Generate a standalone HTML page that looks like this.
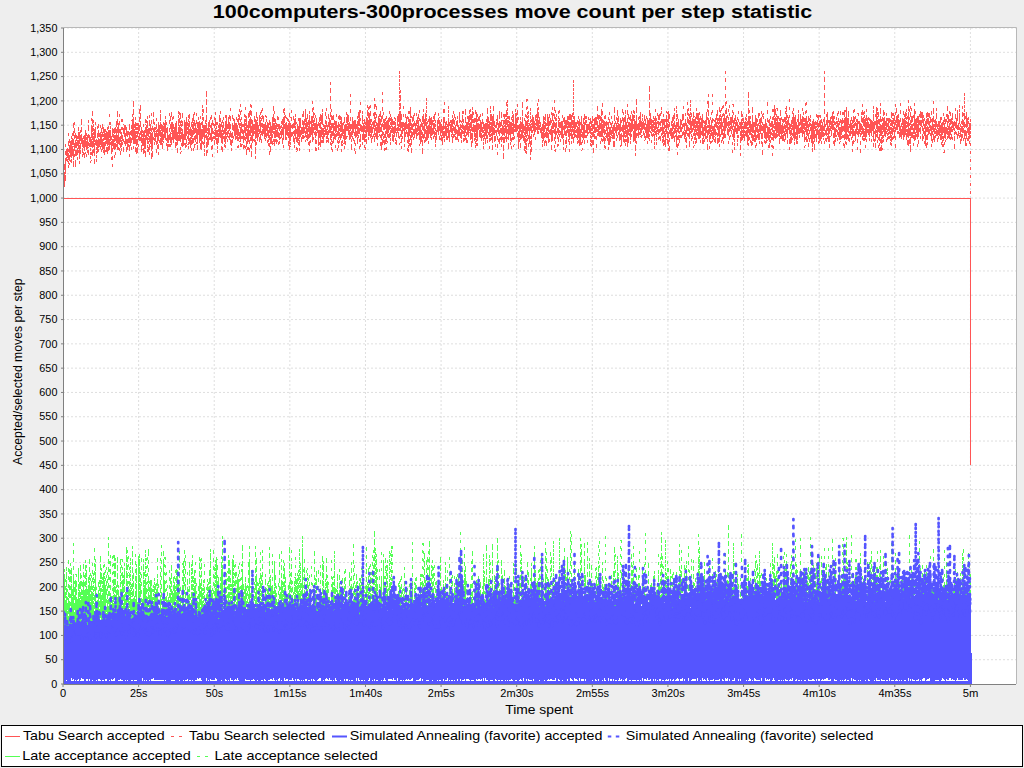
<!DOCTYPE html><html><head><meta charset="utf-8"><style>html,body{margin:0;padding:0;background:#eeeeee;width:1024px;height:768px;overflow:hidden}svg{display:block}text{font-family:"Liberation Sans",sans-serif}</style></head><body>
<svg width="1024" height="768" viewBox="0 0 1024 768">
<rect x="0" y="0" width="1024" height="768" fill="#eeeeee"/>
<text x="212.8" y="18.2" font-size="18.7" font-weight="bold" textLength="599.5" lengthAdjust="spacingAndGlyphs" fill="#000">100computers-300processes move count per step statistic</text>
<rect x="63" y="28" width="953" height="656" fill="#ffffff"/>
<path d="M63 659.70H1016 M63 635.41H1016 M63 611.11H1016 M63 586.81H1016 M63 562.52H1016 M63 538.22H1016 M63 513.93H1016 M63 489.63H1016 M63 465.33H1016 M63 441.04H1016 M63 416.74H1016 M63 392.44H1016 M63 368.15H1016 M63 343.85H1016 M63 319.56H1016 M63 295.26H1016 M63 270.96H1016 M63 246.67H1016 M63 222.37H1016 M63 198.07H1016 M63 173.78H1016 M63 149.48H1016 M63 125.19H1016 M63 100.89H1016 M63 76.59H1016 M63 52.30H1016 M63 28.00H1016 M138.62 28V684 M214.23 28V684 M289.85 28V684 M365.47 28V684 M441.08 28V684 M516.70 28V684 M592.32 28V684 M667.93 28V684 M743.55 28V684 M819.17 28V684 M894.78 28V684 M970.40 28V684" stroke="#c8c8c8" stroke-width="0.6" stroke-dasharray="2,2" fill="none"/>
<g clip-path="url(#clip)">
<path d="M63.0 630L63.0 565m0 0L63.0 646m0 0L63.0 611m0 0L63.0 628m0 0L63.1 645m0 0L63.1 640m0 0L63.1 604m0 0L63.1 627m0 0L63.1 569m0 0L63.1 625m0 0L63.2 614m0 0L63.2 628m0 0L63.2 639m0 0L63.2 614m0 0L63.2 627m0 0L63.3 582m0 0L63.3 622m0 0L63.3 648m0 0L63.3 611m0 0L63.4 592m0 0L63.4 634m0 0L63.4 634m0 0L63.4 587m0 0L63.4 630m0 0L63.5 641m0 0L63.5 584m0 0L63.5 579m0 0L63.5 642m0 0L63.6 643m0 0L63.6 647m0 0L63.6 628m0 0L63.7 628m0 0L63.7 633m0 0L63.7 632m0 0L63.7 627m0 0L63.8 636m0 0L63.8 620m0 0L63.8 599m0 0L63.8 603m0 0L63.9 602m0 0L63.9 603m0 0L63.9 609m0 0L64.0 642m0 0L64.0 604m0 0L64.0 638m0 0L64.0 577m0 0L64.1 583m0 0L64.1 607m0 0L64.1 637m0 0L64.2 643m0 0L64.2 569m0 0L64.2 606m0 0L64.3 649m0 0L64.3 580m0 0L64.3 607m0 0L64.3 588m0 0L64.4 621m0 0L64.4 645m0 0L64.4 637m0 0L64.5 641m0 0L64.5 635m0 0L64.5 597m0 0L64.6 606m0 0L64.6 630m0 0L64.6 609m0 0L64.7 618m0 0L64.7 619m0 0L64.7 574m0 0L64.8 597m0 0L64.8 604m0 0L64.8 598m0 0L64.9 636m0 0L64.9 601m0 0L64.9 616m0 0L65.0 627m0 0L65.0 638m0 0L65.0 634m0 0L65.1 632m0 0L65.1 602m0 0L65.1 643m0 0L65.2 636m0 0L65.2 632m0 0L65.2 632m0 0L65.3 640m0 0L65.3 633m0 0L65.4 646m0 0L65.4 625m0 0L65.4 613m0 0L65.5 592m0 0L65.5 642m0 0L65.5 636m0 0L65.6 624m0 0L65.6 645m0 0L65.6 579m0 0L65.7 630m0 0L65.7 608m0 0L65.7 639m0 0L65.8 634m0 0L65.8 625m0 0L65.9 633m0 0L65.9 634m0 0L65.9 628m0 0L66.0 639m0 0L66.0 638m0 0L66.0 634m0 0L66.1 617m0 0L66.1 567m0 0L66.2 614m0 0L66.2 638m0 0L66.2 629m0 0L66.3 621m0 0L66.3 623m0 0L66.4 625m0 0L66.4 634m0 0L66.4 628m0 0L66.5 618m0 0L66.5 567m0 0L66.5 572m0 0L66.6 644m0 0L66.6 613m0 0L66.7 598m0 0L66.7 628m0 0L66.7 635m0 0L66.8 583m0 0L66.8 614m0 0L66.9 619m0 0L66.9 568m0 0L66.9 635m0 0L67.0 589m0 0L67.0 629m0 0L67.1 626m0 0L67.1 607m0 0L67.1 603m0 0L67.2 604m0 0L67.2 630m0 0L67.3 640m0 0L67.3 632m0 0L67.3 641m0 0L67.4 641m0 0L67.4 634m0 0L67.5 631m0 0L67.5 604m0 0L67.6 622m0 0L67.6 635m0 0L67.6 619m0 0L67.7 638m0 0L67.7 614m0 0L67.8 605m0 0L67.8 616m0 0L67.8 647m0 0L67.9 614m0 0L67.9 641m0 0L68.0 621m0 0L68.0 637m0 0L68.1 616m0 0L68.1 643m0 0L68.1 630m0 0L68.2 612m0 0L68.2 584m0 0L68.3 617m0 0L68.3 624m0 0L68.4 621m0 0L68.4 596m0 0L68.4 560m0 0L68.5 594m0 0L68.5 635m0 0L68.6 609m0 0L68.6 610m0 0L68.7 641m0 0L68.7 622m0 0L68.7 629m0 0L68.8 598m0 0L68.8 608m0 0L68.9 601m0 0L68.9 630m0 0L69.0 637m0 0L69.0 619m0 0L69.1 613m0 0L69.1 640m0 0L69.1 618m0 0L69.2 630m0 0L69.2 569m0 0L69.3 607m0 0L69.3 639m0 0L69.4 633m0 0L69.4 629m0 0L69.5 646m0 0L69.5 641m0 0L69.5 627m0 0L69.6 605m0 0L69.6 616m0 0L69.7 632m0 0L69.7 628m0 0L69.8 607m0 0L69.8 624m0 0L69.9 613m0 0L69.9 632m0 0L69.9 614m0 0L70.0 632m0 0L70.0 630m0 0L70.1 579m0 0L70.1 570m0 0L70.2 649m0 0L70.2 610m0 0L70.3 611m0 0L70.3 613m0 0L70.4 633m0 0L70.4 631m0 0L70.5 643m0 0L70.5 626m0 0L70.5 632m0 0L70.6 621m0 0L70.6 563m0 0L70.7 622m0 0L70.7 609m0 0L70.8 636m0 0L70.8 612m0 0L70.9 647m0 0L70.9 636m0 0L71.0 634m0 0L71.0 639m0 0L71.1 568m0 0L71.1 616m0 0L71.2 600m0 0L71.2 648m0 0L71.3 598m0 0L71.3 634m0 0L71.3 633m0 0L71.4 595m0 0L71.4 589m0 0L71.5 628m0 0L71.5 614m0 0L71.6 619m0 0L71.6 631m0 0L71.7 571m0 0L71.7 617m0 0L71.8 627m0 0L71.8 626m0 0L71.9 614m0 0L71.9 618m0 0L72.0 628m0 0L72.0 640m0 0L72.1 637m0 0L72.1 640m0 0L72.2 634m0 0L72.2 613m0 0L72.3 604m0 0L72.3 619m0 0L72.4 593m0 0L72.4 622m0 0L72.5 618m0 0L72.5 635m0 0L72.6 614m0 0L72.6 621m0 0L72.7 603m0 0L72.7 629m0 0L72.8 641m0 0L72.8 610m0 0L72.9 589m0 0L72.9 604m0 0L73.0 599m0 0L73.0 577m0 0L73.1 627m0 0L73.1 607m0 0L73.2 596m0 0L73.2 616m0 0L73.3 631m0 0L73.3 639m0 0L73.4 622m0 0L73.4 585m0 0L73.5 632m0 0L73.5 586m0 0L73.6 615m0 0L73.6 615m0 0L73.7 634m0 0L73.7 626m0 0L73.8 646m0 0L73.8 638m0 0L73.9 641m0 0L73.9 543m0 0L74.0 606m0 0L74.0 613m0 0L74.1 613m0 0L74.1 623m0 0L74.2 642m0 0L74.2 626m0 0L74.3 617m0 0L74.3 636m0 0L74.4 634m0 0L74.4 632m0 0L74.5 608m0 0L74.5 588m0 0L74.6 625m0 0L74.6 616m0 0L74.7 629m0 0L74.7 625m0 0L74.8 613m0 0L74.8 642m0 0L74.9 606m0 0L74.9 581m0 0L75.0 585m0 0L75.0 582m0 0L75.1 623m0 0L75.1 630m0 0L75.2 585m0 0L75.2 607m0 0L75.3 614m0 0L75.3 628m0 0L75.4 628m0 0L75.4 604m0 0L75.5 617m0 0L75.6 600m0 0L75.6 633m0 0L75.7 637m0 0L75.7 602m0 0L75.8 627m0 0L75.8 629m0 0L75.9 648m0 0L75.9 615m0 0L76.0 574m0 0L76.0 640m0 0L76.1 639m0 0L76.1 646m0 0L76.2 601m0 0L76.2 629m0 0L76.3 611m0 0L76.3 581m0 0L76.4 613m0 0L76.4 612m0 0L76.5 626m0 0L76.6 606m0 0L76.6 628m0 0L76.7 637m0 0L76.7 629m0 0L76.8 626m0 0L76.8 627m0 0L76.9 622m0 0L76.9 627m0 0L77.0 637m0 0L77.0 608m0 0L77.1 620m0 0L77.1 600m0 0L77.2 626m0 0L77.3 637m0 0L77.3 636m0 0L77.4 611m0 0L77.4 599m0 0L77.5 628m0 0L77.5 622m0 0L77.6 608m0 0L77.6 631m0 0L77.7 602m0 0L77.7 608m0 0L77.8 610m0 0L77.8 599m0 0L77.9 633m0 0L78.0 635m0 0L78.0 643m0 0L78.1 629m0 0L78.1 604m0 0L78.2 621m0 0L78.2 607m0 0L78.3 587m0 0L78.3 573m0 0L78.4 579m0 0L78.4 601m0 0L78.5 632m0 0L78.6 594m0 0L78.6 638m0 0L78.7 568m0 0L78.7 626m0 0L78.8 630m0 0L78.8 622m0 0L78.9 631m0 0L78.9 608m0 0L79.0 641m0 0L79.1 582m0 0L79.1 638m0 0L79.2 637m0 0L79.2 585m0 0L79.3 628m0 0L79.3 634m0 0L79.4 612m0 0L79.4 603m0 0L79.5 613m0 0L79.6 633m0 0L79.6 632m0 0L79.7 639m0 0L79.7 624m0 0L79.8 625m0 0L79.8 644m0 0L79.9 633m0 0L79.9 601m0 0L80.0 622m0 0L80.1 618m0 0L80.1 612m0 0L80.2 634m0 0L80.2 622m0 0L80.3 640m0 0L80.3 604m0 0L80.4 609m0 0L80.5 619m0 0L80.5 565m0 0L80.6 586m0 0L80.6 624m0 0L80.7 612m0 0L80.7 635m0 0L80.8 596m0 0L80.8 612m0 0L80.9 626m0 0L81.0 642m0 0L81.0 623m0 0L81.1 640m0 0L81.1 616m0 0L81.2 575m0 0L81.2 632m0 0L81.3 639m0 0L81.4 631m0 0L81.4 591m0 0L81.5 611m0 0L81.5 613m0 0L81.6 599m0 0L81.6 638m0 0L81.7 633m0 0L81.8 592m0 0L81.8 625m0 0L81.9 592m0 0L81.9 632m0 0L82.0 602m0 0L82.0 582m0 0L82.1 613m0 0L82.2 634m0 0L82.2 602m0 0L82.3 625m0 0L82.3 608m0 0L82.4 607m0 0L82.5 617m0 0L82.5 637m0 0L82.6 602m0 0L82.6 617m0 0L82.7 633m0 0L82.7 623m0 0L82.8 590m0 0L82.9 596m0 0L82.9 627m0 0L83.0 585m0 0L83.0 640m0 0L83.1 625m0 0L83.1 617m0 0L83.2 614m0 0L83.3 618m0 0L83.3 620m0 0L83.4 581m0 0L83.4 627m0 0L83.5 618m0 0L83.6 625m0 0L83.6 564m0 0L83.7 639m0 0L83.7 623m0 0L83.8 598m0 0L83.9 615m0 0L83.9 625m0 0L84.0 614m0 0L84.0 607m0 0L84.1 623m0 0L84.1 615m0 0L84.2 601m0 0L84.3 616m0 0L84.3 625m0 0L84.4 575m0 0L84.4 639m0 0L84.5 599m0 0L84.6 593m0 0L84.6 604m0 0L84.7 630m0 0L84.7 642m0 0L84.8 643m0 0L84.9 617m0 0L84.9 639m0 0L85.0 613m0 0L85.0 597m0 0L85.1 619m0 0L85.2 638m0 0L85.2 616m0 0L85.3 560m0 0L85.3 614m0 0L85.4 616m0 0L85.5 615m0 0L85.5 631m0 0L85.6 633m0 0L85.6 617m0 0L85.7 614m0 0L85.8 595m0 0L85.8 605m0 0L85.9 636m0 0L85.9 635m0 0L86.0 584m0 0L86.1 605m0 0L86.1 639m0 0L86.2 582m0 0L86.2 622m0 0L86.3 624m0 0L86.4 570m0 0L86.4 615m0 0L86.5 632m0 0L86.5 620m0 0L86.6 600m0 0L86.7 574m0 0L86.7 629m0 0L86.8 565m0 0L86.8 608m0 0L86.9 626m0 0L87.0 614m0 0L87.0 599m0 0L87.1 625m0 0L87.1 596m0 0L87.2 624m0 0L87.3 628m0 0L87.3 637m0 0L87.4 628m0 0L87.4 599m0 0L87.5 611m0 0L87.6 589m0 0L87.6 630m0 0L87.7 612m0 0L87.8 630m0 0L87.8 613m0 0L87.9 628m0 0L87.9 634m0 0L88.0 632m0 0L88.1 643m0 0L88.1 630m0 0L88.2 606m0 0L88.2 596m0 0L88.3 625m0 0L88.4 608m0 0L88.4 628m0 0L88.5 634m0 0L88.5 631m0 0L88.6 577m0 0L88.7 624m0 0L88.7 644m0 0L88.8 591m0 0L88.9 633m0 0L88.9 628m0 0L89.0 621m0 0L89.0 641m0 0L89.1 626m0 0L89.2 608m0 0L89.2 575m0 0L89.3 633m0 0L89.4 634m0 0L89.4 631m0 0L89.5 619m0 0L89.5 614m0 0L89.6 613m0 0L89.7 590m0 0L89.7 620m0 0L89.8 605m0 0L89.9 588m0 0L89.9 559m0 0L90.0 628m0 0L90.0 615m0 0L90.1 628m0 0L90.2 630m0 0L90.2 619m0 0L90.3 614m0 0L90.3 610m0 0L90.4 637m0 0L90.5 626m0 0L90.5 629m0 0L90.6 625m0 0L90.7 600m0 0L90.7 588m0 0L90.8 617m0 0L90.9 629m0 0L90.9 573m0 0L91.0 576m0 0L91.0 575m0 0L91.1 623m0 0L91.2 614m0 0L91.2 634m0 0L91.3 636m0 0L91.4 635m0 0L91.4 623m0 0L91.5 628m0 0L91.5 596m0 0L91.6 622m0 0L91.7 581m0 0L91.7 586m0 0L91.8 611m0 0L91.9 624m0 0L91.9 594m0 0L92.0 602m0 0L92.1 618m0 0L92.1 633m0 0L92.2 600m0 0L92.2 598m0 0L92.3 604m0 0L92.4 637m0 0L92.4 608m0 0L92.5 621m0 0L92.6 563m0 0L92.6 635m0 0L92.7 612m0 0L92.8 602m0 0L92.8 592m0 0L92.9 626m0 0L92.9 616m0 0L93.0 634m0 0L93.1 616m0 0L93.1 638m0 0L93.2 607m0 0L93.3 608m0 0L93.3 636m0 0L93.4 573m0 0L93.5 628m0 0L93.5 642m0 0L93.6 624m0 0L93.6 626m0 0L93.7 622m0 0L93.8 613m0 0L93.8 625m0 0L93.9 623m0 0L94.0 616m0 0L94.0 642m0 0L94.1 629m0 0L94.2 623m0 0L94.2 605m0 0L94.3 634m0 0L94.4 639m0 0L94.4 560m0 0L94.5 548m0 0L94.6 563m0 0L94.6 620m0 0L94.7 618m0 0L94.7 629m0 0L94.8 640m0 0L94.9 631m0 0L94.9 625m0 0L95.0 594m0 0L95.1 612m0 0L95.1 572m0 0L95.2 626m0 0L95.3 591m0 0L95.3 613m0 0L95.4 630m0 0L95.5 611m0 0L95.5 635m0 0L95.6 565m0 0L95.7 583m0 0L95.7 583m0 0L95.8 559m0 0L95.9 607m0 0L95.9 622m0 0L96.0 612m0 0L96.0 587m0 0L96.1 623m0 0L96.2 619m0 0L96.2 608m0 0L96.3 645m0 0L96.4 607m0 0L96.4 625m0 0L96.5 625m0 0L96.6 636m0 0L96.6 613m0 0L96.7 619m0 0L96.8 636m0 0L96.8 609m0 0L96.9 627m0 0L97.0 628m0 0L97.0 635m0 0L97.1 595m0 0L97.2 624m0 0L97.2 628m0 0L97.3 607m0 0L97.4 637m0 0L97.4 622m0 0L97.5 639m0 0L97.6 639m0 0L97.6 623m0 0L97.7 630m0 0L97.8 634m0 0L97.8 610m0 0L97.9 622m0 0L98.0 630m0 0L98.0 633m0 0L98.1 632m0 0L98.2 601m0 0L98.2 619m0 0L98.3 582m0 0L98.4 618m0 0L98.4 608m0 0L98.5 622m0 0L98.6 616m0 0L98.6 614m0 0L98.7 594m0 0L98.8 601m0 0L98.8 622m0 0L98.9 640m0 0L99.0 617m0 0L99.0 615m0 0L99.1 638m0 0L99.2 619m0 0L99.2 629m0 0L99.3 626m0 0L99.4 620m0 0L99.4 586m0 0L99.5 621m0 0L99.6 584m0 0L99.6 580m0 0L99.7 616m0 0L99.8 619m0 0L99.8 630m0 0L99.9 638m0 0L100.0 595m0 0L100.0 604m0 0L100.1 624m0 0L100.2 622m0 0L100.2 640m0 0L100.3 595m0 0L100.4 613m0 0L100.4 633m0 0L100.5 598m0 0L100.6 626m0 0L100.6 556m0 0L100.7 614m0 0L100.8 641m0 0L100.8 607m0 0L100.9 576m0 0L101.0 618m0 0L101.0 633m0 0L101.1 595m0 0L101.2 632m0 0L101.2 568m0 0L101.3 580m0 0L101.4 599m0 0L101.4 628m0 0L101.5 600m0 0L101.6 639m0 0L101.6 608m0 0L101.7 638m0 0L101.8 612m0 0L101.8 608m0 0L101.9 619m0 0L102.0 620m0 0L102.0 621m0 0L102.1 594m0 0L102.2 610m0 0L102.3 641m0 0L102.3 629m0 0L102.4 623m0 0L102.5 605m0 0L102.5 624m0 0L102.6 577m0 0L102.7 644m0 0L102.7 626m0 0L102.8 646m0 0L102.9 618m0 0L102.9 643m0 0L103.0 606m0 0L103.1 638m0 0L103.1 617m0 0L103.2 645m0 0L103.3 623m0 0L103.3 612m0 0L103.4 615m0 0L103.5 629m0 0L103.6 574m0 0L103.6 595m0 0L103.7 573m0 0L103.8 624m0 0L103.8 592m0 0L103.9 640m0 0L104.0 564m0 0L104.0 576m0 0L104.1 622m0 0L104.2 583m0 0L104.2 615m0 0L104.3 611m0 0L104.4 580m0 0L104.4 605m0 0L104.5 622m0 0L104.6 615m0 0L104.7 631m0 0L104.7 604m0 0L104.8 607m0 0L104.9 639m0 0L104.9 615m0 0L105.0 620m0 0L105.1 605m0 0L105.1 604m0 0L105.2 599m0 0L105.3 637m0 0L105.3 627m0 0L105.4 631m0 0L105.5 585m0 0L105.6 624m0 0L105.6 623m0 0L105.7 610m0 0L105.8 586m0 0L105.8 622m0 0L105.9 621m0 0L106.0 567m0 0L106.0 638m0 0L106.1 635m0 0L106.2 592m0 0L106.2 575m0 0L106.3 628m0 0L106.4 628m0 0L106.5 620m0 0L106.5 609m0 0L106.6 607m0 0L106.7 630m0 0L106.7 613m0 0L106.8 637m0 0L106.9 631m0 0L106.9 627m0 0L107.0 623m0 0L107.1 572m0 0L107.2 579m0 0L107.2 625m0 0L107.3 630m0 0L107.4 615m0 0L107.4 616m0 0L107.5 607m0 0L107.6 619m0 0L107.6 595m0 0L107.7 623m0 0L107.8 586m0 0L107.9 629m0 0L107.9 637m0 0L108.0 625m0 0L108.1 599m0 0L108.1 613m0 0L108.2 642m0 0L108.3 553m0 0L108.3 626m0 0L108.4 624m0 0L108.5 627m0 0L108.6 637m0 0L108.6 607m0 0L108.7 626m0 0L108.8 537m0 0L108.8 610m0 0L108.9 593m0 0L109.0 591m0 0L109.0 626m0 0L109.1 630m0 0L109.2 599m0 0L109.3 624m0 0L109.3 614m0 0L109.4 606m0 0L109.5 632m0 0L109.5 607m0 0L109.6 627m0 0L109.7 596m0 0L109.8 561m0 0L109.8 610m0 0L109.9 598m0 0L110.0 602m0 0L110.0 611m0 0L110.1 618m0 0L110.2 629m0 0L110.3 612m0 0L110.3 555m0 0L110.4 605m0 0L110.5 620m0 0L110.5 619m0 0L110.6 620m0 0L110.7 606m0 0L110.8 593m0 0L110.8 612m0 0L110.9 624m0 0L111.0 624m0 0L111.0 630m0 0L111.1 611m0 0L111.2 620m0 0L111.2 610m0 0L111.3 617m0 0L111.4 607m0 0L111.5 611m0 0L111.5 596m0 0L111.6 632m0 0L111.7 639m0 0L111.7 600m0 0L111.8 615m0 0L111.9 609m0 0L112.0 620m0 0L112.0 622m0 0L112.1 607m0 0L112.2 635m0 0L112.3 596m0 0L112.3 631m0 0L112.4 623m0 0L112.5 621m0 0L112.5 604m0 0L112.6 623m0 0L112.7 596m0 0L112.8 614m0 0L112.8 601m0 0L112.9 623m0 0L113.0 555m0 0L113.0 618m0 0L113.1 611m0 0L113.2 644m0 0L113.3 613m0 0L113.3 613m0 0L113.4 637m0 0L113.5 631m0 0L113.5 607m0 0L113.6 598m0 0L113.7 614m0 0L113.8 625m0 0L113.8 642m0 0L113.9 582m0 0L114.0 614m0 0L114.1 604m0 0L114.1 613m0 0L114.2 585m0 0L114.3 555m0 0L114.3 581m0 0L114.4 624m0 0L114.5 621m0 0L114.6 628m0 0L114.6 624m0 0L114.7 588m0 0L114.8 599m0 0L114.8 595m0 0L114.9 620m0 0L115.0 632m0 0L115.1 622m0 0L115.1 558m0 0L115.2 605m0 0L115.3 599m0 0L115.4 621m0 0L115.4 603m0 0L115.5 629m0 0L115.6 627m0 0L115.6 608m0 0L115.7 609m0 0L115.8 571m0 0L115.9 610m0 0L115.9 620m0 0L116.0 636m0 0L116.1 625m0 0L116.2 595m0 0L116.2 622m0 0L116.3 624m0 0L116.4 609m0 0L116.4 585m0 0L116.5 638m0 0L116.6 621m0 0L116.7 630m0 0L116.7 610m0 0L116.8 634m0 0L116.9 611m0 0L117.0 608m0 0L117.0 611m0 0L117.1 631m0 0L117.2 605m0 0L117.3 616m0 0L117.3 634m0 0L117.4 608m0 0L117.5 620m0 0L117.5 603m0 0L117.6 610m0 0L117.7 632m0 0L117.8 623m0 0L117.8 619m0 0L117.9 557m0 0L118.0 625m0 0L118.1 617m0 0L118.1 585m0 0L118.2 620m0 0L118.3 634m0 0L118.4 630m0 0L118.4 591m0 0L118.5 634m0 0L118.6 595m0 0L118.7 617m0 0L118.7 625m0 0L118.8 612m0 0L118.9 629m0 0L118.9 620m0 0L119.0 615m0 0L119.1 596m0 0L119.2 630m0 0L119.2 633m0 0L119.3 602m0 0L119.4 626m0 0L119.5 631m0 0L119.5 633m0 0L119.6 633m0 0L119.7 609m0 0L119.8 598m0 0L119.8 609m0 0L119.9 622m0 0L120.0 612m0 0L120.1 635m0 0L120.1 626m0 0L120.2 559m0 0L120.3 602m0 0L120.4 562m0 0L120.4 584m0 0L120.5 602m0 0L120.6 611m0 0L120.7 620m0 0L120.7 619m0 0L120.8 624m0 0L120.9 582m0 0L120.9 639m0 0L121.0 598m0 0L121.1 615m0 0L121.2 640m0 0L121.2 628m0 0L121.3 627m0 0L121.4 617m0 0L121.5 608m0 0L121.5 615m0 0L121.6 602m0 0L121.7 633m0 0L121.8 640m0 0L121.8 617m0 0L121.9 624m0 0L122.0 559m0 0L122.1 641m0 0L122.1 609m0 0L122.2 586m0 0L122.3 621m0 0L122.4 613m0 0L122.4 608m0 0L122.5 633m0 0L122.6 572m0 0L122.7 601m0 0L122.7 635m0 0L122.8 594m0 0L122.9 622m0 0L123.0 625m0 0L123.0 579m0 0L123.1 622m0 0L123.2 622m0 0L123.3 627m0 0L123.3 614m0 0L123.4 640m0 0L123.5 617m0 0L123.6 631m0 0L123.6 615m0 0L123.7 575m0 0L123.8 587m0 0L123.9 612m0 0L123.9 623m0 0L124.0 602m0 0L124.1 623m0 0L124.2 630m0 0L124.2 639m0 0L124.3 579m0 0L124.4 563m0 0L124.5 605m0 0L124.5 611m0 0L124.6 598m0 0L124.7 616m0 0L124.8 620m0 0L124.8 637m0 0L124.9 573m0 0L125.0 594m0 0L125.1 617m0 0L125.2 612m0 0L125.2 625m0 0L125.3 600m0 0L125.4 628m0 0L125.5 614m0 0L125.5 613m0 0L125.6 592m0 0L125.7 615m0 0L125.8 609m0 0L125.8 626m0 0L125.9 629m0 0L126.0 600m0 0L126.1 591m0 0L126.1 610m0 0L126.2 593m0 0L126.3 627m0 0L126.4 642m0 0L126.4 547m0 0L126.5 616m0 0L126.6 548m0 0L126.7 619m0 0L126.7 632m0 0L126.8 633m0 0L126.9 603m0 0L127.0 604m0 0L127.0 604m0 0L127.1 628m0 0L127.2 603m0 0L127.3 608m0 0L127.4 550m0 0L127.4 590m0 0L127.5 609m0 0L127.6 623m0 0L127.7 613m0 0L127.7 608m0 0L127.8 606m0 0L127.9 634m0 0L128.0 556m0 0L128.0 573m0 0L128.1 586m0 0L128.2 615m0 0L128.3 621m0 0L128.3 634m0 0L128.4 626m0 0L128.5 618m0 0L128.6 590m0 0L128.7 590m0 0L128.7 635m0 0L128.8 633m0 0L128.9 609m0 0L129.0 623m0 0L129.0 630m0 0L129.1 601m0 0L129.2 612m0 0L129.3 618m0 0L129.3 617m0 0L129.4 610m0 0L129.5 638m0 0L129.6 634m0 0L129.7 618m0 0L129.7 616m0 0L129.8 567m0 0L129.9 593m0 0L130.0 613m0 0L130.0 558m0 0L130.1 620m0 0L130.2 641m0 0L130.3 636m0 0L130.3 609m0 0L130.4 620m0 0L130.5 598m0 0L130.6 592m0 0L130.7 622m0 0L130.7 633m0 0L130.8 605m0 0L130.9 611m0 0L131.0 609m0 0L131.0 599m0 0L131.1 584m0 0L131.2 619m0 0L131.3 609m0 0L131.3 615m0 0L131.4 627m0 0L131.5 599m0 0L131.6 628m0 0L131.7 622m0 0L131.7 604m0 0L131.8 601m0 0L131.9 607m0 0L132.0 599m0 0L132.0 642m0 0L132.1 623m0 0L132.2 603m0 0L132.3 623m0 0L132.4 615m0 0L132.4 603m0 0L132.5 619m0 0L132.6 618m0 0L132.7 630m0 0L132.7 610m0 0L132.8 546m0 0L132.9 612m0 0L133.0 619m0 0L133.1 611m0 0L133.1 628m0 0L133.2 619m0 0L133.3 573m0 0L133.4 593m0 0L133.4 626m0 0L133.5 617m0 0L133.6 593m0 0L133.7 622m0 0L133.8 639m0 0L133.8 629m0 0L133.9 623m0 0L134.0 618m0 0L134.1 606m0 0L134.1 637m0 0L134.2 633m0 0L134.3 633m0 0L134.4 622m0 0L134.5 635m0 0L134.5 642m0 0L134.6 596m0 0L134.7 637m0 0L134.8 597m0 0L134.8 617m0 0L134.9 608m0 0L135.0 629m0 0L135.1 621m0 0L135.2 628m0 0L135.2 554m0 0L135.3 622m0 0L135.4 642m0 0L135.5 604m0 0L135.6 604m0 0L135.6 628m0 0L135.7 610m0 0L135.8 577m0 0L135.9 629m0 0L135.9 635m0 0L136.0 569m0 0L136.1 605m0 0L136.2 589m0 0L136.3 627m0 0L136.3 623m0 0L136.4 618m0 0L136.5 617m0 0L136.6 591m0 0L136.7 622m0 0L136.7 627m0 0L136.8 564m0 0L136.9 636m0 0L137.0 619m0 0L137.0 622m0 0L137.1 617m0 0L137.2 621m0 0L137.3 609m0 0L137.4 617m0 0L137.4 604m0 0L137.5 633m0 0L137.6 617m0 0L137.7 627m0 0L137.8 614m0 0L137.8 602m0 0L137.9 631m0 0L138.0 641m0 0L138.1 558m0 0L138.1 603m0 0L138.2 589m0 0L138.3 627m0 0L138.4 562m0 0L138.5 595m0 0L138.5 619m0 0L138.6 634m0 0L138.7 610m0 0L138.8 558m0 0L138.9 626m0 0L138.9 623m0 0L139.0 554m0 0L139.1 623m0 0L139.2 618m0 0L139.3 621m0 0L139.3 577m0 0L139.4 615m0 0L139.5 632m0 0L139.6 603m0 0L139.7 571m0 0L139.7 634m0 0L139.8 555m0 0L139.9 604m0 0L140.0 584m0 0L140.1 633m0 0L140.1 637m0 0L140.2 625m0 0L140.3 629m0 0L140.4 572m0 0L140.4 591m0 0L140.5 614m0 0L140.6 629m0 0L140.7 627m0 0L140.8 628m0 0L140.8 618m0 0L140.9 594m0 0L141.0 626m0 0L141.1 630m0 0L141.2 603m0 0L141.2 632m0 0L141.3 621m0 0L141.4 612m0 0L141.5 633m0 0L141.6 618m0 0L141.6 558m0 0L141.7 611m0 0L141.8 608m0 0L141.9 607m0 0L142.0 606m0 0L142.0 623m0 0L142.1 610m0 0L142.2 624m0 0L142.3 633m0 0L142.4 627m0 0L142.4 603m0 0L142.5 635m0 0L142.6 599m0 0L142.7 619m0 0L142.8 613m0 0L142.8 608m0 0L142.9 615m0 0L143.0 619m0 0L143.1 610m0 0L143.2 623m0 0L143.2 642m0 0L143.3 568m0 0L143.4 588m0 0L143.5 607m0 0L143.6 639m0 0L143.6 599m0 0L143.7 559m0 0L143.8 604m0 0L143.9 594m0 0L144.0 621m0 0L144.1 614m0 0L144.1 584m0 0L144.2 572m0 0L144.3 611m0 0L144.4 623m0 0L144.5 595m0 0L144.5 587m0 0L144.6 603m0 0L144.7 627m0 0L144.8 597m0 0L144.9 618m0 0L144.9 585m0 0L145.0 610m0 0L145.1 579m0 0L145.2 616m0 0L145.3 629m0 0L145.3 637m0 0L145.4 624m0 0L145.5 603m0 0L145.6 588m0 0L145.7 605m0 0L145.7 550m0 0L145.8 608m0 0L145.9 616m0 0L146.0 630m0 0L146.1 611m0 0L146.1 616m0 0L146.2 588m0 0L146.3 629m0 0L146.4 616m0 0L146.5 622m0 0L146.6 607m0 0L146.6 591m0 0L146.7 599m0 0L146.8 608m0 0L146.9 601m0 0L147.0 557m0 0L147.0 616m0 0L147.1 609m0 0L147.2 608m0 0L147.3 618m0 0L147.4 635m0 0L147.4 623m0 0L147.5 600m0 0L147.6 614m0 0L147.7 603m0 0L147.8 603m0 0L147.9 605m0 0L147.9 616m0 0L148.0 628m0 0L148.1 636m0 0L148.2 549m0 0L148.3 552m0 0L148.3 613m0 0L148.4 625m0 0L148.5 612m0 0L148.6 580m0 0L148.7 632m0 0L148.7 611m0 0L148.8 608m0 0L148.9 609m0 0L149.0 625m0 0L149.1 624m0 0L149.2 642m0 0L149.2 600m0 0L149.3 609m0 0L149.4 601m0 0L149.5 598m0 0L149.6 581m0 0L149.6 622m0 0L149.7 637m0 0L149.8 606m0 0L149.9 628m0 0L150.0 629m0 0L150.1 613m0 0L150.1 617m0 0L150.2 580m0 0L150.3 627m0 0L150.4 626m0 0L150.5 624m0 0L150.5 632m0 0L150.6 594m0 0L150.7 626m0 0L150.8 620m0 0L150.9 580m0 0L151.0 632m0 0L151.0 595m0 0L151.1 596m0 0L151.2 599m0 0L151.3 627m0 0L151.4 610m0 0L151.4 580m0 0L151.5 613m0 0L151.6 617m0 0L151.7 615m0 0L151.8 619m0 0L151.9 624m0 0L151.9 620m0 0L152.0 589m0 0L152.1 612m0 0L152.2 616m0 0L152.3 613m0 0L152.3 625m0 0L152.4 617m0 0L152.5 598m0 0L152.6 601m0 0L152.7 631m0 0L152.8 631m0 0L152.8 611m0 0L152.9 618m0 0L153.0 603m0 0L153.1 624m0 0L153.2 630m0 0L153.3 627m0 0L153.3 620m0 0L153.4 630m0 0L153.5 614m0 0L153.6 603m0 0L153.7 617m0 0L153.7 617m0 0L153.8 616m0 0L153.9 585m0 0L154.0 622m0 0L154.1 610m0 0L154.2 625m0 0L154.2 629m0 0L154.3 628m0 0L154.4 600m0 0L154.5 622m0 0L154.6 587m0 0L154.7 612m0 0L154.7 625m0 0L154.8 578m0 0L154.9 586m0 0L155.0 605m0 0L155.1 629m0 0L155.2 611m0 0L155.2 625m0 0L155.3 614m0 0L155.4 624m0 0L155.5 598m0 0L155.6 584m0 0L155.7 643m0 0L155.7 621m0 0L155.8 626m0 0L155.9 618m0 0L156.0 631m0 0L156.1 627m0 0L156.2 593m0 0L156.2 611m0 0L156.3 613m0 0L156.4 616m0 0L156.5 583m0 0L156.6 619m0 0L156.6 614m0 0L156.7 629m0 0L156.8 637m0 0L156.9 616m0 0L157.0 609m0 0L157.1 626m0 0L157.1 620m0 0L157.2 616m0 0L157.3 574m0 0L157.4 618m0 0L157.5 596m0 0L157.6 611m0 0L157.6 618m0 0L157.7 558m0 0L157.8 579m0 0L157.9 607m0 0L158.0 585m0 0L158.1 618m0 0L158.1 615m0 0L158.2 618m0 0L158.3 606m0 0L158.4 614m0 0L158.5 620m0 0L158.6 584m0 0L158.7 609m0 0L158.7 630m0 0L158.8 610m0 0L158.9 641m0 0L159.0 620m0 0L159.1 636m0 0L159.2 602m0 0L159.2 613m0 0L159.3 611m0 0L159.4 624m0 0L159.5 618m0 0L159.6 630m0 0L159.7 611m0 0L159.7 619m0 0L159.8 613m0 0L159.9 601m0 0L160.0 601m0 0L160.1 625m0 0L160.2 558m0 0L160.2 618m0 0L160.3 601m0 0L160.4 572m0 0L160.5 595m0 0L160.6 606m0 0L160.7 596m0 0L160.7 616m0 0L160.8 630m0 0L160.9 623m0 0L161.0 599m0 0L161.1 602m0 0L161.2 594m0 0L161.2 615m0 0L161.3 630m0 0L161.4 637m0 0L161.5 596m0 0L161.6 586m0 0L161.7 594m0 0L161.8 635m0 0L161.8 545m0 0L161.9 601m0 0L162.0 622m0 0L162.1 612m0 0L162.2 620m0 0L162.3 630m0 0L162.3 607m0 0L162.4 613m0 0L162.5 597m0 0L162.6 608m0 0L162.7 636m0 0L162.8 606m0 0L162.8 630m0 0L162.9 611m0 0L163.0 624m0 0L163.1 596m0 0L163.2 551m0 0L163.3 613m0 0L163.4 564m0 0L163.4 620m0 0L163.5 605m0 0L163.6 596m0 0L163.7 633m0 0L163.8 620m0 0L163.9 612m0 0L163.9 614m0 0L164.0 639m0 0L164.1 624m0 0L164.2 604m0 0L164.3 601m0 0L164.4 613m0 0L164.5 583m0 0L164.5 628m0 0L164.6 621m0 0L164.7 591m0 0L164.8 623m0 0L164.9 607m0 0L165.0 557m0 0L165.0 625m0 0L165.1 614m0 0L165.2 619m0 0L165.3 615m0 0L165.4 625m0 0L165.5 598m0 0L165.6 610m0 0L165.6 616m0 0L165.7 602m0 0L165.8 608m0 0L165.9 617m0 0L166.0 621m0 0L166.1 618m0 0L166.2 623m0 0L166.2 632m0 0L166.3 614m0 0L166.4 599m0 0L166.5 611m0 0L166.6 626m0 0L166.7 599m0 0L166.7 572m0 0L166.8 622m0 0L166.9 614m0 0L167.0 619m0 0L167.1 585m0 0L167.2 624m0 0L167.3 623m0 0L167.3 620m0 0L167.4 642m0 0L167.5 634m0 0L167.6 632m0 0L167.7 616m0 0L167.8 615m0 0L167.9 619m0 0L167.9 612m0 0L168.0 622m0 0L168.1 603m0 0L168.2 632m0 0L168.3 600m0 0L168.4 609m0 0L168.5 644m0 0L168.5 620m0 0L168.6 615m0 0L168.7 597m0 0L168.8 598m0 0L168.9 631m0 0L169.0 629m0 0L169.1 631m0 0L169.1 622m0 0L169.2 631m0 0L169.3 624m0 0L169.4 626m0 0L169.5 629m0 0L169.6 595m0 0L169.7 627m0 0L169.7 596m0 0L169.8 570m0 0L169.9 632m0 0L170.0 622m0 0L170.1 613m0 0L170.2 611m0 0L170.3 632m0 0L170.3 578m0 0L170.4 627m0 0L170.5 599m0 0L170.6 626m0 0L170.7 628m0 0L170.8 621m0 0L170.9 605m0 0L170.9 593m0 0L171.0 626m0 0L171.1 624m0 0L171.2 626m0 0L171.3 609m0 0L171.4 609m0 0L171.5 619m0 0L171.5 635m0 0L171.6 565m0 0L171.7 617m0 0L171.8 610m0 0L171.9 584m0 0L172.0 623m0 0L172.1 592m0 0L172.1 596m0 0L172.2 615m0 0L172.3 599m0 0L172.4 615m0 0L172.5 591m0 0L172.6 613m0 0L172.7 593m0 0L172.7 613m0 0L172.8 616m0 0L172.9 603m0 0L173.0 611m0 0L173.1 618m0 0L173.2 598m0 0L173.3 577m0 0L173.4 617m0 0L173.4 608m0 0L173.5 633m0 0L173.6 602m0 0L173.7 620m0 0L173.8 594m0 0L173.9 599m0 0L174.0 576m0 0L174.0 614m0 0L174.1 582m0 0L174.2 637m0 0L174.3 637m0 0L174.4 624m0 0L174.5 593m0 0L174.6 613m0 0L174.7 629m0 0L174.7 603m0 0L174.8 613m0 0L174.9 621m0 0L175.0 586m0 0L175.1 593m0 0L175.2 597m0 0L175.3 616m0 0L175.3 626m0 0L175.4 615m0 0L175.5 600m0 0L175.6 590m0 0L175.7 632m0 0L175.8 641m0 0L175.9 629m0 0L176.0 569m0 0L176.0 576m0 0L176.1 625m0 0L176.2 640m0 0L176.3 618m0 0L176.4 619m0 0L176.5 621m0 0L176.6 572m0 0L176.6 630m0 0L176.7 628m0 0L176.8 629m0 0L176.9 637m0 0L177.0 570m0 0L177.1 612m0 0L177.2 602m0 0L177.3 572m0 0L177.3 608m0 0L177.4 593m0 0L177.5 585m0 0L177.6 619m0 0L177.7 575m0 0L177.8 611m0 0L177.9 586m0 0L178.0 585m0 0L178.0 622m0 0L178.1 586m0 0L178.2 614m0 0L178.3 621m0 0L178.4 628m0 0L178.5 607m0 0L178.6 612m0 0L178.7 623m0 0L178.7 615m0 0L178.8 624m0 0L178.9 582m0 0L179.0 619m0 0L179.1 615m0 0L179.2 551m0 0L179.3 603m0 0L179.3 604m0 0L179.4 630m0 0L179.5 618m0 0L179.6 597m0 0L179.7 631m0 0L179.8 575m0 0L179.9 622m0 0L180.0 643m0 0L180.0 595m0 0L180.1 599m0 0L180.2 615m0 0L180.3 607m0 0L180.4 587m0 0L180.5 640m0 0L180.6 604m0 0L180.7 617m0 0L180.7 631m0 0L180.8 608m0 0L180.9 635m0 0L181.0 610m0 0L181.1 632m0 0L181.2 616m0 0L181.3 621m0 0L181.4 633m0 0L181.5 611m0 0L181.5 597m0 0L181.6 632m0 0L181.7 599m0 0L181.8 620m0 0L181.9 610m0 0L182.0 612m0 0L182.1 570m0 0L182.2 609m0 0L182.2 624m0 0L182.3 590m0 0L182.4 634m0 0L182.5 592m0 0L182.6 589m0 0L182.7 608m0 0L182.8 613m0 0L182.9 577m0 0L182.9 613m0 0L183.0 563m0 0L183.1 594m0 0L183.2 608m0 0L183.3 561m0 0L183.4 611m0 0L183.5 586m0 0L183.6 597m0 0L183.7 625m0 0L183.7 611m0 0L183.8 623m0 0L183.9 581m0 0L184.0 618m0 0L184.1 623m0 0L184.2 626m0 0L184.3 617m0 0L184.4 599m0 0L184.4 618m0 0L184.5 550m0 0L184.6 631m0 0L184.7 602m0 0L184.8 591m0 0L184.9 631m0 0L185.0 614m0 0L185.1 625m0 0L185.2 610m0 0L185.2 612m0 0L185.3 616m0 0L185.4 634m0 0L185.5 623m0 0L185.6 620m0 0L185.7 555m0 0L185.8 606m0 0L185.9 584m0 0L185.9 605m0 0L186.0 620m0 0L186.1 629m0 0L186.2 633m0 0L186.3 632m0 0L186.4 620m0 0L186.5 614m0 0L186.6 629m0 0L186.7 618m0 0L186.7 635m0 0L186.8 601m0 0L186.9 620m0 0L187.0 641m0 0L187.1 580m0 0L187.2 614m0 0L187.3 572m0 0L187.4 623m0 0L187.5 629m0 0L187.5 620m0 0L187.6 618m0 0L187.7 607m0 0L187.8 624m0 0L187.9 625m0 0L188.0 614m0 0L188.1 628m0 0L188.2 595m0 0L188.3 624m0 0L188.3 589m0 0L188.4 619m0 0L188.5 607m0 0L188.6 620m0 0L188.7 616m0 0L188.8 619m0 0L188.9 620m0 0L189.0 614m0 0L189.1 632m0 0L189.1 562m0 0L189.2 625m0 0L189.3 613m0 0L189.4 601m0 0L189.5 625m0 0L189.6 614m0 0L189.7 619m0 0L189.8 635m0 0L189.9 639m0 0L189.9 609m0 0L190.0 605m0 0L190.1 636m0 0L190.2 629m0 0L190.3 622m0 0L190.4 597m0 0L190.5 629m0 0L190.6 635m0 0L190.7 615m0 0L190.8 623m0 0L190.8 613m0 0L190.9 610m0 0L191.0 627m0 0L191.1 564m0 0L191.2 587m0 0L191.3 631m0 0L191.4 613m0 0L191.5 614m0 0L191.6 595m0 0L191.6 609m0 0L191.7 632m0 0L191.8 625m0 0L191.9 617m0 0L192.0 611m0 0L192.1 555m0 0L192.2 627m0 0L192.3 609m0 0L192.4 615m0 0L192.5 621m0 0L192.5 635m0 0L192.6 624m0 0L192.7 603m0 0L192.8 587m0 0L192.9 584m0 0L193.0 616m0 0L193.1 616m0 0L193.2 623m0 0L193.3 576m0 0L193.3 635m0 0L193.4 608m0 0L193.5 641m0 0L193.6 628m0 0L193.7 614m0 0L193.8 628m0 0L193.9 621m0 0L194.0 606m0 0L194.1 620m0 0L194.2 586m0 0L194.2 623m0 0L194.3 618m0 0L194.4 588m0 0L194.5 616m0 0L194.6 570m0 0L194.7 607m0 0L194.8 596m0 0L194.9 587m0 0L195.0 610m0 0L195.1 589m0 0L195.1 600m0 0L195.2 578m0 0L195.3 617m0 0L195.4 613m0 0L195.5 562m0 0L195.6 622m0 0L195.7 599m0 0L195.8 616m0 0L195.9 604m0 0L196.0 583m0 0L196.0 605m0 0L196.1 622m0 0L196.2 605m0 0L196.3 609m0 0L196.4 607m0 0L196.5 621m0 0L196.6 629m0 0L196.7 616m0 0L196.8 603m0 0L196.9 614m0 0L196.9 602m0 0L197.0 637m0 0L197.1 622m0 0L197.2 628m0 0L197.3 619m0 0L197.4 628m0 0L197.5 632m0 0L197.6 604m0 0L197.7 596m0 0L197.8 614m0 0L197.9 605m0 0L197.9 612m0 0L198.0 607m0 0L198.1 638m0 0L198.2 626m0 0L198.3 608m0 0L198.4 605m0 0L198.5 606m0 0L198.6 612m0 0L198.7 627m0 0L198.8 623m0 0L198.8 631m0 0L198.9 586m0 0L199.0 612m0 0L199.1 582m0 0L199.2 557m0 0L199.3 609m0 0L199.4 581m0 0L199.5 622m0 0L199.6 568m0 0L199.7 566m0 0L199.8 622m0 0L199.8 617m0 0L199.9 558m0 0L200.0 634m0 0L200.1 559m0 0L200.2 624m0 0L200.3 622m0 0L200.4 630m0 0L200.5 610m0 0L200.6 631m0 0L200.7 630m0 0L200.8 621m0 0L200.8 583m0 0L200.9 627m0 0L201.0 624m0 0L201.1 602m0 0L201.2 624m0 0L201.3 628m0 0L201.4 614m0 0L201.5 558m0 0L201.6 619m0 0L201.7 622m0 0L201.8 620m0 0L201.8 594m0 0L201.9 580m0 0L202.0 617m0 0L202.1 613m0 0L202.2 630m0 0L202.3 594m0 0L202.4 627m0 0L202.5 628m0 0L202.6 588m0 0L202.7 608m0 0L202.8 625m0 0L202.8 620m0 0L202.9 636m0 0L203.0 624m0 0L203.1 606m0 0L203.2 636m0 0L203.3 620m0 0L203.4 635m0 0L203.5 580m0 0L203.6 612m0 0L203.7 614m0 0L203.8 604m0 0L203.9 615m0 0L203.9 616m0 0L204.0 618m0 0L204.1 610m0 0L204.2 630m0 0L204.3 564m0 0L204.4 590m0 0L204.5 597m0 0L204.6 623m0 0L204.7 606m0 0L204.8 617m0 0L204.9 614m0 0L205.0 605m0 0L205.0 616m0 0L205.1 614m0 0L205.2 622m0 0L205.3 604m0 0L205.4 630m0 0L205.5 619m0 0L205.6 632m0 0L205.7 612m0 0L205.8 617m0 0L205.9 600m0 0L206.0 619m0 0L206.1 622m0 0L206.1 587m0 0L206.2 625m0 0L206.3 618m0 0L206.4 631m0 0L206.5 594m0 0L206.6 620m0 0L206.7 607m0 0L206.8 604m0 0L206.9 614m0 0L207.0 612m0 0L207.1 579m0 0L207.2 605m0 0L207.2 601m0 0L207.3 602m0 0L207.4 618m0 0L207.5 600m0 0L207.6 610m0 0L207.7 615m0 0L207.8 623m0 0L207.9 584m0 0L208.0 619m0 0L208.1 619m0 0L208.2 632m0 0L208.3 604m0 0L208.3 601m0 0L208.4 622m0 0L208.5 582m0 0L208.6 605m0 0L208.7 621m0 0L208.8 598m0 0L208.9 620m0 0L209.0 611m0 0L209.1 615m0 0L209.2 594m0 0L209.3 606m0 0L209.4 616m0 0L209.5 570m0 0L209.5 610m0 0L209.6 606m0 0L209.7 627m0 0L209.8 616m0 0L209.9 617m0 0L210.0 632m0 0L210.1 608m0 0L210.2 623m0 0L210.3 554m0 0L210.4 612m0 0L210.5 564m0 0L210.6 599m0 0L210.7 612m0 0L210.7 549m0 0L210.8 593m0 0L210.9 619m0 0L211.0 624m0 0L211.1 607m0 0L211.2 623m0 0L211.3 594m0 0L211.4 615m0 0L211.5 604m0 0L211.6 614m0 0L211.7 620m0 0L211.8 612m0 0L211.9 590m0 0L211.9 617m0 0L212.0 616m0 0L212.1 631m0 0L212.2 593m0 0L212.3 602m0 0L212.4 622m0 0L212.5 615m0 0L212.6 588m0 0L212.7 613m0 0L212.8 610m0 0L212.9 609m0 0L213.0 628m0 0L213.1 618m0 0L213.2 550m0 0L213.2 611m0 0L213.3 608m0 0L213.4 609m0 0L213.5 623m0 0L213.6 619m0 0L213.7 612m0 0L213.8 613m0 0L213.9 606m0 0L214.0 598m0 0L214.1 625m0 0L214.2 634m0 0L214.3 629m0 0L214.4 609m0 0L214.5 611m0 0L214.5 567m0 0L214.6 636m0 0L214.7 629m0 0L214.8 620m0 0L214.9 584m0 0L215.0 607m0 0L215.1 560m0 0L215.2 606m0 0L215.3 613m0 0L215.4 589m0 0L215.5 610m0 0L215.6 625m0 0L215.7 635m0 0L215.8 636m0 0L215.8 631m0 0L215.9 598m0 0L216.0 640m0 0L216.1 631m0 0L216.2 620m0 0L216.3 558m0 0L216.4 618m0 0L216.5 590m0 0L216.6 623m0 0L216.7 615m0 0L216.8 635m0 0L216.9 622m0 0L217.0 557m0 0L217.1 567m0 0L217.2 621m0 0L217.2 591m0 0L217.3 607m0 0L217.4 632m0 0L217.5 575m0 0L217.6 609m0 0L217.7 633m0 0L217.8 600m0 0L217.9 621m0 0L218.0 608m0 0L218.1 577m0 0L218.2 641m0 0L218.3 600m0 0L218.4 610m0 0L218.5 602m0 0L218.6 600m0 0L218.6 615m0 0L218.7 626m0 0L218.8 580m0 0L218.9 611m0 0L219.0 618m0 0L219.1 614m0 0L219.2 605m0 0L219.3 609m0 0L219.4 621m0 0L219.5 601m0 0L219.6 633m0 0L219.7 603m0 0L219.8 604m0 0L219.9 613m0 0L220.0 631m0 0L220.0 612m0 0L220.1 622m0 0L220.2 621m0 0L220.3 577m0 0L220.4 583m0 0L220.5 618m0 0L220.6 590m0 0L220.7 628m0 0L220.8 605m0 0L220.9 622m0 0L221.0 591m0 0L221.1 620m0 0L221.2 635m0 0L221.3 569m0 0L221.4 618m0 0L221.5 619m0 0L221.6 591m0 0L221.6 565m0 0L221.7 615m0 0L221.8 605m0 0L221.9 556m0 0L222.0 623m0 0L222.1 609m0 0L222.2 592m0 0L222.3 536m0 0L222.4 633m0 0L222.5 571m0 0L222.6 629m0 0L222.7 601m0 0L222.8 601m0 0L222.9 615m0 0L223.0 617m0 0L223.1 623m0 0L223.1 625m0 0L223.2 615m0 0L223.3 611m0 0L223.4 613m0 0L223.5 606m0 0L223.6 622m0 0L223.7 636m0 0L223.8 638m0 0L223.9 611m0 0L224.0 619m0 0L224.1 637m0 0L224.2 625m0 0L224.3 605m0 0L224.4 629m0 0L224.5 618m0 0L224.6 617m0 0L224.7 630m0 0L224.8 585m0 0L224.8 605m0 0L224.9 604m0 0L225.0 591m0 0L225.1 617m0 0L225.2 608m0 0L225.3 581m0 0L225.4 600m0 0L225.5 610m0 0L225.6 622m0 0L225.7 624m0 0L225.8 614m0 0L225.9 622m0 0L226.0 579m0 0L226.1 609m0 0L226.2 573m0 0L226.3 603m0 0L226.4 623m0 0L226.5 624m0 0L226.5 574m0 0L226.6 628m0 0L226.7 611m0 0L226.8 618m0 0L226.9 608m0 0L227.0 601m0 0L227.1 626m0 0L227.2 611m0 0L227.3 640m0 0L227.4 619m0 0L227.5 619m0 0L227.6 625m0 0L227.7 621m0 0L227.8 630m0 0L227.9 597m0 0L228.0 571m0 0L228.1 599m0 0L228.2 599m0 0L228.2 608m0 0L228.3 608m0 0L228.4 596m0 0L228.5 619m0 0L228.6 635m0 0L228.7 555m0 0L228.8 614m0 0L228.9 633m0 0L229.0 610m0 0L229.1 622m0 0L229.2 614m0 0L229.3 560m0 0L229.4 628m0 0L229.5 595m0 0L229.6 584m0 0L229.7 640m0 0L229.8 629m0 0L229.9 634m0 0L230.0 607m0 0L230.1 570m0 0L230.1 584m0 0L230.2 607m0 0L230.3 599m0 0L230.4 621m0 0L230.5 626m0 0L230.6 607m0 0L230.7 616m0 0L230.8 601m0 0L230.9 615m0 0L231.0 617m0 0L231.1 623m0 0L231.2 584m0 0L231.3 611m0 0L231.4 596m0 0L231.5 596m0 0L231.6 609m0 0L231.7 628m0 0L231.8 616m0 0L231.9 628m0 0L232.0 610m0 0L232.1 585m0 0L232.1 599m0 0L232.2 635m0 0L232.3 562m0 0L232.4 616m0 0L232.5 559m0 0L232.6 614m0 0L232.7 601m0 0L232.8 627m0 0L232.9 566m0 0L233.0 629m0 0L233.1 604m0 0L233.2 625m0 0L233.3 615m0 0L233.4 621m0 0L233.5 613m0 0L233.6 595m0 0L233.7 555m0 0L233.8 564m0 0L233.9 600m0 0L234.0 598m0 0L234.1 632m0 0L234.2 636m0 0L234.2 622m0 0L234.3 618m0 0L234.4 636m0 0L234.5 593m0 0L234.6 595m0 0L234.7 615m0 0L234.8 583m0 0L234.9 608m0 0L235.0 564m0 0L235.1 622m0 0L235.2 607m0 0L235.3 631m0 0L235.4 576m0 0L235.5 575m0 0L235.6 629m0 0L235.7 637m0 0L235.8 617m0 0L235.9 626m0 0L236.0 607m0 0L236.1 615m0 0L236.2 632m0 0L236.3 607m0 0L236.4 635m0 0L236.4 605m0 0L236.5 594m0 0L236.6 605m0 0L236.7 609m0 0L236.8 616m0 0L236.9 572m0 0L237.0 624m0 0L237.1 601m0 0L237.2 594m0 0L237.3 602m0 0L237.4 580m0 0L237.5 615m0 0L237.6 627m0 0L237.7 577m0 0L237.8 619m0 0L237.9 614m0 0L238.0 620m0 0L238.1 584m0 0L238.2 604m0 0L238.3 627m0 0L238.4 610m0 0L238.5 590m0 0L238.6 574m0 0L238.7 617m0 0L238.8 607m0 0L238.8 641m0 0L238.9 585m0 0L239.0 562m0 0L239.1 571m0 0L239.2 591m0 0L239.3 606m0 0L239.4 605m0 0L239.5 599m0 0L239.6 614m0 0L239.7 633m0 0L239.8 624m0 0L239.9 615m0 0L240.0 603m0 0L240.1 629m0 0L240.2 606m0 0L240.3 613m0 0L240.4 622m0 0L240.5 620m0 0L240.6 625m0 0L240.7 605m0 0L240.8 578m0 0L240.9 609m0 0L241.0 608m0 0L241.1 636m0 0L241.2 599m0 0L241.3 606m0 0L241.4 619m0 0L241.5 599m0 0L241.5 588m0 0L241.6 608m0 0L241.7 631m0 0L241.8 633m0 0L241.9 604m0 0L242.0 566m0 0L242.1 553m0 0L242.2 622m0 0L242.3 626m0 0L242.4 619m0 0L242.5 623m0 0L242.6 545m0 0L242.7 572m0 0L242.8 616m0 0L242.9 575m0 0L243.0 628m0 0L243.1 606m0 0L243.2 584m0 0L243.3 626m0 0L243.4 622m0 0L243.5 624m0 0L243.6 633m0 0L243.7 598m0 0L243.8 617m0 0L243.9 616m0 0L244.0 614m0 0L244.1 618m0 0L244.2 612m0 0L244.3 632m0 0L244.4 626m0 0L244.4 589m0 0L244.5 641m0 0L244.6 622m0 0L244.7 613m0 0L244.8 617m0 0L244.9 621m0 0L245.0 596m0 0L245.1 639m0 0L245.2 583m0 0L245.3 633m0 0L245.4 624m0 0L245.5 622m0 0L245.6 577m0 0L245.7 627m0 0L245.8 614m0 0L245.9 605m0 0L246.0 627m0 0L246.1 617m0 0L246.2 615m0 0L246.3 588m0 0L246.4 604m0 0L246.5 628m0 0L246.6 621m0 0L246.7 620m0 0L246.8 620m0 0L246.9 586m0 0L247.0 639m0 0L247.1 624m0 0L247.2 625m0 0L247.3 606m0 0L247.4 627m0 0L247.5 585m0 0L247.6 599m0 0L247.7 610m0 0L247.7 591m0 0L247.8 635m0 0L247.9 607m0 0L248.0 606m0 0L248.1 636m0 0L248.2 614m0 0L248.3 634m0 0L248.4 615m0 0L248.5 627m0 0L248.6 607m0 0L248.7 562m0 0L248.8 613m0 0L248.9 621m0 0L249.0 631m0 0L249.1 616m0 0L249.2 559m0 0L249.3 627m0 0L249.4 619m0 0L249.5 546m0 0L249.6 599m0 0L249.7 632m0 0L249.8 628m0 0L249.9 608m0 0L250.0 638m0 0L250.1 632m0 0L250.2 610m0 0L250.3 633m0 0L250.4 605m0 0L250.5 614m0 0L250.6 593m0 0L250.7 619m0 0L250.8 617m0 0L250.9 604m0 0L251.0 586m0 0L251.1 617m0 0L251.2 619m0 0L251.3 597m0 0L251.4 600m0 0L251.5 601m0 0L251.6 592m0 0L251.6 614m0 0L251.7 570m0 0L251.8 604m0 0L251.9 616m0 0L252.0 620m0 0L252.1 630m0 0L252.2 617m0 0L252.3 613m0 0L252.4 609m0 0L252.5 606m0 0L252.6 623m0 0L252.7 613m0 0L252.8 608m0 0L252.9 627m0 0L253.0 601m0 0L253.1 628m0 0L253.2 622m0 0L253.3 579m0 0L253.4 627m0 0L253.5 624m0 0L253.6 614m0 0L253.7 622m0 0L253.8 601m0 0L253.9 614m0 0L254.0 609m0 0L254.1 610m0 0L254.2 610m0 0L254.3 607m0 0L254.4 618m0 0L254.5 615m0 0L254.6 582m0 0L254.7 617m0 0L254.8 593m0 0L254.9 593m0 0L255.0 579m0 0L255.1 607m0 0L255.2 596m0 0L255.3 620m0 0L255.4 587m0 0L255.5 569m0 0L255.6 612m0 0L255.7 611m0 0L255.8 546m0 0L255.9 609m0 0L256.0 622m0 0L256.1 630m0 0L256.2 604m0 0L256.3 590m0 0L256.4 579m0 0L256.5 631m0 0L256.6 585m0 0L256.6 628m0 0L256.7 591m0 0L256.8 612m0 0L256.9 558m0 0L257.0 592m0 0L257.1 591m0 0L257.2 629m0 0L257.3 603m0 0L257.4 621m0 0L257.5 626m0 0L257.6 599m0 0L257.7 629m0 0L257.8 626m0 0L257.9 582m0 0L258.0 623m0 0L258.1 618m0 0L258.2 602m0 0L258.3 603m0 0L258.4 588m0 0L258.5 618m0 0L258.6 616m0 0L258.7 611m0 0L258.8 618m0 0L258.9 583m0 0L259.0 616m0 0L259.1 631m0 0L259.2 607m0 0L259.3 612m0 0L259.4 624m0 0L259.5 578m0 0L259.6 633m0 0L259.7 631m0 0L259.8 607m0 0L259.9 628m0 0L260.0 619m0 0L260.1 609m0 0L260.2 619m0 0L260.3 624m0 0L260.4 571m0 0L260.5 552m0 0L260.6 585m0 0L260.7 622m0 0L260.8 626m0 0L260.9 617m0 0L261.0 613m0 0L261.1 627m0 0L261.2 593m0 0L261.3 613m0 0L261.4 634m0 0L261.5 609m0 0L261.6 625m0 0L261.7 637m0 0L261.8 589m0 0L261.9 575m0 0L262.0 614m0 0L262.1 617m0 0L262.2 615m0 0L262.3 607m0 0L262.4 550m0 0L262.5 593m0 0L262.6 605m0 0L262.7 604m0 0L262.8 598m0 0L262.9 622m0 0L263.0 623m0 0L263.1 633m0 0L263.2 613m0 0L263.3 589m0 0L263.4 595m0 0L263.5 614m0 0L263.6 622m0 0L263.7 616m0 0L263.8 594m0 0L263.9 634m0 0L264.0 622m0 0L264.1 629m0 0L264.2 633m0 0L264.3 622m0 0L264.4 610m0 0L264.5 608m0 0L264.6 623m0 0L264.7 634m0 0L264.8 628m0 0L264.9 635m0 0L264.9 607m0 0L265.0 622m0 0L265.1 574m0 0L265.2 613m0 0L265.3 619m0 0L265.4 623m0 0L265.5 609m0 0L265.6 592m0 0L265.7 593m0 0L265.8 621m0 0L265.9 617m0 0L266.0 612m0 0L266.1 597m0 0L266.2 610m0 0L266.3 605m0 0L266.4 588m0 0L266.5 616m0 0L266.6 605m0 0L266.7 614m0 0L266.8 607m0 0L266.9 614m0 0L267.0 599m0 0L267.1 623m0 0L267.2 596m0 0L267.3 623m0 0L267.4 616m0 0L267.5 583m0 0L267.6 609m0 0L267.7 610m0 0L267.8 613m0 0L267.9 624m0 0L268.0 620m0 0L268.1 634m0 0L268.2 628m0 0L268.3 581m0 0L268.4 606m0 0L268.5 634m0 0L268.6 588m0 0L268.7 628m0 0L268.8 612m0 0L268.9 606m0 0L269.0 620m0 0L269.1 612m0 0L269.2 638m0 0L269.3 614m0 0L269.4 597m0 0L269.5 632m0 0L269.6 625m0 0L269.7 636m0 0L269.8 547m0 0L269.9 586m0 0L270.0 624m0 0L270.1 581m0 0L270.2 607m0 0L270.3 602m0 0L270.4 614m0 0L270.5 575m0 0L270.6 596m0 0L270.7 602m0 0L270.8 599m0 0L270.9 596m0 0L271.0 586m0 0L271.1 608m0 0L271.2 608m0 0L271.3 619m0 0L271.4 627m0 0L271.5 589m0 0L271.6 615m0 0L271.7 615m0 0L271.8 610m0 0L271.9 609m0 0L272.0 585m0 0L272.1 619m0 0L272.2 623m0 0L272.3 590m0 0L272.4 612m0 0L272.5 612m0 0L272.6 588m0 0L272.7 604m0 0L272.8 554m0 0L272.9 616m0 0L273.0 591m0 0L273.1 619m0 0L273.2 606m0 0L273.3 635m0 0L273.4 625m0 0L273.5 609m0 0L273.6 610m0 0L273.7 605m0 0L273.8 617m0 0L273.9 610m0 0L274.0 618m0 0L274.1 632m0 0L274.2 615m0 0L274.3 561m0 0L274.4 580m0 0L274.5 623m0 0L274.6 621m0 0L274.7 621m0 0L274.8 626m0 0L274.9 563m0 0L275.0 614m0 0L275.1 604m0 0L275.2 621m0 0L275.3 635m0 0L275.4 577m0 0L275.5 618m0 0L275.6 575m0 0L275.7 622m0 0L275.8 590m0 0L275.9 600m0 0L276.0 618m0 0L276.1 606m0 0L276.2 620m0 0L276.3 586m0 0L276.4 617m0 0L276.5 617m0 0L276.6 614m0 0L276.7 620m0 0L276.8 611m0 0L276.9 599m0 0L277.0 620m0 0L277.1 624m0 0L277.2 636m0 0L277.3 619m0 0L277.4 609m0 0L277.5 605m0 0L277.6 625m0 0L277.8 602m0 0L277.9 604m0 0L278.0 608m0 0L278.1 603m0 0L278.2 622m0 0L278.3 635m0 0L278.4 583m0 0L278.5 614m0 0L278.6 614m0 0L278.7 609m0 0L278.8 623m0 0L278.9 607m0 0L279.0 618m0 0L279.1 630m0 0L279.2 610m0 0L279.3 636m0 0L279.4 615m0 0L279.5 624m0 0L279.6 620m0 0L279.7 599m0 0L279.8 554m0 0L279.9 614m0 0L280.0 622m0 0L280.1 626m0 0L280.2 613m0 0L280.3 609m0 0L280.4 619m0 0L280.5 601m0 0L280.6 623m0 0L280.7 592m0 0L280.8 613m0 0L280.9 587m0 0L281.0 616m0 0L281.1 580m0 0L281.2 586m0 0L281.3 633m0 0L281.4 589m0 0L281.5 624m0 0L281.6 617m0 0L281.7 594m0 0L281.8 551m0 0L281.9 565m0 0L282.0 610m0 0L282.1 615m0 0L282.2 609m0 0L282.3 622m0 0L282.4 582m0 0L282.5 629m0 0L282.6 581m0 0L282.7 616m0 0L282.8 604m0 0L282.9 628m0 0L283.0 612m0 0L283.1 619m0 0L283.2 637m0 0L283.3 594m0 0L283.4 637m0 0L283.5 631m0 0L283.6 610m0 0L283.7 633m0 0L283.8 560m0 0L283.9 604m0 0L284.0 627m0 0L284.1 599m0 0L284.2 630m0 0L284.3 588m0 0L284.4 615m0 0L284.5 621m0 0L284.6 627m0 0L284.7 563m0 0L284.8 573m0 0L284.9 613m0 0L285.0 604m0 0L285.1 608m0 0L285.2 619m0 0L285.3 599m0 0L285.4 603m0 0L285.5 615m0 0L285.6 577m0 0L285.7 600m0 0L285.8 625m0 0L285.9 614m0 0L286.0 607m0 0L286.1 601m0 0L286.2 613m0 0L286.4 617m0 0L286.5 625m0 0L286.6 597m0 0L286.7 597m0 0L286.8 633m0 0L286.9 606m0 0L287.0 621m0 0L287.1 603m0 0L287.2 607m0 0L287.3 620m0 0L287.4 604m0 0L287.5 611m0 0L287.6 615m0 0L287.7 617m0 0L287.8 609m0 0L287.9 596m0 0L288.0 615m0 0L288.1 595m0 0L288.2 623m0 0L288.3 622m0 0L288.4 595m0 0L288.5 623m0 0L288.6 598m0 0L288.7 585m0 0L288.8 623m0 0L288.9 603m0 0L289.0 621m0 0L289.1 587m0 0L289.2 585m0 0L289.3 606m0 0L289.4 592m0 0L289.5 608m0 0L289.6 618m0 0L289.7 595m0 0L289.8 617m0 0L289.9 547m0 0L290.0 573m0 0L290.1 610m0 0L290.2 605m0 0L290.3 621m0 0L290.4 606m0 0L290.5 614m0 0L290.6 629m0 0L290.7 578m0 0L290.8 614m0 0L290.9 627m0 0L291.0 640m0 0L291.1 564m0 0L291.2 617m0 0L291.3 550m0 0L291.4 600m0 0L291.5 604m0 0L291.6 622m0 0L291.8 617m0 0L291.9 595m0 0L292.0 617m0 0L292.1 616m0 0L292.2 627m0 0L292.3 608m0 0L292.4 604m0 0L292.5 614m0 0L292.6 581m0 0L292.7 597m0 0L292.8 602m0 0L292.9 600m0 0L293.0 626m0 0L293.1 592m0 0L293.2 627m0 0L293.3 629m0 0L293.4 630m0 0L293.5 601m0 0L293.6 608m0 0L293.7 610m0 0L293.8 609m0 0L293.9 610m0 0L294.0 599m0 0L294.1 628m0 0L294.2 617m0 0L294.3 598m0 0L294.4 616m0 0L294.5 614m0 0L294.6 581m0 0L294.7 614m0 0L294.8 582m0 0L294.9 626m0 0L295.0 577m0 0L295.1 611m0 0L295.2 624m0 0L295.3 557m0 0L295.4 630m0 0L295.5 602m0 0L295.6 621m0 0L295.7 578m0 0L295.8 593m0 0L296.0 623m0 0L296.1 593m0 0L296.2 581m0 0L296.3 586m0 0L296.4 617m0 0L296.5 579m0 0L296.6 625m0 0L296.7 633m0 0L296.8 589m0 0L296.9 606m0 0L297.0 615m0 0L297.1 591m0 0L297.2 608m0 0L297.3 599m0 0L297.4 605m0 0L297.5 585m0 0L297.6 594m0 0L297.7 621m0 0L297.8 573m0 0L297.9 614m0 0L298.0 624m0 0L298.1 618m0 0L298.2 614m0 0L298.3 593m0 0L298.4 623m0 0L298.5 608m0 0L298.6 610m0 0L298.7 570m0 0L298.8 633m0 0L298.9 598m0 0L299.0 597m0 0L299.1 596m0 0L299.2 549m0 0L299.3 629m0 0L299.4 606m0 0L299.5 628m0 0L299.7 614m0 0L299.8 613m0 0L299.9 608m0 0L300.0 634m0 0L300.1 563m0 0L300.2 591m0 0L300.3 625m0 0L300.4 622m0 0L300.5 598m0 0L300.6 602m0 0L300.7 612m0 0L300.8 583m0 0L300.9 622m0 0L301.0 583m0 0L301.1 585m0 0L301.2 630m0 0L301.3 610m0 0L301.4 629m0 0L301.5 609m0 0L301.6 588m0 0L301.7 585m0 0L301.8 613m0 0L301.9 619m0 0L302.0 628m0 0L302.1 581m0 0L302.2 610m0 0L302.3 599m0 0L302.4 615m0 0L302.5 536m0 0L302.6 620m0 0L302.7 613m0 0L302.8 551m0 0L303.0 605m0 0L303.1 615m0 0L303.2 607m0 0L303.3 615m0 0L303.4 633m0 0L303.5 636m0 0L303.6 604m0 0L303.7 569m0 0L303.8 626m0 0L303.9 616m0 0L304.0 596m0 0L304.1 606m0 0L304.2 601m0 0L304.3 570m0 0L304.4 620m0 0L304.5 619m0 0L304.6 619m0 0L304.7 559m0 0L304.8 599m0 0L304.9 620m0 0L305.0 620m0 0L305.1 636m0 0L305.2 635m0 0L305.3 616m0 0L305.4 610m0 0L305.5 636m0 0L305.6 607m0 0L305.7 625m0 0L305.8 592m0 0L306.0 615m0 0L306.1 619m0 0L306.2 620m0 0L306.3 584m0 0L306.4 611m0 0L306.5 598m0 0L306.6 626m0 0L306.7 588m0 0L306.8 609m0 0L306.9 597m0 0L307.0 567m0 0L307.1 573m0 0L307.2 601m0 0L307.3 577m0 0L307.4 585m0 0L307.5 600m0 0L307.6 613m0 0L307.7 627m0 0L307.8 624m0 0L307.9 612m0 0L308.0 624m0 0L308.1 616m0 0L308.2 596m0 0L308.3 578m0 0L308.4 625m0 0L308.5 593m0 0L308.7 611m0 0L308.8 619m0 0L308.9 622m0 0L309.0 632m0 0L309.1 622m0 0L309.2 623m0 0L309.3 620m0 0L309.4 621m0 0L309.5 593m0 0L309.6 575m0 0L309.7 617m0 0L309.8 589m0 0L309.9 596m0 0L310.0 621m0 0L310.1 631m0 0L310.2 629m0 0L310.3 620m0 0L310.4 600m0 0L310.5 595m0 0L310.6 613m0 0L310.7 617m0 0L310.8 638m0 0L310.9 631m0 0L311.0 606m0 0L311.1 608m0 0L311.3 601m0 0L311.4 566m0 0L311.5 631m0 0L311.6 615m0 0L311.7 633m0 0L311.8 608m0 0L311.9 633m0 0L312.0 623m0 0L312.1 607m0 0L312.2 609m0 0L312.3 620m0 0L312.4 605m0 0L312.5 618m0 0L312.6 630m0 0L312.7 632m0 0L312.8 583m0 0L312.9 590m0 0L313.0 628m0 0L313.1 618m0 0L313.2 638m0 0L313.3 616m0 0L313.4 637m0 0L313.5 598m0 0L313.6 618m0 0L313.8 618m0 0L313.9 619m0 0L314.0 632m0 0L314.1 623m0 0L314.2 595m0 0L314.3 618m0 0L314.4 636m0 0L314.5 551m0 0L314.6 617m0 0L314.7 612m0 0L314.8 622m0 0L314.9 629m0 0L315.0 596m0 0L315.1 620m0 0L315.2 625m0 0L315.3 578m0 0L315.4 615m0 0L315.5 628m0 0L315.6 623m0 0L315.7 619m0 0L315.8 617m0 0L315.9 600m0 0L316.1 616m0 0L316.2 634m0 0L316.3 616m0 0L316.4 603m0 0L316.5 595m0 0L316.6 605m0 0L316.7 609m0 0L316.8 609m0 0L316.9 571m0 0L317.0 628m0 0L317.1 631m0 0L317.2 615m0 0L317.3 620m0 0L317.4 608m0 0L317.5 614m0 0L317.6 607m0 0L317.7 622m0 0L317.8 630m0 0L317.9 629m0 0L318.0 634m0 0L318.1 613m0 0L318.3 586m0 0L318.4 631m0 0L318.5 615m0 0L318.6 612m0 0L318.7 624m0 0L318.8 614m0 0L318.9 570m0 0L319.0 609m0 0L319.1 631m0 0L319.2 602m0 0L319.3 630m0 0L319.4 605m0 0L319.5 617m0 0L319.6 625m0 0L319.7 600m0 0L319.8 632m0 0L319.9 615m0 0L320.0 595m0 0L320.1 623m0 0L320.2 565m0 0L320.3 627m0 0L320.5 611m0 0L320.6 601m0 0L320.7 596m0 0L320.8 616m0 0L320.9 627m0 0L321.0 610m0 0L321.1 620m0 0L321.2 615m0 0L321.3 607m0 0L321.4 597m0 0L321.5 609m0 0L321.6 601m0 0L321.7 606m0 0L321.8 621m0 0L321.9 619m0 0L322.0 603m0 0L322.1 605m0 0L322.2 609m0 0L322.3 609m0 0L322.5 609m0 0L322.6 616m0 0L322.7 602m0 0L322.8 556m0 0L322.9 626m0 0L323.0 596m0 0L323.1 636m0 0L323.2 618m0 0L323.3 567m0 0L323.4 611m0 0L323.5 614m0 0L323.6 616m0 0L323.7 561m0 0L323.8 628m0 0L323.9 607m0 0L324.0 618m0 0L324.1 596m0 0L324.2 635m0 0L324.3 612m0 0L324.5 617m0 0L324.6 615m0 0L324.7 595m0 0L324.8 632m0 0L324.9 620m0 0L325.0 618m0 0L325.1 618m0 0L325.2 579m0 0L325.3 609m0 0L325.4 592m0 0L325.5 615m0 0L325.6 626m0 0L325.7 612m0 0L325.8 610m0 0L325.9 601m0 0L326.0 608m0 0L326.1 636m0 0L326.2 571m0 0L326.4 558m0 0L326.5 635m0 0L326.6 608m0 0L326.7 594m0 0L326.8 595m0 0L326.9 601m0 0L327.0 619m0 0L327.1 622m0 0L327.2 616m0 0L327.3 621m0 0L327.4 584m0 0L327.5 622m0 0L327.6 592m0 0L327.7 575m0 0L327.8 604m0 0L327.9 603m0 0L328.0 582m0 0L328.1 602m0 0L328.3 624m0 0L328.4 625m0 0L328.5 589m0 0L328.6 598m0 0L328.7 619m0 0L328.8 624m0 0L328.9 613m0 0L329.0 600m0 0L329.1 610m0 0L329.2 629m0 0L329.3 620m0 0L329.4 627m0 0L329.5 598m0 0L329.6 607m0 0L329.7 597m0 0L329.8 598m0 0L329.9 614m0 0L330.1 623m0 0L330.2 605m0 0L330.3 601m0 0L330.4 612m0 0L330.5 617m0 0L330.6 619m0 0L330.7 609m0 0L330.8 609m0 0L330.9 606m0 0L331.0 613m0 0L331.1 595m0 0L331.2 606m0 0L331.3 603m0 0L331.4 560m0 0L331.5 638m0 0L331.6 590m0 0L331.7 605m0 0L331.9 611m0 0L332.0 615m0 0L332.1 587m0 0L332.2 638m0 0L332.3 604m0 0L332.4 636m0 0L332.5 594m0 0L332.6 628m0 0L332.7 633m0 0L332.8 577m0 0L332.9 618m0 0L333.0 623m0 0L333.1 587m0 0L333.2 603m0 0L333.3 597m0 0L333.4 613m0 0L333.6 607m0 0L333.7 612m0 0L333.8 604m0 0L333.9 609m0 0L334.0 578m0 0L334.1 565m0 0L334.2 616m0 0L334.3 608m0 0L334.4 622m0 0L334.5 611m0 0L334.6 614m0 0L334.7 551m0 0L334.8 613m0 0L334.9 614m0 0L335.0 602m0 0L335.1 588m0 0L335.3 603m0 0L335.4 607m0 0L335.5 596m0 0L335.6 613m0 0L335.7 622m0 0L335.8 615m0 0L335.9 638m0 0L336.0 628m0 0L336.1 623m0 0L336.2 611m0 0L336.3 594m0 0L336.4 618m0 0L336.5 616m0 0L336.6 605m0 0L336.7 589m0 0L336.8 612m0 0L337.0 613m0 0L337.1 574m0 0L337.2 599m0 0L337.3 615m0 0L337.4 627m0 0L337.5 600m0 0L337.6 604m0 0L337.7 587m0 0L337.8 577m0 0L337.9 605m0 0L338.0 623m0 0L338.1 611m0 0L338.2 622m0 0L338.3 620m0 0L338.4 612m0 0L338.6 612m0 0L338.7 604m0 0L338.8 595m0 0L338.9 593m0 0L339.0 631m0 0L339.1 614m0 0L339.2 619m0 0L339.3 600m0 0L339.4 621m0 0L339.5 597m0 0L339.6 610m0 0L339.7 569m0 0L339.8 625m0 0L339.9 585m0 0L340.0 629m0 0L340.2 630m0 0L340.3 609m0 0L340.4 607m0 0L340.5 612m0 0L340.6 614m0 0L340.7 635m0 0L340.8 622m0 0L340.9 627m0 0L341.0 593m0 0L341.1 580m0 0L341.2 634m0 0L341.3 599m0 0L341.4 597m0 0L341.5 606m0 0L341.7 630m0 0L341.8 590m0 0L341.9 591m0 0L342.0 607m0 0L342.1 639m0 0L342.2 634m0 0L342.3 626m0 0L342.4 595m0 0L342.5 607m0 0L342.6 578m0 0L342.7 597m0 0L342.8 623m0 0L342.9 607m0 0L343.0 627m0 0L343.2 610m0 0L343.3 613m0 0L343.4 625m0 0L343.5 626m0 0L343.6 627m0 0L343.7 592m0 0L343.8 611m0 0L343.9 627m0 0L344.0 605m0 0L344.1 571m0 0L344.2 615m0 0L344.3 608m0 0L344.4 578m0 0L344.5 616m0 0L344.7 620m0 0L344.8 628m0 0L344.9 606m0 0L345.0 586m0 0L345.1 607m0 0L345.2 630m0 0L345.3 603m0 0L345.4 612m0 0L345.5 611m0 0L345.6 578m0 0L345.7 621m0 0L345.8 569m0 0L345.9 625m0 0L346.0 625m0 0L346.2 612m0 0L346.3 613m0 0L346.4 593m0 0L346.5 604m0 0L346.6 621m0 0L346.7 623m0 0L346.8 618m0 0L346.9 617m0 0L347.0 629m0 0L347.1 613m0 0L347.2 609m0 0L347.3 612m0 0L347.4 612m0 0L347.5 627m0 0L347.7 633m0 0L347.8 611m0 0L347.9 600m0 0L348.0 611m0 0L348.1 616m0 0L348.2 593m0 0L348.3 610m0 0L348.4 613m0 0L348.5 623m0 0L348.6 607m0 0L348.7 616m0 0L348.8 605m0 0L348.9 604m0 0L349.1 621m0 0L349.2 618m0 0L349.3 572m0 0L349.4 612m0 0L349.5 632m0 0L349.6 633m0 0L349.7 581m0 0L349.8 634m0 0L349.9 623m0 0L350.0 578m0 0L350.1 603m0 0L350.2 599m0 0L350.3 620m0 0L350.5 592m0 0L350.6 618m0 0L350.7 595m0 0L350.8 627m0 0L350.9 607m0 0L351.0 595m0 0L351.1 562m0 0L351.2 637m0 0L351.3 607m0 0L351.4 625m0 0L351.5 599m0 0L351.6 616m0 0L351.7 602m0 0L351.9 615m0 0L352.0 625m0 0L352.1 619m0 0L352.2 620m0 0L352.3 587m0 0L352.4 618m0 0L352.5 618m0 0L352.6 604m0 0L352.7 611m0 0L352.8 609m0 0L352.9 616m0 0L353.0 620m0 0L353.2 544m0 0L353.3 623m0 0L353.4 599m0 0L353.5 618m0 0L353.6 575m0 0L353.7 609m0 0L353.8 614m0 0L353.9 612m0 0L354.0 565m0 0L354.1 592m0 0L354.2 606m0 0L354.3 618m0 0L354.4 620m0 0L354.6 615m0 0L354.7 606m0 0L354.8 612m0 0L354.9 607m0 0L355.0 585m0 0L355.1 603m0 0L355.2 604m0 0L355.3 595m0 0L355.4 629m0 0L355.5 600m0 0L355.6 618m0 0L355.7 619m0 0L355.9 613m0 0L356.0 607m0 0L356.1 604m0 0L356.2 574m0 0L356.3 628m0 0L356.4 618m0 0L356.5 598m0 0L356.6 594m0 0L356.7 616m0 0L356.8 584m0 0L356.9 624m0 0L357.0 593m0 0L357.2 620m0 0L357.3 581m0 0L357.4 614m0 0L357.5 610m0 0L357.6 590m0 0L357.7 619m0 0L357.8 605m0 0L357.9 629m0 0L358.0 617m0 0L358.1 604m0 0L358.2 610m0 0L358.3 625m0 0L358.5 598m0 0L358.6 606m0 0L358.7 610m0 0L358.8 614m0 0L358.9 615m0 0L359.0 625m0 0L359.1 603m0 0L359.2 618m0 0L359.3 595m0 0L359.4 632m0 0L359.5 618m0 0L359.6 593m0 0L359.8 626m0 0L359.9 578m0 0L360.0 603m0 0L360.1 604m0 0L360.2 629m0 0L360.3 580m0 0L360.4 592m0 0L360.5 601m0 0L360.6 594m0 0L360.7 600m0 0L360.8 612m0 0L360.9 578m0 0L361.1 615m0 0L361.2 582m0 0L361.3 594m0 0L361.4 612m0 0L361.5 594m0 0L361.6 609m0 0L361.7 624m0 0L361.8 620m0 0L361.9 618m0 0L362.0 568m0 0L362.1 612m0 0L362.3 616m0 0L362.4 603m0 0L362.5 566m0 0L362.6 570m0 0L362.7 595m0 0L362.8 612m0 0L362.9 602m0 0L363.0 615m0 0L363.1 607m0 0L363.2 580m0 0L363.3 602m0 0L363.4 619m0 0L363.6 580m0 0L363.7 597m0 0L363.8 615m0 0L363.9 626m0 0L364.0 632m0 0L364.1 633m0 0L364.2 627m0 0L364.3 619m0 0L364.4 608m0 0L364.5 616m0 0L364.6 590m0 0L364.8 609m0 0L364.9 617m0 0L365.0 590m0 0L365.1 586m0 0L365.2 603m0 0L365.3 614m0 0L365.4 629m0 0L365.5 592m0 0L365.6 627m0 0L365.7 595m0 0L365.8 608m0 0L366.0 614m0 0L366.1 612m0 0L366.2 613m0 0L366.3 636m0 0L366.4 567m0 0L366.5 547m0 0L366.6 599m0 0L366.7 590m0 0L366.8 607m0 0L366.9 624m0 0L367.0 608m0 0L367.2 615m0 0L367.3 593m0 0L367.4 586m0 0L367.5 607m0 0L367.6 616m0 0L367.7 614m0 0L367.8 582m0 0L367.9 623m0 0L368.0 626m0 0L368.1 626m0 0L368.2 637m0 0L368.4 568m0 0L368.5 613m0 0L368.6 624m0 0L368.7 610m0 0L368.8 626m0 0L368.9 611m0 0L369.0 634m0 0L369.1 587m0 0L369.2 606m0 0L369.3 613m0 0L369.4 607m0 0L369.6 627m0 0L369.7 625m0 0L369.8 624m0 0L369.9 633m0 0L370.0 564m0 0L370.1 630m0 0L370.2 605m0 0L370.3 610m0 0L370.4 616m0 0L370.5 577m0 0L370.6 604m0 0L370.8 625m0 0L370.9 598m0 0L371.0 605m0 0L371.1 572m0 0L371.2 596m0 0L371.3 604m0 0L371.4 625m0 0L371.5 607m0 0L371.6 609m0 0L371.7 621m0 0L371.9 606m0 0L372.0 629m0 0L372.1 555m0 0L372.2 625m0 0L372.3 620m0 0L372.4 609m0 0L372.5 594m0 0L372.6 609m0 0L372.7 609m0 0L372.8 590m0 0L372.9 608m0 0L373.1 550m0 0L373.2 617m0 0L373.3 602m0 0L373.4 622m0 0L373.5 639m0 0L373.6 632m0 0L373.7 624m0 0L373.8 613m0 0L373.9 607m0 0L374.0 624m0 0L374.2 614m0 0L374.3 619m0 0L374.4 601m0 0L374.5 531m0 0L374.6 608m0 0L374.7 630m0 0L374.8 624m0 0L374.9 633m0 0L375.0 614m0 0L375.1 619m0 0L375.3 548m0 0L375.4 606m0 0L375.5 606m0 0L375.6 607m0 0L375.7 612m0 0L375.8 637m0 0L375.9 602m0 0L376.0 625m0 0L376.1 632m0 0L376.2 610m0 0L376.4 554m0 0L376.5 600m0 0L376.6 619m0 0L376.7 622m0 0L376.8 580m0 0L376.9 622m0 0L377.0 569m0 0L377.1 600m0 0L377.2 602m0 0L377.3 606m0 0L377.5 616m0 0L377.6 615m0 0L377.7 584m0 0L377.8 609m0 0L377.9 613m0 0L378.0 624m0 0L378.1 605m0 0L378.2 600m0 0L378.3 618m0 0L378.4 621m0 0L378.6 610m0 0L378.7 609m0 0L378.8 602m0 0L378.9 621m0 0L379.0 635m0 0L379.1 569m0 0L379.2 591m0 0L379.3 623m0 0L379.4 601m0 0L379.5 609m0 0L379.7 612m0 0L379.8 620m0 0L379.9 608m0 0L380.0 589m0 0L380.1 595m0 0L380.2 601m0 0L380.3 597m0 0L380.4 623m0 0L380.5 602m0 0L380.6 604m0 0L380.8 599m0 0L380.9 587m0 0L381.0 605m0 0L381.1 616m0 0L381.2 578m0 0L381.3 612m0 0L381.4 611m0 0L381.5 552m0 0L381.6 608m0 0L381.7 620m0 0L381.9 576m0 0L382.0 604m0 0L382.1 610m0 0L382.2 630m0 0L382.3 632m0 0L382.4 618m0 0L382.5 628m0 0L382.6 623m0 0L382.7 605m0 0L382.9 619m0 0L383.0 606m0 0L383.1 628m0 0L383.2 611m0 0L383.3 603m0 0L383.4 563m0 0L383.5 554m0 0L383.6 618m0 0L383.7 613m0 0L383.8 565m0 0L384.0 599m0 0L384.1 614m0 0L384.2 595m0 0L384.3 576m0 0L384.4 584m0 0L384.5 595m0 0L384.6 605m0 0L384.7 598m0 0L384.8 600m0 0L385.0 600m0 0L385.1 608m0 0L385.2 595m0 0L385.3 613m0 0L385.4 602m0 0L385.5 610m0 0L385.6 620m0 0L385.7 627m0 0L385.8 558m0 0L385.9 573m0 0L386.1 571m0 0L386.2 609m0 0L386.3 588m0 0L386.4 587m0 0L386.5 597m0 0L386.6 565m0 0L386.7 586m0 0L386.8 628m0 0L386.9 610m0 0L387.1 606m0 0L387.2 628m0 0L387.3 632m0 0L387.4 560m0 0L387.5 598m0 0L387.6 591m0 0L387.7 614m0 0L387.8 614m0 0L387.9 628m0 0L388.0 628m0 0L388.2 617m0 0L388.3 603m0 0L388.4 609m0 0L388.5 603m0 0L388.6 614m0 0L388.7 609m0 0L388.8 608m0 0L388.9 615m0 0L389.0 584m0 0L389.2 602m0 0L389.3 615m0 0L389.4 599m0 0L389.5 611m0 0L389.6 632m0 0L389.7 618m0 0L389.8 606m0 0L389.9 551m0 0L390.0 617m0 0L390.2 614m0 0L390.3 629m0 0L390.4 625m0 0L390.5 600m0 0L390.6 634m0 0L390.7 582m0 0L390.8 589m0 0L390.9 620m0 0L391.0 550m0 0L391.2 630m0 0L391.3 594m0 0L391.4 634m0 0L391.5 621m0 0L391.6 629m0 0L391.7 595m0 0L391.8 625m0 0L391.9 597m0 0L392.0 546m0 0L392.2 616m0 0L392.3 623m0 0L392.4 608m0 0L392.5 607m0 0L392.6 601m0 0L392.7 598m0 0L392.8 621m0 0L392.9 594m0 0L393.0 613m0 0L393.2 607m0 0L393.3 593m0 0L393.4 617m0 0L393.5 585m0 0L393.6 612m0 0L393.7 612m0 0L393.8 622m0 0L393.9 603m0 0L394.0 596m0 0L394.2 609m0 0L394.3 600m0 0L394.4 608m0 0L394.5 630m0 0L394.6 589m0 0L394.7 615m0 0L394.8 619m0 0L394.9 624m0 0L395.0 630m0 0L395.2 631m0 0L395.3 628m0 0L395.4 632m0 0L395.5 613m0 0L395.6 605m0 0L395.7 610m0 0L395.8 612m0 0L395.9 605m0 0L396.1 603m0 0L396.2 613m0 0L396.3 595m0 0L396.4 618m0 0L396.5 628m0 0L396.6 608m0 0L396.7 595m0 0L396.8 604m0 0L396.9 614m0 0L397.1 619m0 0L397.2 634m0 0L397.3 605m0 0L397.4 613m0 0L397.5 608m0 0L397.6 595m0 0L397.7 624m0 0L397.8 611m0 0L397.9 608m0 0L398.1 632m0 0L398.2 615m0 0L398.3 608m0 0L398.4 595m0 0L398.5 583m0 0L398.6 608m0 0L398.7 622m0 0L398.8 616m0 0L399.0 604m0 0L399.1 621m0 0L399.2 614m0 0L399.3 588m0 0L399.4 614m0 0L399.5 620m0 0L399.6 623m0 0L399.7 620m0 0L399.8 581m0 0L400.0 598m0 0L400.1 608m0 0L400.2 596m0 0L400.3 602m0 0L400.4 613m0 0L400.5 612m0 0L400.6 613m0 0L400.7 598m0 0L400.9 598m0 0L401.0 576m0 0L401.1 632m0 0L401.2 603m0 0L401.3 586m0 0L401.4 602m0 0L401.5 600m0 0L401.6 619m0 0L401.7 577m0 0L401.9 634m0 0L402.0 602m0 0L402.1 589m0 0L402.2 600m0 0L402.3 628m0 0L402.4 600m0 0L402.5 624m0 0L402.6 620m0 0L402.8 622m0 0L402.9 618m0 0L403.0 614m0 0L403.1 615m0 0L403.2 588m0 0L403.3 628m0 0L403.4 614m0 0L403.5 597m0 0L403.6 588m0 0L403.8 617m0 0L403.9 599m0 0L404.0 595m0 0L404.1 599m0 0L404.2 630m0 0L404.3 620m0 0L404.4 621m0 0L404.5 620m0 0L404.7 613m0 0L404.8 608m0 0L404.9 567m0 0L405.0 626m0 0L405.1 611m0 0L405.2 606m0 0L405.3 605m0 0L405.4 603m0 0L405.6 598m0 0L405.7 624m0 0L405.8 603m0 0L405.9 608m0 0L406.0 603m0 0L406.1 594m0 0L406.2 628m0 0L406.3 597m0 0L406.5 634m0 0L406.6 610m0 0L406.7 617m0 0L406.8 621m0 0L406.9 594m0 0L407.0 588m0 0L407.1 607m0 0L407.2 605m0 0L407.4 620m0 0L407.5 608m0 0L407.6 610m0 0L407.7 611m0 0L407.8 637m0 0L407.9 633m0 0L408.0 624m0 0L408.1 619m0 0L408.2 610m0 0L408.4 601m0 0L408.5 624m0 0L408.6 598m0 0L408.7 603m0 0L408.8 623m0 0L408.9 615m0 0L409.0 604m0 0L409.1 598m0 0L409.3 612m0 0L409.4 625m0 0L409.5 617m0 0L409.6 584m0 0L409.7 614m0 0L409.8 614m0 0L409.9 622m0 0L410.0 624m0 0L410.2 585m0 0L410.3 621m0 0L410.4 618m0 0L410.5 634m0 0L410.6 584m0 0L410.7 614m0 0L410.8 604m0 0L410.9 583m0 0L411.1 595m0 0L411.2 595m0 0L411.3 612m0 0L411.4 608m0 0L411.5 615m0 0L411.6 595m0 0L411.7 637m0 0L411.9 612m0 0L412.0 598m0 0L412.1 599m0 0L412.2 637m0 0L412.3 632m0 0L412.4 542m0 0L412.5 612m0 0L412.6 593m0 0L412.8 598m0 0L412.9 583m0 0L413.0 611m0 0L413.1 600m0 0L413.2 618m0 0L413.3 619m0 0L413.4 614m0 0L413.5 615m0 0L413.7 605m0 0L413.8 630m0 0L413.9 619m0 0L414.0 622m0 0L414.1 606m0 0L414.2 588m0 0L414.3 615m0 0L414.4 609m0 0L414.6 612m0 0L414.7 624m0 0L414.8 614m0 0L414.9 593m0 0L415.0 578m0 0L415.1 616m0 0L415.2 600m0 0L415.3 606m0 0L415.5 583m0 0L415.6 605m0 0L415.7 614m0 0L415.8 623m0 0L415.9 614m0 0L416.0 612m0 0L416.1 629m0 0L416.2 577m0 0L416.4 601m0 0L416.5 611m0 0L416.6 607m0 0L416.7 629m0 0L416.8 608m0 0L416.9 630m0 0L417.0 605m0 0L417.2 616m0 0L417.3 635m0 0L417.4 633m0 0L417.5 634m0 0L417.6 608m0 0L417.7 607m0 0L417.8 631m0 0L417.9 617m0 0L418.1 616m0 0L418.2 613m0 0L418.3 631m0 0L418.4 609m0 0L418.5 622m0 0L418.6 612m0 0L418.7 598m0 0L418.9 606m0 0L419.0 601m0 0L419.1 611m0 0L419.2 628m0 0L419.3 616m0 0L419.4 587m0 0L419.5 616m0 0L419.6 600m0 0L419.8 604m0 0L419.9 602m0 0L420.0 610m0 0L420.1 578m0 0L420.2 603m0 0L420.3 582m0 0L420.4 605m0 0L420.5 609m0 0L420.7 607m0 0L420.8 606m0 0L420.9 609m0 0L421.0 574m0 0L421.1 600m0 0L421.2 603m0 0L421.3 623m0 0L421.5 608m0 0L421.6 617m0 0L421.7 631m0 0L421.8 629m0 0L421.9 607m0 0L422.0 615m0 0L422.1 615m0 0L422.2 599m0 0L422.4 612m0 0L422.5 581m0 0L422.6 598m0 0L422.7 630m0 0L422.8 611m0 0L422.9 609m0 0L423.0 543m0 0L423.2 591m0 0L423.3 619m0 0L423.4 611m0 0L423.5 599m0 0L423.6 612m0 0L423.7 605m0 0L423.8 620m0 0L424.0 623m0 0L424.1 577m0 0L424.2 618m0 0L424.3 611m0 0L424.4 617m0 0L424.5 610m0 0L424.6 591m0 0L424.7 553m0 0L424.9 625m0 0L425.0 610m0 0L425.1 604m0 0L425.2 594m0 0L425.3 580m0 0L425.4 624m0 0L425.5 587m0 0L425.7 599m0 0L425.8 620m0 0L425.9 617m0 0L426.0 607m0 0L426.1 599m0 0L426.2 621m0 0L426.3 599m0 0L426.5 615m0 0L426.6 613m0 0L426.7 560m0 0L426.8 598m0 0L426.9 602m0 0L427.0 610m0 0L427.1 601m0 0L427.2 601m0 0L427.4 601m0 0L427.5 608m0 0L427.6 613m0 0L427.7 622m0 0L427.8 610m0 0L427.9 557m0 0L428.0 629m0 0L428.2 602m0 0L428.3 551m0 0L428.4 597m0 0L428.5 592m0 0L428.6 617m0 0L428.7 633m0 0L428.8 581m0 0L429.0 615m0 0L429.1 595m0 0L429.2 610m0 0L429.3 571m0 0L429.4 619m0 0L429.5 607m0 0L429.6 619m0 0L429.8 541m0 0L429.9 621m0 0L430.0 613m0 0L430.1 578m0 0L430.2 608m0 0L430.3 615m0 0L430.4 607m0 0L430.5 606m0 0L430.7 609m0 0L430.8 620m0 0L430.9 605m0 0L431.0 607m0 0L431.1 630m0 0L431.2 602m0 0L431.3 621m0 0L431.5 565m0 0L431.6 624m0 0L431.7 604m0 0L431.8 627m0 0L431.9 614m0 0L432.0 609m0 0L432.1 560m0 0L432.3 601m0 0L432.4 592m0 0L432.5 599m0 0L432.6 605m0 0L432.7 626m0 0L432.8 566m0 0L432.9 589m0 0L433.1 602m0 0L433.2 573m0 0L433.3 616m0 0L433.4 603m0 0L433.5 588m0 0L433.6 607m0 0L433.7 588m0 0L433.9 602m0 0L434.0 565m0 0L434.1 578m0 0L434.2 605m0 0L434.3 607m0 0L434.4 604m0 0L434.5 626m0 0L434.7 600m0 0L434.8 614m0 0L434.9 595m0 0L435.0 623m0 0L435.1 582m0 0L435.2 614m0 0L435.3 602m0 0L435.5 596m0 0L435.6 634m0 0L435.7 620m0 0L435.8 611m0 0L435.9 607m0 0L436.0 610m0 0L436.1 595m0 0L436.3 625m0 0L436.4 618m0 0L436.5 624m0 0L436.6 596m0 0L436.7 609m0 0L436.8 581m0 0L436.9 619m0 0L437.1 631m0 0L437.2 608m0 0L437.3 613m0 0L437.4 607m0 0L437.5 614m0 0L437.6 624m0 0L437.7 605m0 0L437.9 625m0 0L438.0 606m0 0L438.1 626m0 0L438.2 605m0 0L438.3 615m0 0L438.4 615m0 0L438.6 618m0 0L438.7 609m0 0L438.8 602m0 0L438.9 614m0 0L439.0 611m0 0L439.1 632m0 0L439.2 623m0 0L439.4 594m0 0L439.5 625m0 0L439.6 602m0 0L439.7 614m0 0L439.8 602m0 0L439.9 606m0 0L440.0 602m0 0L440.2 579m0 0L440.3 557m0 0L440.4 609m0 0L440.5 620m0 0L440.6 614m0 0L440.7 622m0 0L440.8 613m0 0L441.0 606m0 0L441.1 609m0 0L441.2 609m0 0L441.3 607m0 0L441.4 630m0 0L441.5 623m0 0L441.6 625m0 0L441.8 615m0 0L441.9 587m0 0L442.0 619m0 0L442.1 619m0 0L442.2 605m0 0L442.3 622m0 0L442.5 622m0 0L442.6 614m0 0L442.7 624m0 0L442.8 617m0 0L442.9 623m0 0L443.0 595m0 0L443.1 580m0 0L443.3 583m0 0L443.4 580m0 0L443.5 610m0 0L443.6 618m0 0L443.7 630m0 0L443.8 603m0 0L443.9 607m0 0L444.1 614m0 0L444.2 603m0 0L444.3 589m0 0L444.4 617m0 0L444.5 601m0 0L444.6 610m0 0L444.7 608m0 0L444.9 602m0 0L445.0 623m0 0L445.1 614m0 0L445.2 586m0 0L445.3 617m0 0L445.4 611m0 0L445.6 616m0 0L445.7 618m0 0L445.8 562m0 0L445.9 628m0 0L446.0 599m0 0L446.1 629m0 0L446.2 596m0 0L446.4 621m0 0L446.5 585m0 0L446.6 586m0 0L446.7 616m0 0L446.8 619m0 0L446.9 623m0 0L447.1 636m0 0L447.2 570m0 0L447.3 604m0 0L447.4 595m0 0L447.5 613m0 0L447.6 615m0 0L447.7 630m0 0L447.9 631m0 0L448.0 608m0 0L448.1 596m0 0L448.2 599m0 0L448.3 612m0 0L448.4 609m0 0L448.5 597m0 0L448.7 606m0 0L448.8 610m0 0L448.9 616m0 0L449.0 615m0 0L449.1 630m0 0L449.2 573m0 0L449.4 607m0 0L449.5 557m0 0L449.6 612m0 0L449.7 586m0 0L449.8 592m0 0L449.9 615m0 0L450.0 603m0 0L450.2 603m0 0L450.3 613m0 0L450.4 617m0 0L450.5 610m0 0L450.6 608m0 0L450.7 617m0 0L450.9 600m0 0L451.0 592m0 0L451.1 577m0 0L451.2 626m0 0L451.3 622m0 0L451.4 611m0 0L451.5 620m0 0L451.7 608m0 0L451.8 609m0 0L451.9 624m0 0L452.0 613m0 0L452.1 630m0 0L452.2 604m0 0L452.4 608m0 0L452.5 575m0 0L452.6 621m0 0L452.7 625m0 0L452.8 612m0 0L452.9 632m0 0L453.1 609m0 0L453.2 608m0 0L453.3 616m0 0L453.4 599m0 0L453.5 616m0 0L453.6 614m0 0L453.7 615m0 0L453.9 624m0 0L454.0 610m0 0L454.1 576m0 0L454.2 617m0 0L454.3 588m0 0L454.4 616m0 0L454.6 612m0 0L454.7 610m0 0L454.8 589m0 0L454.9 601m0 0L455.0 627m0 0L455.1 596m0 0L455.2 627m0 0L455.4 625m0 0L455.5 619m0 0L455.6 611m0 0L455.7 603m0 0L455.8 617m0 0L455.9 593m0 0L456.1 598m0 0L456.2 611m0 0L456.3 603m0 0L456.4 605m0 0L456.5 584m0 0L456.6 613m0 0L456.8 577m0 0L456.9 618m0 0L457.0 606m0 0L457.1 626m0 0L457.2 585m0 0L457.3 608m0 0L457.4 574m0 0L457.6 628m0 0L457.7 604m0 0L457.8 614m0 0L457.9 603m0 0L458.0 596m0 0L458.1 611m0 0L458.3 586m0 0L458.4 636m0 0L458.5 606m0 0L458.6 577m0 0L458.7 620m0 0L458.8 590m0 0L459.0 613m0 0L459.1 631m0 0L459.2 611m0 0L459.3 609m0 0L459.4 601m0 0L459.5 597m0 0L459.7 629m0 0L459.8 631m0 0L459.9 603m0 0L460.0 609m0 0L460.1 596m0 0L460.2 591m0 0L460.3 532m0 0L460.5 624m0 0L460.6 629m0 0L460.7 617m0 0L460.8 621m0 0L460.9 606m0 0L461.0 611m0 0L461.2 601m0 0L461.3 622m0 0L461.4 599m0 0L461.5 613m0 0L461.6 622m0 0L461.7 623m0 0L461.9 606m0 0L462.0 605m0 0L462.1 613m0 0L462.2 596m0 0L462.3 560m0 0L462.4 613m0 0L462.6 605m0 0L462.7 610m0 0L462.8 604m0 0L462.9 595m0 0L463.0 598m0 0L463.1 606m0 0L463.3 613m0 0L463.4 627m0 0L463.5 595m0 0L463.6 609m0 0L463.7 605m0 0L463.8 584m0 0L464.0 594m0 0L464.1 595m0 0L464.2 626m0 0L464.3 613m0 0L464.4 547m0 0L464.5 621m0 0L464.6 574m0 0L464.8 624m0 0L464.9 613m0 0L465.0 604m0 0L465.1 622m0 0L465.2 577m0 0L465.3 580m0 0L465.5 607m0 0L465.6 596m0 0L465.7 608m0 0L465.8 596m0 0L465.9 566m0 0L466.0 610m0 0L466.2 623m0 0L466.3 612m0 0L466.4 635m0 0L466.5 625m0 0L466.6 581m0 0L466.7 591m0 0L466.9 600m0 0L467.0 622m0 0L467.1 611m0 0L467.2 624m0 0L467.3 608m0 0L467.4 597m0 0L467.6 619m0 0L467.7 617m0 0L467.8 616m0 0L467.9 600m0 0L468.0 599m0 0L468.1 602m0 0L468.3 617m0 0L468.4 609m0 0L468.5 606m0 0L468.6 626m0 0L468.7 632m0 0L468.8 623m0 0L469.0 620m0 0L469.1 625m0 0L469.2 608m0 0L469.3 611m0 0L469.4 615m0 0L469.5 630m0 0L469.7 619m0 0L469.8 637m0 0L469.9 608m0 0L470.0 593m0 0L470.1 612m0 0L470.2 604m0 0L470.4 602m0 0L470.5 635m0 0L470.6 623m0 0L470.7 614m0 0L470.8 584m0 0L470.9 622m0 0L471.1 611m0 0L471.2 561m0 0L471.3 630m0 0L471.4 621m0 0L471.5 597m0 0L471.6 613m0 0L471.8 628m0 0L471.9 585m0 0L472.0 610m0 0L472.1 561m0 0L472.2 629m0 0L472.3 625m0 0L472.5 628m0 0L472.6 551m0 0L472.7 606m0 0L472.8 592m0 0L472.9 628m0 0L473.0 621m0 0L473.2 626m0 0L473.3 628m0 0L473.4 630m0 0L473.5 632m0 0L473.6 607m0 0L473.7 607m0 0L473.9 630m0 0L474.0 610m0 0L474.1 617m0 0L474.2 581m0 0L474.3 596m0 0L474.5 629m0 0L474.6 597m0 0L474.7 616m0 0L474.8 613m0 0L474.9 600m0 0L475.0 611m0 0L475.2 615m0 0L475.3 592m0 0L475.4 597m0 0L475.5 625m0 0L475.6 593m0 0L475.7 622m0 0L475.9 591m0 0L476.0 612m0 0L476.1 628m0 0L476.2 617m0 0L476.3 580m0 0L476.4 632m0 0L476.6 627m0 0L476.7 612m0 0L476.8 634m0 0L476.9 615m0 0L477.0 617m0 0L477.1 630m0 0L477.3 582m0 0L477.4 608m0 0L477.5 624m0 0L477.6 624m0 0L477.7 618m0 0L477.8 620m0 0L478.0 625m0 0L478.1 589m0 0L478.2 608m0 0L478.3 608m0 0L478.4 633m0 0L478.6 576m0 0L478.7 618m0 0L478.8 627m0 0L478.9 606m0 0L479.0 600m0 0L479.1 618m0 0L479.3 622m0 0L479.4 579m0 0L479.5 615m0 0L479.6 600m0 0L479.7 629m0 0L479.8 624m0 0L480.0 626m0 0L480.1 582m0 0L480.2 634m0 0L480.3 585m0 0L480.4 609m0 0L480.5 608m0 0L480.7 629m0 0L480.8 631m0 0L480.9 605m0 0L481.0 617m0 0L481.1 605m0 0L481.3 630m0 0L481.4 611m0 0L481.5 608m0 0L481.6 607m0 0L481.7 631m0 0L481.8 613m0 0L482.0 609m0 0L482.1 610m0 0L482.2 603m0 0L482.3 586m0 0L482.4 621m0 0L482.5 593m0 0L482.7 605m0 0L482.8 606m0 0L482.9 606m0 0L483.0 627m0 0L483.1 581m0 0L483.2 594m0 0L483.4 610m0 0L483.5 617m0 0L483.6 554m0 0L483.7 610m0 0L483.8 588m0 0L484.0 603m0 0L484.1 609m0 0L484.2 610m0 0L484.3 633m0 0L484.4 600m0 0L484.5 618m0 0L484.7 579m0 0L484.8 571m0 0L484.9 583m0 0L485.0 586m0 0L485.1 603m0 0L485.2 626m0 0L485.4 603m0 0L485.5 622m0 0L485.6 598m0 0L485.7 592m0 0L485.8 620m0 0L486.0 596m0 0L486.1 607m0 0L486.2 584m0 0L486.3 612m0 0L486.4 628m0 0L486.5 616m0 0L486.7 584m0 0L486.8 631m0 0L486.9 545m0 0L487.0 606m0 0L487.1 606m0 0L487.3 607m0 0L487.4 606m0 0L487.5 609m0 0L487.6 626m0 0L487.7 626m0 0L487.8 611m0 0L488.0 598m0 0L488.1 635m0 0L488.2 582m0 0L488.3 582m0 0L488.4 614m0 0L488.5 593m0 0L488.7 616m0 0L488.8 579m0 0L488.9 616m0 0L489.0 609m0 0L489.1 628m0 0L489.3 604m0 0L489.4 607m0 0L489.5 613m0 0L489.6 599m0 0L489.7 602m0 0L489.8 555m0 0L490.0 594m0 0L490.1 614m0 0L490.2 606m0 0L490.3 604m0 0L490.4 607m0 0L490.6 613m0 0L490.7 562m0 0L490.8 614m0 0L490.9 608m0 0L491.0 605m0 0L491.1 615m0 0L491.3 629m0 0L491.4 622m0 0L491.5 600m0 0L491.6 605m0 0L491.7 614m0 0L491.9 624m0 0L492.0 606m0 0L492.1 544m0 0L492.2 615m0 0L492.3 606m0 0L492.4 633m0 0L492.6 596m0 0L492.7 609m0 0L492.8 596m0 0L492.9 606m0 0L493.0 607m0 0L493.2 598m0 0L493.3 601m0 0L493.4 605m0 0L493.5 616m0 0L493.6 590m0 0L493.7 628m0 0L493.9 616m0 0L494.0 594m0 0L494.1 616m0 0L494.2 589m0 0L494.3 588m0 0L494.5 575m0 0L494.6 581m0 0L494.7 600m0 0L494.8 606m0 0L494.9 623m0 0L495.0 600m0 0L495.2 633m0 0L495.3 628m0 0L495.4 620m0 0L495.5 624m0 0L495.6 620m0 0L495.8 583m0 0L495.9 615m0 0L496.0 596m0 0L496.1 600m0 0L496.2 616m0 0L496.3 604m0 0L496.5 569m0 0L496.6 606m0 0L496.7 608m0 0L496.8 590m0 0L496.9 614m0 0L497.1 564m0 0L497.2 538m0 0L497.3 540m0 0L497.4 617m0 0L497.5 609m0 0L497.7 618m0 0L497.8 562m0 0L497.9 619m0 0L498.0 608m0 0L498.1 593m0 0L498.2 605m0 0L498.4 628m0 0L498.5 585m0 0L498.6 560m0 0L498.7 624m0 0L498.8 607m0 0L499.0 608m0 0L499.1 614m0 0L499.2 611m0 0L499.3 602m0 0L499.4 575m0 0L499.5 589m0 0L499.7 603m0 0L499.8 607m0 0L499.9 620m0 0L500.0 594m0 0L500.1 593m0 0L500.3 634m0 0L500.4 590m0 0L500.5 617m0 0L500.6 603m0 0L500.7 603m0 0L500.9 595m0 0L501.0 595m0 0L501.1 608m0 0L501.2 614m0 0L501.3 628m0 0L501.4 632m0 0L501.6 591m0 0L501.7 614m0 0L501.8 560m0 0L501.9 607m0 0L502.0 605m0 0L502.2 619m0 0L502.3 575m0 0L502.4 596m0 0L502.5 621m0 0L502.6 597m0 0L502.8 602m0 0L502.9 610m0 0L503.0 618m0 0L503.1 629m0 0L503.2 608m0 0L503.3 604m0 0L503.5 616m0 0L503.6 618m0 0L503.7 608m0 0L503.8 618m0 0L503.9 628m0 0L504.1 628m0 0L504.2 611m0 0L504.3 594m0 0L504.4 624m0 0L504.5 570m0 0L504.7 624m0 0L504.8 620m0 0L504.9 580m0 0L505.0 617m0 0L505.1 609m0 0L505.3 586m0 0L505.4 630m0 0L505.5 586m0 0L505.6 617m0 0L505.7 593m0 0L505.8 599m0 0L506.0 600m0 0L506.1 617m0 0L506.2 598m0 0L506.3 614m0 0L506.4 621m0 0L506.6 601m0 0L506.7 599m0 0L506.8 614m0 0L506.9 591m0 0L507.0 615m0 0L507.2 605m0 0L507.3 599m0 0L507.4 583m0 0L507.5 618m0 0L507.6 612m0 0L507.8 603m0 0L507.9 605m0 0L508.0 627m0 0L508.1 631m0 0L508.2 610m0 0L508.3 592m0 0L508.5 592m0 0L508.6 597m0 0L508.7 601m0 0L508.8 629m0 0L508.9 603m0 0L509.1 576m0 0L509.2 619m0 0L509.3 612m0 0L509.4 599m0 0L509.5 609m0 0L509.7 617m0 0L509.8 610m0 0L509.9 585m0 0L510.0 606m0 0L510.1 606m0 0L510.3 607m0 0L510.4 604m0 0L510.5 607m0 0L510.6 616m0 0L510.7 607m0 0L510.9 607m0 0L511.0 622m0 0L511.1 611m0 0L511.2 597m0 0L511.3 592m0 0L511.4 615m0 0L511.6 602m0 0L511.7 613m0 0L511.8 627m0 0L511.9 617m0 0L512.0 609m0 0L512.2 628m0 0L512.3 605m0 0L512.4 624m0 0L512.5 610m0 0L512.6 607m0 0L512.8 610m0 0L512.9 632m0 0L513.0 619m0 0L513.1 607m0 0L513.2 603m0 0L513.4 563m0 0L513.5 598m0 0L513.6 579m0 0L513.7 607m0 0L513.8 588m0 0L514.0 587m0 0L514.1 617m0 0L514.2 615m0 0L514.3 618m0 0L514.4 600m0 0L514.6 604m0 0L514.7 601m0 0L514.8 618m0 0L514.9 601m0 0L515.0 616m0 0L515.2 615m0 0L515.3 624m0 0L515.4 604m0 0L515.5 599m0 0L515.6 605m0 0L515.7 598m0 0L515.9 630m0 0L516.0 622m0 0L516.1 603m0 0L516.2 603m0 0L516.3 604m0 0L516.5 564m0 0L516.6 627m0 0L516.7 611m0 0L516.8 583m0 0L516.9 621m0 0L517.1 614m0 0L517.2 626m0 0L517.3 631m0 0L517.4 600m0 0L517.5 585m0 0L517.7 593m0 0L517.8 629m0 0L517.9 614m0 0L518.0 634m0 0L518.1 604m0 0L518.3 594m0 0L518.4 606m0 0L518.5 607m0 0L518.6 595m0 0L518.7 615m0 0L518.9 591m0 0L519.0 610m0 0L519.1 620m0 0L519.2 607m0 0L519.3 584m0 0L519.5 636m0 0L519.6 606m0 0L519.7 594m0 0L519.8 577m0 0L519.9 612m0 0L520.1 604m0 0L520.2 567m0 0L520.3 622m0 0L520.4 614m0 0L520.5 604m0 0L520.7 603m0 0L520.8 545m0 0L520.9 604m0 0L521.0 607m0 0L521.1 616m0 0L521.3 633m0 0L521.4 594m0 0L521.5 625m0 0L521.6 609m0 0L521.7 554m0 0L521.9 616m0 0L522.0 609m0 0L522.1 633m0 0L522.2 621m0 0L522.3 626m0 0L522.5 602m0 0L522.6 628m0 0L522.7 594m0 0L522.8 629m0 0L522.9 613m0 0L523.1 611m0 0L523.2 626m0 0L523.3 601m0 0L523.4 599m0 0L523.5 597m0 0L523.7 609m0 0L523.8 616m0 0L523.9 627m0 0L524.0 577m0 0L524.1 627m0 0L524.3 609m0 0L524.4 630m0 0L524.5 606m0 0L524.6 579m0 0L524.7 606m0 0L524.9 593m0 0L525.0 597m0 0L525.1 604m0 0L525.2 595m0 0L525.3 617m0 0L525.5 611m0 0L525.6 619m0 0L525.7 604m0 0L525.8 608m0 0L525.9 585m0 0L526.1 619m0 0L526.2 597m0 0L526.3 594m0 0L526.4 591m0 0L526.5 597m0 0L526.7 614m0 0L526.8 622m0 0L526.9 617m0 0L527.0 607m0 0L527.1 562m0 0L527.3 612m0 0L527.4 599m0 0L527.5 627m0 0L527.6 601m0 0L527.7 618m0 0L527.9 598m0 0L528.0 604m0 0L528.1 601m0 0L528.2 572m0 0L528.4 604m0 0L528.5 612m0 0L528.6 607m0 0L528.7 607m0 0L528.8 617m0 0L529.0 622m0 0L529.1 606m0 0L529.2 610m0 0L529.3 613m0 0L529.4 617m0 0L529.6 607m0 0L529.7 631m0 0L529.8 597m0 0L529.9 606m0 0L530.0 627m0 0L530.2 578m0 0L530.3 629m0 0L530.4 629m0 0L530.5 586m0 0L530.6 629m0 0L530.8 626m0 0L530.9 623m0 0L531.0 618m0 0L531.1 574m0 0L531.2 625m0 0L531.4 612m0 0L531.5 595m0 0L531.6 612m0 0L531.7 603m0 0L531.8 563m0 0L532.0 621m0 0L532.1 624m0 0L532.2 611m0 0L532.3 611m0 0L532.4 618m0 0L532.6 608m0 0L532.7 606m0 0L532.8 614m0 0L532.9 594m0 0L533.1 613m0 0L533.2 604m0 0L533.3 602m0 0L533.4 611m0 0L533.5 632m0 0L533.7 617m0 0L533.8 623m0 0L533.9 625m0 0L534.0 589m0 0L534.1 612m0 0L534.3 607m0 0L534.4 590m0 0L534.5 627m0 0L534.6 627m0 0L534.7 546m0 0L534.9 596m0 0L535.0 584m0 0L535.1 601m0 0L535.2 602m0 0L535.3 624m0 0L535.5 609m0 0L535.6 609m0 0L535.7 570m0 0L535.8 620m0 0L535.9 587m0 0L536.1 583m0 0L536.2 584m0 0L536.3 609m0 0L536.4 618m0 0L536.6 603m0 0L536.7 604m0 0L536.8 618m0 0L536.9 624m0 0L537.0 629m0 0L537.2 581m0 0L537.3 613m0 0L537.4 613m0 0L537.5 613m0 0L537.6 583m0 0L537.8 610m0 0L537.9 603m0 0L538.0 616m0 0L538.1 619m0 0L538.2 623m0 0L538.4 601m0 0L538.5 613m0 0L538.6 570m0 0L538.7 633m0 0L538.9 588m0 0L539.0 609m0 0L539.1 569m0 0L539.2 611m0 0L539.3 607m0 0L539.5 618m0 0L539.6 623m0 0L539.7 603m0 0L539.8 606m0 0L539.9 586m0 0L540.1 560m0 0L540.2 594m0 0L540.3 602m0 0L540.4 583m0 0L540.5 611m0 0L540.7 600m0 0L540.8 607m0 0L540.9 609m0 0L541.0 576m0 0L541.2 608m0 0L541.3 618m0 0L541.4 626m0 0L541.5 566m0 0L541.6 624m0 0L541.8 556m0 0L541.9 599m0 0L542.0 611m0 0L542.1 597m0 0L542.2 581m0 0L542.4 614m0 0L542.5 624m0 0L542.6 607m0 0L542.7 622m0 0L542.8 601m0 0L543.0 618m0 0L543.1 612m0 0L543.2 579m0 0L543.3 623m0 0L543.5 596m0 0L543.6 619m0 0L543.7 602m0 0L543.8 614m0 0L543.9 598m0 0L544.1 632m0 0L544.2 617m0 0L544.3 625m0 0L544.4 611m0 0L544.5 613m0 0L544.7 624m0 0L544.8 596m0 0L544.9 602m0 0L545.0 612m0 0L545.2 573m0 0L545.3 630m0 0L545.4 575m0 0L545.5 616m0 0L545.6 607m0 0L545.8 542m0 0L545.9 628m0 0L546.0 627m0 0L546.1 620m0 0L546.2 617m0 0L546.4 552m0 0L546.5 633m0 0L546.6 622m0 0L546.7 609m0 0L546.9 626m0 0L547.0 621m0 0L547.1 583m0 0L547.2 635m0 0L547.3 584m0 0L547.5 619m0 0L547.6 621m0 0L547.7 569m0 0L547.8 608m0 0L547.9 606m0 0L548.1 623m0 0L548.2 623m0 0L548.3 617m0 0L548.4 579m0 0L548.6 608m0 0L548.7 599m0 0L548.8 610m0 0L548.9 602m0 0L549.0 603m0 0L549.2 603m0 0L549.3 597m0 0L549.4 602m0 0L549.5 583m0 0L549.6 591m0 0L549.8 601m0 0L549.9 586m0 0L550.0 624m0 0L550.1 613m0 0L550.3 603m0 0L550.4 627m0 0L550.5 580m0 0L550.6 552m0 0L550.7 588m0 0L550.9 616m0 0L551.0 626m0 0L551.1 619m0 0L551.2 600m0 0L551.4 619m0 0L551.5 593m0 0L551.6 571m0 0L551.7 557m0 0L551.8 634m0 0L552.0 595m0 0L552.1 617m0 0L552.2 634m0 0L552.3 583m0 0L552.4 622m0 0L552.6 591m0 0L552.7 617m0 0L552.8 598m0 0L552.9 608m0 0L553.1 617m0 0L553.2 611m0 0L553.3 609m0 0L553.4 607m0 0L553.5 580m0 0L553.7 541m0 0L553.8 612m0 0L553.9 557m0 0L554.0 604m0 0L554.2 590m0 0L554.3 632m0 0L554.4 622m0 0L554.5 611m0 0L554.6 624m0 0L554.8 618m0 0L554.9 584m0 0L555.0 603m0 0L555.1 608m0 0L555.3 627m0 0L555.4 591m0 0L555.5 580m0 0L555.6 582m0 0L555.7 604m0 0L555.9 601m0 0L556.0 591m0 0L556.1 606m0 0L556.2 598m0 0L556.3 595m0 0L556.5 602m0 0L556.6 598m0 0L556.7 612m0 0L556.8 586m0 0L557.0 611m0 0L557.1 609m0 0L557.2 600m0 0L557.3 623m0 0L557.4 626m0 0L557.6 590m0 0L557.7 605m0 0L557.8 630m0 0L557.9 593m0 0L558.1 579m0 0L558.2 610m0 0L558.3 613m0 0L558.4 579m0 0L558.5 594m0 0L558.7 599m0 0L558.8 599m0 0L558.9 590m0 0L559.0 619m0 0L559.2 605m0 0L559.3 604m0 0L559.4 585m0 0L559.5 538m0 0L559.6 596m0 0L559.8 631m0 0L559.9 609m0 0L560.0 604m0 0L560.1 624m0 0L560.3 629m0 0L560.4 601m0 0L560.5 601m0 0L560.6 615m0 0L560.7 622m0 0L560.9 618m0 0L561.0 597m0 0L561.1 590m0 0L561.2 602m0 0L561.4 632m0 0L561.5 595m0 0L561.6 601m0 0L561.7 617m0 0L561.8 601m0 0L562.0 612m0 0L562.1 621m0 0L562.2 603m0 0L562.3 596m0 0L562.5 599m0 0L562.6 619m0 0L562.7 599m0 0L562.8 619m0 0L562.9 610m0 0L563.1 598m0 0L563.2 602m0 0L563.3 597m0 0L563.4 625m0 0L563.6 617m0 0L563.7 618m0 0L563.8 562m0 0L563.9 586m0 0L564.1 614m0 0L564.2 608m0 0L564.3 548m0 0L564.4 582m0 0L564.5 602m0 0L564.7 616m0 0L564.8 600m0 0L564.9 609m0 0L565.0 570m0 0L565.2 633m0 0L565.3 579m0 0L565.4 579m0 0L565.5 574m0 0L565.6 586m0 0L565.8 604m0 0L565.9 598m0 0L566.0 616m0 0L566.1 613m0 0L566.3 621m0 0L566.4 577m0 0L566.5 586m0 0L566.6 624m0 0L566.7 603m0 0L566.9 596m0 0L567.0 601m0 0L567.1 563m0 0L567.2 595m0 0L567.4 557m0 0L567.5 629m0 0L567.6 607m0 0L567.7 579m0 0L567.9 620m0 0L568.0 584m0 0L568.1 630m0 0L568.2 621m0 0L568.3 609m0 0L568.5 609m0 0L568.6 625m0 0L568.7 590m0 0L568.8 604m0 0L569.0 589m0 0L569.1 612m0 0L569.2 627m0 0L569.3 608m0 0L569.4 611m0 0L569.6 624m0 0L569.7 620m0 0L569.8 612m0 0L569.9 612m0 0L570.1 531m0 0L570.2 613m0 0L570.3 612m0 0L570.4 613m0 0L570.6 607m0 0L570.7 618m0 0L570.8 597m0 0L570.9 614m0 0L571.0 603m0 0L571.2 597m0 0L571.3 590m0 0L571.4 600m0 0L571.5 534m0 0L571.7 609m0 0L571.8 610m0 0L571.9 606m0 0L572.0 632m0 0L572.1 626m0 0L572.3 616m0 0L572.4 621m0 0L572.5 598m0 0L572.6 610m0 0L572.8 613m0 0L572.9 599m0 0L573.0 595m0 0L573.1 613m0 0L573.3 610m0 0L573.4 577m0 0L573.5 603m0 0L573.6 617m0 0L573.7 590m0 0L573.9 622m0 0L574.0 583m0 0L574.1 605m0 0L574.2 610m0 0L574.4 599m0 0L574.5 595m0 0L574.6 564m0 0L574.7 603m0 0L574.9 619m0 0L575.0 615m0 0L575.1 619m0 0L575.2 590m0 0L575.3 602m0 0L575.5 610m0 0L575.6 585m0 0L575.7 602m0 0L575.8 607m0 0L576.0 625m0 0L576.1 627m0 0L576.2 613m0 0L576.3 623m0 0L576.5 632m0 0L576.6 599m0 0L576.7 603m0 0L576.8 593m0 0L576.9 601m0 0L577.1 602m0 0L577.2 592m0 0L577.3 614m0 0L577.4 630m0 0L577.6 616m0 0L577.7 619m0 0L577.8 611m0 0L577.9 623m0 0L578.1 608m0 0L578.2 605m0 0L578.3 587m0 0L578.4 609m0 0L578.5 603m0 0L578.7 619m0 0L578.8 621m0 0L578.9 569m0 0L579.0 618m0 0L579.2 617m0 0L579.3 602m0 0L579.4 625m0 0L579.5 606m0 0L579.7 627m0 0L579.8 602m0 0L579.9 573m0 0L580.0 603m0 0L580.2 538m0 0L580.3 628m0 0L580.4 609m0 0L580.5 610m0 0L580.6 583m0 0L580.8 612m0 0L580.9 584m0 0L581.0 623m0 0L581.1 624m0 0L581.3 544m0 0L581.4 621m0 0L581.5 602m0 0L581.6 607m0 0L581.8 606m0 0L581.9 628m0 0L582.0 616m0 0L582.1 590m0 0L582.3 617m0 0L582.4 600m0 0L582.5 612m0 0L582.6 615m0 0L582.7 621m0 0L582.9 632m0 0L583.0 619m0 0L583.1 625m0 0L583.2 617m0 0L583.4 602m0 0L583.5 602m0 0L583.6 618m0 0L583.7 598m0 0L583.9 617m0 0L584.0 625m0 0L584.1 611m0 0L584.2 563m0 0L584.4 610m0 0L584.5 621m0 0L584.6 620m0 0L584.7 543m0 0L584.8 615m0 0L585.0 626m0 0L585.1 575m0 0L585.2 618m0 0L585.3 590m0 0L585.5 578m0 0L585.6 626m0 0L585.7 606m0 0L585.8 580m0 0L586.0 626m0 0L586.1 598m0 0L586.2 619m0 0L586.3 596m0 0L586.5 605m0 0L586.6 599m0 0L586.7 598m0 0L586.8 622m0 0L586.9 606m0 0L587.1 605m0 0L587.2 599m0 0L587.3 542m0 0L587.4 599m0 0L587.6 625m0 0L587.7 605m0 0L587.8 623m0 0L587.9 606m0 0L588.1 612m0 0L588.2 608m0 0L588.3 614m0 0L588.4 616m0 0L588.6 582m0 0L588.7 627m0 0L588.8 583m0 0L588.9 599m0 0L589.1 596m0 0L589.2 609m0 0L589.3 597m0 0L589.4 622m0 0L589.5 558m0 0L589.7 591m0 0L589.8 608m0 0L589.9 615m0 0L590.0 600m0 0L590.2 584m0 0L590.3 627m0 0L590.4 597m0 0L590.5 623m0 0L590.7 620m0 0L590.8 624m0 0L590.9 615m0 0L591.0 620m0 0L591.2 609m0 0L591.3 626m0 0L591.4 565m0 0L591.5 586m0 0L591.7 600m0 0L591.8 595m0 0L591.9 586m0 0L592.0 592m0 0L592.1 610m0 0L592.3 608m0 0L592.4 597m0 0L592.5 619m0 0L592.6 628m0 0L592.8 584m0 0L592.9 618m0 0L593.0 613m0 0L593.1 619m0 0L593.3 594m0 0L593.4 589m0 0L593.5 608m0 0L593.6 619m0 0L593.8 604m0 0L593.9 611m0 0L594.0 616m0 0L594.1 624m0 0L594.3 625m0 0L594.4 624m0 0L594.5 606m0 0L594.6 584m0 0L594.8 584m0 0L594.9 625m0 0L595.0 623m0 0L595.1 622m0 0L595.3 598m0 0L595.4 619m0 0L595.5 568m0 0L595.6 605m0 0L595.7 620m0 0L595.9 591m0 0L596.0 623m0 0L596.1 567m0 0L596.2 593m0 0L596.4 583m0 0L596.5 610m0 0L596.6 612m0 0L596.7 597m0 0L596.9 601m0 0L597.0 613m0 0L597.1 632m0 0L597.2 611m0 0L597.4 577m0 0L597.5 606m0 0L597.6 595m0 0L597.7 603m0 0L597.9 600m0 0L598.0 618m0 0L598.1 598m0 0L598.2 592m0 0L598.4 608m0 0L598.5 608m0 0L598.6 566m0 0L598.7 608m0 0L598.9 580m0 0L599.0 541m0 0L599.1 607m0 0L599.2 624m0 0L599.4 580m0 0L599.5 610m0 0L599.6 615m0 0L599.7 632m0 0L599.9 593m0 0L600.0 581m0 0L600.1 607m0 0L600.2 618m0 0L600.3 605m0 0L600.5 605m0 0L600.6 615m0 0L600.7 611m0 0L600.8 597m0 0L601.0 623m0 0L601.1 624m0 0L601.2 610m0 0L601.3 600m0 0L601.5 621m0 0L601.6 617m0 0L601.7 609m0 0L601.8 627m0 0L602.0 598m0 0L602.1 602m0 0L602.2 626m0 0L602.3 594m0 0L602.5 604m0 0L602.6 627m0 0L602.7 562m0 0L602.8 617m0 0L603.0 587m0 0L603.1 618m0 0L603.2 600m0 0L603.3 614m0 0L603.5 587m0 0L603.6 618m0 0L603.7 598m0 0L603.8 580m0 0L604.0 612m0 0L604.1 594m0 0L604.2 594m0 0L604.3 609m0 0L604.5 584m0 0L604.6 622m0 0L604.7 625m0 0L604.8 626m0 0L605.0 603m0 0L605.1 536m0 0L605.2 584m0 0L605.3 604m0 0L605.5 624m0 0L605.6 615m0 0L605.7 613m0 0L605.8 599m0 0L606.0 604m0 0L606.1 609m0 0L606.2 620m0 0L606.3 601m0 0L606.5 608m0 0L606.6 611m0 0L606.7 578m0 0L606.8 609m0 0L607.0 596m0 0L607.1 611m0 0L607.2 629m0 0L607.3 605m0 0L607.5 604m0 0L607.6 625m0 0L607.7 604m0 0L607.8 615m0 0L608.0 598m0 0L608.1 619m0 0L608.2 627m0 0L608.3 613m0 0L608.5 611m0 0L608.6 606m0 0L608.7 586m0 0L608.8 629m0 0L609.0 627m0 0L609.1 605m0 0L609.2 634m0 0L609.3 607m0 0L609.5 613m0 0L609.6 594m0 0L609.7 602m0 0L609.8 617m0 0L610.0 592m0 0L610.1 608m0 0L610.2 625m0 0L610.3 605m0 0L610.5 614m0 0L610.6 606m0 0L610.7 619m0 0L610.8 611m0 0L611.0 603m0 0L611.1 604m0 0L611.2 603m0 0L611.3 611m0 0L611.5 575m0 0L611.6 581m0 0L611.7 627m0 0L611.8 608m0 0L612.0 622m0 0L612.1 604m0 0L612.2 602m0 0L612.3 616m0 0L612.5 619m0 0L612.6 621m0 0L612.7 593m0 0L612.8 605m0 0L613.0 602m0 0L613.1 613m0 0L613.2 571m0 0L613.3 625m0 0L613.5 617m0 0L613.6 573m0 0L613.7 619m0 0L613.8 618m0 0L614.0 608m0 0L614.1 601m0 0L614.2 547m0 0L614.3 601m0 0L614.5 608m0 0L614.6 630m0 0L614.7 599m0 0L614.8 611m0 0L615.0 596m0 0L615.1 617m0 0L615.2 618m0 0L615.3 625m0 0L615.5 621m0 0L615.6 554m0 0L615.7 613m0 0L615.8 610m0 0L616.0 587m0 0L616.1 612m0 0L616.2 604m0 0L616.3 619m0 0L616.5 605m0 0L616.6 606m0 0L616.7 610m0 0L616.8 593m0 0L617.0 619m0 0L617.1 556m0 0L617.2 601m0 0L617.3 598m0 0L617.5 583m0 0L617.6 565m0 0L617.7 612m0 0L617.8 622m0 0L618.0 609m0 0L618.1 599m0 0L618.2 619m0 0L618.3 591m0 0L618.5 612m0 0L618.6 573m0 0L618.7 613m0 0L618.8 601m0 0L619.0 594m0 0L619.1 598m0 0L619.2 599m0 0L619.3 589m0 0L619.5 587m0 0L619.6 606m0 0L619.7 625m0 0L619.8 597m0 0L620.0 617m0 0L620.1 618m0 0L620.2 580m0 0L620.3 617m0 0L620.5 612m0 0L620.6 615m0 0L620.7 634m0 0L620.8 613m0 0L621.0 540m0 0L621.1 575m0 0L621.2 624m0 0L621.4 610m0 0L621.5 610m0 0L621.6 606m0 0L621.7 608m0 0L621.9 602m0 0L622.0 621m0 0L622.1 608m0 0L622.2 609m0 0L622.4 630m0 0L622.5 607m0 0L622.6 612m0 0L622.7 613m0 0L622.9 586m0 0L623.0 626m0 0L623.1 593m0 0L623.2 579m0 0L623.4 570m0 0L623.5 590m0 0L623.6 597m0 0L623.7 607m0 0L623.9 615m0 0L624.0 595m0 0L624.1 619m0 0L624.2 612m0 0L624.4 593m0 0L624.5 620m0 0L624.6 578m0 0L624.7 592m0 0L624.9 593m0 0L625.0 623m0 0L625.1 602m0 0L625.2 627m0 0L625.4 622m0 0L625.5 620m0 0L625.6 632m0 0L625.7 622m0 0L625.9 611m0 0L626.0 583m0 0L626.1 621m0 0L626.3 624m0 0L626.4 613m0 0L626.5 598m0 0L626.6 612m0 0L626.8 612m0 0L626.9 626m0 0L627.0 583m0 0L627.1 596m0 0L627.3 607m0 0L627.4 610m0 0L627.5 614m0 0L627.6 590m0 0L627.8 620m0 0L627.9 593m0 0L628.0 603m0 0L628.1 607m0 0L628.3 570m0 0L628.4 614m0 0L628.5 612m0 0L628.6 611m0 0L628.8 616m0 0L628.9 629m0 0L629.0 598m0 0L629.1 593m0 0L629.3 618m0 0L629.4 603m0 0L629.5 625m0 0L629.7 595m0 0L629.8 593m0 0L629.9 617m0 0L630.0 600m0 0L630.2 585m0 0L630.3 616m0 0L630.4 584m0 0L630.5 602m0 0L630.7 600m0 0L630.8 613m0 0L630.9 610m0 0L631.0 616m0 0L631.2 609m0 0L631.3 605m0 0L631.4 573m0 0L631.5 588m0 0L631.7 615m0 0L631.8 554m0 0L631.9 612m0 0L632.0 579m0 0L632.2 621m0 0L632.3 610m0 0L632.4 587m0 0L632.6 621m0 0L632.7 565m0 0L632.8 600m0 0L632.9 623m0 0L633.1 596m0 0L633.2 628m0 0L633.3 604m0 0L633.4 546m0 0L633.6 612m0 0L633.7 618m0 0L633.8 601m0 0L633.9 594m0 0L634.1 600m0 0L634.2 597m0 0L634.3 606m0 0L634.4 631m0 0L634.6 624m0 0L634.7 574m0 0L634.8 609m0 0L634.9 583m0 0L635.1 625m0 0L635.2 567m0 0L635.3 618m0 0L635.5 628m0 0L635.6 607m0 0L635.7 597m0 0L635.8 596m0 0L636.0 590m0 0L636.1 596m0 0L636.2 568m0 0L636.3 610m0 0L636.5 630m0 0L636.6 594m0 0L636.7 612m0 0L636.8 585m0 0L637.0 599m0 0L637.1 606m0 0L637.2 633m0 0L637.3 608m0 0L637.5 601m0 0L637.6 623m0 0L637.7 603m0 0L637.9 602m0 0L638.0 598m0 0L638.1 616m0 0L638.2 600m0 0L638.4 596m0 0L638.5 575m0 0L638.6 596m0 0L638.7 617m0 0L638.9 603m0 0L639.0 607m0 0L639.1 605m0 0L639.2 616m0 0L639.4 604m0 0L639.5 610m0 0L639.6 551m0 0L639.8 612m0 0L639.9 610m0 0L640.0 604m0 0L640.1 605m0 0L640.3 594m0 0L640.4 600m0 0L640.5 586m0 0L640.6 606m0 0L640.8 628m0 0L640.9 612m0 0L641.0 609m0 0L641.1 612m0 0L641.3 599m0 0L641.4 633m0 0L641.5 613m0 0L641.6 628m0 0L641.8 619m0 0L641.9 614m0 0L642.0 631m0 0L642.2 617m0 0L642.3 589m0 0L642.4 606m0 0L642.5 568m0 0L642.7 614m0 0L642.8 625m0 0L642.9 605m0 0L643.0 614m0 0L643.2 602m0 0L643.3 631m0 0L643.4 627m0 0L643.5 619m0 0L643.7 608m0 0L643.8 607m0 0L643.9 615m0 0L644.1 598m0 0L644.2 592m0 0L644.3 615m0 0L644.4 605m0 0L644.6 629m0 0L644.7 622m0 0L644.8 624m0 0L644.9 599m0 0L645.1 533m0 0L645.2 562m0 0L645.3 608m0 0L645.5 581m0 0L645.6 602m0 0L645.7 628m0 0L645.8 619m0 0L646.0 594m0 0L646.1 622m0 0L646.2 602m0 0L646.3 600m0 0L646.5 613m0 0L646.6 603m0 0L646.7 616m0 0L646.8 600m0 0L647.0 625m0 0L647.1 618m0 0L647.2 608m0 0L647.4 612m0 0L647.5 602m0 0L647.6 608m0 0L647.7 607m0 0L647.9 612m0 0L648.0 630m0 0L648.1 589m0 0L648.2 596m0 0L648.4 602m0 0L648.5 616m0 0L648.6 563m0 0L648.7 621m0 0L648.9 631m0 0L649.0 631m0 0L649.1 617m0 0L649.3 622m0 0L649.4 616m0 0L649.5 600m0 0L649.6 624m0 0L649.8 592m0 0L649.9 623m0 0L650.0 603m0 0L650.1 624m0 0L650.3 585m0 0L650.4 599m0 0L650.5 627m0 0L650.7 612m0 0L650.8 604m0 0L650.9 606m0 0L651.0 607m0 0L651.2 601m0 0L651.3 588m0 0L651.4 605m0 0L651.5 593m0 0L651.7 597m0 0L651.8 583m0 0L651.9 591m0 0L652.1 616m0 0L652.2 607m0 0L652.3 610m0 0L652.4 609m0 0L652.6 601m0 0L652.7 616m0 0L652.8 596m0 0L652.9 608m0 0L653.1 583m0 0L653.2 577m0 0L653.3 608m0 0L653.5 599m0 0L653.6 576m0 0L653.7 597m0 0L653.8 581m0 0L654.0 631m0 0L654.1 621m0 0L654.2 623m0 0L654.3 612m0 0L654.5 626m0 0L654.6 571m0 0L654.7 597m0 0L654.8 578m0 0L655.0 601m0 0L655.1 614m0 0L655.2 614m0 0L655.4 623m0 0L655.5 624m0 0L655.6 617m0 0L655.7 610m0 0L655.9 609m0 0L656.0 593m0 0L656.1 624m0 0L656.3 624m0 0L656.4 623m0 0L656.5 602m0 0L656.6 590m0 0L656.8 590m0 0L656.9 616m0 0L657.0 630m0 0L657.1 605m0 0L657.3 613m0 0L657.4 628m0 0L657.5 634m0 0L657.7 584m0 0L657.8 618m0 0L657.9 617m0 0L658.0 610m0 0L658.2 617m0 0L658.3 608m0 0L658.4 595m0 0L658.5 586m0 0L658.7 571m0 0L658.8 621m0 0L658.9 554m0 0L659.1 613m0 0L659.2 623m0 0L659.3 609m0 0L659.4 615m0 0L659.6 601m0 0L659.7 610m0 0L659.8 583m0 0L659.9 623m0 0L660.1 557m0 0L660.2 619m0 0L660.3 634m0 0L660.5 597m0 0L660.6 603m0 0L660.7 608m0 0L660.8 579m0 0L661.0 614m0 0L661.1 605m0 0L661.2 594m0 0L661.3 624m0 0L661.5 588m0 0L661.6 532m0 0L661.7 605m0 0L661.9 601m0 0L662.0 603m0 0L662.1 587m0 0L662.2 627m0 0L662.4 629m0 0L662.5 600m0 0L662.6 556m0 0L662.8 631m0 0L662.9 615m0 0L663.0 566m0 0L663.1 600m0 0L663.3 635m0 0L663.4 607m0 0L663.5 611m0 0L663.6 589m0 0L663.8 598m0 0L663.9 597m0 0L664.0 580m0 0L664.2 612m0 0L664.3 627m0 0L664.4 604m0 0L664.5 603m0 0L664.7 631m0 0L664.8 624m0 0L664.9 602m0 0L665.1 598m0 0L665.2 627m0 0L665.3 540m0 0L665.4 596m0 0L665.6 611m0 0L665.7 605m0 0L665.8 607m0 0L665.9 605m0 0L666.1 623m0 0L666.2 620m0 0L666.3 601m0 0L666.5 597m0 0L666.6 604m0 0L666.7 573m0 0L666.8 598m0 0L667.0 603m0 0L667.1 561m0 0L667.2 606m0 0L667.4 592m0 0L667.5 604m0 0L667.6 608m0 0L667.7 599m0 0L667.9 607m0 0L668.0 602m0 0L668.1 602m0 0L668.2 579m0 0L668.4 578m0 0L668.5 603m0 0L668.6 612m0 0L668.8 568m0 0L668.9 610m0 0L669.0 619m0 0L669.1 609m0 0L669.3 596m0 0L669.4 592m0 0L669.5 609m0 0L669.7 609m0 0L669.8 593m0 0L669.9 606m0 0L670.0 611m0 0L670.2 571m0 0L670.3 629m0 0L670.4 569m0 0L670.6 591m0 0L670.7 606m0 0L670.8 617m0 0L670.9 624m0 0L671.1 624m0 0L671.2 608m0 0L671.3 605m0 0L671.4 602m0 0L671.6 621m0 0L671.7 614m0 0L671.8 602m0 0L672.0 576m0 0L672.1 603m0 0L672.2 600m0 0L672.3 612m0 0L672.5 601m0 0L672.6 607m0 0L672.7 605m0 0L672.9 609m0 0L673.0 572m0 0L673.1 609m0 0L673.2 611m0 0L673.4 631m0 0L673.5 602m0 0L673.6 591m0 0L673.8 606m0 0L673.9 612m0 0L674.0 592m0 0L674.1 590m0 0L674.3 614m0 0L674.4 604m0 0L674.5 585m0 0L674.7 589m0 0L674.8 627m0 0L674.9 613m0 0L675.0 608m0 0L675.2 632m0 0L675.3 590m0 0L675.4 597m0 0L675.5 598m0 0L675.7 628m0 0L675.8 595m0 0L675.9 610m0 0L676.1 607m0 0L676.2 626m0 0L676.3 592m0 0L676.4 593m0 0L676.6 612m0 0L676.7 572m0 0L676.8 592m0 0L677.0 618m0 0L677.1 607m0 0L677.2 625m0 0L677.3 621m0 0L677.5 616m0 0L677.6 618m0 0L677.7 595m0 0L677.9 618m0 0L678.0 594m0 0L678.1 600m0 0L678.2 609m0 0L678.4 603m0 0L678.5 594m0 0L678.6 605m0 0L678.8 583m0 0L678.9 626m0 0L679.0 595m0 0L679.1 593m0 0L679.3 544m0 0L679.4 593m0 0L679.5 606m0 0L679.7 586m0 0L679.8 601m0 0L679.9 602m0 0L680.0 628m0 0L680.2 570m0 0L680.3 617m0 0L680.4 602m0 0L680.6 609m0 0L680.7 604m0 0L680.8 616m0 0L680.9 574m0 0L681.1 624m0 0L681.2 550m0 0L681.3 594m0 0L681.5 630m0 0L681.6 622m0 0L681.7 565m0 0L681.8 629m0 0L682.0 590m0 0L682.1 614m0 0L682.2 621m0 0L682.4 597m0 0L682.5 589m0 0L682.6 606m0 0L682.7 622m0 0L682.9 615m0 0L683.0 603m0 0L683.1 616m0 0L683.3 601m0 0L683.4 604m0 0L683.5 611m0 0L683.6 594m0 0L683.8 613m0 0L683.9 578m0 0L684.0 591m0 0L684.2 618m0 0L684.3 565m0 0L684.4 585m0 0L684.5 591m0 0L684.7 625m0 0L684.8 605m0 0L684.9 611m0 0L685.1 610m0 0L685.2 599m0 0L685.3 621m0 0L685.4 568m0 0L685.6 603m0 0L685.7 613m0 0L685.8 605m0 0L686.0 615m0 0L686.1 621m0 0L686.2 604m0 0L686.3 607m0 0L686.5 600m0 0L686.6 561m0 0L686.7 599m0 0L686.9 625m0 0L687.0 621m0 0L687.1 585m0 0L687.2 621m0 0L687.4 620m0 0L687.5 599m0 0L687.6 632m0 0L687.8 605m0 0L687.9 596m0 0L688.0 625m0 0L688.1 623m0 0L688.3 585m0 0L688.4 597m0 0L688.5 604m0 0L688.7 603m0 0L688.8 596m0 0L688.9 546m0 0L689.1 588m0 0L689.2 611m0 0L689.3 619m0 0L689.4 619m0 0L689.6 608m0 0L689.7 623m0 0L689.8 607m0 0L690.0 623m0 0L690.1 603m0 0L690.2 594m0 0L690.3 614m0 0L690.5 594m0 0L690.6 622m0 0L690.7 602m0 0L690.9 615m0 0L691.0 593m0 0L691.1 608m0 0L691.2 615m0 0L691.4 593m0 0L691.5 559m0 0L691.6 595m0 0L691.8 594m0 0L691.9 604m0 0L692.0 612m0 0L692.1 595m0 0L692.3 599m0 0L692.4 622m0 0L692.5 602m0 0L692.7 604m0 0L692.8 604m0 0L692.9 591m0 0L693.1 609m0 0L693.2 560m0 0L693.3 615m0 0L693.4 608m0 0L693.6 612m0 0L693.7 582m0 0L693.8 623m0 0L694.0 604m0 0L694.1 602m0 0L694.2 602m0 0L694.3 593m0 0L694.5 601m0 0L694.6 620m0 0L694.7 618m0 0L694.9 586m0 0L695.0 578m0 0L695.1 615m0 0L695.2 613m0 0L695.4 599m0 0L695.5 626m0 0L695.6 602m0 0L695.8 622m0 0L695.9 579m0 0L696.0 597m0 0L696.2 608m0 0L696.3 604m0 0L696.4 589m0 0L696.5 611m0 0L696.7 620m0 0L696.8 613m0 0L696.9 621m0 0L697.1 572m0 0L697.2 573m0 0L697.3 614m0 0L697.4 620m0 0L697.6 624m0 0L697.7 615m0 0L697.8 591m0 0L698.0 619m0 0L698.1 583m0 0L698.2 592m0 0L698.3 534m0 0L698.5 561m0 0L698.6 624m0 0L698.7 605m0 0L698.9 570m0 0L699.0 601m0 0L699.1 566m0 0L699.3 610m0 0L699.4 594m0 0L699.5 547m0 0L699.6 618m0 0L699.8 610m0 0L699.9 611m0 0L700.0 601m0 0L700.2 620m0 0L700.3 600m0 0L700.4 595m0 0L700.5 605m0 0L700.7 597m0 0L700.8 620m0 0L700.9 596m0 0L701.1 603m0 0L701.2 604m0 0L701.3 614m0 0L701.5 600m0 0L701.6 616m0 0L701.7 574m0 0L701.8 624m0 0L702.0 623m0 0L702.1 604m0 0L702.2 612m0 0L702.4 615m0 0L702.5 603m0 0L702.6 619m0 0L702.8 615m0 0L702.9 582m0 0L703.0 590m0 0L703.1 592m0 0L703.3 627m0 0L703.4 613m0 0L703.5 576m0 0L703.7 620m0 0L703.8 625m0 0L703.9 625m0 0L704.0 626m0 0L704.2 569m0 0L704.3 582m0 0L704.4 622m0 0L704.6 562m0 0L704.7 619m0 0L704.8 615m0 0L705.0 630m0 0L705.1 601m0 0L705.2 592m0 0L705.3 616m0 0L705.5 587m0 0L705.6 593m0 0L705.7 629m0 0L705.9 586m0 0L706.0 608m0 0L706.1 594m0 0L706.3 628m0 0L706.4 624m0 0L706.5 618m0 0L706.6 609m0 0L706.8 594m0 0L706.9 593m0 0L707.0 602m0 0L707.2 629m0 0L707.3 601m0 0L707.4 610m0 0L707.5 581m0 0L707.7 611m0 0L707.8 626m0 0L707.9 591m0 0L708.1 602m0 0L708.2 621m0 0L708.3 582m0 0L708.5 609m0 0L708.6 633m0 0L708.7 602m0 0L708.8 606m0 0L709.0 566m0 0L709.1 602m0 0L709.2 599m0 0L709.4 619m0 0L709.5 610m0 0L709.6 586m0 0L709.8 594m0 0L709.9 602m0 0L710.0 602m0 0L710.1 587m0 0L710.3 625m0 0L710.4 603m0 0L710.5 587m0 0L710.7 594m0 0L710.8 594m0 0L710.9 601m0 0L711.1 606m0 0L711.2 600m0 0L711.3 627m0 0L711.4 609m0 0L711.6 588m0 0L711.7 607m0 0L711.8 616m0 0L712.0 619m0 0L712.1 601m0 0L712.2 609m0 0L712.4 558m0 0L712.5 612m0 0L712.6 596m0 0L712.7 615m0 0L712.9 603m0 0L713.0 605m0 0L713.1 584m0 0L713.3 597m0 0L713.4 620m0 0L713.5 597m0 0L713.7 603m0 0L713.8 594m0 0L713.9 598m0 0L714.0 609m0 0L714.2 625m0 0L714.3 602m0 0L714.4 615m0 0L714.6 606m0 0L714.7 588m0 0L714.8 614m0 0L715.0 601m0 0L715.1 577m0 0L715.2 576m0 0L715.3 621m0 0L715.5 620m0 0L715.6 571m0 0L715.7 621m0 0L715.9 607m0 0L716.0 574m0 0L716.1 598m0 0L716.3 588m0 0L716.4 617m0 0L716.5 610m0 0L716.6 624m0 0L716.8 621m0 0L716.9 595m0 0L717.0 596m0 0L717.2 612m0 0L717.3 617m0 0L717.4 585m0 0L717.6 599m0 0L717.7 610m0 0L717.8 582m0 0L718.0 621m0 0L718.1 627m0 0L718.2 603m0 0L718.3 562m0 0L718.5 623m0 0L718.6 614m0 0L718.7 586m0 0L718.9 622m0 0L719.0 593m0 0L719.1 608m0 0L719.3 582m0 0L719.4 600m0 0L719.5 627m0 0L719.6 595m0 0L719.8 624m0 0L719.9 595m0 0L720.0 605m0 0L720.2 624m0 0L720.3 602m0 0L720.4 605m0 0L720.6 604m0 0L720.7 599m0 0L720.8 616m0 0L720.9 585m0 0L721.1 585m0 0L721.2 619m0 0L721.3 606m0 0L721.5 615m0 0L721.6 628m0 0L721.7 591m0 0L721.9 601m0 0L722.0 610m0 0L722.1 613m0 0L722.3 589m0 0L722.4 608m0 0L722.5 608m0 0L722.6 613m0 0L722.8 614m0 0L722.9 614m0 0L723.0 612m0 0L723.2 625m0 0L723.3 583m0 0L723.4 604m0 0L723.6 600m0 0L723.7 589m0 0L723.8 604m0 0L723.9 592m0 0L724.1 597m0 0L724.2 579m0 0L724.3 605m0 0L724.5 609m0 0L724.6 630m0 0L724.7 593m0 0L724.9 599m0 0L725.0 625m0 0L725.1 571m0 0L725.3 589m0 0L725.4 553m0 0L725.5 620m0 0L725.6 621m0 0L725.8 606m0 0L725.9 614m0 0L726.0 603m0 0L726.2 587m0 0L726.3 625m0 0L726.4 612m0 0L726.6 596m0 0L726.7 609m0 0L726.8 581m0 0L727.0 610m0 0L727.1 625m0 0L727.2 572m0 0L727.3 629m0 0L727.5 602m0 0L727.6 617m0 0L727.7 603m0 0L727.9 604m0 0L728.0 607m0 0L728.1 627m0 0L728.3 586m0 0L728.4 600m0 0L728.5 592m0 0L728.7 604m0 0L728.8 602m0 0L728.9 525m0 0L729.0 608m0 0L729.2 587m0 0L729.3 618m0 0L729.4 598m0 0L729.6 619m0 0L729.7 604m0 0L729.8 598m0 0L730.0 602m0 0L730.1 584m0 0L730.2 616m0 0L730.4 572m0 0L730.5 602m0 0L730.6 625m0 0L730.7 584m0 0L730.9 579m0 0L731.0 599m0 0L731.1 598m0 0L731.3 585m0 0L731.4 612m0 0L731.5 627m0 0L731.7 598m0 0L731.8 604m0 0L731.9 618m0 0L732.1 588m0 0L732.2 598m0 0L732.3 593m0 0L732.4 606m0 0L732.6 600m0 0L732.7 594m0 0L732.8 609m0 0L733.0 588m0 0L733.1 616m0 0L733.2 614m0 0L733.4 543m0 0L733.5 579m0 0L733.6 590m0 0L733.8 602m0 0L733.9 615m0 0L734.0 563m0 0L734.1 602m0 0L734.3 584m0 0L734.4 596m0 0L734.5 612m0 0L734.7 599m0 0L734.8 630m0 0L734.9 599m0 0L735.1 623m0 0L735.2 622m0 0L735.3 593m0 0L735.5 590m0 0L735.6 591m0 0L735.7 595m0 0L735.9 599m0 0L736.0 587m0 0L736.1 623m0 0L736.2 629m0 0L736.4 617m0 0L736.5 627m0 0L736.6 607m0 0L736.8 587m0 0L736.9 622m0 0L737.0 599m0 0L737.2 589m0 0L737.3 626m0 0L737.4 609m0 0L737.6 598m0 0L737.7 574m0 0L737.8 621m0 0L738.0 597m0 0L738.1 615m0 0L738.2 600m0 0L738.3 605m0 0L738.5 584m0 0L738.6 603m0 0L738.7 599m0 0L738.9 596m0 0L739.0 620m0 0L739.1 621m0 0L739.3 605m0 0L739.4 602m0 0L739.5 613m0 0L739.7 605m0 0L739.8 617m0 0L739.9 604m0 0L740.1 615m0 0L740.2 605m0 0L740.3 603m0 0L740.4 606m0 0L740.6 628m0 0L740.7 578m0 0L740.8 614m0 0L741.0 602m0 0L741.1 534m0 0L741.2 608m0 0L741.4 604m0 0L741.5 622m0 0L741.6 614m0 0L741.8 601m0 0L741.9 617m0 0L742.0 609m0 0L742.2 613m0 0L742.3 618m0 0L742.4 597m0 0L742.5 593m0 0L742.7 591m0 0L742.8 612m0 0L742.9 598m0 0L743.1 589m0 0L743.2 616m0 0L743.3 597m0 0L743.5 612m0 0L743.6 611m0 0L743.7 623m0 0L743.9 595m0 0L744.0 579m0 0L744.1 603m0 0L744.3 585m0 0L744.4 595m0 0L744.5 600m0 0L744.6 593m0 0L744.8 593m0 0L744.9 613m0 0L745.0 622m0 0L745.2 599m0 0L745.3 609m0 0L745.4 614m0 0L745.6 612m0 0L745.7 631m0 0L745.8 608m0 0L746.0 594m0 0L746.1 601m0 0L746.2 582m0 0L746.4 626m0 0L746.5 578m0 0L746.6 631m0 0L746.8 594m0 0L746.9 607m0 0L747.0 610m0 0L747.1 615m0 0L747.3 606m0 0L747.4 596m0 0L747.5 612m0 0L747.7 606m0 0L747.8 589m0 0L747.9 567m0 0L748.1 564m0 0L748.2 620m0 0L748.3 623m0 0L748.5 568m0 0L748.6 613m0 0L748.7 569m0 0L748.9 623m0 0L749.0 611m0 0L749.1 628m0 0L749.3 619m0 0L749.4 584m0 0L749.5 630m0 0L749.6 619m0 0L749.8 591m0 0L749.9 601m0 0L750.0 602m0 0L750.2 595m0 0L750.3 596m0 0L750.4 629m0 0L750.6 607m0 0L750.7 586m0 0L750.8 578m0 0L751.0 619m0 0L751.1 605m0 0L751.2 599m0 0L751.4 616m0 0L751.5 610m0 0L751.6 607m0 0L751.8 611m0 0L751.9 587m0 0L752.0 630m0 0L752.2 614m0 0L752.3 623m0 0L752.4 599m0 0L752.5 604m0 0L752.7 619m0 0L752.8 589m0 0L752.9 593m0 0L753.1 602m0 0L753.2 621m0 0L753.3 592m0 0L753.5 629m0 0L753.6 600m0 0L753.7 608m0 0L753.9 599m0 0L754.0 611m0 0L754.1 623m0 0L754.3 598m0 0L754.4 577m0 0L754.5 598m0 0L754.7 605m0 0L754.8 622m0 0L754.9 588m0 0L755.1 555m0 0L755.2 607m0 0L755.3 598m0 0L755.4 565m0 0L755.6 600m0 0L755.7 565m0 0L755.8 622m0 0L756.0 589m0 0L756.1 616m0 0L756.2 612m0 0L756.4 617m0 0L756.5 626m0 0L756.6 599m0 0L756.8 603m0 0L756.9 560m0 0L757.0 594m0 0L757.2 602m0 0L757.3 564m0 0L757.4 611m0 0L757.6 604m0 0L757.7 601m0 0L757.8 592m0 0L758.0 629m0 0L758.1 596m0 0L758.2 613m0 0L758.4 591m0 0L758.5 608m0 0L758.6 603m0 0L758.8 622m0 0L758.9 624m0 0L759.0 570m0 0L759.1 604m0 0L759.3 607m0 0L759.4 582m0 0L759.5 594m0 0L759.7 598m0 0L759.8 551m0 0L759.9 628m0 0L760.1 599m0 0L760.2 600m0 0L760.3 581m0 0L760.5 600m0 0L760.6 630m0 0L760.7 591m0 0L760.9 602m0 0L761.0 573m0 0L761.1 610m0 0L761.3 603m0 0L761.4 618m0 0L761.5 626m0 0L761.7 604m0 0L761.8 606m0 0L761.9 619m0 0L762.1 614m0 0L762.2 590m0 0L762.3 599m0 0L762.5 611m0 0L762.6 584m0 0L762.7 615m0 0L762.8 595m0 0L763.0 604m0 0L763.1 596m0 0L763.2 608m0 0L763.4 621m0 0L763.5 611m0 0L763.6 603m0 0L763.8 602m0 0L763.9 598m0 0L764.0 611m0 0L764.2 602m0 0L764.3 600m0 0L764.4 612m0 0L764.6 605m0 0L764.7 611m0 0L764.8 630m0 0L765.0 581m0 0L765.1 615m0 0L765.2 595m0 0L765.4 610m0 0L765.5 621m0 0L765.6 598m0 0L765.8 610m0 0L765.9 588m0 0L766.0 586m0 0L766.2 621m0 0L766.3 578m0 0L766.4 598m0 0L766.6 587m0 0L766.7 600m0 0L766.8 613m0 0L767.0 615m0 0L767.1 603m0 0L767.2 591m0 0L767.3 603m0 0L767.5 614m0 0L767.6 601m0 0L767.7 614m0 0L767.9 623m0 0L768.0 605m0 0L768.1 628m0 0L768.3 590m0 0L768.4 596m0 0L768.5 625m0 0L768.7 599m0 0L768.8 629m0 0L768.9 606m0 0L769.1 592m0 0L769.2 600m0 0L769.3 626m0 0L769.5 578m0 0L769.6 599m0 0L769.7 613m0 0L769.9 606m0 0L770.0 625m0 0L770.1 581m0 0L770.3 607m0 0L770.4 607m0 0L770.5 623m0 0L770.7 563m0 0L770.8 610m0 0L770.9 626m0 0L771.1 589m0 0L771.2 591m0 0L771.3 589m0 0L771.5 597m0 0L771.6 586m0 0L771.7 607m0 0L771.9 578m0 0L772.0 604m0 0L772.1 619m0 0L772.3 579m0 0L772.4 613m0 0L772.5 582m0 0L772.7 594m0 0L772.8 614m0 0L772.9 543m0 0L773.1 601m0 0L773.2 564m0 0L773.3 615m0 0L773.4 603m0 0L773.6 623m0 0L773.7 612m0 0L773.8 620m0 0L774.0 587m0 0L774.1 559m0 0L774.2 557m0 0L774.4 618m0 0L774.5 616m0 0L774.6 610m0 0L774.8 615m0 0L774.9 603m0 0L775.0 576m0 0L775.2 603m0 0L775.3 591m0 0L775.4 593m0 0L775.6 584m0 0L775.7 618m0 0L775.8 602m0 0L776.0 612m0 0L776.1 607m0 0L776.2 578m0 0L776.4 604m0 0L776.5 609m0 0L776.6 571m0 0L776.8 585m0 0L776.9 596m0 0L777.0 622m0 0L777.2 554m0 0L777.3 584m0 0L777.4 599m0 0L777.6 608m0 0L777.7 591m0 0L777.8 611m0 0L778.0 608m0 0L778.1 597m0 0L778.2 588m0 0L778.4 612m0 0L778.5 604m0 0L778.6 570m0 0L778.8 607m0 0L778.9 593m0 0L779.0 603m0 0L779.2 585m0 0L779.3 621m0 0L779.4 621m0 0L779.6 622m0 0L779.7 600m0 0L779.8 583m0 0L780.0 603m0 0L780.1 587m0 0L780.2 607m0 0L780.4 616m0 0L780.5 594m0 0L780.6 593m0 0L780.8 582m0 0L780.9 602m0 0L781.0 601m0 0L781.2 604m0 0L781.3 581m0 0L781.4 600m0 0L781.6 603m0 0L781.7 617m0 0L781.8 584m0 0L782.0 597m0 0L782.1 617m0 0L782.2 627m0 0L782.4 600m0 0L782.5 630m0 0L782.6 628m0 0L782.8 631m0 0L782.9 619m0 0L783.0 600m0 0L783.2 586m0 0L783.3 587m0 0L783.4 606m0 0L783.6 613m0 0L783.7 603m0 0L783.8 583m0 0L784.0 552m0 0L784.1 594m0 0L784.2 605m0 0L784.4 609m0 0L784.5 620m0 0L784.6 598m0 0L784.8 601m0 0L784.9 603m0 0L785.0 608m0 0L785.2 608m0 0L785.3 612m0 0L785.4 601m0 0L785.6 587m0 0L785.7 564m0 0L785.8 597m0 0L786.0 604m0 0L786.1 607m0 0L786.2 604m0 0L786.4 605m0 0L786.5 607m0 0L786.6 612m0 0L786.8 554m0 0L786.9 625m0 0L787.0 613m0 0L787.2 609m0 0L787.3 596m0 0L787.4 630m0 0L787.6 604m0 0L787.7 598m0 0L787.8 593m0 0L788.0 631m0 0L788.1 602m0 0L788.2 587m0 0L788.4 603m0 0L788.5 625m0 0L788.6 581m0 0L788.8 591m0 0L788.9 611m0 0L789.0 612m0 0L789.2 625m0 0L789.3 623m0 0L789.4 599m0 0L789.6 613m0 0L789.7 598m0 0L789.8 593m0 0L790.0 598m0 0L790.1 630m0 0L790.2 609m0 0L790.4 613m0 0L790.5 606m0 0L790.6 598m0 0L790.8 593m0 0L790.9 564m0 0L791.0 588m0 0L791.2 558m0 0L791.3 555m0 0L791.4 611m0 0L791.6 601m0 0L791.7 605m0 0L791.8 619m0 0L792.0 609m0 0L792.1 586m0 0L792.2 603m0 0L792.4 589m0 0L792.5 594m0 0L792.6 558m0 0L792.8 621m0 0L792.9 597m0 0L793.0 630m0 0L793.2 622m0 0L793.3 621m0 0L793.4 623m0 0L793.6 542m0 0L793.7 593m0 0L793.8 588m0 0L794.0 603m0 0L794.1 626m0 0L794.2 589m0 0L794.4 627m0 0L794.5 622m0 0L794.6 609m0 0L794.8 606m0 0L794.9 601m0 0L795.0 602m0 0L795.2 596m0 0L795.3 581m0 0L795.4 539m0 0L795.6 581m0 0L795.7 601m0 0L795.8 612m0 0L796.0 581m0 0L796.1 577m0 0L796.2 592m0 0L796.4 620m0 0L796.5 564m0 0L796.6 630m0 0L796.8 617m0 0L796.9 602m0 0L797.0 570m0 0L797.2 614m0 0L797.3 596m0 0L797.4 612m0 0L797.6 612m0 0L797.7 575m0 0L797.8 622m0 0L798.0 602m0 0L798.1 604m0 0L798.2 591m0 0L798.4 628m0 0L798.5 629m0 0L798.6 608m0 0L798.8 613m0 0L798.9 612m0 0L799.0 599m0 0L799.2 592m0 0L799.3 613m0 0L799.4 616m0 0L799.6 590m0 0L799.7 602m0 0L799.8 582m0 0L800.0 598m0 0L800.1 599m0 0L800.2 612m0 0L800.4 538m0 0L800.5 611m0 0L800.6 621m0 0L800.8 600m0 0L800.9 621m0 0L801.0 605m0 0L801.2 622m0 0L801.3 612m0 0L801.4 573m0 0L801.6 629m0 0L801.7 603m0 0L801.9 598m0 0L802.0 612m0 0L802.1 599m0 0L802.3 610m0 0L802.4 611m0 0L802.5 587m0 0L802.7 579m0 0L802.8 589m0 0L802.9 589m0 0L803.1 599m0 0L803.2 607m0 0L803.3 625m0 0L803.5 613m0 0L803.6 599m0 0L803.7 600m0 0L803.9 618m0 0L804.0 571m0 0L804.1 612m0 0L804.3 603m0 0L804.4 606m0 0L804.5 633m0 0L804.7 602m0 0L804.8 616m0 0L804.9 605m0 0L805.1 622m0 0L805.2 626m0 0L805.3 593m0 0L805.5 602m0 0L805.6 596m0 0L805.7 593m0 0L805.9 629m0 0L806.0 618m0 0L806.1 600m0 0L806.3 593m0 0L806.4 604m0 0L806.5 614m0 0L806.7 614m0 0L806.8 581m0 0L806.9 599m0 0L807.1 611m0 0L807.2 573m0 0L807.3 588m0 0L807.5 629m0 0L807.6 627m0 0L807.7 595m0 0L807.9 613m0 0L808.0 605m0 0L808.2 602m0 0L808.3 606m0 0L808.4 610m0 0L808.6 620m0 0L808.7 567m0 0L808.8 630m0 0L809.0 600m0 0L809.1 605m0 0L809.2 608m0 0L809.4 627m0 0L809.5 604m0 0L809.6 572m0 0L809.8 611m0 0L809.9 586m0 0L810.0 606m0 0L810.2 613m0 0L810.3 573m0 0L810.4 603m0 0L810.6 537m0 0L810.7 622m0 0L810.8 596m0 0L811.0 623m0 0L811.1 584m0 0L811.2 615m0 0L811.4 625m0 0L811.5 594m0 0L811.6 571m0 0L811.8 622m0 0L811.9 580m0 0L812.0 563m0 0L812.2 606m0 0L812.3 597m0 0L812.4 592m0 0L812.6 630m0 0L812.7 622m0 0L812.9 620m0 0L813.0 576m0 0L813.1 594m0 0L813.3 594m0 0L813.4 621m0 0L813.5 614m0 0L813.7 618m0 0L813.8 606m0 0L813.9 565m0 0L814.1 590m0 0L814.2 627m0 0L814.3 612m0 0L814.5 619m0 0L814.6 625m0 0L814.7 610m0 0L814.9 607m0 0L815.0 603m0 0L815.1 576m0 0L815.3 600m0 0L815.4 596m0 0L815.5 615m0 0L815.7 600m0 0L815.8 573m0 0L815.9 603m0 0L816.1 563m0 0L816.2 576m0 0L816.3 587m0 0L816.5 594m0 0L816.6 624m0 0L816.8 615m0 0L816.9 593m0 0L817.0 602m0 0L817.2 599m0 0L817.3 567m0 0L817.4 626m0 0L817.6 602m0 0L817.7 622m0 0L817.8 612m0 0L818.0 618m0 0L818.1 593m0 0L818.2 589m0 0L818.4 607m0 0L818.5 598m0 0L818.6 600m0 0L818.8 603m0 0L818.9 629m0 0L819.0 601m0 0L819.2 604m0 0L819.3 576m0 0L819.4 611m0 0L819.6 557m0 0L819.7 610m0 0L819.8 620m0 0L820.0 582m0 0L820.1 581m0 0L820.3 588m0 0L820.4 586m0 0L820.5 596m0 0L820.7 604m0 0L820.8 625m0 0L820.9 611m0 0L821.1 609m0 0L821.2 621m0 0L821.3 618m0 0L821.5 593m0 0L821.6 616m0 0L821.7 605m0 0L821.9 556m0 0L822.0 603m0 0L822.1 621m0 0L822.3 612m0 0L822.4 616m0 0L822.5 618m0 0L822.7 576m0 0L822.8 596m0 0L822.9 621m0 0L823.1 609m0 0L823.2 593m0 0L823.4 612m0 0L823.5 615m0 0L823.6 613m0 0L823.8 623m0 0L823.9 599m0 0L824.0 586m0 0L824.2 605m0 0L824.3 580m0 0L824.4 598m0 0L824.6 591m0 0L824.7 548m0 0L824.8 605m0 0L825.0 567m0 0L825.1 615m0 0L825.2 600m0 0L825.4 578m0 0L825.5 602m0 0L825.6 606m0 0L825.8 622m0 0L825.9 607m0 0L826.1 606m0 0L826.2 609m0 0L826.3 618m0 0L826.5 599m0 0L826.6 616m0 0L826.7 626m0 0L826.9 564m0 0L827.0 598m0 0L827.1 629m0 0L827.3 581m0 0L827.4 626m0 0L827.5 597m0 0L827.7 591m0 0L827.8 625m0 0L827.9 623m0 0L828.1 595m0 0L828.2 629m0 0L828.3 631m0 0L828.5 548m0 0L828.6 574m0 0L828.8 602m0 0L828.9 622m0 0L829.0 604m0 0L829.2 627m0 0L829.3 598m0 0L829.4 589m0 0L829.6 582m0 0L829.7 604m0 0L829.8 620m0 0L830.0 625m0 0L830.1 631m0 0L830.2 598m0 0L830.4 622m0 0L830.5 591m0 0L830.6 627m0 0L830.8 573m0 0L830.9 615m0 0L831.0 596m0 0L831.2 588m0 0L831.3 605m0 0L831.5 610m0 0L831.6 608m0 0L831.7 592m0 0L831.9 629m0 0L832.0 621m0 0L832.1 607m0 0L832.3 539m0 0L832.4 604m0 0L832.5 608m0 0L832.7 600m0 0L832.8 611m0 0L832.9 590m0 0L833.1 627m0 0L833.2 591m0 0L833.3 602m0 0L833.5 617m0 0L833.6 618m0 0L833.8 606m0 0L833.9 605m0 0L834.0 598m0 0L834.2 604m0 0L834.3 603m0 0L834.4 613m0 0L834.6 577m0 0L834.7 571m0 0L834.8 606m0 0L835.0 558m0 0L835.1 614m0 0L835.2 585m0 0L835.4 602m0 0L835.5 574m0 0L835.6 614m0 0L835.8 610m0 0L835.9 587m0 0L836.1 586m0 0L836.2 608m0 0L836.3 614m0 0L836.5 594m0 0L836.6 597m0 0L836.7 616m0 0L836.9 605m0 0L837.0 597m0 0L837.1 600m0 0L837.3 602m0 0L837.4 604m0 0L837.5 614m0 0L837.7 601m0 0L837.8 610m0 0L837.9 628m0 0L838.1 609m0 0L838.2 608m0 0L838.4 594m0 0L838.5 587m0 0L838.6 603m0 0L838.8 602m0 0L838.9 614m0 0L839.0 596m0 0L839.2 608m0 0L839.3 600m0 0L839.4 620m0 0L839.6 602m0 0L839.7 591m0 0L839.8 569m0 0L840.0 607m0 0L840.1 620m0 0L840.2 614m0 0L840.4 618m0 0L840.5 602m0 0L840.7 627m0 0L840.8 598m0 0L840.9 623m0 0L841.1 575m0 0L841.2 594m0 0L841.3 574m0 0L841.5 602m0 0L841.6 590m0 0L841.7 617m0 0L841.9 607m0 0L842.0 586m0 0L842.1 614m0 0L842.3 618m0 0L842.4 603m0 0L842.6 623m0 0L842.7 608m0 0L842.8 587m0 0L843.0 538m0 0L843.1 586m0 0L843.2 601m0 0L843.4 599m0 0L843.5 620m0 0L843.6 608m0 0L843.8 617m0 0L843.9 572m0 0L844.0 612m0 0L844.2 576m0 0L844.3 591m0 0L844.5 581m0 0L844.6 617m0 0L844.7 584m0 0L844.9 598m0 0L845.0 579m0 0L845.1 581m0 0L845.3 589m0 0L845.4 621m0 0L845.5 616m0 0L845.7 606m0 0L845.8 596m0 0L845.9 606m0 0L846.1 612m0 0L846.2 593m0 0L846.4 537m0 0L846.5 599m0 0L846.6 619m0 0L846.8 616m0 0L846.9 601m0 0L847.0 607m0 0L847.2 602m0 0L847.3 610m0 0L847.4 562m0 0L847.6 621m0 0L847.7 594m0 0L847.8 602m0 0L848.0 611m0 0L848.1 603m0 0L848.3 606m0 0L848.4 597m0 0L848.5 616m0 0L848.7 583m0 0L848.8 616m0 0L848.9 631m0 0L849.1 617m0 0L849.2 607m0 0L849.3 586m0 0L849.5 613m0 0L849.6 596m0 0L849.7 618m0 0L849.9 613m0 0L850.0 594m0 0L850.2 602m0 0L850.3 599m0 0L850.4 614m0 0L850.6 602m0 0L850.7 600m0 0L850.8 600m0 0L851.0 593m0 0L851.1 535m0 0L851.2 603m0 0L851.4 591m0 0L851.5 614m0 0L851.7 600m0 0L851.8 606m0 0L851.9 605m0 0L852.1 612m0 0L852.2 600m0 0L852.3 599m0 0L852.5 582m0 0L852.6 603m0 0L852.7 625m0 0L852.9 621m0 0L853.0 601m0 0L853.1 602m0 0L853.3 598m0 0L853.4 599m0 0L853.6 617m0 0L853.7 611m0 0L853.8 597m0 0L854.0 586m0 0L854.1 619m0 0L854.2 582m0 0L854.4 614m0 0L854.5 579m0 0L854.6 603m0 0L854.8 587m0 0L854.9 608m0 0L855.1 618m0 0L855.2 584m0 0L855.3 606m0 0L855.5 594m0 0L855.6 612m0 0L855.7 613m0 0L855.9 602m0 0L856.0 559m0 0L856.1 589m0 0L856.3 608m0 0L856.4 619m0 0L856.6 603m0 0L856.7 605m0 0L856.8 585m0 0L857.0 604m0 0L857.1 612m0 0L857.2 595m0 0L857.4 612m0 0L857.5 603m0 0L857.6 601m0 0L857.8 593m0 0L857.9 608m0 0L858.0 577m0 0L858.2 593m0 0L858.3 590m0 0L858.5 624m0 0L858.6 610m0 0L858.7 595m0 0L858.9 595m0 0L859.0 613m0 0L859.1 581m0 0L859.3 600m0 0L859.4 593m0 0L859.5 592m0 0L859.7 582m0 0L859.8 622m0 0L860.0 585m0 0L860.1 553m0 0L860.2 624m0 0L860.4 591m0 0L860.5 605m0 0L860.6 608m0 0L860.8 599m0 0L860.9 601m0 0L861.0 611m0 0L861.2 599m0 0L861.3 599m0 0L861.5 601m0 0L861.6 615m0 0L861.7 594m0 0L861.9 606m0 0L862.0 594m0 0L862.1 576m0 0L862.3 594m0 0L862.4 609m0 0L862.5 609m0 0L862.7 611m0 0L862.8 585m0 0L863.0 579m0 0L863.1 614m0 0L863.2 606m0 0L863.4 608m0 0L863.5 596m0 0L863.6 586m0 0L863.8 595m0 0L863.9 622m0 0L864.0 615m0 0L864.2 612m0 0L864.3 614m0 0L864.5 603m0 0L864.6 594m0 0L864.7 583m0 0L864.9 605m0 0L865.0 582m0 0L865.1 618m0 0L865.3 578m0 0L865.4 607m0 0L865.5 614m0 0L865.7 607m0 0L865.8 615m0 0L866.0 630m0 0L866.1 611m0 0L866.2 621m0 0L866.4 586m0 0L866.5 588m0 0L866.6 609m0 0L866.8 616m0 0L866.9 598m0 0L867.1 609m0 0L867.2 610m0 0L867.3 629m0 0L867.5 598m0 0L867.6 599m0 0L867.7 601m0 0L867.9 562m0 0L868.0 611m0 0L868.1 598m0 0L868.3 612m0 0L868.4 589m0 0L868.6 629m0 0L868.7 621m0 0L868.8 612m0 0L869.0 621m0 0L869.1 604m0 0L869.2 595m0 0L869.4 592m0 0L869.5 593m0 0L869.6 585m0 0L869.8 562m0 0L869.9 608m0 0L870.1 620m0 0L870.2 560m0 0L870.3 588m0 0L870.5 613m0 0L870.6 608m0 0L870.7 594m0 0L870.9 610m0 0L871.0 608m0 0L871.2 598m0 0L871.3 592m0 0L871.4 597m0 0L871.6 620m0 0L871.7 607m0 0L871.8 551m0 0L872.0 569m0 0L872.1 601m0 0L872.2 599m0 0L872.4 623m0 0L872.5 612m0 0L872.7 609m0 0L872.8 598m0 0L872.9 615m0 0L873.1 629m0 0L873.2 612m0 0L873.3 595m0 0L873.5 584m0 0L873.6 572m0 0L873.8 626m0 0L873.9 612m0 0L874.0 608m0 0L874.2 596m0 0L874.3 579m0 0L874.4 610m0 0L874.6 625m0 0L874.7 603m0 0L874.8 588m0 0L875.0 582m0 0L875.1 614m0 0L875.3 572m0 0L875.4 592m0 0L875.5 605m0 0L875.7 611m0 0L875.8 576m0 0L875.9 624m0 0L876.1 606m0 0L876.2 616m0 0L876.4 613m0 0L876.5 615m0 0L876.6 587m0 0L876.8 613m0 0L876.9 567m0 0L877.0 592m0 0L877.2 618m0 0L877.3 551m0 0L877.4 568m0 0L877.6 598m0 0L877.7 616m0 0L877.9 610m0 0L878.0 596m0 0L878.1 586m0 0L878.3 609m0 0L878.4 622m0 0L878.5 592m0 0L878.7 606m0 0L878.8 613m0 0L879.0 605m0 0L879.1 621m0 0L879.2 596m0 0L879.4 618m0 0L879.5 584m0 0L879.6 566m0 0L879.8 602m0 0L879.9 590m0 0L880.1 606m0 0L880.2 600m0 0L880.3 621m0 0L880.5 582m0 0L880.6 623m0 0L880.7 550m0 0L880.9 559m0 0L881.0 596m0 0L881.1 602m0 0L881.3 601m0 0L881.4 609m0 0L881.6 622m0 0L881.7 616m0 0L881.8 599m0 0L882.0 596m0 0L882.1 591m0 0L882.2 577m0 0L882.4 599m0 0L882.5 609m0 0L882.7 603m0 0L882.8 576m0 0L882.9 606m0 0L883.1 584m0 0L883.2 610m0 0L883.3 600m0 0L883.5 602m0 0L883.6 608m0 0L883.8 581m0 0L883.9 556m0 0L884.0 612m0 0L884.2 596m0 0L884.3 595m0 0L884.4 605m0 0L884.6 591m0 0L884.7 616m0 0L884.9 602m0 0L885.0 623m0 0L885.1 605m0 0L885.3 608m0 0L885.4 621m0 0L885.5 595m0 0L885.7 623m0 0L885.8 590m0 0L886.0 610m0 0L886.1 607m0 0L886.2 625m0 0L886.4 597m0 0L886.5 602m0 0L886.6 587m0 0L886.8 628m0 0L886.9 563m0 0L887.0 624m0 0L887.2 600m0 0L887.3 591m0 0L887.5 568m0 0L887.6 620m0 0L887.7 611m0 0L887.9 605m0 0L888.0 619m0 0L888.1 604m0 0L888.3 590m0 0L888.4 595m0 0L888.6 585m0 0L888.7 614m0 0L888.8 611m0 0L889.0 582m0 0L889.1 603m0 0L889.2 615m0 0L889.4 581m0 0L889.5 625m0 0L889.7 608m0 0L889.8 615m0 0L889.9 589m0 0L890.1 589m0 0L890.2 580m0 0L890.3 608m0 0L890.5 611m0 0L890.6 591m0 0L890.8 597m0 0L890.9 586m0 0L891.0 608m0 0L891.2 543m0 0L891.3 567m0 0L891.4 609m0 0L891.6 604m0 0L891.7 592m0 0L891.9 588m0 0L892.0 618m0 0L892.1 592m0 0L892.3 605m0 0L892.4 608m0 0L892.5 593m0 0L892.7 581m0 0L892.8 612m0 0L893.0 607m0 0L893.1 614m0 0L893.2 596m0 0L893.4 594m0 0L893.5 603m0 0L893.6 608m0 0L893.8 600m0 0L893.9 614m0 0L894.1 618m0 0L894.2 596m0 0L894.3 581m0 0L894.5 597m0 0L894.6 597m0 0L894.8 602m0 0L894.9 622m0 0L895.0 627m0 0L895.2 553m0 0L895.3 629m0 0L895.4 594m0 0L895.6 617m0 0L895.7 580m0 0L895.9 575m0 0L896.0 577m0 0L896.1 585m0 0L896.3 601m0 0L896.4 603m0 0L896.5 623m0 0L896.7 588m0 0L896.8 623m0 0L897.0 619m0 0L897.1 625m0 0L897.2 616m0 0L897.4 611m0 0L897.5 584m0 0L897.6 614m0 0L897.8 604m0 0L897.9 617m0 0L898.1 607m0 0L898.2 611m0 0L898.3 622m0 0L898.5 596m0 0L898.6 611m0 0L898.7 609m0 0L898.9 608m0 0L899.0 574m0 0L899.2 599m0 0L899.3 586m0 0L899.4 612m0 0L899.6 597m0 0L899.7 608m0 0L899.8 598m0 0L900.0 610m0 0L900.1 600m0 0L900.3 600m0 0L900.4 618m0 0L900.5 601m0 0L900.7 614m0 0L900.8 589m0 0L901.0 595m0 0L901.1 587m0 0L901.2 624m0 0L901.4 613m0 0L901.5 600m0 0L901.6 597m0 0L901.8 614m0 0L901.9 580m0 0L902.1 586m0 0L902.2 594m0 0L902.3 598m0 0L902.5 608m0 0L902.6 600m0 0L902.7 578m0 0L902.9 592m0 0L903.0 607m0 0L903.2 585m0 0L903.3 602m0 0L903.4 612m0 0L903.6 619m0 0L903.7 606m0 0L903.8 593m0 0L904.0 588m0 0L904.1 611m0 0L904.3 600m0 0L904.4 583m0 0L904.5 620m0 0L904.7 613m0 0L904.8 614m0 0L905.0 579m0 0L905.1 583m0 0L905.2 580m0 0L905.4 584m0 0L905.5 622m0 0L905.6 608m0 0L905.8 589m0 0L905.9 602m0 0L906.1 604m0 0L906.2 580m0 0L906.3 585m0 0L906.5 607m0 0L906.6 596m0 0L906.7 619m0 0L906.9 610m0 0L907.0 618m0 0L907.2 629m0 0L907.3 595m0 0L907.4 586m0 0L907.6 601m0 0L907.7 610m0 0L907.9 622m0 0L908.0 593m0 0L908.1 594m0 0L908.3 609m0 0L908.4 590m0 0L908.5 572m0 0L908.7 592m0 0L908.8 591m0 0L909.0 612m0 0L909.1 598m0 0L909.2 623m0 0L909.4 591m0 0L909.5 611m0 0L909.6 535m0 0L909.8 612m0 0L909.9 618m0 0L910.1 610m0 0L910.2 605m0 0L910.3 615m0 0L910.5 587m0 0L910.6 608m0 0L910.8 609m0 0L910.9 614m0 0L911.0 601m0 0L911.2 619m0 0L911.3 610m0 0L911.4 609m0 0L911.6 570m0 0L911.7 592m0 0L911.9 603m0 0L912.0 625m0 0L912.1 607m0 0L912.3 627m0 0L912.4 617m0 0L912.6 588m0 0L912.7 583m0 0L912.8 601m0 0L913.0 599m0 0L913.1 620m0 0L913.2 585m0 0L913.4 594m0 0L913.5 612m0 0L913.7 590m0 0L913.8 601m0 0L913.9 617m0 0L914.1 605m0 0L914.2 600m0 0L914.4 600m0 0L914.5 615m0 0L914.6 622m0 0L914.8 596m0 0L914.9 619m0 0L915.0 584m0 0L915.2 594m0 0L915.3 580m0 0L915.5 602m0 0L915.6 563m0 0L915.7 599m0 0L915.9 602m0 0L916.0 597m0 0L916.1 601m0 0L916.3 605m0 0L916.4 601m0 0L916.6 591m0 0L916.7 615m0 0L916.8 623m0 0L917.0 584m0 0L917.1 599m0 0L917.3 597m0 0L917.4 606m0 0L917.5 595m0 0L917.7 625m0 0L917.8 610m0 0L918.0 610m0 0L918.1 587m0 0L918.2 600m0 0L918.4 572m0 0L918.5 589m0 0L918.6 585m0 0L918.8 584m0 0L918.9 600m0 0L919.1 615m0 0L919.2 598m0 0L919.3 591m0 0L919.5 541m0 0L919.6 583m0 0L919.8 611m0 0L919.9 596m0 0L920.0 572m0 0L920.2 601m0 0L920.3 593m0 0L920.4 611m0 0L920.6 574m0 0L920.7 568m0 0L920.9 608m0 0L921.0 587m0 0L921.1 600m0 0L921.3 618m0 0L921.4 623m0 0L921.6 600m0 0L921.7 614m0 0L921.8 614m0 0L922.0 617m0 0L922.1 593m0 0L922.2 565m0 0L922.4 621m0 0L922.5 620m0 0L922.7 590m0 0L922.8 598m0 0L922.9 615m0 0L923.1 617m0 0L923.2 585m0 0L923.4 588m0 0L923.5 603m0 0L923.6 584m0 0L923.8 599m0 0L923.9 593m0 0L924.1 594m0 0L924.2 606m0 0L924.3 599m0 0L924.5 572m0 0L924.6 616m0 0L924.7 624m0 0L924.9 603m0 0L925.0 590m0 0L925.2 596m0 0L925.3 625m0 0L925.4 575m0 0L925.6 606m0 0L925.7 577m0 0L925.9 575m0 0L926.0 595m0 0L926.1 588m0 0L926.3 615m0 0L926.4 596m0 0L926.5 591m0 0L926.7 565m0 0L926.8 598m0 0L927.0 619m0 0L927.1 615m0 0L927.2 608m0 0L927.4 608m0 0L927.5 615m0 0L927.7 586m0 0L927.8 616m0 0L927.9 594m0 0L928.1 607m0 0L928.2 625m0 0L928.4 590m0 0L928.5 617m0 0L928.6 597m0 0L928.8 607m0 0L928.9 604m0 0L929.0 608m0 0L929.2 593m0 0L929.3 603m0 0L929.5 620m0 0L929.6 625m0 0L929.7 599m0 0L929.9 615m0 0L930.0 584m0 0L930.2 617m0 0L930.3 598m0 0L930.4 556m0 0L930.6 592m0 0L930.7 579m0 0L930.9 626m0 0L931.0 624m0 0L931.1 583m0 0L931.3 595m0 0L931.4 610m0 0L931.6 610m0 0L931.7 613m0 0L931.8 620m0 0L932.0 612m0 0L932.1 595m0 0L932.2 601m0 0L932.4 592m0 0L932.5 624m0 0L932.7 609m0 0L932.8 589m0 0L932.9 587m0 0L933.1 601m0 0L933.2 549m0 0L933.4 595m0 0L933.5 616m0 0L933.6 579m0 0L933.8 595m0 0L933.9 593m0 0L934.1 580m0 0L934.2 615m0 0L934.3 602m0 0L934.5 587m0 0L934.6 608m0 0L934.8 602m0 0L934.9 605m0 0L935.0 622m0 0L935.2 600m0 0L935.3 587m0 0L935.4 610m0 0L935.6 602m0 0L935.7 612m0 0L935.9 629m0 0L936.0 594m0 0L936.1 615m0 0L936.3 597m0 0L936.4 598m0 0L936.6 595m0 0L936.7 604m0 0L936.8 610m0 0L937.0 598m0 0L937.1 619m0 0L937.3 611m0 0L937.4 577m0 0L937.5 605m0 0L937.7 590m0 0L937.8 608m0 0L938.0 624m0 0L938.1 558m0 0L938.2 625m0 0L938.4 588m0 0L938.5 629m0 0L938.6 611m0 0L938.8 613m0 0L938.9 583m0 0L939.1 608m0 0L939.2 580m0 0L939.3 588m0 0L939.5 595m0 0L939.6 620m0 0L939.8 606m0 0L939.9 595m0 0L940.0 625m0 0L940.2 594m0 0L940.3 620m0 0L940.5 591m0 0L940.6 588m0 0L940.7 572m0 0L940.9 598m0 0L941.0 596m0 0L941.2 602m0 0L941.3 609m0 0L941.4 610m0 0L941.6 614m0 0L941.7 614m0 0L941.9 616m0 0L942.0 600m0 0L942.1 614m0 0L942.3 609m0 0L942.4 590m0 0L942.6 610m0 0L942.7 615m0 0L942.8 611m0 0L943.0 605m0 0L943.1 601m0 0L943.2 605m0 0L943.4 577m0 0L943.5 618m0 0L943.7 604m0 0L943.8 615m0 0L943.9 616m0 0L944.1 588m0 0L944.2 585m0 0L944.4 586m0 0L944.5 593m0 0L944.6 550m0 0L944.8 592m0 0L944.9 615m0 0L945.1 608m0 0L945.2 601m0 0L945.3 586m0 0L945.5 619m0 0L945.6 589m0 0L945.8 599m0 0L945.9 620m0 0L946.0 582m0 0L946.2 609m0 0L946.3 593m0 0L946.5 606m0 0L946.6 599m0 0L946.7 562m0 0L946.9 575m0 0L947.0 610m0 0L947.2 603m0 0L947.3 584m0 0L947.4 594m0 0L947.6 601m0 0L947.7 599m0 0L947.9 604m0 0L948.0 614m0 0L948.1 575m0 0L948.3 598m0 0L948.4 599m0 0L948.6 614m0 0L948.7 601m0 0L948.8 576m0 0L949.0 594m0 0L949.1 617m0 0L949.2 627m0 0L949.4 624m0 0L949.5 611m0 0L949.7 617m0 0L949.8 619m0 0L949.9 570m0 0L950.1 581m0 0L950.2 607m0 0L950.4 605m0 0L950.5 607m0 0L950.6 603m0 0L950.8 624m0 0L950.9 602m0 0L951.1 616m0 0L951.2 610m0 0L951.3 597m0 0L951.5 619m0 0L951.6 583m0 0L951.8 605m0 0L951.9 617m0 0L952.0 625m0 0L952.2 604m0 0L952.3 604m0 0L952.5 585m0 0L952.6 587m0 0L952.7 619m0 0L952.9 613m0 0L953.0 606m0 0L953.2 620m0 0L953.3 613m0 0L953.4 600m0 0L953.6 609m0 0L953.7 601m0 0L953.9 592m0 0L954.0 584m0 0L954.1 628m0 0L954.3 621m0 0L954.4 630m0 0L954.6 601m0 0L954.7 579m0 0L954.8 591m0 0L955.0 569m0 0L955.1 609m0 0L955.3 598m0 0L955.4 614m0 0L955.5 608m0 0L955.7 617m0 0L955.8 606m0 0L956.0 592m0 0L956.1 608m0 0L956.2 588m0 0L956.4 597m0 0L956.5 579m0 0L956.7 616m0 0L956.8 574m0 0L956.9 614m0 0L957.1 614m0 0L957.2 572m0 0L957.4 595m0 0L957.5 626m0 0L957.6 616m0 0L957.8 595m0 0L957.9 590m0 0L958.1 594m0 0L958.2 620m0 0L958.3 588m0 0L958.5 593m0 0L958.6 618m0 0L958.8 613m0 0L958.9 617m0 0L959.0 611m0 0L959.2 616m0 0L959.3 603m0 0L959.5 616m0 0L959.6 603m0 0L959.7 589m0 0L959.9 610m0 0L960.0 605m0 0L960.2 573m0 0L960.3 617m0 0L960.4 622m0 0L960.6 603m0 0L960.7 583m0 0L960.9 620m0 0L961.0 597m0 0L961.1 612m0 0L961.3 605m0 0L961.4 599m0 0L961.6 630m0 0L961.7 602m0 0L961.8 593m0 0L962.0 594m0 0L962.1 605m0 0L962.3 616m0 0L962.4 553m0 0L962.5 594m0 0L962.7 619m0 0L962.8 597m0 0L963.0 567m0 0L963.1 595m0 0L963.2 585m0 0L963.4 549m0 0L963.5 598m0 0L963.7 599m0 0L963.8 590m0 0L963.9 625m0 0L964.1 612m0 0L964.2 610m0 0L964.4 592m0 0L964.5 584m0 0L964.6 580m0 0L964.8 629m0 0L964.9 587m0 0L965.1 616m0 0L965.2 606m0 0L965.3 607m0 0L965.5 595m0 0L965.6 596m0 0L965.8 594m0 0L965.9 599m0 0L966.0 592m0 0L966.2 594m0 0L966.3 613m0 0L966.5 611m0 0L966.6 576m0 0L966.8 623m0 0L966.9 600m0 0L967.0 602m0 0L967.2 612m0 0L967.3 587m0 0L967.5 590m0 0L967.6 601m0 0L967.7 575m0 0L967.9 624m0 0L968.0 615m0 0L968.2 580m0 0L968.3 613m0 0L968.4 607m0 0L968.6 553m0 0L968.7 618m0 0L968.9 608m0 0L969.0 603m0 0L969.1 621m0 0L969.3 590m0 0L969.4 608m0 0L969.6 563m0 0L969.7 603m0 0L969.8 603m0 0L970.0 610m0 0L970.1 574m0 0L970.3 616m0 0L970.4 621m0 0" fill="none" stroke="#55ff55" stroke-width="1" stroke-dasharray="3,5" shape-rendering="crispEdges"/>
<polygon points="63.0,684 63.0,636 63.5,635 64.0,636 64.4,631 64.9,634 65.4,634 65.9,637 66.3,634 66.8,635 67.3,634 67.8,631 68.3,636 68.7,636 69.2,635 69.7,636 70.2,635 70.6,629 71.1,634 71.6,630 72.1,636 72.6,634 73.0,630 73.5,632 74.0,628 74.5,632 74.9,630 75.4,630 75.9,630 76.4,630 76.9,631 77.3,634 77.8,635 78.3,633 78.8,634 79.2,634 79.7,632 80.2,629 80.7,631 81.2,627 81.6,625 82.1,631 82.6,632 83.1,627 83.5,628 84.0,626 84.5,628 85.0,631 85.5,625 85.9,628 86.4,627 86.9,627 87.4,626 87.8,626 88.3,630 88.8,633 89.3,629 89.8,625 90.2,632 90.7,626 91.2,627 91.7,626 92.1,630 92.6,631 93.1,629 93.6,626 94.1,628 94.5,629 95.0,627 95.5,624 96.0,629 96.4,626 96.9,627 97.4,622 97.9,623 98.4,625 98.8,627 99.3,629 99.8,626 100.3,625 100.7,632 101.2,633 101.7,629 102.2,631 102.7,624 103.1,630 103.6,624 104.1,628 104.6,624 105.0,628 105.5,625 106.0,622 106.5,630 107.0,629 107.4,626 107.9,627 108.4,622 108.9,621 109.3,625 109.8,629 110.3,626 110.8,627 111.3,623 111.7,627 112.2,629 112.7,624 113.2,627 113.7,624 114.1,626 114.6,621 115.1,626 115.6,621 116.0,628 116.5,620 117.0,618 117.5,626 118.0,618 118.4,622 118.9,623 119.4,626 119.9,622 120.3,624 120.8,623 121.3,624 121.8,621 122.3,624 122.7,626 123.2,626 123.7,624 124.2,619 124.6,628 125.1,629 125.6,624 126.1,627 126.6,619 127.0,623 127.5,620 128.0,620 128.5,628 128.9,619 129.4,624 129.9,626 130.4,620 130.9,620 131.3,620 131.8,620 132.3,620 132.8,627 133.2,627 133.7,629 134.2,622 134.7,626 135.2,623 135.6,622 136.1,627 136.6,619 137.1,623 137.5,620 138.0,623 138.5,619 139.0,623 139.5,620 139.9,624 140.4,628 140.9,620 141.4,626 141.8,618 142.3,622 142.8,624 143.3,620 143.8,618 144.2,624 144.7,621 145.2,624 145.7,627 146.1,627 146.6,620 147.1,624 147.6,625 148.1,625 148.5,625 149.0,626 149.5,620 150.0,621 150.4,622 150.9,620 151.4,627 151.9,619 152.4,626 152.8,627 153.3,623 153.8,624 154.3,621 154.7,620 155.2,619 155.7,626 156.2,621 156.7,624 157.1,621 157.6,620 158.1,619 158.6,623 159.0,622 159.5,621 160.0,621 160.5,618 161.0,623 161.4,617 161.9,625 162.4,618 162.9,618 163.3,620 163.8,624 164.3,620 164.8,625 165.3,627 165.7,619 166.2,623 166.7,626 167.2,621 167.6,624 168.1,622 168.6,625 169.1,627 169.6,626 170.0,625 170.5,623 171.0,621 171.5,617 171.9,621 172.4,617 172.9,625 173.4,626 173.9,625 174.3,622 174.8,622 175.3,618 175.8,626 176.2,620 176.7,616 177.2,623 177.7,621 178.2,620 178.6,620 179.1,621 179.6,622 180.1,623 180.5,625 181.0,618 181.5,616 182.0,624 182.5,624 182.9,615 183.4,626 183.9,616 184.4,615 184.8,617 185.3,622 185.8,616 186.3,618 186.8,617 187.2,619 187.7,622 188.2,615 188.7,619 189.1,621 189.6,623 190.1,618 190.6,624 191.1,619 191.5,620 192.0,615 192.5,617 193.0,622 193.4,621 193.9,615 194.4,617 194.9,625 195.4,618 195.8,618 196.3,616 196.8,618 197.3,617 197.7,617 198.2,626 198.7,618 199.2,627 199.7,621 200.1,619 200.6,624 201.1,619 201.6,621 202.0,621 202.5,621 203.0,626 203.5,617 204.0,620 204.4,617 204.9,623 205.4,625 205.9,618 206.3,623 206.8,617 207.3,619 207.8,615 208.3,616 208.7,622 209.2,623 209.7,626 210.2,620 210.6,626 211.1,621 211.6,623 212.1,623 212.6,618 213.0,619 213.5,620 214.0,623 214.5,621 215.0,621 215.4,624 215.9,618 216.4,626 216.9,626 217.3,626 217.8,616 218.3,623 218.8,625 219.3,619 219.7,619 220.2,623 220.7,615 221.2,623 221.6,621 222.1,620 222.6,619 223.1,622 223.6,624 224.0,621 224.5,621 225.0,618 225.5,616 225.9,615 226.4,615 226.9,621 227.4,623 227.9,620 228.3,622 228.8,620 229.3,619 229.8,617 230.2,619 230.7,622 231.2,614 231.7,621 232.2,614 232.6,623 233.1,623 233.6,617 234.1,622 234.5,626 235.0,621 235.5,615 236.0,625 236.5,621 236.9,620 237.4,618 237.9,622 238.4,616 238.8,617 239.3,615 239.8,614 240.3,620 240.8,623 241.2,623 241.7,617 242.2,620 242.7,619 243.1,614 243.6,617 244.1,622 244.6,615 245.1,622 245.5,617 246.0,622 246.5,618 247.0,620 247.4,620 247.9,621 248.4,619 248.9,614 249.4,622 249.8,614 250.3,624 250.8,621 251.3,613 251.7,612 252.2,619 252.7,620 253.2,614 253.7,613 254.1,621 254.6,616 255.1,620 255.6,616 256.0,614 256.5,619 257.0,613 257.5,622 258.0,621 258.4,623 258.9,613 259.4,618 259.9,615 260.3,615 260.8,616 261.3,615 261.8,620 262.3,620 262.7,615 263.2,620 263.7,621 264.2,616 264.6,621 265.1,615 265.6,614 266.1,622 266.6,622 267.0,621 267.5,625 268.0,624 268.5,621 268.9,618 269.4,616 269.9,618 270.4,617 270.9,616 271.3,621 271.8,617 272.3,614 272.8,623 273.2,616 273.7,618 274.2,618 274.7,618 275.2,619 275.6,615 276.1,620 276.6,621 277.1,618 277.5,615 278.0,615 278.5,622 279.0,620 279.5,621 279.9,624 280.4,621 280.9,621 281.4,614 281.8,621 282.3,612 282.8,622 283.3,623 283.8,613 284.2,620 284.7,620 285.2,611 285.7,611 286.1,618 286.6,617 287.1,620 287.6,614 288.1,611 288.5,622 289.0,623 289.5,623 290.0,615 290.4,619 290.9,612 291.4,613 291.9,622 292.4,612 292.8,613 293.3,619 293.8,616 294.3,617 294.7,616 295.2,621 295.7,612 296.2,621 296.7,612 297.1,622 297.6,613 298.1,611 298.6,611 299.0,614 299.5,620 300.0,616 300.5,618 301.0,610 301.4,621 301.9,615 302.4,618 302.9,619 303.3,621 303.8,620 304.3,613 304.8,615 305.3,617 305.7,613 306.2,619 306.7,615 307.2,615 307.6,620 308.1,611 308.6,618 309.1,621 309.6,620 310.0,615 310.5,614 311.0,618 311.5,621 311.9,615 312.4,614 312.9,617 313.4,619 313.9,615 314.3,620 314.8,621 315.3,617 315.8,611 316.3,619 316.7,619 317.2,619 317.7,611 318.2,614 318.6,610 319.1,611 319.6,615 320.1,611 320.6,611 321.0,610 321.5,614 322.0,611 322.5,614 322.9,617 323.4,611 323.9,618 324.4,621 324.9,616 325.3,615 325.8,620 326.3,612 326.8,618 327.2,618 327.7,611 328.2,619 328.7,619 329.2,618 329.6,611 330.1,613 330.6,611 331.1,616 331.5,613 332.0,616 332.5,619 333.0,620 333.5,611 333.9,615 334.4,618 334.9,622 335.4,614 335.8,621 336.3,616 336.8,617 337.3,613 337.8,614 338.2,613 338.7,617 339.2,616 339.7,622 340.1,616 340.6,613 341.1,623 341.6,615 342.1,616 342.5,613 343.0,613 343.5,617 344.0,619 344.4,616 344.9,614 345.4,617 345.9,613 346.4,618 346.8,613 347.3,617 347.8,618 348.3,616 348.7,612 349.2,613 349.7,615 350.2,614 350.7,620 351.1,611 351.6,609 352.1,610 352.6,610 353.0,618 353.5,615 354.0,614 354.5,612 355.0,610 355.4,615 355.9,619 356.4,611 356.9,619 357.3,615 357.8,615 358.3,622 358.8,612 359.3,618 359.7,618 360.2,622 360.7,622 361.2,618 361.6,611 362.1,610 362.6,616 363.1,610 363.6,614 364.0,613 364.5,616 365.0,609 365.5,618 365.9,618 366.4,615 366.9,618 367.4,616 367.9,619 368.3,619 368.8,616 369.3,616 369.8,615 370.2,612 370.7,617 371.2,611 371.7,618 372.2,613 372.6,618 373.1,614 373.6,617 374.1,609 374.5,621 375.0,617 375.5,616 376.0,613 376.5,611 376.9,609 377.4,614 377.9,615 378.4,610 378.8,613 379.3,618 379.8,610 380.3,617 380.8,616 381.2,612 381.7,620 382.2,609 382.7,614 383.1,612 383.6,612 384.1,614 384.6,611 385.1,610 385.5,610 386.0,612 386.5,619 387.0,615 387.4,615 387.9,616 388.4,612 388.9,617 389.4,614 389.8,610 390.3,614 390.8,612 391.3,616 391.7,619 392.2,612 392.7,611 393.2,610 393.7,613 394.1,615 394.6,609 395.1,609 395.6,616 396.0,609 396.5,617 397.0,612 397.5,617 398.0,616 398.4,617 398.9,613 399.4,612 399.9,608 400.3,618 400.8,612 401.3,611 401.8,611 402.3,621 402.7,620 403.2,618 403.7,616 404.2,618 404.6,612 405.1,615 405.6,620 406.1,611 406.6,613 407.0,613 407.5,618 408.0,611 408.5,613 408.9,621 409.4,612 409.9,610 410.4,612 410.9,614 411.3,609 411.8,615 412.3,612 412.8,609 413.2,617 413.7,609 414.2,616 414.7,612 415.2,611 415.6,612 416.1,611 416.6,615 417.1,613 417.6,609 418.0,608 418.5,619 419.0,612 419.5,615 419.9,611 420.4,616 420.9,618 421.4,617 421.9,608 422.3,615 422.8,614 423.3,619 423.8,610 424.2,614 424.7,608 425.2,616 425.7,618 426.2,611 426.6,613 427.1,617 427.6,618 428.1,608 428.5,613 429.0,618 429.5,618 430.0,606 430.5,610 430.9,615 431.4,608 431.9,606 432.4,610 432.8,617 433.3,608 433.8,606 434.3,614 434.8,610 435.2,612 435.7,611 436.2,611 436.7,610 437.1,617 437.6,612 438.1,615 438.6,617 439.1,608 439.5,607 440.0,616 440.5,618 441.0,606 441.4,615 441.9,608 442.4,614 442.9,610 443.4,609 443.8,610 444.3,606 444.8,616 445.3,614 445.7,614 446.2,617 446.7,610 447.2,617 447.7,609 448.1,618 448.6,615 449.1,618 449.6,618 450.0,613 450.5,611 451.0,608 451.5,617 452.0,608 452.4,612 452.9,617 453.4,611 453.9,611 454.3,611 454.8,618 455.3,615 455.8,612 456.3,608 456.7,609 457.2,614 457.7,606 458.2,618 458.6,613 459.1,613 459.6,615 460.1,611 460.6,607 461.0,614 461.5,608 462.0,610 462.5,616 462.9,616 463.4,610 463.9,607 464.4,606 464.9,611 465.3,606 465.8,615 466.3,613 466.8,614 467.2,609 467.7,615 468.2,609 468.7,618 469.2,616 469.6,610 470.1,619 470.6,612 471.1,616 471.5,620 472.0,611 472.5,611 473.0,617 473.5,618 473.9,620 474.4,609 474.9,617 475.4,612 475.8,618 476.3,608 476.8,612 477.3,608 477.8,613 478.2,610 478.7,610 479.2,614 479.7,608 480.1,615 480.6,615 481.1,611 481.6,617 482.1,611 482.5,619 483.0,619 483.5,612 484.0,617 484.4,618 484.9,615 485.4,611 485.9,615 486.4,611 486.8,617 487.3,609 487.8,615 488.3,616 488.7,609 489.2,611 489.7,612 490.2,610 490.7,609 491.1,615 491.6,611 492.1,616 492.6,615 493.0,608 493.5,617 494.0,611 494.5,607 495.0,611 495.4,616 495.9,613 496.4,613 496.9,613 497.3,615 497.8,609 498.3,607 498.8,610 499.3,607 499.7,611 500.2,617 500.7,607 501.2,617 501.6,614 502.1,614 502.6,615 503.1,613 503.6,617 504.0,618 504.5,611 505.0,617 505.5,610 505.9,617 506.4,610 506.9,615 507.4,611 507.9,606 508.3,605 508.8,611 509.3,607 509.8,611 510.2,609 510.7,615 511.2,615 511.7,614 512.2,608 512.6,612 513.1,616 513.6,607 514.1,615 514.5,613 515.0,616 515.5,615 516.0,616 516.5,611 516.9,615 517.4,613 517.9,614 518.4,614 518.9,611 519.3,607 519.8,613 520.3,615 520.8,616 521.2,612 521.7,608 522.2,607 522.7,612 523.2,616 523.6,609 524.1,615 524.6,617 525.1,615 525.5,611 526.0,613 526.5,609 527.0,611 527.5,614 527.9,616 528.4,608 528.9,616 529.4,606 529.8,612 530.3,610 530.8,606 531.3,606 531.8,613 532.2,606 532.7,612 533.2,616 533.7,617 534.1,609 534.6,612 535.1,607 535.6,612 536.1,609 536.5,607 537.0,606 537.5,618 538.0,607 538.4,612 538.9,613 539.4,608 539.9,609 540.4,608 540.8,610 541.3,610 541.8,610 542.3,607 542.7,611 543.2,618 543.7,618 544.2,614 544.7,618 545.1,618 545.6,616 546.1,619 546.6,613 547.0,609 547.5,607 548.0,611 548.5,613 549.0,612 549.4,613 549.9,612 550.4,614 550.9,618 551.3,615 551.8,616 552.3,614 552.8,609 553.3,611 553.7,606 554.2,603 554.7,612 555.2,605 555.6,606 556.1,604 556.6,603 557.1,605 557.6,605 558.0,613 558.5,608 559.0,609 559.5,615 559.9,609 560.4,604 560.9,607 561.4,614 561.9,607 562.3,609 562.8,615 563.3,616 563.8,610 564.2,608 564.7,605 565.2,614 565.7,605 566.2,613 566.6,612 567.1,615 567.6,611 568.1,614 568.5,607 569.0,606 569.5,609 570.0,609 570.5,615 570.9,605 571.4,604 571.9,610 572.4,604 572.8,613 573.3,616 573.8,604 574.3,615 574.8,614 575.2,615 575.7,606 576.2,612 576.7,612 577.1,613 577.6,615 578.1,604 578.6,608 579.1,609 579.5,610 580.0,604 580.5,614 581.0,615 581.4,608 581.9,615 582.4,614 582.9,610 583.4,612 583.8,609 584.3,612 584.8,610 585.3,609 585.7,610 586.2,609 586.7,611 587.2,612 587.7,608 588.1,615 588.6,613 589.1,606 589.6,614 590.0,606 590.5,603 591.0,613 591.5,611 592.0,608 592.4,609 592.9,614 593.4,610 593.9,613 594.3,612 594.8,609 595.3,617 595.8,609 596.3,605 596.7,617 597.2,614 597.7,607 598.2,615 598.6,609 599.1,609 599.6,609 600.1,603 600.6,608 601.0,612 601.5,615 602.0,613 602.5,607 602.9,610 603.4,607 603.9,606 604.4,604 604.9,607 605.3,611 605.8,610 606.3,607 606.8,615 607.2,605 607.7,611 608.2,608 608.7,610 609.2,608 609.6,616 610.1,610 610.6,604 611.1,615 611.5,605 612.0,607 612.5,617 613.0,609 613.5,610 613.9,608 614.4,612 614.9,617 615.4,616 615.8,612 616.3,613 616.8,607 617.3,610 617.8,608 618.2,615 618.7,610 619.2,608 619.7,607 620.2,615 620.6,614 621.1,604 621.6,613 622.1,606 622.5,603 623.0,601 623.5,604 624.0,608 624.5,610 624.9,608 625.4,613 625.9,604 626.4,603 626.8,609 627.3,607 627.8,610 628.3,614 628.8,606 629.2,602 629.7,613 630.2,605 630.7,610 631.1,611 631.6,611 632.1,608 632.6,606 633.1,602 633.5,602 634.0,605 634.5,610 635.0,613 635.4,603 635.9,614 636.4,612 636.9,607 637.4,613 637.8,604 638.3,611 638.8,609 639.3,614 639.7,606 640.2,606 640.7,608 641.2,609 641.7,615 642.1,607 642.6,606 643.1,613 643.6,608 644.0,614 644.5,616 645.0,610 645.5,605 646.0,616 646.4,605 646.9,614 647.4,604 647.9,614 648.3,612 648.8,613 649.3,607 649.8,614 650.3,604 650.7,614 651.2,616 651.7,603 652.2,606 652.6,611 653.1,609 653.6,609 654.1,603 654.6,607 655.0,613 655.5,606 656.0,611 656.5,606 656.9,611 657.4,610 657.9,614 658.4,615 658.9,612 659.3,609 659.8,613 660.3,614 660.8,607 661.2,614 661.7,605 662.2,610 662.7,608 663.2,606 663.6,611 664.1,607 664.6,611 665.1,604 665.5,603 666.0,608 666.5,614 667.0,605 667.5,605 667.9,611 668.4,611 668.9,603 669.4,613 669.8,603 670.3,603 670.8,608 671.3,615 671.8,615 672.2,613 672.7,612 673.2,606 673.7,604 674.1,608 674.6,607 675.1,604 675.6,610 676.1,606 676.5,613 677.0,613 677.5,609 678.0,606 678.4,604 678.9,606 679.4,607 679.9,614 680.4,614 680.8,615 681.3,606 681.8,609 682.3,609 682.7,604 683.2,614 683.7,615 684.2,607 684.7,603 685.1,611 685.6,605 686.1,603 686.6,610 687.0,615 687.5,609 688.0,612 688.5,610 689.0,603 689.4,605 689.9,613 690.4,610 690.9,612 691.3,605 691.8,608 692.3,607 692.8,611 693.3,610 693.7,613 694.2,611 694.7,609 695.2,613 695.6,603 696.1,603 696.6,607 697.1,601 697.6,600 698.0,605 698.5,612 699.0,600 699.5,604 699.9,606 700.4,610 700.9,601 701.4,604 701.9,599 702.3,608 702.8,608 703.3,605 703.8,610 704.2,612 704.7,604 705.2,606 705.7,608 706.2,614 706.6,610 707.1,603 707.6,603 708.1,613 708.5,614 709.0,605 709.5,604 710.0,609 710.5,611 710.9,609 711.4,613 711.9,605 712.4,614 712.8,604 713.3,601 713.8,614 714.3,611 714.8,613 715.2,610 715.7,603 716.2,612 716.7,606 717.1,603 717.6,610 718.1,613 718.6,603 719.1,605 719.5,612 720.0,609 720.5,603 721.0,605 721.5,601 721.9,611 722.4,610 722.9,612 723.4,604 723.8,604 724.3,608 724.8,602 725.3,604 725.8,607 726.2,605 726.7,610 727.2,604 727.7,613 728.1,611 728.6,603 729.1,603 729.6,613 730.1,607 730.5,605 731.0,609 731.5,605 732.0,602 732.4,602 732.9,603 733.4,600 733.9,611 734.4,604 734.8,611 735.3,611 735.8,609 736.3,610 736.7,606 737.2,607 737.7,607 738.2,604 738.7,611 739.1,610 739.6,606 740.1,608 740.6,614 741.0,606 741.5,603 742.0,602 742.5,601 743.0,608 743.4,600 743.9,607 744.4,611 744.9,602 745.3,600 745.8,604 746.3,612 746.8,612 747.3,608 747.7,606 748.2,605 748.7,601 749.2,612 749.6,603 750.1,607 750.6,606 751.1,611 751.6,611 752.0,608 752.5,601 753.0,605 753.5,605 753.9,606 754.4,612 754.9,607 755.4,608 755.9,602 756.3,604 756.8,605 757.3,604 757.8,611 758.2,607 758.7,612 759.2,601 759.7,610 760.2,604 760.6,604 761.1,610 761.6,605 762.1,601 762.5,600 763.0,601 763.5,600 764.0,599 764.5,604 764.9,606 765.4,600 765.9,602 766.4,600 766.8,601 767.3,600 767.8,601 768.3,605 768.8,600 769.2,607 769.7,599 770.2,602 770.7,611 771.1,606 771.6,612 772.1,604 772.6,609 773.1,602 773.5,612 774.0,614 774.5,609 775.0,611 775.4,605 775.9,601 776.4,604 776.9,606 777.4,612 777.8,600 778.3,608 778.8,603 779.3,611 779.7,604 780.2,600 780.7,605 781.2,604 781.7,611 782.1,612 782.6,605 783.1,602 783.6,606 784.0,612 784.5,612 785.0,610 785.5,607 786.0,615 786.4,607 786.9,609 787.4,613 787.9,602 788.3,610 788.8,604 789.3,607 789.8,606 790.3,600 790.7,609 791.2,602 791.7,612 792.2,607 792.6,607 793.1,612 793.6,604 794.1,606 794.6,607 795.0,607 795.5,605 796.0,602 796.5,610 796.9,611 797.4,604 797.9,604 798.4,611 798.9,606 799.3,600 799.8,600 800.3,604 800.8,602 801.2,607 801.7,608 802.2,607 802.7,613 803.2,605 803.6,604 804.1,610 804.6,608 805.1,611 805.5,612 806.0,604 806.5,613 807.0,602 807.5,606 807.9,611 808.4,600 808.9,603 809.4,611 809.8,608 810.3,604 810.8,604 811.3,607 811.8,601 812.2,611 812.7,602 813.2,611 813.7,602 814.1,599 814.6,605 815.1,609 815.6,610 816.1,608 816.5,610 817.0,602 817.5,613 818.0,611 818.4,603 818.9,601 819.4,608 819.9,611 820.4,608 820.8,603 821.3,602 821.8,606 822.3,603 822.8,602 823.2,599 823.7,610 824.2,602 824.7,604 825.1,607 825.6,600 826.1,610 826.6,603 827.1,609 827.5,611 828.0,610 828.5,604 829.0,609 829.4,600 829.9,605 830.4,602 830.9,599 831.4,598 831.8,599 832.3,607 832.8,597 833.3,611 833.7,600 834.2,606 834.7,606 835.2,608 835.7,604 836.1,599 836.6,601 837.1,599 837.6,598 838.0,598 838.5,604 839.0,607 839.5,605 840.0,608 840.4,604 840.9,610 841.4,606 841.9,603 842.3,607 842.8,600 843.3,598 843.8,605 844.3,603 844.7,601 845.2,601 845.7,607 846.2,606 846.6,601 847.1,609 847.6,611 848.1,600 848.6,603 849.0,605 849.5,601 850.0,613 850.5,604 850.9,614 851.4,604 851.9,613 852.4,610 852.9,610 853.3,613 853.8,601 854.3,602 854.8,599 855.2,605 855.7,602 856.2,606 856.7,606 857.2,599 857.6,610 858.1,603 858.6,604 859.1,608 859.5,609 860.0,604 860.5,597 861.0,606 861.5,606 861.9,600 862.4,609 862.9,599 863.4,605 863.8,599 864.3,606 864.8,602 865.3,611 865.8,599 866.2,609 866.7,608 867.2,605 867.7,601 868.1,601 868.6,606 869.1,599 869.6,611 870.1,600 870.5,603 871.0,598 871.5,610 872.0,599 872.4,601 872.9,601 873.4,610 873.9,605 874.4,606 874.8,606 875.3,606 875.8,601 876.3,600 876.7,598 877.2,606 877.7,610 878.2,601 878.7,601 879.1,596 879.6,598 880.1,608 880.6,604 881.0,607 881.5,599 882.0,602 882.5,606 883.0,605 883.4,598 883.9,599 884.4,605 884.9,601 885.3,606 885.8,608 886.3,599 886.8,604 887.3,603 887.7,601 888.2,605 888.7,598 889.2,597 889.6,601 890.1,598 890.6,599 891.1,598 891.6,596 892.0,601 892.5,608 893.0,599 893.5,603 893.9,605 894.4,600 894.9,600 895.4,605 895.9,610 896.3,607 896.8,602 897.3,598 897.8,607 898.2,610 898.7,599 899.2,609 899.7,604 900.2,601 900.6,603 901.1,603 901.6,596 902.1,607 902.5,602 903.0,602 903.5,606 904.0,606 904.5,602 904.9,595 905.4,598 905.9,606 906.4,607 906.8,596 907.3,603 907.8,605 908.3,608 908.8,608 909.2,599 909.7,606 910.2,606 910.7,607 911.1,605 911.6,609 912.1,607 912.6,597 913.1,610 913.5,598 914.0,602 914.5,604 915.0,605 915.4,611 915.9,600 916.4,613 916.9,613 917.4,610 917.8,607 918.3,611 918.8,607 919.3,600 919.7,604 920.2,602 920.7,609 921.2,607 921.7,600 922.1,610 922.6,600 923.1,603 923.6,609 924.1,599 924.5,607 925.0,600 925.5,599 926.0,606 926.4,598 926.9,598 927.4,606 927.9,606 928.4,603 928.8,600 929.3,608 929.8,607 930.3,610 930.7,610 931.2,610 931.7,610 932.2,597 932.7,599 933.1,597 933.6,600 934.1,603 934.6,599 935.0,606 935.5,608 936.0,599 936.5,598 937.0,605 937.4,601 937.9,608 938.4,600 938.9,602 939.3,598 939.8,608 940.3,598 940.8,604 941.3,599 941.7,605 942.2,604 942.7,599 943.2,611 943.6,598 944.1,600 944.6,598 945.1,608 945.6,609 946.0,605 946.5,603 947.0,604 947.5,602 947.9,607 948.4,602 948.9,607 949.4,606 949.9,600 950.3,609 950.8,610 951.3,601 951.8,610 952.2,610 952.7,598 953.2,597 953.7,604 954.2,607 954.6,609 955.1,597 955.6,603 956.1,598 956.5,596 957.0,597 957.5,601 958.0,607 958.5,600 958.9,596 959.4,596 959.9,605 960.4,609 960.8,597 961.3,602 961.8,605 962.3,599 962.8,603 963.2,608 963.7,599 964.2,607 964.7,599 965.1,609 965.6,597 966.1,597 966.6,602 967.1,599 967.5,595 968.0,608 968.5,609 969.0,604 969.4,608 969.9,595 970.4,604 971.4,684" fill="#5555ff" stroke="#5555ff" stroke-width="1" shape-rendering="crispEdges"/><path d="M66 680h1v1h-1zM71 678h1v3h-1zM72 680h1v1h-1zM73 679h1v2h-1zM75 680h1v1h-1zM77 680h1v1h-1zM78 679h1v2h-1zM80 680h1v1h-1zM81 678h1v3h-1zM82 679h2v2h-2zM86 679h2v2h-2zM89 679h1v2h-1zM92 680h1v1h-1zM96 680h1v1h-1zM98 679h2v2h-2zM100 680h1v1h-1zM102 680h2v1h-2zM105 679h2v2h-2zM109 680h1v1h-1zM111 679h1v2h-1zM112 680h1v1h-1zM113 679h1v2h-1zM114 678h1v3h-1zM118 680h2v1h-2zM120 679h1v2h-1zM121 680h2v1h-2zM125 680h1v1h-1zM127 680h1v1h-1zM131 680h2v1h-2zM134 680h3v1h-3zM142 678h1v3h-1zM144 680h1v1h-1zM146 680h1v1h-1zM149 680h1v1h-1zM151 679h2v2h-2zM153 678h1v3h-1zM154 680h10v1h-10zM165 680h1v1h-1zM171 680h4v1h-4zM179 680h1v1h-1zM183 680h1v1h-1zM185 680h2v1h-2zM187 679h1v2h-1zM189 680h2v1h-2zM192 680h1v1h-1zM195 680h2v1h-2zM197 678h1v3h-1zM198 679h1v2h-1zM199 678h2v3h-2zM201 680h1v1h-1zM206 678h1v3h-1zM208 680h1v1h-1zM210 679h1v2h-1zM211 680h4v1h-4zM215 678h1v3h-1zM216 679h1v2h-1zM221 680h1v1h-1zM225 679h1v2h-1zM226 680h1v1h-1zM228 680h1v1h-1zM230 678h1v3h-1zM231 680h2v1h-2zM234 680h1v1h-1zM235 679h1v2h-1zM236 680h1v1h-1zM237 678h1v3h-1zM238 680h1v1h-1zM245 679h1v2h-1zM246 680h4v1h-4zM251 680h2v1h-2zM253 679h1v2h-1zM254 680h1v1h-1zM257 680h1v1h-1zM261 680h2v1h-2zM264 679h1v2h-1zM265 680h1v1h-1zM268 680h2v1h-2zM270 679h2v2h-2zM272 680h1v1h-1zM273 678h1v3h-1zM274 680h1v1h-1zM276 680h1v1h-1zM278 679h1v2h-1zM279 678h1v3h-1zM281 680h1v1h-1zM284 678h1v3h-1zM285 680h1v1h-1zM286 679h2v2h-2zM289 680h3v1h-3zM292 678h1v3h-1zM293 680h1v1h-1zM295 679h1v2h-1zM297 679h2v2h-2zM299 680h1v1h-1zM301 680h1v1h-1zM303 680h1v1h-1zM305 679h2v2h-2zM308 680h2v1h-2zM311 679h1v2h-1zM313 679h1v2h-1zM314 680h1v1h-1zM317 680h1v1h-1zM318 679h1v2h-1zM319 678h2v3h-2zM323 680h1v1h-1zM325 679h1v2h-1zM326 678h1v3h-1zM327 679h1v2h-1zM328 680h1v1h-1zM329 678h1v3h-1zM330 680h2v1h-2zM333 680h1v1h-1zM335 678h1v3h-1zM336 680h1v1h-1zM340 680h1v1h-1zM344 679h1v2h-1zM346 679h2v2h-2zM349 680h1v1h-1zM351 680h2v1h-2zM356 678h1v3h-1zM358 678h1v3h-1zM359 680h1v1h-1zM361 680h2v1h-2zM364 680h1v1h-1zM368 680h1v1h-1zM369 678h1v3h-1zM372 680h1v1h-1zM374 679h1v2h-1zM376 680h2v1h-2zM381 680h1v1h-1zM383 680h1v1h-1zM384 678h1v3h-1zM385 680h1v1h-1zM388 679h4v2h-4zM392 680h1v1h-1zM393 678h1v3h-1zM394 680h2v1h-2zM397 678h1v3h-1zM400 680h2v1h-2zM403 680h1v1h-1zM405 680h1v1h-1zM406 679h1v2h-1zM407 680h1v1h-1zM408 679h1v2h-1zM409 680h2v1h-2zM411 679h1v2h-1zM412 678h1v3h-1zM416 680h3v1h-3zM419 679h1v2h-1zM420 678h1v3h-1zM422 679h1v2h-1zM426 680h3v1h-3zM432 680h1v1h-1zM437 680h1v1h-1zM439 680h2v1h-2zM443 679h1v2h-1zM445 680h2v1h-2zM447 678h1v3h-1zM449 680h1v1h-1zM451 680h2v1h-2zM454 680h1v1h-1zM457 679h1v2h-1zM460 679h1v2h-1zM462 680h2v1h-2zM464 679h1v2h-1zM466 679h3v2h-3zM469 680h1v1h-1zM471 680h3v1h-3zM476 679h1v2h-1zM477 680h1v1h-1zM478 679h2v2h-2zM480 680h1v1h-1zM481 679h1v2h-1zM483 678h1v3h-1zM485 678h1v3h-1zM486 680h2v1h-2zM490 680h3v1h-3zM495 679h1v2h-1zM496 680h1v1h-1zM498 680h2v1h-2zM501 680h2v1h-2zM505 680h1v1h-1zM507 680h1v1h-1zM509 680h2v1h-2zM511 679h1v2h-1zM512 680h1v1h-1zM515 680h2v1h-2zM519 680h1v1h-1zM520 679h1v2h-1zM521 680h1v1h-1zM523 678h1v3h-1zM526 679h1v2h-1zM528 679h1v2h-1zM529 680h3v1h-3zM533 679h1v2h-1zM539 680h1v1h-1zM544 680h1v1h-1zM547 680h1v1h-1zM548 679h1v2h-1zM549 680h1v1h-1zM550 679h2v2h-2zM552 680h3v1h-3zM555 678h1v3h-1zM558 679h1v2h-1zM559 680h1v1h-1zM562 680h1v1h-1zM567 679h1v2h-1zM570 678h1v3h-1zM571 679h1v2h-1zM572 680h1v1h-1zM574 678h1v3h-1zM575 679h2v2h-2zM577 680h1v1h-1zM579 678h1v3h-1zM581 679h3v2h-3zM585 679h1v2h-1zM592 680h1v1h-1zM595 679h1v2h-1zM596 680h1v1h-1zM598 679h1v2h-1zM602 680h1v1h-1zM604 678h1v3h-1zM605 680h1v1h-1zM608 678h1v3h-1zM610 679h2v2h-2zM613 679h1v2h-1zM615 680h2v1h-2zM618 680h1v1h-1zM619 678h1v3h-1zM620 680h1v1h-1zM621 679h1v2h-1zM623 680h1v1h-1zM625 679h1v2h-1zM626 678h1v3h-1zM629 680h2v1h-2zM632 680h4v1h-4zM637 680h2v1h-2zM640 680h1v1h-1zM642 678h1v3h-1zM644 679h2v2h-2zM646 680h1v1h-1zM647 678h1v3h-1zM648 680h2v1h-2zM650 679h1v2h-1zM653 679h1v2h-1zM655 679h1v2h-1zM657 680h1v1h-1zM659 679h2v2h-2zM662 680h2v1h-2zM665 680h1v1h-1zM666 679h1v2h-1zM667 680h1v1h-1zM668 679h1v2h-1zM670 679h1v2h-1zM672 680h1v1h-1zM673 679h1v2h-1zM675 680h1v1h-1zM676 679h1v2h-1zM677 678h1v3h-1zM678 679h1v2h-1zM680 679h2v2h-2zM682 678h1v3h-1zM684 679h1v2h-1zM688 678h1v3h-1zM691 680h1v1h-1zM692 679h4v2h-4zM697 678h1v3h-1zM700 680h1v1h-1zM702 678h1v3h-1zM703 680h1v1h-1zM704 679h1v2h-1zM705 680h1v1h-1zM707 678h1v3h-1zM708 680h1v1h-1zM710 680h3v1h-3zM713 679h1v2h-1zM715 680h4v1h-4zM719 679h1v2h-1zM722 679h1v2h-1zM723 680h1v1h-1zM725 678h1v3h-1zM726 679h1v2h-1zM727 678h1v3h-1zM729 679h1v2h-1zM732 680h2v1h-2zM734 678h1v3h-1zM738 679h1v2h-1zM740 679h1v2h-1zM746 680h1v1h-1zM748 680h1v1h-1zM749 678h1v3h-1zM750 679h1v2h-1zM752 680h1v1h-1zM754 678h1v3h-1zM755 679h1v2h-1zM756 680h4v1h-4zM761 678h1v3h-1zM765 678h1v3h-1zM766 680h1v1h-1zM767 679h1v2h-1zM768 680h1v1h-1zM769 679h1v2h-1zM772 680h1v1h-1zM773 678h1v3h-1zM774 680h1v1h-1zM778 680h2v1h-2zM781 680h1v1h-1zM783 680h1v1h-1zM785 679h1v2h-1zM786 680h2v1h-2zM789 680h1v1h-1zM790 679h1v2h-1zM791 680h1v1h-1zM792 678h1v3h-1zM795 680h1v1h-1zM796 679h1v2h-1zM798 680h2v1h-2zM801 680h1v1h-1zM804 680h2v1h-2zM808 679h1v2h-1zM809 680h3v1h-3zM812 679h2v2h-2zM814 680h1v1h-1zM816 679h1v2h-1zM818 679h2v2h-2zM821 680h1v1h-1zM822 679h1v2h-1zM823 680h1v1h-1zM824 679h2v2h-2zM826 678h2v3h-2zM828 680h2v1h-2zM830 679h1v2h-1zM834 679h1v2h-1zM835 680h2v1h-2zM840 680h1v1h-1zM842 680h1v1h-1zM844 680h1v1h-1zM845 679h1v2h-1zM847 680h2v1h-2zM851 678h1v3h-1zM853 679h1v2h-1zM854 680h2v1h-2zM858 680h1v1h-1zM860 680h1v1h-1zM865 680h1v1h-1zM868 679h1v2h-1zM869 680h1v1h-1zM874 680h1v1h-1zM876 678h1v3h-1zM877 680h3v1h-3zM881 679h1v2h-1zM882 680h3v1h-3zM886 680h2v1h-2zM889 678h1v3h-1zM891 680h3v1h-3zM895 680h1v1h-1zM896 679h1v2h-1zM897 680h1v1h-1zM899 680h1v1h-1zM901 680h1v1h-1zM904 680h2v1h-2zM908 678h1v3h-1zM910 679h1v2h-1zM912 679h1v2h-1zM913 680h2v1h-2zM916 680h2v1h-2zM918 679h1v2h-1zM920 680h1v1h-1zM922 679h1v2h-1zM923 678h2v3h-2zM926 680h1v1h-1zM927 679h2v2h-2zM929 678h1v3h-1zM935 680h4v1h-4zM941 680h1v1h-1zM942 678h1v3h-1zM943 679h1v2h-1zM944 680h1v1h-1zM946 679h1v2h-1zM947 680h2v1h-2zM949 678h2v3h-2zM951 680h1v1h-1zM952 679h1v2h-1zM953 680h2v1h-2zM956 680h1v1h-1zM957 678h1v3h-1zM958 680h5v1h-5zM963 678h1v3h-1zM964 680h2v1h-2zM966 679h1v2h-1zM967 680h1v1h-1z" fill="#ffffff" shape-rendering="crispEdges"/><polyline points="63.0,643.2 63.4,631.9 63.8,644.9 64.1,633.8 64.5,645.2 64.9,629.5 65.3,646.5 65.6,631.4 66.0,645.0 66.4,632.8 66.8,645.9 67.2,628.2 67.5,638.3 67.9,633.1 68.3,639.7 68.7,632.8 69.1,645.7 69.4,632.9 69.8,639.9 70.2,633.0 70.6,645.1 70.9,632.8 71.3,643.3 71.7,627.9 72.1,639.8 72.5,633.0 72.8,638.9 73.2,626.1 73.6,640.0 74.0,629.4 74.3,642.9 74.7,630.8 75.1,639.2 75.5,631.9 75.9,635.7 76.2,625.7 76.6,640.8 77.0,632.0 77.4,639.2 77.8,623.6 78.1,640.8 78.5,627.4 78.9,641.2 79.3,631.4 79.6,636.7 80.0,623.0 80.4,641.7 80.8,626.3 81.2,641.6 81.5,628.6 81.9,636.5 82.3,629.8 82.7,641.8 83.0,629.3 83.4,636.0 83.8,624.5 84.2,635.2 84.6,622.0 84.9,641.9 85.3,622.4 85.7,635.4 86.1,627.3 86.5,638.4 86.8,626.3 87.2,640.3 87.6,628.5 88.0,636.8 88.3,626.6 88.7,636.8 89.1,625.2 89.5,633.7 89.9,622.6 90.2,640.4 90.6,628.7 91.0,637.9 91.4,621.5 91.7,636.5 92.1,620.9 92.5,640.8 92.9,622.2 93.3,632.0 93.6,624.7 94.0,636.8 94.4,620.7 94.8,639.5 95.2,627.4 95.5,633.7 95.9,626.6 96.3,640.0 96.7,624.0 97.0,634.0 97.4,623.8 97.8,636.8 98.2,624.8 98.6,637.9 98.9,627.6 99.3,633.1 99.7,623.9 100.1,636.7 100.4,623.1 100.8,632.8 101.2,621.5 101.6,639.4 102.0,621.8 102.3,637.0 102.7,625.1 103.1,635.0 103.5,625.3 103.9,636.1 104.2,624.6 104.6,639.8 105.0,623.2 105.4,631.5 105.7,621.7 106.1,632.9 106.5,623.6 106.9,638.2 107.3,623.4 107.6,635.9 108.0,620.1 108.4,634.0 108.8,618.2 109.1,636.8 109.5,620.9 109.9,638.7 110.3,623.7 110.7,629.6 111.0,619.8 111.4,635.6 111.8,619.8 112.2,638.0 112.5,618.4 112.9,638.1 113.3,617.6 113.7,638.0 114.1,620.5 114.4,636.7 114.8,621.0 115.2,631.8 115.6,617.5 116.0,631.7 116.3,619.8 116.7,629.7 117.1,623.5 117.5,634.5 117.8,617.0 118.2,635.7 118.6,614.9 119.0,634.7 119.4,622.1 119.7,632.4 120.1,615.4 120.5,637.6 120.9,623.7 121.2,634.3 121.6,624.7 122.0,633.8 122.4,619.0 122.8,637.7 123.1,617.7 123.5,629.2 123.9,624.3 124.3,633.8 124.7,624.0 125.0,632.2 125.4,617.7 125.8,636.3 126.2,622.7 126.5,635.0 126.9,624.8 127.3,630.9 127.7,616.1 128.1,637.3 128.4,620.0 128.8,636.6 129.2,615.1 129.6,630.7 129.9,619.0 130.3,634.5 130.7,623.5 131.1,631.4 131.5,622.7 131.8,637.4 132.2,618.7 132.6,636.3 133.0,620.3 133.4,629.9 133.7,620.5 134.1,634.8 134.5,620.0 134.9,630.3 135.2,621.5 135.6,634.0 136.0,623.2 136.4,632.6 136.8,619.4 137.1,634.6 137.5,618.6 137.9,628.3 138.3,623.6 138.6,628.8 139.0,616.4 139.4,636.4 139.8,622.5 140.2,635.0 140.5,614.4 140.9,628.0 141.3,620.8 141.7,635.8 142.1,623.2 142.4,634.7 142.8,616.5 143.2,636.8 143.6,618.9 143.9,631.3 144.3,621.8 144.7,632.0 145.1,619.5 145.5,637.5 145.8,623.2 146.2,633.2 146.6,620.5 147.0,629.5 147.3,621.1 147.7,629.0 148.1,616.3 148.5,630.9 148.9,621.3 149.2,632.8 149.6,619.8 150.0,635.2 150.4,617.6 150.8,627.8 151.1,616.6 151.5,630.8 151.9,614.7 152.3,632.2 152.6,616.8 153.0,631.5 153.4,621.1 153.8,628.9 154.2,617.6 154.5,635.2 154.9,624.0 155.3,628.1 155.7,615.4 156.0,634.3 156.4,617.4 156.8,635.3 157.2,618.2 157.6,631.1 157.9,620.7 158.3,627.6 158.7,615.4 159.1,630.3 159.5,619.7 159.8,635.1 160.2,613.8 160.6,633.0 161.0,616.1 161.3,634.7 161.7,612.0 162.1,627.0 162.5,622.0 162.9,627.8 163.2,612.9 163.6,634.5 164.0,617.7 164.4,635.0 164.7,616.6 165.1,630.9 165.5,619.5 165.9,634.8 166.3,617.2 166.6,629.4 167.0,616.6 167.4,634.3 167.8,616.7 168.2,632.3 168.5,616.6 168.9,633.0 169.3,621.6 169.7,632.9 170.0,621.9 170.4,631.0 170.8,613.9 171.2,629.1 171.6,613.8 171.9,632.6 172.3,617.8 172.7,628.3 173.1,614.7 173.4,630.6 173.8,618.9 174.2,627.0 174.6,620.6 175.0,632.2 175.3,613.8 175.7,634.5 176.1,614.0 176.5,627.7 176.9,616.8 177.2,629.8 177.6,615.7 178.0,634.8 178.4,622.7 178.7,636.1 179.1,617.3 179.5,626.2 179.9,620.4 180.3,628.8 180.6,615.9 181.0,632.6 181.4,616.9 181.8,628.9 182.1,618.3 182.5,629.6 182.9,616.0 183.3,626.0 183.7,616.8 184.0,625.1 184.4,619.7 184.8,626.1 185.2,611.3 185.6,629.7 185.9,613.0 186.3,629.5 186.7,614.2 187.1,633.7 187.4,620.6 187.8,631.6 188.2,610.5 188.6,630.9 189.0,615.5 189.3,633.3 189.7,610.8 190.1,633.7 190.5,612.9 190.8,630.4 191.2,612.8 191.6,635.1 192.0,614.3 192.4,633.2 192.7,612.5 193.1,625.4 193.5,621.7 193.9,634.8 194.2,618.9 194.6,629.4 195.0,618.8 195.4,635.1 195.8,615.7 196.1,633.1 196.5,613.5 196.9,627.1 197.3,622.3 197.7,630.1 198.0,617.5 198.4,626.8 198.8,620.6 199.2,629.9 199.5,616.2 199.9,633.9 200.3,614.6 200.7,632.2 201.1,615.1 201.4,631.6 201.8,619.4 202.2,636.7 202.6,621.1 202.9,630.3 203.3,618.8 203.7,628.5 204.1,620.8 204.5,634.7 204.8,620.8 205.2,626.9 205.6,615.7 206.0,634.2 206.4,612.5 206.7,627.9 207.1,618.1 207.5,628.1 207.9,611.6 208.2,632.2 208.6,614.0 209.0,629.9 209.4,616.9 209.8,633.1 210.1,614.0 210.5,635.6 210.9,616.9 211.3,629.4 211.6,615.9 212.0,629.6 212.4,622.2 212.8,627.2 213.2,616.9 213.5,634.2 213.9,621.1 214.3,628.6 214.7,616.6 215.1,626.6 215.4,622.0 215.8,634.9 216.2,613.1 216.6,626.4 216.9,620.4 217.3,635.3 217.7,620.6 218.1,632.7 218.5,619.9 218.8,632.9 219.2,619.6 219.6,634.7 220.0,619.0 220.3,629.6 220.7,619.8 221.1,634.3 221.5,621.2 221.9,625.8 222.2,615.8 222.6,627.3 223.0,611.9 223.4,631.1 223.8,613.1 224.1,629.1 224.5,614.2 224.9,633.3 225.3,619.2 225.6,635.5 226.0,618.7 226.4,633.3 226.8,611.7 227.2,626.8 227.5,617.7 227.9,627.5 228.3,617.9 228.7,632.9 229.0,620.0 229.4,628.0 229.8,613.3 230.2,628.4 230.6,612.5 230.9,631.6 231.3,620.2 231.7,633.8 232.1,614.6 232.5,630.0 232.8,619.6 233.2,626.5 233.6,616.1 234.0,634.1 234.3,619.1 234.7,631.5 235.1,617.7 235.5,627.0 235.9,615.9 236.2,632.8 236.6,617.7 237.0,632.8 237.4,619.0 237.7,629.8 238.1,613.0 238.5,628.2 238.9,611.0 239.3,627.3 239.6,613.5 240.0,631.6 240.4,610.0 240.8,626.2 241.2,610.7 241.5,625.7 241.9,617.6 242.3,634.7 242.7,619.6 243.0,633.0 243.4,611.9 243.8,630.3 244.2,616.7 244.6,632.3 244.9,615.3 245.3,626.0 245.7,617.2 246.1,629.6 246.4,614.5 246.8,632.7 247.2,611.1 247.6,630.7 248.0,611.6 248.3,631.2 248.7,616.4 249.1,628.5 249.5,611.4 249.9,627.2 250.2,613.0 250.6,631.0 251.0,610.1 251.4,623.1 251.7,617.9 252.1,632.7 252.5,611.3 252.9,628.9 253.3,607.1 253.6,632.3 254.0,610.0 254.4,630.1 254.8,610.5 255.1,624.6 255.5,612.1 255.9,627.0 256.3,607.7 256.7,623.2 257.0,614.5 257.4,632.0 257.8,608.3 258.2,622.9 258.6,614.1 258.9,633.6 259.3,617.2 259.7,629.2 260.1,618.6 260.4,631.3 260.8,615.5 261.2,627.3 261.6,613.3 262.0,630.2 262.3,613.1 262.7,627.6 263.1,613.4 263.5,624.8 263.8,613.2 264.2,630.3 264.6,614.9 265.0,624.2 265.4,617.6 265.7,624.8 266.1,611.8 266.5,633.8 266.9,612.6 267.3,634.0 267.6,617.0 268.0,631.4 268.4,615.7 268.8,633.4 269.1,619.5 269.5,630.8 269.9,613.5 270.3,630.4 270.7,615.2 271.0,630.1 271.4,609.8 271.8,633.9 272.2,615.7 272.5,629.6 272.9,611.4 273.3,627.2 273.7,609.8 274.1,632.0 274.4,612.5 274.8,628.8 275.2,612.3 275.6,626.4 275.9,617.8 276.3,628.4 276.7,609.3 277.1,630.1 277.5,619.6 277.8,629.9 278.2,617.1 278.6,625.8 279.0,616.5 279.4,626.9 279.7,615.6 280.1,627.5 280.5,617.1 280.9,632.0 281.2,609.9 281.6,626.8 282.0,617.2 282.4,626.0 282.8,611.9 283.1,626.5 283.5,612.6 283.9,625.1 284.3,614.9 284.6,622.8 285.0,607.8 285.4,629.1 285.8,608.1 286.2,630.8 286.5,614.8 286.9,625.7 287.3,612.1 287.7,624.3 288.1,611.0 288.4,626.9 288.8,607.9 289.2,631.1 289.6,613.6 289.9,625.5 290.3,610.4 290.7,624.9 291.1,610.0 291.5,623.7 291.8,616.6 292.2,628.8 292.6,614.9 293.0,629.2 293.3,611.6 293.7,626.8 294.1,611.9 294.5,626.4 294.9,613.8 295.2,623.6 295.6,612.6 296.0,631.6 296.4,615.2 296.8,627.1 297.1,617.3 297.5,624.5 297.9,610.4 298.3,632.0 298.6,615.8 299.0,631.4 299.4,616.5 299.8,622.9 300.2,614.7 300.5,628.6 300.9,610.8 301.3,621.3 301.7,612.0 302.0,627.3 302.4,610.5 302.8,632.1 303.2,614.3 303.6,627.9 303.9,608.2 304.3,624.4 304.7,612.4 305.1,624.8 305.5,615.5 305.8,626.0 306.2,610.7 306.6,626.9 307.0,608.6 307.3,625.8 307.7,616.0 308.1,629.5 308.5,613.4 308.9,627.6 309.2,616.3 309.6,622.3 310.0,609.7 310.4,622.6 310.7,612.7 311.1,622.7 311.5,618.0 311.9,631.5 312.3,608.8 312.6,632.3 313.0,612.5 313.4,625.5 313.8,610.5 314.2,627.5 314.5,613.1 314.9,622.3 315.3,609.6 315.7,630.2 316.0,612.3 316.4,629.6 316.8,610.8 317.2,631.0 317.6,611.2 317.9,625.1 318.3,610.1 318.7,622.0 319.1,608.7 319.4,627.4 319.8,615.1 320.2,627.6 320.6,611.9 321.0,630.3 321.3,607.2 321.7,629.6 322.1,614.7 322.5,626.5 322.9,607.4 323.2,627.4 323.6,613.1 324.0,626.3 324.4,610.4 324.7,629.7 325.1,614.5 325.5,627.4 325.9,612.9 326.3,631.6 326.6,606.5 327.0,623.4 327.4,616.1 327.8,622.3 328.1,609.3 328.5,629.7 328.9,610.9 329.3,628.8 329.7,612.7 330.0,623.0 330.4,616.5 330.8,624.6 331.2,613.6 331.6,621.1 331.9,610.0 332.3,627.1 332.7,614.3 333.1,631.8 333.4,612.4 333.8,631.6 334.2,617.5 334.6,622.1 335.0,610.1 335.3,625.7 335.7,611.2 336.1,626.8 336.5,619.0 336.8,623.9 337.2,613.5 337.6,629.2 338.0,613.4 338.4,630.9 338.7,611.2 339.1,628.7 339.5,614.1 339.9,630.7 340.3,611.9 340.6,631.5 341.0,612.2 341.4,628.0 341.8,616.5 342.1,626.4 342.5,615.6 342.9,630.9 343.3,614.2 343.7,630.9 344.0,608.4 344.4,622.9 344.8,614.9 345.2,625.3 345.5,617.5 345.9,629.7 346.3,616.0 346.7,624.5 347.1,615.8 347.4,630.3 347.8,606.9 348.2,625.2 348.6,607.2 349.0,626.8 349.3,607.5 349.7,622.1 350.1,609.4 350.5,626.3 350.8,609.0 351.2,622.8 351.6,610.3 352.0,622.0 352.4,607.5 352.7,628.1 353.1,613.8 353.5,629.1 353.9,616.4 354.2,622.0 354.6,610.3 355.0,621.8 355.4,615.7 355.8,631.1 356.1,617.5 356.5,627.4 356.9,612.3 357.3,631.7 357.6,618.1 358.0,626.6 358.4,611.3 358.8,632.9 359.2,614.6 359.5,628.2 359.9,615.5 360.3,630.1 360.7,610.0 361.1,627.4 361.4,607.7 361.8,627.3 362.2,614.0 362.6,625.8 362.9,616.4 363.3,624.8 363.7,611.8 364.1,624.7 364.5,611.5 364.8,622.8 365.2,614.2 365.6,629.7 366.0,612.4 366.3,620.8 366.7,608.1 367.1,625.8 367.5,611.5 367.9,628.2 368.2,612.3 368.6,630.9 369.0,609.9 369.4,630.5 369.8,607.9 370.1,631.2 370.5,611.0 370.9,629.3 371.3,611.6 371.6,631.0 372.0,616.7 372.4,621.5 372.8,607.9 373.2,624.4 373.5,609.5 373.9,621.3 374.3,612.4 374.7,622.2 375.0,615.4 375.4,620.6 375.8,606.1 376.2,630.1 376.6,606.2 376.9,623.5 377.3,615.3 377.7,625.0 378.1,611.7 378.5,630.0 378.8,612.6 379.2,627.3 379.6,615.9 380.0,627.6 380.3,606.2 380.7,625.1 381.1,616.5 381.5,628.0 381.9,607.9 382.2,627.9 382.6,606.7 383.0,621.1 383.4,610.2 383.7,625.6 384.1,615.6 384.5,621.3 384.9,612.1 385.3,627.0 385.6,606.9 386.0,619.8 386.4,612.8 386.8,620.8 387.2,615.5 387.5,622.9 387.9,613.5 388.3,630.8 388.7,612.7 389.0,626.7 389.4,605.8 389.8,630.4 390.2,609.0 390.6,627.4 390.9,616.0 391.3,623.4 391.7,607.1 392.1,625.8 392.4,614.1 392.8,630.0 393.2,611.8 393.6,621.8 394.0,609.7 394.3,622.9 394.7,614.2 395.1,630.1 395.5,613.6 395.9,625.0 396.2,613.1 396.6,621.1 397.0,610.7 397.4,625.4 397.7,605.1 398.1,627.9 398.5,610.1 398.9,621.4 399.3,610.8 399.6,619.1 400.0,612.1 400.4,628.0 400.8,614.9 401.1,622.0 401.5,615.4 401.9,624.3 402.3,614.3 402.7,621.3 403.0,612.3 403.4,623.5 403.8,613.7 404.2,631.9 404.6,616.6 404.9,623.1 405.3,615.3 405.7,632.5 406.1,612.5 406.4,628.4 406.8,617.1 407.2,621.7 407.6,617.2 408.0,626.4 408.3,611.4 408.7,631.8 409.1,615.1 409.5,628.2 409.8,615.7 410.2,630.9 410.6,614.3 411.0,621.8 411.4,614.4 411.7,629.7 412.1,611.3 412.5,627.3 412.9,606.9 413.3,626.3 413.6,615.2 414.0,629.4 414.4,607.2 414.8,623.1 415.1,613.4 415.5,626.6 415.9,614.3 416.3,621.8 416.7,615.0 417.0,629.8 417.4,605.1 417.8,626.9 418.2,612.4 418.5,623.0 418.9,608.7 419.3,627.5 419.7,607.4 420.1,627.4 420.4,604.0 420.8,619.7 421.2,612.8 421.6,623.3 422.0,611.7 422.3,628.1 422.7,604.2 423.1,624.4 423.5,604.2 423.8,618.7 424.2,610.5 424.6,622.1 425.0,609.8 425.4,623.1 425.7,613.0 426.1,618.8 426.5,609.9 426.9,625.1 427.2,610.4 427.6,619.3 428.0,605.8 428.4,625.0 428.8,607.7 429.1,624.3 429.5,604.1 429.9,622.6 430.3,603.8 430.7,627.3 431.0,608.2 431.4,618.1 431.8,602.3 432.2,622.3 432.5,602.5 432.9,622.2 433.3,602.3 433.7,627.2 434.1,602.8 434.4,618.3 434.8,608.8 435.2,626.3 435.6,611.6 435.9,627.1 436.3,606.9 436.7,619.9 437.1,612.6 437.5,626.8 437.8,607.0 438.2,620.5 438.6,612.4 439.0,619.8 439.3,607.0 439.7,628.7 440.1,603.7 440.5,620.1 440.9,609.9 441.2,618.2 441.6,603.1 442.0,618.5 442.4,607.5 442.8,626.6 443.1,605.7 443.5,627.0 443.9,610.0 444.3,617.9 444.6,605.7 445.0,626.2 445.4,609.9 445.8,619.6 446.2,603.5 446.5,627.6 446.9,613.5 447.3,622.8 447.7,613.5 448.0,627.4 448.4,603.3 448.8,626.8 449.2,614.0 449.6,626.3 449.9,613.3 450.3,621.9 450.7,608.4 451.1,625.4 451.5,605.5 451.8,623.0 452.2,613.9 452.6,622.4 453.0,611.9 453.3,625.2 453.7,607.1 454.1,626.5 454.5,603.5 454.9,622.1 455.2,608.3 455.6,628.8 456.0,602.8 456.4,627.8 456.7,610.6 457.1,623.6 457.5,607.8 457.9,618.5 458.3,606.1 458.6,628.2 459.0,604.2 459.4,624.1 459.8,607.2 460.2,628.8 460.5,611.8 460.9,628.0 461.3,602.6 461.7,626.5 462.0,609.9 462.4,622.0 462.8,605.8 463.2,617.4 463.6,611.4 463.9,621.1 464.3,610.2 464.7,619.2 465.1,608.2 465.4,620.9 465.8,612.2 466.2,627.0 466.6,603.4 467.0,623.7 467.3,611.9 467.7,623.9 468.1,604.3 468.5,624.6 468.9,613.4 469.2,626.9 469.6,612.9 470.0,621.5 470.4,606.7 470.7,624.3 471.1,610.5 471.5,620.9 471.9,609.2 472.3,629.6 472.6,608.9 473.0,627.4 473.4,606.4 473.8,620.8 474.1,609.8 474.5,627.8 474.9,613.0 475.3,618.8 475.7,607.8 476.0,620.1 476.4,610.7 476.8,621.2 477.2,608.9 477.6,620.4 477.9,604.0 478.3,624.1 478.7,605.1 479.1,629.6 479.4,606.1 479.8,624.3 480.2,608.9 480.6,623.5 481.0,606.4 481.3,621.0 481.7,610.0 482.1,624.5 482.5,609.2 482.8,626.8 483.2,611.7 483.6,625.5 484.0,605.1 484.4,624.1 484.7,610.5 485.1,618.8 485.5,603.8 485.9,627.9 486.3,606.5 486.6,626.2 487.0,601.6 487.4,626.2 487.8,608.9 488.1,628.4 488.5,607.7 488.9,625.7 489.3,608.0 489.7,625.7 490.0,607.3 490.4,618.3 490.8,606.8 491.2,626.0 491.5,609.8 491.9,624.0 492.3,604.6 492.7,619.4 493.1,612.0 493.4,621.0 493.8,608.9 494.2,620.0 494.6,604.2 495.0,623.6 495.3,603.7 495.7,622.7 496.1,603.9 496.5,622.6 496.8,601.9 497.2,621.9 497.6,606.3 498.0,618.0 498.4,606.5 498.7,622.7 499.1,606.8 499.5,627.9 499.9,609.3 500.2,619.1 500.6,610.7 501.0,625.6 501.4,606.4 501.8,621.2 502.1,604.3 502.5,626.8 502.9,607.1 503.3,622.0 503.7,605.0 504.0,620.2 504.4,603.4 504.8,628.4 505.2,611.1 505.5,618.9 505.9,604.5 506.3,628.8 506.7,604.6 507.1,624.7 507.4,606.1 507.8,627.4 508.2,610.8 508.6,628.0 508.9,611.3 509.3,622.1 509.7,609.0 510.1,627.6 510.5,606.1 510.8,618.8 511.2,602.8 511.6,620.7 512.0,601.2 512.4,622.0 512.7,611.3 513.1,617.4 513.5,603.0 513.9,622.0 514.2,613.4 514.6,620.1 515.0,609.3 515.4,625.2 515.8,608.5 516.1,624.9 516.5,613.8 516.9,622.0 517.3,613.2 517.6,621.5 518.0,603.8 518.4,626.3 518.8,613.9 519.2,626.1 519.5,608.6 519.9,629.2 520.3,612.0 520.7,621.3 521.0,605.3 521.4,621.2 521.8,606.4 522.2,622.0 522.6,608.4 522.9,617.6 523.3,609.7 523.7,622.9 524.1,610.2 524.5,628.9 524.8,613.2 525.2,624.5 525.6,611.8 526.0,623.2 526.3,605.3 526.7,620.8 527.1,605.0 527.5,628.1 527.9,604.8 528.2,624.0 528.6,603.3 529.0,624.6 529.4,606.9 529.7,620.1 530.1,608.5 530.5,626.3 530.9,609.5 531.3,620.0 531.6,610.6 532.0,624.5 532.4,609.5 532.8,626.9 533.2,604.7 533.5,618.9 533.9,605.1 534.3,621.1 534.7,612.2 535.0,627.6 535.4,612.2 535.8,622.8 536.2,608.3 536.6,621.3 536.9,609.3 537.3,629.4 537.7,604.0 538.1,621.2 538.4,603.5 538.8,621.7 539.2,613.2 539.6,620.6 540.0,612.6 540.3,619.5 540.7,602.4 541.1,623.9 541.5,601.9 541.9,625.8 542.2,607.6 542.6,625.9 543.0,610.1 543.4,621.6 543.7,602.5 544.1,618.6 544.5,603.6 544.9,627.2 545.3,613.2 545.6,619.7 546.0,612.9 546.4,623.3 546.8,605.6 547.1,619.1 547.5,614.3 547.9,623.6 548.3,603.7 548.7,621.4 549.0,614.6 549.4,624.0 549.8,614.6 550.2,622.2 550.6,612.3 550.9,623.7 551.3,608.5 551.7,619.0 552.1,608.0 552.4,622.2 552.8,602.4 553.2,621.4 553.6,602.4 554.0,621.7 554.3,602.3 554.7,624.5 555.1,605.9 555.5,618.2 555.8,606.6 556.2,623.4 556.6,598.2 557.0,621.7 557.4,597.8 557.7,623.9 558.1,601.5 558.5,619.5 558.9,601.4 559.3,615.0 559.6,606.6 560.0,620.2 560.4,603.1 560.8,617.9 561.1,603.1 561.5,616.9 561.9,600.9 562.3,622.5 562.7,601.4 563.0,617.2 563.4,600.1 563.8,620.9 564.2,604.6 564.5,620.0 564.9,601.6 565.3,624.0 565.7,608.8 566.1,616.8 566.4,606.4 566.8,620.3 567.2,600.5 567.6,623.9 568.0,605.3 568.3,621.2 568.7,602.6 569.1,617.8 569.5,607.7 569.8,618.2 570.2,601.0 570.6,626.6 571.0,604.5 571.4,621.7 571.7,602.2 572.1,616.2 572.5,605.7 572.9,617.0 573.2,610.1 573.6,622.0 574.0,603.9 574.4,621.9 574.8,609.3 575.1,622.1 575.5,606.0 575.9,620.9 576.3,602.5 576.7,622.3 577.0,603.9 577.4,614.8 577.8,599.9 578.2,626.4 578.5,608.4 578.9,627.1 579.3,604.4 579.7,624.6 580.1,610.7 580.4,624.0 580.8,609.8 581.2,621.5 581.6,607.1 581.9,626.8 582.3,602.5 582.7,623.7 583.1,604.9 583.5,624.1 583.8,609.2 584.2,621.3 584.6,599.5 585.0,620.7 585.4,604.6 585.7,616.4 586.1,610.5 586.5,617.8 586.9,602.6 587.2,618.7 587.6,606.3 588.0,624.6 588.4,607.6 588.8,614.9 589.1,607.5 589.5,615.1 589.9,598.1 590.3,624.8 590.6,610.2 591.0,623.5 591.4,603.9 591.8,625.9 592.2,609.9 592.5,625.9 592.9,600.9 593.3,622.7 593.7,600.2 594.1,618.7 594.4,609.3 594.8,623.2 595.2,604.2 595.6,628.1 595.9,611.5 596.3,627.5 596.7,607.2 597.1,624.4 597.5,600.3 597.8,619.4 598.2,602.6 598.6,625.0 599.0,606.3 599.3,619.9 599.7,605.7 600.1,615.9 600.5,601.8 600.9,623.9 601.2,598.2 601.6,617.3 602.0,609.7 602.4,619.7 602.7,609.6 603.1,626.5 603.5,600.5 603.9,620.1 604.3,603.0 604.6,625.6 605.0,609.7 605.4,616.4 605.8,606.9 606.2,625.4 606.5,599.8 606.9,620.7 607.3,601.3 607.7,623.5 608.0,602.6 608.4,627.4 608.8,606.4 609.2,626.2 609.6,601.8 609.9,619.2 610.3,604.5 610.7,623.0 611.1,601.1 611.4,616.1 611.8,601.6 612.2,624.0 612.6,601.0 613.0,626.8 613.3,612.5 613.7,622.8 614.1,609.2 614.5,625.4 614.9,612.2 615.2,622.4 615.6,607.1 616.0,622.7 616.4,601.2 616.7,620.8 617.1,601.7 617.5,624.5 617.9,607.9 618.3,621.0 618.6,606.6 619.0,625.1 619.4,605.0 619.8,626.1 620.1,599.1 620.5,616.5 620.9,602.0 621.3,623.3 621.7,597.7 622.0,619.8 622.4,597.5 622.8,616.5 623.2,608.2 623.6,617.4 623.9,603.0 624.3,617.7 624.7,601.7 625.1,615.3 625.4,608.8 625.8,618.6 626.2,602.7 626.6,617.4 627.0,604.3 627.3,619.7 627.7,600.2 628.1,620.7 628.5,606.1 628.8,618.1 629.2,606.6 629.6,616.3 630.0,599.2 630.4,624.9 630.7,608.1 631.1,622.8 631.5,598.0 631.9,614.9 632.3,598.0 632.6,622.2 633.0,608.3 633.4,622.7 633.8,605.6 634.1,620.7 634.5,607.8 634.9,615.5 635.3,604.1 635.7,613.9 636.0,602.7 636.4,621.0 636.8,599.2 637.2,624.0 637.5,602.5 637.9,615.8 638.3,603.9 638.7,619.5 639.1,600.3 639.4,623.6 639.8,600.9 640.2,627.3 640.6,606.7 641.0,616.3 641.3,610.0 641.7,619.7 642.1,605.9 642.5,617.9 642.8,607.9 643.2,617.0 643.6,602.1 644.0,618.1 644.4,602.4 644.7,616.5 645.1,607.8 645.5,624.2 645.9,602.3 646.2,626.2 646.6,602.1 647.0,619.7 647.4,606.3 647.8,616.8 648.1,607.9 648.5,625.6 648.9,603.4 649.3,616.9 649.7,611.1 650.0,619.9 650.4,602.6 650.8,621.2 651.2,601.6 651.5,622.9 651.9,602.0 652.3,615.3 652.7,599.7 653.1,625.4 653.4,606.4 653.8,615.9 654.2,607.3 654.6,616.2 654.9,599.1 655.3,617.8 655.7,604.8 656.1,620.5 656.5,599.4 656.8,624.4 657.2,606.7 657.6,622.0 658.0,603.8 658.4,621.4 658.7,605.6 659.1,624.1 659.5,604.9 659.9,624.5 660.2,601.4 660.6,622.5 661.0,609.2 661.4,627.3 661.8,606.5 662.1,617.2 662.5,603.4 662.9,623.2 663.3,611.9 663.6,624.9 664.0,607.6 664.4,625.1 664.8,609.9 665.2,621.1 665.5,609.3 665.9,624.7 666.3,598.1 666.7,624.3 667.1,602.7 667.4,616.2 667.8,606.0 668.2,625.1 668.6,605.3 668.9,622.9 669.3,598.6 669.7,621.0 670.1,602.7 670.5,623.3 670.8,606.8 671.2,624.5 671.6,602.1 672.0,615.2 672.3,608.3 672.7,615.7 673.1,608.0 673.5,622.1 673.9,608.2 674.2,619.3 674.6,609.6 675.0,619.2 675.4,609.7 675.8,618.7 676.1,599.8 676.5,622.8 676.9,607.9 677.3,618.7 677.6,601.8 678.0,616.6 678.4,602.3 678.8,618.0 679.2,606.7 679.5,616.6 679.9,604.3 680.3,621.1 680.7,601.2 681.0,624.7 681.4,599.4 681.8,620.7 682.2,599.2 682.6,622.6 682.9,602.8 683.3,621.2 683.7,606.9 684.1,623.4 684.4,609.9 684.8,621.3 685.2,600.2 685.6,618.2 686.0,603.0 686.3,619.1 686.7,601.3 687.1,614.3 687.5,602.0 687.9,615.8 688.2,597.6 688.6,623.5 689.0,597.1 689.4,617.2 689.7,608.8 690.1,620.3 690.5,607.8 690.9,616.4 691.3,607.2 691.6,623.1 692.0,599.0 692.4,617.9 692.8,606.1 693.1,617.9 693.5,602.3 693.9,619.6 694.3,599.4 694.7,623.0 695.0,602.4 695.4,617.9 695.8,596.9 696.2,616.4 696.6,604.7 696.9,616.5 697.3,595.0 697.7,622.1 698.1,595.2 698.4,615.9 698.8,601.0 699.2,614.6 699.6,603.4 700.0,619.5 700.3,605.4 700.7,611.1 701.1,601.1 701.5,612.9 701.8,595.5 702.2,616.5 702.6,595.3 703.0,615.0 703.4,597.5 703.7,620.8 704.1,606.9 704.5,623.9 704.9,603.0 705.3,620.9 705.6,606.6 706.0,617.9 706.4,608.7 706.8,624.7 707.1,608.7 707.5,619.9 707.9,600.9 708.3,615.0 708.7,598.3 709.0,621.0 709.4,599.9 709.8,621.3 710.2,609.3 710.5,616.0 710.9,597.8 711.3,616.6 711.7,601.0 712.1,621.3 712.4,598.3 712.8,617.2 713.2,609.0 713.6,622.1 714.0,604.1 714.3,616.8 714.7,599.9 715.1,617.9 715.5,598.7 715.8,621.9 716.2,602.9 716.6,620.2 717.0,606.3 717.4,619.5 717.7,601.7 718.1,614.8 718.5,600.7 718.9,617.9 719.2,602.9 719.6,621.6 720.0,602.6 720.4,618.3 720.8,606.2 721.1,617.5 721.5,605.6 721.9,623.4 722.3,605.3 722.7,621.9 723.0,599.6 723.4,615.5 723.8,601.8 724.2,621.8 724.5,603.7 724.9,618.5 725.3,602.5 725.7,620.7 726.1,605.2 726.4,624.7 726.8,598.3 727.2,623.4 727.6,604.8 727.9,615.8 728.3,602.2 728.7,616.2 729.1,601.7 729.5,613.5 729.8,603.0 730.2,624.4 730.6,602.7 731.0,621.5 731.4,600.7 731.7,621.1 732.1,600.9 732.5,619.0 732.9,597.8 733.2,613.0 733.6,599.2 734.0,612.8 734.4,601.4 734.8,612.5 735.1,605.2 735.5,619.7 735.9,596.5 736.3,623.0 736.6,606.1 737.0,619.3 737.4,608.3 737.8,624.1 738.2,608.6 738.5,623.9 738.9,601.8 739.3,614.5 739.7,600.2 740.1,621.8 740.4,607.1 740.8,620.6 741.2,601.2 741.6,618.0 741.9,603.7 742.3,616.9 742.7,603.1 743.1,622.2 743.5,603.8 743.8,612.1 744.2,600.4 744.6,622.6 745.0,600.0 745.3,621.3 745.7,596.6 746.1,613.3 746.5,595.8 746.9,622.8 747.2,604.5 747.6,613.8 748.0,607.1 748.4,615.0 748.8,607.6 749.1,619.2 749.5,601.0 749.9,621.9 750.3,598.7 750.6,622.7 751.0,607.0 751.4,620.8 751.8,605.4 752.2,621.5 752.5,598.6 752.9,616.4 753.3,601.2 753.7,623.4 754.0,600.0 754.4,614.5 754.8,606.8 755.2,617.9 755.6,597.0 755.9,619.4 756.3,600.6 756.7,621.7 757.1,597.0 757.5,617.3 757.8,597.5 758.2,621.9 758.6,606.0 759.0,616.0 759.3,603.4 759.7,618.4 760.1,599.0 760.5,618.0 760.9,601.9 761.2,613.1 761.6,595.0 762.0,611.8 762.4,598.0 762.7,613.5 763.1,602.2 763.5,611.2 763.9,601.4 764.3,619.1 764.6,593.9 765.0,615.3 765.4,592.9 765.8,621.8 766.1,594.6 766.5,616.3 766.9,599.6 767.3,612.5 767.7,599.6 768.0,620.3 768.4,605.4 768.8,616.1 769.2,603.9 769.6,621.8 769.9,594.4 770.3,622.6 770.7,605.6 771.1,623.0 771.4,606.9 771.8,617.7 772.2,601.5 772.6,615.3 773.0,597.0 773.3,621.0 773.7,602.5 774.1,622.0 774.5,608.3 774.8,624.0 775.2,606.3 775.6,615.3 776.0,606.2 776.4,624.7 776.7,606.4 777.1,621.5 777.5,603.8 777.9,622.0 778.3,605.6 778.6,616.3 779.0,600.9 779.4,621.8 779.8,596.4 780.1,615.1 780.5,603.4 780.9,615.8 781.3,602.1 781.7,619.9 782.0,601.6 782.4,625.6 782.8,601.7 783.2,622.5 783.5,606.0 783.9,620.1 784.3,602.8 784.7,626.5 785.1,609.5 785.4,620.5 785.8,602.8 786.2,616.3 786.6,608.7 787.0,623.2 787.3,600.7 787.7,620.9 788.1,600.9 788.5,618.6 788.8,606.6 789.2,616.9 789.6,606.8 790.0,620.0 790.4,604.5 790.7,618.1 791.1,602.9 791.5,621.3 791.9,597.4 792.2,619.2 792.6,600.4 793.0,613.0 793.4,599.4 793.8,620.5 794.1,605.3 794.5,616.6 794.9,596.2 795.3,624.4 795.7,597.6 796.0,614.7 796.4,605.1 796.8,612.5 797.2,605.6 797.5,616.0 797.9,600.9 798.3,622.3 798.7,598.6 799.1,619.2 799.4,598.5 799.8,625.0 800.2,601.6 800.6,624.4 800.9,608.3 801.3,625.2 801.7,608.1 802.1,622.0 802.5,607.8 802.8,622.6 803.2,602.0 803.6,623.3 804.0,605.8 804.4,616.3 804.7,607.8 805.1,620.5 805.5,607.0 805.9,623.9 806.2,603.4 806.6,615.1 807.0,604.8 807.4,623.5 807.8,602.2 808.1,623.4 808.5,605.8 808.9,619.1 809.3,597.6 809.6,624.1 810.0,604.4 810.4,621.2 810.8,605.0 811.2,612.4 811.5,599.6 811.9,612.7 812.3,596.3 812.7,613.0 813.1,603.0 813.4,622.0 813.8,604.5 814.2,621.2 814.6,601.5 814.9,617.6 815.3,600.4 815.7,620.7 816.1,603.1 816.5,621.7 816.8,606.7 817.2,623.5 817.6,600.7 818.0,615.3 818.3,599.6 818.7,616.2 819.1,604.4 819.5,613.1 819.9,605.8 820.2,615.2 820.6,600.0 821.0,612.9 821.4,603.7 821.8,620.6 822.1,605.1 822.5,624.1 822.9,607.0 823.3,619.4 823.6,600.0 824.0,618.0 824.4,602.1 824.8,620.1 825.2,606.1 825.5,616.4 825.9,595.9 826.3,620.9 826.7,593.9 827.0,621.1 827.4,600.7 827.8,622.5 828.2,599.5 828.6,617.8 828.9,598.7 829.3,616.0 829.7,601.9 830.1,611.2 830.5,606.4 830.8,615.8 831.2,599.4 831.6,615.7 832.0,603.3 832.3,615.8 832.7,601.9 833.1,620.2 833.5,599.1 833.9,621.4 834.2,604.4 834.6,610.4 835.0,593.9 835.4,615.5 835.7,601.8 836.1,614.4 836.5,601.1 836.9,612.4 837.3,605.6 837.6,622.5 838.0,595.0 838.4,622.1 838.8,595.0 839.2,617.7 839.5,602.3 839.9,614.5 840.3,594.1 840.7,617.2 841.0,594.4 841.4,611.3 841.8,595.0 842.2,614.4 842.6,594.8 842.9,616.8 843.3,600.7 843.7,620.5 844.1,602.4 844.4,620.9 844.8,595.3 845.2,620.2 845.6,604.8 846.0,612.6 846.3,602.2 846.7,613.6 847.1,606.7 847.5,616.8 847.8,595.2 848.2,619.7 848.6,600.7 849.0,618.9 849.4,599.6 849.7,625.1 850.1,607.3 850.5,615.7 850.9,604.6 851.3,617.6 851.6,599.9 852.0,620.7 852.4,605.4 852.8,619.7 853.1,596.5 853.5,614.8 853.9,603.5 854.3,620.1 854.7,594.8 855.0,619.9 855.4,600.8 855.8,620.5 856.2,604.1 856.5,618.5 856.9,605.4 857.3,621.8 857.7,600.0 858.1,620.8 858.4,601.4 858.8,617.3 859.2,601.1 859.6,612.8 860.0,599.5 860.3,613.9 860.7,601.6 861.1,619.3 861.5,598.3 861.8,620.8 862.2,594.4 862.6,620.1 863.0,602.9 863.4,621.3 863.7,600.5 864.1,610.4 864.5,602.6 864.9,613.8 865.2,601.7 865.6,611.8 866.0,601.6 866.4,618.1 866.8,602.9 867.1,613.0 867.5,603.9 867.9,612.2 868.3,599.8 868.7,613.9 869.0,603.0 869.4,616.2 869.8,595.2 870.2,615.5 870.5,593.9 870.9,620.3 871.3,597.8 871.7,612.6 872.1,605.3 872.4,614.0 872.8,599.5 873.2,611.3 873.6,603.0 873.9,612.5 874.3,602.7 874.7,619.2 875.1,603.6 875.5,611.1 875.8,601.5 876.2,613.9 876.6,597.1 877.0,614.0 877.4,591.9 877.7,609.4 878.1,600.1 878.5,621.8 878.9,601.6 879.2,613.3 879.6,592.0 880.0,616.7 880.4,595.2 880.8,610.1 881.1,595.8 881.5,622.0 881.9,603.3 882.3,619.2 882.6,597.1 883.0,617.6 883.4,601.6 883.8,612.9 884.2,601.8 884.5,618.0 884.9,603.9 885.3,621.8 885.7,604.9 886.1,611.7 886.4,600.5 886.8,611.2 887.2,594.0 887.6,617.0 887.9,595.5 888.3,619.1 888.7,602.4 889.1,611.7 889.5,601.0 889.8,618.0 890.2,600.2 890.6,614.1 891.0,602.3 891.3,617.1 891.7,597.8 892.1,613.8 892.5,595.3 892.9,616.3 893.2,592.6 893.6,618.2 894.0,599.7 894.4,616.3 894.8,593.4 895.1,622.3 895.5,602.7 895.9,616.3 896.3,603.1 896.6,616.0 897.0,597.6 897.4,613.8 897.8,603.9 898.2,614.0 898.5,598.2 898.9,615.1 899.3,605.0 899.7,618.7 900.0,593.1 900.4,620.3 900.8,593.7 901.2,618.4 901.6,599.9 901.9,619.7 902.3,602.3 902.7,612.5 903.1,599.0 903.5,610.1 903.8,599.9 904.2,619.0 904.6,593.6 905.0,608.7 905.3,593.1 905.7,618.3 906.1,601.0 906.5,612.7 906.9,593.9 907.2,619.5 907.6,598.6 908.0,611.3 908.4,599.8 908.7,620.0 909.1,596.5 909.5,618.0 909.9,602.2 910.3,613.1 910.6,597.9 911.0,621.2 911.4,594.3 911.8,621.1 912.2,605.3 912.5,621.8 912.9,599.9 913.3,612.5 913.7,604.5 914.0,621.2 914.4,606.8 914.8,620.5 915.2,606.7 915.6,624.0 915.9,606.5 916.3,624.4 916.7,595.9 917.1,620.1 917.4,596.6 917.8,622.6 918.2,604.3 918.6,623.2 919.0,600.3 919.3,622.6 919.7,603.7 920.1,620.1 920.5,595.5 920.9,613.6 921.2,604.2 921.6,612.7 922.0,601.8 922.4,620.5 922.7,598.3 923.1,611.7 923.5,601.1 923.9,621.1 924.3,599.3 924.6,615.9 925.0,600.9 925.4,612.4 925.8,594.2 926.1,614.5 926.5,599.4 926.9,617.2 927.3,605.6 927.7,616.5 928.0,595.2 928.4,610.8 928.8,602.9 929.2,620.1 929.5,594.0 929.9,615.4 930.3,604.5 930.7,616.6 931.1,597.4 931.4,622.0 931.8,604.9 932.2,620.7 932.6,593.8 933.0,617.0 933.3,600.3 933.7,609.5 934.1,598.6 934.5,620.8 934.8,601.1 935.2,610.2 935.6,597.9 936.0,621.8 936.4,591.4 936.7,619.0 937.1,594.6 937.5,614.7 937.9,603.3 938.2,614.5 938.6,601.1 939.0,613.5 939.4,596.8 939.8,612.4 940.1,592.9 940.5,613.3 940.9,600.8 941.3,621.7 941.7,599.7 942.0,613.0 942.4,598.7 942.8,611.7 943.2,602.4 943.5,620.7 943.9,606.2 944.3,613.5 944.7,595.2 945.1,620.1 945.4,601.5 945.8,613.5 946.2,601.5 946.6,623.0 946.9,602.8 947.3,622.5 947.7,599.7 948.1,616.0 948.5,593.6 948.8,616.4 949.2,592.9 949.6,612.0 950.0,594.8 950.4,610.9 950.7,596.4 951.1,612.2 951.5,596.0 951.9,613.2 952.2,592.6 952.6,620.5 953.0,599.3 953.4,617.0 953.8,597.4 954.1,614.8 954.5,600.3 954.9,611.3 955.3,603.1 955.6,618.2 956.0,590.3 956.4,610.1 956.8,597.5 957.2,618.0 957.5,597.4 957.9,612.3 958.3,590.7 958.7,617.4 959.1,595.0 959.4,613.5 959.8,599.1 960.2,616.9 960.6,604.7 960.9,621.2 961.3,601.5 961.7,616.2 962.1,598.4 962.5,622.6 962.8,602.0 963.2,618.1 963.6,602.7 964.0,610.9 964.3,598.1 964.7,617.0 965.1,597.7 965.5,619.1 965.9,594.7 966.2,613.9 966.6,601.3 967.0,618.8 967.4,593.9 967.8,618.9 968.1,598.5 968.5,614.1 968.9,593.6 969.3,620.2 969.6,602.1 970.0,617.8 970.4,593.5" fill="none" stroke="#5555ff" stroke-width="1.5" shape-rendering="crispEdges"/>
<path d="M63.0 630L63.2 629m0 0L63.4 646m0 0L63.6 612m0 0L63.9 626m0 0L64.1 639m0 0L64.3 635m0 0L64.5 629m0 0L64.7 621m0 0L64.9 643m0 0L65.2 614m0 0L65.4 635m0 0L65.6 642m0 0L65.8 627m0 0L66.0 642m0 0L66.2 629m0 0L66.5 636m0 0L66.7 635m0 0L66.9 628m0 0L67.1 621m0 0L67.3 623m0 0L67.5 640m0 0L67.8 635m0 0L68.0 631m0 0L68.2 640m0 0L68.4 643m0 0L68.6 634m0 0L68.8 627m0 0L69.1 631m0 0L69.3 628m0 0L69.5 633m0 0L69.7 642m0 0L69.9 625m0 0L70.1 634m0 0L70.3 619m0 0L70.6 635m0 0L70.8 609m0 0L71.0 630m0 0L71.2 620m0 0L71.4 632m0 0L71.6 640m0 0L71.9 634m0 0L72.1 632m0 0L72.3 633m0 0L72.5 630m0 0L72.7 629m0 0L72.9 634m0 0L73.2 617m0 0L73.4 623m0 0L73.6 621m0 0L73.8 627m0 0L74.0 626m0 0L74.2 627m0 0L74.5 623m0 0L74.7 626m0 0L74.9 627m0 0L75.1 628m0 0L75.3 629m0 0L75.5 631m0 0L75.7 627m0 0L76.0 629m0 0L76.2 624m0 0L76.4 635m0 0L76.6 629m0 0L76.8 627m0 0L77.0 632m0 0L77.3 626m0 0L77.5 622m0 0L77.7 611m0 0L77.9 623m0 0L78.1 632m0 0L78.3 634m0 0L78.6 622m0 0L78.8 631m0 0L79.0 616m0 0L79.2 630m0 0L79.4 623m0 0L79.6 634m0 0L79.9 634m0 0L80.1 609m0 0L80.3 615m0 0L80.5 625m0 0L80.7 628m0 0L80.9 630m0 0L81.2 626m0 0L81.4 633m0 0L81.6 610m0 0L81.8 612m0 0L82.0 614m0 0L82.2 639m0 0L82.4 627m0 0L82.7 619m0 0L82.9 635m0 0L83.1 607m0 0L83.3 633m0 0L83.5 624m0 0L83.7 636m0 0L84.0 631m0 0L84.2 629m0 0L84.4 625m0 0L84.6 614m0 0L84.8 623m0 0L85.0 631m0 0L85.3 618m0 0L85.5 620m0 0L85.7 633m0 0L85.9 602m0 0L86.1 629m0 0L86.3 636m0 0L86.6 629m0 0L86.8 631m0 0L87.0 626m0 0L87.2 629m0 0L87.4 629m0 0L87.6 619m0 0L87.9 631m0 0L88.1 629m0 0L88.3 603m0 0L88.5 621m0 0L88.7 618m0 0L88.9 636m0 0L89.1 623m0 0L89.4 636m0 0L89.6 631m0 0L89.8 639m0 0L90.0 606m0 0L90.2 608m0 0L90.4 624m0 0L90.7 638m0 0L90.9 632m0 0L91.1 624m0 0L91.3 626m0 0L91.5 627m0 0L91.7 628m0 0L92.0 637m0 0L92.2 634m0 0L92.4 623m0 0L92.6 625m0 0L92.8 623m0 0L93.0 633m0 0L93.3 635m0 0L93.5 616m0 0L93.7 620m0 0L93.9 617m0 0L94.1 630m0 0L94.3 620m0 0L94.6 626m0 0L94.8 621m0 0L95.0 617m0 0L95.2 630m0 0L95.4 612m0 0L95.6 628m0 0L95.8 637m0 0L96.1 622m0 0L96.3 631m0 0L96.5 604m0 0L96.7 595m0 0L96.9 603m0 0L97.1 624m0 0L97.4 617m0 0L97.6 615m0 0L97.8 622m0 0L98.0 627m0 0L98.2 631m0 0L98.4 618m0 0L98.7 612m0 0L98.9 624m0 0L99.1 631m0 0L99.3 628m0 0L99.5 622m0 0L99.7 630m0 0L100.0 613m0 0L100.2 624m0 0L100.4 630m0 0L100.6 625m0 0L100.8 637m0 0L101.0 626m0 0L101.2 627m0 0L101.5 622m0 0L101.7 631m0 0L101.9 626m0 0L102.1 621m0 0L102.3 623m0 0L102.5 631m0 0L102.8 631m0 0L103.0 625m0 0L103.2 615m0 0L103.4 612m0 0L103.6 631m0 0L103.8 617m0 0L104.1 628m0 0L104.3 619m0 0L104.5 626m0 0L104.7 620m0 0L104.9 625m0 0L105.1 607m0 0L105.4 625m0 0L105.6 621m0 0L105.8 635m0 0L106.0 632m0 0L106.2 621m0 0L106.4 637m0 0L106.7 623m0 0L106.9 624m0 0L107.1 616m0 0L107.3 620m0 0L107.5 618m0 0L107.7 627m0 0L107.9 620m0 0L108.2 623m0 0L108.4 629m0 0L108.6 615m0 0L108.8 631m0 0L109.0 619m0 0L109.2 621m0 0L109.5 613m0 0L109.7 618m0 0L109.9 631m0 0L110.1 623m0 0L110.3 632m0 0L110.5 625m0 0L110.8 598m0 0L111.0 615m0 0L111.2 617m0 0L111.4 621m0 0L111.6 623m0 0L111.8 630m0 0L112.1 631m0 0L112.3 622m0 0L112.5 622m0 0L112.7 623m0 0L112.9 623m0 0L113.1 630m0 0L113.4 609m0 0L113.6 615m0 0L113.8 626m0 0L114.0 614m0 0L114.2 629m0 0L114.4 623m0 0L114.6 618m0 0L114.9 623m0 0L115.1 619m0 0L115.3 619m0 0L115.5 598m0 0L115.7 619m0 0L115.9 635m0 0L116.2 615m0 0L116.4 617m0 0L116.6 634m0 0L116.8 615m0 0L117.0 622m0 0L117.2 627m0 0L117.5 615m0 0L117.7 615m0 0L117.9 633m0 0L118.1 613m0 0L118.3 610m0 0L118.5 627m0 0L118.8 619m0 0L119.0 619m0 0L119.2 628m0 0L119.4 614m0 0L119.6 625m0 0L119.8 598m0 0L120.1 627m0 0L120.3 626m0 0L120.5 602m0 0L120.7 612m0 0L120.9 630m0 0L121.1 619m0 0L121.3 620m0 0L121.6 593m0 0L121.8 634m0 0L122.0 611m0 0L122.2 622m0 0L122.4 610m0 0L122.6 615m0 0L122.9 617m0 0L123.1 621m0 0L123.3 630m0 0L123.5 611m0 0L123.7 626m0 0L123.9 615m0 0L124.2 627m0 0L124.4 617m0 0L124.6 629m0 0L124.8 622m0 0L125.0 628m0 0L125.2 611m0 0L125.5 613m0 0L125.7 609m0 0L125.9 637m0 0L126.1 625m0 0L126.3 618m0 0L126.5 620m0 0L126.7 634m0 0L127.0 615m0 0L127.2 588m0 0L127.4 622m0 0L127.6 618m0 0L127.8 620m0 0L128.0 623m0 0L128.3 621m0 0L128.5 610m0 0L128.7 629m0 0L128.9 622m0 0L129.1 619m0 0L129.3 619m0 0L129.6 613m0 0L129.8 623m0 0L130.0 623m0 0L130.2 615m0 0L130.4 624m0 0L130.6 621m0 0L130.9 624m0 0L131.1 621m0 0L131.3 612m0 0L131.5 631m0 0L131.7 630m0 0L131.9 629m0 0L132.2 633m0 0L132.4 625m0 0L132.6 631m0 0L132.8 626m0 0L133.0 619m0 0L133.2 620m0 0L133.4 614m0 0L133.7 603m0 0L133.9 625m0 0L134.1 635m0 0L134.3 623m0 0L134.5 627m0 0L134.7 615m0 0L135.0 626m0 0L135.2 621m0 0L135.4 618m0 0L135.6 622m0 0L135.8 628m0 0L136.0 628m0 0L136.3 624m0 0L136.5 623m0 0L136.7 617m0 0L136.9 616m0 0L137.1 630m0 0L137.3 625m0 0L137.6 619m0 0L137.8 636m0 0L138.0 612m0 0L138.2 635m0 0L138.4 617m0 0L138.6 605m0 0L138.9 621m0 0L139.1 619m0 0L139.3 626m0 0L139.5 599m0 0L139.7 614m0 0L139.9 619m0 0L140.1 624m0 0L140.4 620m0 0L140.6 622m0 0L140.8 609m0 0L141.0 618m0 0L141.2 617m0 0L141.4 621m0 0L141.7 628m0 0L141.9 624m0 0L142.1 616m0 0L142.3 604m0 0L142.5 618m0 0L142.7 616m0 0L143.0 604m0 0L143.2 617m0 0L143.4 623m0 0L143.6 626m0 0L143.8 616m0 0L144.0 608m0 0L144.3 621m0 0L144.5 616m0 0L144.7 619m0 0L144.9 618m0 0L145.1 632m0 0L145.3 624m0 0L145.5 626m0 0L145.8 600m0 0L146.0 619m0 0L146.2 608m0 0L146.4 621m0 0L146.6 616m0 0L146.8 617m0 0L147.1 634m0 0L147.3 610m0 0L147.5 617m0 0L147.7 627m0 0L147.9 603m0 0L148.1 611m0 0L148.4 611m0 0L148.6 610m0 0L148.8 623m0 0L149.0 635m0 0L149.2 622m0 0L149.4 627m0 0L149.7 601m0 0L149.9 621m0 0L150.1 634m0 0L150.3 631m0 0L150.5 621m0 0L150.7 616m0 0L151.0 615m0 0L151.2 624m0 0L151.4 624m0 0L151.6 631m0 0L151.8 602m0 0L152.0 607m0 0L152.2 616m0 0L152.5 608m0 0L152.7 617m0 0L152.9 619m0 0L153.1 616m0 0L153.3 632m0 0L153.5 607m0 0L153.8 623m0 0L154.0 610m0 0L154.2 618m0 0L154.4 626m0 0L154.6 628m0 0L154.8 613m0 0L155.1 607m0 0L155.3 622m0 0L155.5 630m0 0L155.7 614m0 0L155.9 612m0 0L156.1 595m0 0L156.4 626m0 0L156.6 606m0 0L156.8 616m0 0L157.0 604m0 0L157.2 616m0 0L157.4 619m0 0L157.7 610m0 0L157.9 621m0 0L158.1 609m0 0L158.3 621m0 0L158.5 626m0 0L158.7 594m0 0L158.9 618m0 0L159.2 611m0 0L159.4 624m0 0L159.6 626m0 0L159.8 633m0 0L160.0 619m0 0L160.2 635m0 0L160.5 622m0 0L160.7 622m0 0L160.9 626m0 0L161.1 626m0 0L161.3 617m0 0L161.5 619m0 0L161.8 617m0 0L162.0 610m0 0L162.2 627m0 0L162.4 602m0 0L162.6 614m0 0L162.8 620m0 0L163.1 612m0 0L163.3 620m0 0L163.5 614m0 0L163.7 594m0 0L163.9 618m0 0L164.1 617m0 0L164.4 622m0 0L164.6 631m0 0L164.8 617m0 0L165.0 630m0 0L165.2 622m0 0L165.4 606m0 0L165.6 603m0 0L165.9 621m0 0L166.1 615m0 0L166.3 614m0 0L166.5 610m0 0L166.7 612m0 0L166.9 621m0 0L167.2 620m0 0L167.4 605m0 0L167.6 610m0 0L167.8 636m0 0L168.0 614m0 0L168.2 604m0 0L168.5 618m0 0L168.7 617m0 0L168.9 603m0 0L169.1 634m0 0L169.3 622m0 0L169.5 613m0 0L169.8 626m0 0L170.0 604m0 0L170.2 627m0 0L170.4 613m0 0L170.6 616m0 0L170.8 612m0 0L171.0 617m0 0L171.3 631m0 0L171.5 617m0 0L171.7 607m0 0L171.9 627m0 0L172.1 622m0 0L172.3 623m0 0L172.6 618m0 0L172.8 611m0 0L173.0 620m0 0L173.2 618m0 0L173.4 612m0 0L173.6 615m0 0L173.9 611m0 0L174.1 617m0 0L174.3 630m0 0L174.5 632m0 0L174.7 618m0 0L174.9 603m0 0L175.2 613m0 0L175.4 620m0 0L175.6 631m0 0L175.8 615m0 0L176.0 609m0 0L176.2 621m0 0L176.5 622m0 0L176.7 614m0 0L176.9 614m0 0L177.1 614m0 0L177.3 619m0 0L177.5 619m0 0L177.7 620m0 0L178.0 622m0 0L178.2 542m0 0L178.4 612m0 0L178.6 615m0 0L178.8 622m0 0L179.0 629m0 0L179.3 617m0 0L179.5 627m0 0L179.7 621m0 0L179.9 623m0 0L180.1 599m0 0L180.3 610m0 0L180.6 630m0 0L180.8 616m0 0L181.0 620m0 0L181.2 620m0 0L181.4 623m0 0L181.6 630m0 0L181.9 616m0 0L182.1 624m0 0L182.3 608m0 0L182.5 626m0 0L182.7 591m0 0L182.9 624m0 0L183.2 614m0 0L183.4 620m0 0L183.6 616m0 0L183.8 621m0 0L184.0 627m0 0L184.2 605m0 0L184.4 622m0 0L184.7 627m0 0L184.9 617m0 0L185.1 600m0 0L185.3 618m0 0L185.5 612m0 0L185.7 621m0 0L186.0 619m0 0L186.2 615m0 0L186.4 624m0 0L186.6 609m0 0L186.8 617m0 0L187.0 593m0 0L187.3 627m0 0L187.5 625m0 0L187.7 613m0 0L187.9 616m0 0L188.1 601m0 0L188.3 615m0 0L188.6 613m0 0L188.8 624m0 0L189.0 622m0 0L189.2 605m0 0L189.4 619m0 0L189.6 631m0 0L189.9 626m0 0L190.1 612m0 0L190.3 623m0 0L190.5 607m0 0L190.7 611m0 0L190.9 616m0 0L191.1 617m0 0L191.4 606m0 0L191.6 625m0 0L191.8 610m0 0L192.0 629m0 0L192.2 608m0 0L192.4 618m0 0L192.7 609m0 0L192.9 612m0 0L193.1 617m0 0L193.3 628m0 0L193.5 600m0 0L193.7 594m0 0L194.0 633m0 0L194.2 620m0 0L194.4 621m0 0L194.6 618m0 0L194.8 622m0 0L195.0 623m0 0L195.3 625m0 0L195.5 611m0 0L195.7 621m0 0L195.9 599m0 0L196.1 627m0 0L196.3 616m0 0L196.5 617m0 0L196.8 617m0 0L197.0 618m0 0L197.2 625m0 0L197.4 627m0 0L197.6 621m0 0L197.8 634m0 0L198.1 633m0 0L198.3 622m0 0L198.5 632m0 0L198.7 629m0 0L198.9 615m0 0L199.1 612m0 0L199.4 615m0 0L199.6 632m0 0L199.8 617m0 0L200.0 613m0 0L200.2 621m0 0L200.4 628m0 0L200.7 617m0 0L200.9 621m0 0L201.1 628m0 0L201.3 626m0 0L201.5 629m0 0L201.7 618m0 0L202.0 618m0 0L202.2 610m0 0L202.4 630m0 0L202.6 620m0 0L202.8 615m0 0L203.0 617m0 0L203.2 619m0 0L203.5 608m0 0L203.7 621m0 0L203.9 627m0 0L204.1 627m0 0L204.3 621m0 0L204.5 621m0 0L204.8 606m0 0L205.0 633m0 0L205.2 620m0 0L205.4 616m0 0L205.6 599m0 0L205.8 620m0 0L206.1 609m0 0L206.3 622m0 0L206.5 621m0 0L206.7 620m0 0L206.9 603m0 0L207.1 611m0 0L207.4 620m0 0L207.6 617m0 0L207.8 607m0 0L208.0 609m0 0L208.2 604m0 0L208.4 613m0 0L208.7 602m0 0L208.9 615m0 0L209.1 627m0 0L209.3 618m0 0L209.5 628m0 0L209.7 591m0 0L209.9 621m0 0L210.2 626m0 0L210.4 611m0 0L210.6 620m0 0L210.8 617m0 0L211.0 599m0 0L211.2 614m0 0L211.5 635m0 0L211.7 621m0 0L211.9 620m0 0L212.1 618m0 0L212.3 615m0 0L212.5 622m0 0L212.8 622m0 0L213.0 600m0 0L213.2 617m0 0L213.4 603m0 0L213.6 616m0 0L213.8 625m0 0L214.1 605m0 0L214.3 633m0 0L214.5 628m0 0L214.7 602m0 0L214.9 604m0 0L215.1 627m0 0L215.3 606m0 0L215.6 602m0 0L215.8 612m0 0L216.0 619m0 0L216.2 599m0 0L216.4 614m0 0L216.6 605m0 0L216.9 615m0 0L217.1 622m0 0L217.3 614m0 0L217.5 613m0 0L217.7 617m0 0L217.9 609m0 0L218.2 586m0 0L218.4 605m0 0L218.6 626m0 0L218.8 631m0 0L219.0 606m0 0L219.2 601m0 0L219.5 617m0 0L219.7 614m0 0L219.9 592m0 0L220.1 615m0 0L220.3 600m0 0L220.5 619m0 0L220.8 623m0 0L221.0 626m0 0L221.2 621m0 0L221.4 626m0 0L221.6 597m0 0L221.8 617m0 0L222.0 611m0 0L222.3 616m0 0L222.5 618m0 0L222.7 619m0 0L222.9 613m0 0L223.1 618m0 0L223.3 616m0 0L223.6 624m0 0L223.8 616m0 0L224.0 612m0 0L224.2 595m0 0L224.4 624m0 0L224.6 541m0 0L224.9 609m0 0L225.1 624m0 0L225.3 610m0 0L225.5 611m0 0L225.7 613m0 0L225.9 627m0 0L226.2 601m0 0L226.4 626m0 0L226.6 625m0 0L226.8 627m0 0L227.0 629m0 0L227.2 613m0 0L227.5 621m0 0L227.7 607m0 0L227.9 620m0 0L228.1 629m0 0L228.3 617m0 0L228.5 612m0 0L228.7 611m0 0L229.0 603m0 0L229.2 613m0 0L229.4 626m0 0L229.6 619m0 0L229.8 607m0 0L230.0 622m0 0L230.3 614m0 0L230.5 631m0 0L230.7 629m0 0L230.9 627m0 0L231.1 608m0 0L231.3 621m0 0L231.6 624m0 0L231.8 602m0 0L232.0 611m0 0L232.2 619m0 0L232.4 615m0 0L232.6 616m0 0L232.9 627m0 0L233.1 615m0 0L233.3 606m0 0L233.5 616m0 0L233.7 608m0 0L233.9 613m0 0L234.2 608m0 0L234.4 589m0 0L234.6 628m0 0L234.8 617m0 0L235.0 623m0 0L235.2 619m0 0L235.4 619m0 0L235.7 625m0 0L235.9 621m0 0L236.1 606m0 0L236.3 622m0 0L236.5 613m0 0L236.7 619m0 0L237.0 609m0 0L237.2 623m0 0L237.4 626m0 0L237.6 616m0 0L237.8 622m0 0L238.0 614m0 0L238.3 623m0 0L238.5 619m0 0L238.7 608m0 0L238.9 630m0 0L239.1 594m0 0L239.3 628m0 0L239.6 628m0 0L239.8 608m0 0L240.0 626m0 0L240.2 613m0 0L240.4 616m0 0L240.6 613m0 0L240.8 620m0 0L241.1 605m0 0L241.3 625m0 0L241.5 591m0 0L241.7 599m0 0L241.9 612m0 0L242.1 593m0 0L242.4 623m0 0L242.6 619m0 0L242.8 625m0 0L243.0 628m0 0L243.2 602m0 0L243.4 610m0 0L243.7 621m0 0L243.9 612m0 0L244.1 614m0 0L244.3 619m0 0L244.5 608m0 0L244.7 626m0 0L245.0 617m0 0L245.2 628m0 0L245.4 614m0 0L245.6 614m0 0L245.8 616m0 0L246.0 610m0 0L246.3 630m0 0L246.5 619m0 0L246.7 633m0 0L246.9 619m0 0L247.1 621m0 0L247.3 605m0 0L247.5 625m0 0L247.8 622m0 0L248.0 614m0 0L248.2 629m0 0L248.4 619m0 0L248.6 605m0 0L248.8 617m0 0L249.1 618m0 0L249.3 615m0 0L249.5 606m0 0L249.7 617m0 0L249.9 612m0 0L250.1 621m0 0L250.4 615m0 0L250.6 602m0 0L250.8 613m0 0L251.0 608m0 0L251.2 610m0 0L251.4 613m0 0L251.7 600m0 0L251.9 629m0 0L252.1 619m0 0L252.3 624m0 0L252.5 571m0 0L252.7 623m0 0L253.0 620m0 0L253.2 615m0 0L253.4 605m0 0L253.6 614m0 0L253.8 624m0 0L254.0 614m0 0L254.2 616m0 0L254.5 609m0 0L254.7 614m0 0L254.9 611m0 0L255.1 605m0 0L255.3 618m0 0L255.5 611m0 0L255.8 621m0 0L256.0 610m0 0L256.2 627m0 0L256.4 615m0 0L256.6 622m0 0L256.8 614m0 0L257.1 622m0 0L257.3 627m0 0L257.5 618m0 0L257.7 605m0 0L257.9 615m0 0L258.1 623m0 0L258.4 599m0 0L258.6 592m0 0L258.8 615m0 0L259.0 613m0 0L259.2 615m0 0L259.4 605m0 0L259.7 612m0 0L259.9 628m0 0L260.1 610m0 0L260.3 612m0 0L260.5 620m0 0L260.7 616m0 0L260.9 603m0 0L261.2 611m0 0L261.4 620m0 0L261.6 620m0 0L261.8 609m0 0L262.0 615m0 0L262.2 611m0 0L262.5 620m0 0L262.7 627m0 0L262.9 616m0 0L263.1 587m0 0L263.3 621m0 0L263.5 619m0 0L263.8 607m0 0L264.0 613m0 0L264.2 605m0 0L264.4 607m0 0L264.6 623m0 0L264.8 590m0 0L265.1 613m0 0L265.3 631m0 0L265.5 599m0 0L265.7 613m0 0L265.9 626m0 0L266.1 623m0 0L266.3 618m0 0L266.6 609m0 0L266.8 614m0 0L267.0 614m0 0L267.2 596m0 0L267.4 622m0 0L267.6 603m0 0L267.9 614m0 0L268.1 603m0 0L268.3 631m0 0L268.5 624m0 0L268.7 609m0 0L268.9 621m0 0L269.2 611m0 0L269.4 605m0 0L269.6 589m0 0L269.8 623m0 0L270.0 624m0 0L270.2 616m0 0L270.5 613m0 0L270.7 624m0 0L270.9 621m0 0L271.1 604m0 0L271.3 620m0 0L271.5 624m0 0L271.8 619m0 0L272.0 604m0 0L272.2 606m0 0L272.4 603m0 0L272.6 596m0 0L272.8 611m0 0L273.0 605m0 0L273.3 613m0 0L273.5 630m0 0L273.7 618m0 0L273.9 619m0 0L274.1 598m0 0L274.3 617m0 0L274.6 625m0 0L274.8 607m0 0L275.0 625m0 0L275.2 609m0 0L275.4 610m0 0L275.6 626m0 0L275.9 611m0 0L276.1 625m0 0L276.3 627m0 0L276.5 610m0 0L276.7 617m0 0L276.9 618m0 0L277.2 608m0 0L277.4 611m0 0L277.6 607m0 0L277.8 611m0 0L278.0 628m0 0L278.2 612m0 0L278.5 607m0 0L278.7 628m0 0L278.9 612m0 0L279.1 603m0 0L279.3 632m0 0L279.5 607m0 0L279.7 616m0 0L280.0 605m0 0L280.2 626m0 0L280.4 601m0 0L280.6 601m0 0L280.8 628m0 0L281.0 628m0 0L281.3 615m0 0L281.5 620m0 0L281.7 606m0 0L281.9 617m0 0L282.1 626m0 0L282.3 619m0 0L282.6 604m0 0L282.8 610m0 0L283.0 604m0 0L283.2 607m0 0L283.4 629m0 0L283.6 615m0 0L283.9 622m0 0L284.1 617m0 0L284.3 613m0 0L284.5 612m0 0L284.7 618m0 0L284.9 618m0 0L285.1 592m0 0L285.4 616m0 0L285.6 623m0 0L285.8 618m0 0L286.0 615m0 0L286.2 618m0 0L286.4 617m0 0L286.7 595m0 0L286.9 628m0 0L287.1 616m0 0L287.3 607m0 0L287.5 614m0 0L287.7 605m0 0L288.0 613m0 0L288.2 611m0 0L288.4 608m0 0L288.6 627m0 0L288.8 605m0 0L289.0 615m0 0L289.3 620m0 0L289.5 624m0 0L289.7 620m0 0L289.9 596m0 0L290.1 624m0 0L290.3 611m0 0L290.6 627m0 0L290.8 606m0 0L291.0 611m0 0L291.2 608m0 0L291.4 608m0 0L291.6 610m0 0L291.8 599m0 0L292.1 614m0 0L292.3 609m0 0L292.5 607m0 0L292.7 605m0 0L292.9 627m0 0L293.1 622m0 0L293.4 608m0 0L293.6 620m0 0L293.8 607m0 0L294.0 612m0 0L294.2 625m0 0L294.4 627m0 0L294.7 620m0 0L294.9 613m0 0L295.1 600m0 0L295.3 616m0 0L295.5 615m0 0L295.7 626m0 0L296.0 611m0 0L296.2 620m0 0L296.4 614m0 0L296.6 619m0 0L296.8 613m0 0L297.0 596m0 0L297.3 605m0 0L297.5 614m0 0L297.7 609m0 0L297.9 600m0 0L298.1 610m0 0L298.3 609m0 0L298.5 609m0 0L298.8 618m0 0L299.0 613m0 0L299.2 622m0 0L299.4 626m0 0L299.6 621m0 0L299.8 624m0 0L300.1 607m0 0L300.3 611m0 0L300.5 604m0 0L300.7 614m0 0L300.9 611m0 0L301.1 600m0 0L301.4 611m0 0L301.6 601m0 0L301.8 607m0 0L302.0 606m0 0L302.2 624m0 0L302.4 626m0 0L302.7 616m0 0L302.9 620m0 0L303.1 623m0 0L303.3 609m0 0L303.5 595m0 0L303.7 610m0 0L304.0 612m0 0L304.2 604m0 0L304.4 598m0 0L304.6 612m0 0L304.8 606m0 0L305.0 618m0 0L305.2 610m0 0L305.5 619m0 0L305.7 579m0 0L305.9 606m0 0L306.1 615m0 0L306.3 624m0 0L306.5 611m0 0L306.8 592m0 0L307.0 619m0 0L307.2 616m0 0L307.4 627m0 0L307.6 604m0 0L307.8 610m0 0L308.1 612m0 0L308.3 608m0 0L308.5 611m0 0L308.7 621m0 0L308.9 599m0 0L309.1 600m0 0L309.4 609m0 0L309.6 616m0 0L309.8 619m0 0L310.0 612m0 0L310.2 590m0 0L310.4 624m0 0L310.6 617m0 0L310.9 601m0 0L311.1 591m0 0L311.3 631m0 0L311.5 611m0 0L311.7 619m0 0L311.9 610m0 0L312.2 614m0 0L312.4 607m0 0L312.6 621m0 0L312.8 630m0 0L313.0 614m0 0L313.2 597m0 0L313.5 598m0 0L313.7 590m0 0L313.9 614m0 0L314.1 611m0 0L314.3 586m0 0L314.5 591m0 0L314.8 629m0 0L315.0 610m0 0L315.2 621m0 0L315.4 617m0 0L315.6 621m0 0L315.8 612m0 0L316.1 620m0 0L316.3 613m0 0L316.5 612m0 0L316.7 618m0 0L316.9 622m0 0L317.1 597m0 0L317.3 587m0 0L317.6 607m0 0L317.8 619m0 0L318.0 623m0 0L318.2 605m0 0L318.4 598m0 0L318.6 619m0 0L318.9 615m0 0L319.1 628m0 0L319.3 620m0 0L319.5 612m0 0L319.7 590m0 0L319.9 623m0 0L320.2 618m0 0L320.4 619m0 0L320.6 614m0 0L320.8 593m0 0L321.0 600m0 0L321.2 622m0 0L321.5 629m0 0L321.7 617m0 0L321.9 625m0 0L322.1 620m0 0L322.3 614m0 0L322.5 609m0 0L322.8 610m0 0L323.0 607m0 0L323.2 603m0 0L323.4 599m0 0L323.6 613m0 0L323.8 609m0 0L324.0 617m0 0L324.3 610m0 0L324.5 591m0 0L324.7 608m0 0L324.9 625m0 0L325.1 618m0 0L325.3 609m0 0L325.6 603m0 0L325.8 603m0 0L326.0 594m0 0L326.2 621m0 0L326.4 597m0 0L326.6 598m0 0L326.9 607m0 0L327.1 606m0 0L327.3 617m0 0L327.5 613m0 0L327.7 610m0 0L327.9 619m0 0L328.2 623m0 0L328.4 601m0 0L328.6 607m0 0L328.8 618m0 0L329.0 605m0 0L329.2 623m0 0L329.5 621m0 0L329.7 628m0 0L329.9 620m0 0L330.1 607m0 0L330.3 627m0 0L330.5 610m0 0L330.7 623m0 0L331.0 620m0 0L331.2 602m0 0L331.4 613m0 0L331.6 625m0 0L331.8 612m0 0L332.0 593m0 0L332.3 626m0 0L332.5 606m0 0L332.7 618m0 0L332.9 615m0 0L333.1 629m0 0L333.3 621m0 0L333.6 607m0 0L333.8 615m0 0L334.0 607m0 0L334.2 604m0 0L334.4 617m0 0L334.6 621m0 0L334.9 616m0 0L335.1 620m0 0L335.3 614m0 0L335.5 597m0 0L335.7 625m0 0L335.9 608m0 0L336.1 601m0 0L336.4 611m0 0L336.6 603m0 0L336.8 615m0 0L337.0 625m0 0L337.2 627m0 0L337.4 614m0 0L337.7 595m0 0L337.9 598m0 0L338.1 630m0 0L338.3 608m0 0L338.5 623m0 0L338.7 618m0 0L339.0 597m0 0L339.2 620m0 0L339.4 602m0 0L339.6 614m0 0L339.8 616m0 0L340.0 620m0 0L340.3 621m0 0L340.5 605m0 0L340.7 606m0 0L340.9 613m0 0L341.1 582m0 0L341.3 604m0 0L341.6 595m0 0L341.8 611m0 0L342.0 605m0 0L342.2 614m0 0L342.4 617m0 0L342.6 589m0 0L342.8 616m0 0L343.1 621m0 0L343.3 617m0 0L343.5 621m0 0L343.7 608m0 0L343.9 605m0 0L344.1 612m0 0L344.4 618m0 0L344.6 614m0 0L344.8 628m0 0L345.0 598m0 0L345.2 606m0 0L345.4 622m0 0L345.7 603m0 0L345.9 615m0 0L346.1 612m0 0L346.3 592m0 0L346.5 620m0 0L346.7 613m0 0L347.0 607m0 0L347.2 623m0 0L347.4 612m0 0L347.6 609m0 0L347.8 608m0 0L348.0 615m0 0L348.3 603m0 0L348.5 603m0 0L348.7 610m0 0L348.9 607m0 0L349.1 628m0 0L349.3 618m0 0L349.5 591m0 0L349.8 592m0 0L350.0 616m0 0L350.2 620m0 0L350.4 617m0 0L350.6 598m0 0L350.8 590m0 0L351.1 615m0 0L351.3 614m0 0L351.5 598m0 0L351.7 594m0 0L351.9 619m0 0L352.1 595m0 0L352.4 605m0 0L352.6 612m0 0L352.8 604m0 0L353.0 617m0 0L353.2 622m0 0L353.4 613m0 0L353.7 614m0 0L353.9 619m0 0L354.1 609m0 0L354.3 603m0 0L354.5 609m0 0L354.7 606m0 0L354.9 623m0 0L355.2 590m0 0L355.4 604m0 0L355.6 612m0 0L355.8 607m0 0L356.0 621m0 0L356.2 612m0 0L356.5 614m0 0L356.7 604m0 0L356.9 608m0 0L357.1 624m0 0L357.3 616m0 0L357.5 594m0 0L357.8 606m0 0L358.0 587m0 0L358.2 619m0 0L358.4 594m0 0L358.6 618m0 0L358.8 608m0 0L359.1 621m0 0L359.3 618m0 0L359.5 610m0 0L359.7 619m0 0L359.9 619m0 0L360.1 621m0 0L360.4 618m0 0L360.6 616m0 0L360.8 607m0 0L361.0 609m0 0L361.2 592m0 0L361.4 621m0 0L361.6 617m0 0L361.9 621m0 0L362.1 605m0 0L362.3 613m0 0L362.5 614m0 0L362.7 608m0 0L362.9 547m0 0L363.2 606m0 0L363.4 610m0 0L363.6 606m0 0L363.8 601m0 0L364.0 625m0 0L364.2 623m0 0L364.5 615m0 0L364.7 609m0 0L364.9 605m0 0L365.1 613m0 0L365.3 611m0 0L365.5 601m0 0L365.8 612m0 0L366.0 595m0 0L366.2 611m0 0L366.4 601m0 0L366.6 624m0 0L366.8 610m0 0L367.1 607m0 0L367.3 609m0 0L367.5 611m0 0L367.7 622m0 0L367.9 615m0 0L368.1 618m0 0L368.3 612m0 0L368.6 612m0 0L368.8 611m0 0L369.0 625m0 0L369.2 606m0 0L369.4 573m0 0L369.6 627m0 0L369.9 617m0 0L370.1 607m0 0L370.3 620m0 0L370.5 612m0 0L370.7 612m0 0L370.9 609m0 0L371.2 613m0 0L371.4 603m0 0L371.6 619m0 0L371.8 625m0 0L372.0 612m0 0L372.2 616m0 0L372.5 602m0 0L372.7 608m0 0L372.9 614m0 0L373.1 572m0 0L373.3 617m0 0L373.5 614m0 0L373.8 600m0 0L374.0 620m0 0L374.2 615m0 0L374.4 621m0 0L374.6 625m0 0L374.8 592m0 0L375.0 621m0 0L375.3 615m0 0L375.5 602m0 0L375.7 602m0 0L375.9 609m0 0L376.1 595m0 0L376.3 609m0 0L376.6 620m0 0L376.8 604m0 0L377.0 624m0 0L377.2 618m0 0L377.4 597m0 0L377.6 609m0 0L377.9 623m0 0L378.1 609m0 0L378.3 606m0 0L378.5 606m0 0L378.7 616m0 0L378.9 607m0 0L379.2 603m0 0L379.4 606m0 0L379.6 621m0 0L379.8 591m0 0L380.0 594m0 0L380.2 596m0 0L380.4 616m0 0L380.7 611m0 0L380.9 617m0 0L381.1 617m0 0L381.3 614m0 0L381.5 613m0 0L381.7 613m0 0L382.0 610m0 0L382.2 614m0 0L382.4 598m0 0L382.6 599m0 0L382.8 628m0 0L383.0 619m0 0L383.3 623m0 0L383.5 622m0 0L383.7 593m0 0L383.9 621m0 0L384.1 610m0 0L384.3 616m0 0L384.6 608m0 0L384.8 598m0 0L385.0 583m0 0L385.2 620m0 0L385.4 602m0 0L385.6 603m0 0L385.9 617m0 0L386.1 615m0 0L386.3 613m0 0L386.5 608m0 0L386.7 617m0 0L386.9 603m0 0L387.1 605m0 0L387.4 604m0 0L387.6 615m0 0L387.8 597m0 0L388.0 604m0 0L388.2 622m0 0L388.4 599m0 0L388.7 612m0 0L388.9 624m0 0L389.1 611m0 0L389.3 601m0 0L389.5 624m0 0L389.7 617m0 0L390.0 624m0 0L390.2 597m0 0L390.4 605m0 0L390.6 619m0 0L390.8 591m0 0L391.0 612m0 0L391.3 616m0 0L391.5 608m0 0L391.7 607m0 0L391.9 596m0 0L392.1 607m0 0L392.3 587m0 0L392.6 616m0 0L392.8 602m0 0L393.0 606m0 0L393.2 600m0 0L393.4 621m0 0L393.6 591m0 0L393.8 577m0 0L394.1 605m0 0L394.3 590m0 0L394.5 587m0 0L394.7 608m0 0L394.9 620m0 0L395.1 614m0 0L395.4 587m0 0L395.6 616m0 0L395.8 601m0 0L396.0 609m0 0L396.2 622m0 0L396.4 598m0 0L396.7 611m0 0L396.9 610m0 0L397.1 605m0 0L397.3 605m0 0L397.5 596m0 0L397.7 618m0 0L398.0 595m0 0L398.2 604m0 0L398.4 612m0 0L398.6 614m0 0L398.8 611m0 0L399.0 598m0 0L399.3 625m0 0L399.5 600m0 0L399.7 613m0 0L399.9 612m0 0L400.1 608m0 0L400.3 591m0 0L400.5 607m0 0L400.8 616m0 0L401.0 609m0 0L401.2 609m0 0L401.4 610m0 0L401.6 610m0 0L401.8 602m0 0L402.1 602m0 0L402.3 615m0 0L402.5 598m0 0L402.7 625m0 0L402.9 615m0 0L403.1 629m0 0L403.4 621m0 0L403.6 599m0 0L403.8 605m0 0L404.0 610m0 0L404.2 620m0 0L404.4 615m0 0L404.7 608m0 0L404.9 606m0 0L405.1 610m0 0L405.3 617m0 0L405.5 623m0 0L405.7 621m0 0L405.9 582m0 0L406.2 605m0 0L406.4 603m0 0L406.6 609m0 0L406.8 614m0 0L407.0 611m0 0L407.2 611m0 0L407.5 623m0 0L407.7 624m0 0L407.9 616m0 0L408.1 596m0 0L408.3 627m0 0L408.5 617m0 0L408.8 616m0 0L409.0 622m0 0L409.2 613m0 0L409.4 614m0 0L409.6 610m0 0L409.8 628m0 0L410.1 606m0 0L410.3 605m0 0L410.5 615m0 0L410.7 618m0 0L410.9 609m0 0L411.1 579m0 0L411.4 618m0 0L411.6 610m0 0L411.8 610m0 0L412.0 615m0 0L412.2 605m0 0L412.4 604m0 0L412.6 604m0 0L412.9 617m0 0L413.1 611m0 0L413.3 610m0 0L413.5 607m0 0L413.7 616m0 0L413.9 608m0 0L414.2 610m0 0L414.4 601m0 0L414.6 624m0 0L414.8 605m0 0L415.0 610m0 0L415.2 603m0 0L415.5 596m0 0L415.7 594m0 0L415.9 614m0 0L416.1 618m0 0L416.3 609m0 0L416.5 598m0 0L416.8 624m0 0L417.0 601m0 0L417.2 612m0 0L417.4 605m0 0L417.6 617m0 0L417.8 599m0 0L418.1 607m0 0L418.3 612m0 0L418.5 588m0 0L418.7 612m0 0L418.9 607m0 0L419.1 596m0 0L419.3 611m0 0L419.6 627m0 0L419.8 597m0 0L420.0 616m0 0L420.2 588m0 0L420.4 599m0 0L420.6 588m0 0L420.9 612m0 0L421.1 605m0 0L421.3 595m0 0L421.5 604m0 0L421.7 608m0 0L421.9 621m0 0L422.2 613m0 0L422.4 611m0 0L422.6 604m0 0L422.8 595m0 0L423.0 605m0 0L423.2 601m0 0L423.5 589m0 0L423.7 611m0 0L423.9 603m0 0L424.1 609m0 0L424.3 598m0 0L424.5 610m0 0L424.7 588m0 0L425.0 611m0 0L425.2 621m0 0L425.4 611m0 0L425.6 610m0 0L425.8 601m0 0L426.0 606m0 0L426.3 619m0 0L426.5 610m0 0L426.7 597m0 0L426.9 587m0 0L427.1 576m0 0L427.3 621m0 0L427.6 618m0 0L427.8 616m0 0L428.0 600m0 0L428.2 620m0 0L428.4 615m0 0L428.6 624m0 0L428.9 578m0 0L429.1 619m0 0L429.3 621m0 0L429.5 601m0 0L429.7 584m0 0L429.9 592m0 0L430.2 621m0 0L430.4 617m0 0L430.6 610m0 0L430.8 620m0 0L431.0 605m0 0L431.2 588m0 0L431.4 611m0 0L431.7 614m0 0L431.9 611m0 0L432.1 610m0 0L432.3 616m0 0L432.5 600m0 0L432.7 609m0 0L433.0 594m0 0L433.2 597m0 0L433.4 618m0 0L433.6 612m0 0L433.8 601m0 0L434.0 623m0 0L434.3 619m0 0L434.5 604m0 0L434.7 621m0 0L434.9 626m0 0L435.1 609m0 0L435.3 627m0 0L435.6 605m0 0L435.8 599m0 0L436.0 626m0 0L436.2 620m0 0L436.4 623m0 0L436.6 600m0 0L436.9 604m0 0L437.1 612m0 0L437.3 627m0 0L437.5 590m0 0L437.7 605m0 0L437.9 616m0 0L438.1 586m0 0L438.4 622m0 0L438.6 567m0 0L438.8 593m0 0L439.0 627m0 0L439.2 615m0 0L439.4 603m0 0L439.7 601m0 0L439.9 607m0 0L440.1 605m0 0L440.3 595m0 0L440.5 611m0 0L440.7 619m0 0L441.0 600m0 0L441.2 592m0 0L441.4 612m0 0L441.6 604m0 0L441.8 613m0 0L442.0 615m0 0L442.3 607m0 0L442.5 600m0 0L442.7 591m0 0L442.9 604m0 0L443.1 616m0 0L443.3 611m0 0L443.6 590m0 0L443.8 599m0 0L444.0 588m0 0L444.2 607m0 0L444.4 610m0 0L444.6 597m0 0L444.8 594m0 0L445.1 602m0 0L445.3 621m0 0L445.5 614m0 0L445.7 618m0 0L445.9 605m0 0L446.1 603m0 0L446.4 610m0 0L446.6 608m0 0L446.8 595m0 0L447.0 585m0 0L447.2 605m0 0L447.4 613m0 0L447.7 609m0 0L447.9 599m0 0L448.1 629m0 0L448.3 600m0 0L448.5 611m0 0L448.7 616m0 0L449.0 612m0 0L449.2 596m0 0L449.4 612m0 0L449.6 618m0 0L449.8 620m0 0L450.0 608m0 0L450.2 608m0 0L450.5 614m0 0L450.7 572m0 0L450.9 592m0 0L451.1 601m0 0L451.3 611m0 0L451.5 613m0 0L451.8 600m0 0L452.0 617m0 0L452.2 613m0 0L452.4 606m0 0L452.6 594m0 0L452.8 598m0 0L453.1 625m0 0L453.3 604m0 0L453.5 612m0 0L453.7 621m0 0L453.9 622m0 0L454.1 610m0 0L454.4 610m0 0L454.6 605m0 0L454.8 619m0 0L455.0 615m0 0L455.2 618m0 0L455.4 596m0 0L455.7 606m0 0L455.9 609m0 0L456.1 603m0 0L456.3 616m0 0L456.5 580m0 0L456.7 612m0 0L456.9 615m0 0L457.2 617m0 0L457.4 600m0 0L457.6 609m0 0L457.8 594m0 0L458.0 610m0 0L458.2 618m0 0L458.5 583m0 0L458.7 610m0 0L458.9 610m0 0L459.1 606m0 0L459.3 609m0 0L459.5 558m0 0L459.8 600m0 0L460.0 608m0 0L460.2 609m0 0L460.4 595m0 0L460.6 607m0 0L460.8 595m0 0L461.1 551m0 0L461.3 618m0 0L461.5 605m0 0L461.7 576m0 0L461.9 610m0 0L462.1 604m0 0L462.4 581m0 0L462.6 591m0 0L462.8 619m0 0L463.0 623m0 0L463.2 619m0 0L463.4 612m0 0L463.6 592m0 0L463.9 608m0 0L464.1 615m0 0L464.3 612m0 0L464.5 617m0 0L464.7 612m0 0L464.9 610m0 0L465.2 620m0 0L465.4 601m0 0L465.6 615m0 0L465.8 611m0 0L466.0 615m0 0L466.2 609m0 0L466.5 606m0 0L466.7 609m0 0L466.9 600m0 0L467.1 627m0 0L467.3 624m0 0L467.5 600m0 0L467.8 585m0 0L468.0 621m0 0L468.2 608m0 0L468.4 614m0 0L468.6 609m0 0L468.8 604m0 0L469.1 617m0 0L469.3 613m0 0L469.5 608m0 0L469.7 610m0 0L469.9 590m0 0L470.1 606m0 0L470.3 623m0 0L470.6 605m0 0L470.8 614m0 0L471.0 610m0 0L471.2 608m0 0L471.4 618m0 0L471.6 616m0 0L471.9 622m0 0L472.1 608m0 0L472.3 617m0 0L472.5 607m0 0L472.7 609m0 0L472.9 604m0 0L473.2 609m0 0L473.4 627m0 0L473.6 615m0 0L473.8 606m0 0L474.0 612m0 0L474.2 615m0 0L474.5 566m0 0L474.7 624m0 0L474.9 615m0 0L475.1 599m0 0L475.3 612m0 0L475.5 620m0 0L475.7 595m0 0L476.0 584m0 0L476.2 588m0 0L476.4 620m0 0L476.6 618m0 0L476.8 611m0 0L477.0 601m0 0L477.3 602m0 0L477.5 613m0 0L477.7 604m0 0L477.9 605m0 0L478.1 593m0 0L478.3 617m0 0L478.6 580m0 0L478.8 611m0 0L479.0 586m0 0L479.2 626m0 0L479.4 603m0 0L479.6 624m0 0L479.9 619m0 0L480.1 610m0 0L480.3 603m0 0L480.5 610m0 0L480.7 597m0 0L480.9 603m0 0L481.2 611m0 0L481.4 615m0 0L481.6 622m0 0L481.8 613m0 0L482.0 597m0 0L482.2 601m0 0L482.4 595m0 0L482.7 601m0 0L482.9 597m0 0L483.1 608m0 0L483.3 616m0 0L483.5 610m0 0L483.7 602m0 0L484.0 624m0 0L484.2 618m0 0L484.4 609m0 0L484.6 608m0 0L484.8 628m0 0L485.0 605m0 0L485.3 616m0 0L485.5 607m0 0L485.7 604m0 0L485.9 614m0 0L486.1 621m0 0L486.3 587m0 0L486.6 585m0 0L486.8 591m0 0L487.0 606m0 0L487.2 613m0 0L487.4 621m0 0L487.6 593m0 0L487.9 586m0 0L488.1 626m0 0L488.3 611m0 0L488.5 596m0 0L488.7 593m0 0L488.9 606m0 0L489.1 602m0 0L489.4 604m0 0L489.6 616m0 0L489.8 602m0 0L490.0 618m0 0L490.2 596m0 0L490.4 591m0 0L490.7 625m0 0L490.9 615m0 0L491.1 581m0 0L491.3 594m0 0L491.5 615m0 0L491.7 616m0 0L492.0 615m0 0L492.2 614m0 0L492.4 618m0 0L492.6 601m0 0L492.8 614m0 0L493.0 612m0 0L493.3 597m0 0L493.5 600m0 0L493.7 606m0 0L493.9 603m0 0L494.1 594m0 0L494.3 592m0 0L494.5 616m0 0L494.8 608m0 0L495.0 613m0 0L495.2 611m0 0L495.4 600m0 0L495.6 596m0 0L495.8 600m0 0L496.1 588m0 0L496.3 581m0 0L496.5 577m0 0L496.7 622m0 0L496.9 626m0 0L497.1 602m0 0L497.4 566m0 0L497.6 584m0 0L497.8 607m0 0L498.0 606m0 0L498.2 606m0 0L498.4 604m0 0L498.7 601m0 0L498.9 597m0 0L499.1 605m0 0L499.3 612m0 0L499.5 592m0 0L499.7 597m0 0L500.0 620m0 0L500.2 615m0 0L500.4 617m0 0L500.6 602m0 0L500.8 617m0 0L501.0 619m0 0L501.2 611m0 0L501.5 599m0 0L501.7 608m0 0L501.9 580m0 0L502.1 594m0 0L502.3 580m0 0L502.5 598m0 0L502.8 606m0 0L503.0 580m0 0L503.2 592m0 0L503.4 619m0 0L503.6 601m0 0L503.8 588m0 0L504.1 600m0 0L504.3 598m0 0L504.5 612m0 0L504.7 608m0 0L504.9 623m0 0L505.1 603m0 0L505.4 601m0 0L505.6 609m0 0L505.8 596m0 0L506.0 605m0 0L506.2 595m0 0L506.4 624m0 0L506.7 622m0 0L506.9 602m0 0L507.1 601m0 0L507.3 605m0 0L507.5 580m0 0L507.7 593m0 0L507.9 579m0 0L508.2 599m0 0L508.4 607m0 0L508.6 625m0 0L508.8 595m0 0L509.0 589m0 0L509.2 619m0 0L509.5 593m0 0L509.7 619m0 0L509.9 603m0 0L510.1 601m0 0L510.3 592m0 0L510.5 617m0 0L510.8 585m0 0L511.0 605m0 0L511.2 591m0 0L511.4 583m0 0L511.6 617m0 0L511.8 614m0 0L512.1 621m0 0L512.3 607m0 0L512.5 611m0 0L512.7 604m0 0L512.9 609m0 0L513.1 598m0 0L513.4 620m0 0L513.6 617m0 0L513.8 611m0 0L514.0 620m0 0L514.2 607m0 0L514.4 618m0 0L514.6 616m0 0L514.9 624m0 0L515.1 622m0 0L515.3 598m0 0L515.5 529m0 0L515.7 581m0 0L515.9 615m0 0L516.2 593m0 0L516.4 593m0 0L516.6 594m0 0L516.8 601m0 0L517.0 614m0 0L517.2 624m0 0L517.5 599m0 0L517.7 592m0 0L517.9 591m0 0L518.1 614m0 0L518.3 576m0 0L518.5 610m0 0L518.8 618m0 0L519.0 610m0 0L519.2 615m0 0L519.4 609m0 0L519.6 603m0 0L519.8 604m0 0L520.0 611m0 0L520.3 624m0 0L520.5 611m0 0L520.7 593m0 0L520.9 608m0 0L521.1 614m0 0L521.3 618m0 0L521.6 614m0 0L521.8 627m0 0L522.0 621m0 0L522.2 602m0 0L522.4 572m0 0L522.6 582m0 0L522.9 610m0 0L523.1 621m0 0L523.3 608m0 0L523.5 597m0 0L523.7 615m0 0L523.9 603m0 0L524.2 605m0 0L524.4 596m0 0L524.6 593m0 0L524.8 605m0 0L525.0 585m0 0L525.2 619m0 0L525.5 607m0 0L525.7 604m0 0L525.9 576m0 0L526.1 615m0 0L526.3 597m0 0L526.5 624m0 0L526.7 619m0 0L527.0 598m0 0L527.2 619m0 0L527.4 595m0 0L527.6 609m0 0L527.8 612m0 0L528.0 599m0 0L528.3 591m0 0L528.5 605m0 0L528.7 589m0 0L528.9 600m0 0L529.1 592m0 0L529.3 604m0 0L529.6 612m0 0L529.8 600m0 0L530.0 609m0 0L530.2 617m0 0L530.4 599m0 0L530.6 602m0 0L530.9 623m0 0L531.1 612m0 0L531.3 590m0 0L531.5 608m0 0L531.7 613m0 0L531.9 603m0 0L532.2 609m0 0L532.4 583m0 0L532.6 592m0 0L532.8 608m0 0L533.0 599m0 0L533.2 603m0 0L533.4 584m0 0L533.7 610m0 0L533.9 589m0 0L534.1 608m0 0L534.3 558m0 0L534.5 613m0 0L534.7 597m0 0L535.0 605m0 0L535.2 614m0 0L535.4 586m0 0L535.6 603m0 0L535.8 598m0 0L536.0 612m0 0L536.3 600m0 0L536.5 621m0 0L536.7 612m0 0L536.9 607m0 0L537.1 591m0 0L537.3 621m0 0L537.6 592m0 0L537.8 613m0 0L538.0 612m0 0L538.2 611m0 0L538.4 609m0 0L538.6 600m0 0L538.9 626m0 0L539.1 583m0 0L539.3 601m0 0L539.5 603m0 0L539.7 604m0 0L539.9 599m0 0L540.1 604m0 0L540.4 615m0 0L540.6 602m0 0L540.8 622m0 0L541.0 603m0 0L541.2 604m0 0L541.4 608m0 0L541.7 595m0 0L541.9 600m0 0L542.1 554m0 0L542.3 609m0 0L542.5 585m0 0L542.7 592m0 0L543.0 623m0 0L543.2 613m0 0L543.4 614m0 0L543.6 604m0 0L543.8 608m0 0L544.0 602m0 0L544.3 613m0 0L544.5 607m0 0L544.7 610m0 0L544.9 612m0 0L545.1 588m0 0L545.3 597m0 0L545.5 584m0 0L545.8 586m0 0L546.0 610m0 0L546.2 610m0 0L546.4 603m0 0L546.6 621m0 0L546.8 599m0 0L547.1 620m0 0L547.3 602m0 0L547.5 614m0 0L547.7 594m0 0L547.9 609m0 0L548.1 583m0 0L548.4 609m0 0L548.6 626m0 0L548.8 585m0 0L549.0 611m0 0L549.2 602m0 0L549.4 592m0 0L549.7 618m0 0L549.9 606m0 0L550.1 606m0 0L550.3 605m0 0L550.5 613m0 0L550.7 602m0 0L551.0 612m0 0L551.2 600m0 0L551.4 582m0 0L551.6 607m0 0L551.8 606m0 0L552.0 626m0 0L552.2 618m0 0L552.5 612m0 0L552.7 612m0 0L552.9 593m0 0L553.1 612m0 0L553.3 617m0 0L553.5 597m0 0L553.8 579m0 0L554.0 593m0 0L554.2 608m0 0L554.4 608m0 0L554.6 620m0 0L554.8 616m0 0L555.1 613m0 0L555.3 614m0 0L555.5 590m0 0L555.7 620m0 0L555.9 602m0 0L556.1 575m0 0L556.4 588m0 0L556.6 606m0 0L556.8 608m0 0L557.0 597m0 0L557.2 605m0 0L557.4 622m0 0L557.7 605m0 0L557.9 584m0 0L558.1 606m0 0L558.3 600m0 0L558.5 612m0 0L558.7 582m0 0L558.9 609m0 0L559.2 599m0 0L559.4 611m0 0L559.6 571m0 0L559.8 598m0 0L560.0 601m0 0L560.2 599m0 0L560.5 596m0 0L560.7 613m0 0L560.9 597m0 0L561.1 602m0 0L561.3 607m0 0L561.5 597m0 0L561.8 603m0 0L562.0 566m0 0L562.2 616m0 0L562.4 622m0 0L562.6 605m0 0L562.8 591m0 0L563.1 607m0 0L563.3 615m0 0L563.5 613m0 0L563.7 605m0 0L563.9 561m0 0L564.1 594m0 0L564.3 596m0 0L564.6 583m0 0L564.8 600m0 0L565.0 599m0 0L565.2 597m0 0L565.4 600m0 0L565.6 618m0 0L565.9 594m0 0L566.1 617m0 0L566.3 617m0 0L566.5 616m0 0L566.7 608m0 0L566.9 584m0 0L567.2 607m0 0L567.4 614m0 0L567.6 603m0 0L567.8 597m0 0L568.0 573m0 0L568.2 597m0 0L568.5 583m0 0L568.7 602m0 0L568.9 620m0 0L569.1 613m0 0L569.3 608m0 0L569.5 623m0 0L569.8 593m0 0L570.0 601m0 0L570.2 593m0 0L570.4 590m0 0L570.6 600m0 0L570.8 585m0 0L571.0 625m0 0L571.3 608m0 0L571.5 605m0 0L571.7 618m0 0L571.9 612m0 0L572.1 601m0 0L572.3 580m0 0L572.6 599m0 0L572.8 623m0 0L573.0 593m0 0L573.2 584m0 0L573.4 611m0 0L573.6 608m0 0L573.9 617m0 0L574.1 621m0 0L574.3 604m0 0L574.5 554m0 0L574.7 606m0 0L574.9 583m0 0L575.2 589m0 0L575.4 608m0 0L575.6 586m0 0L575.8 625m0 0L576.0 608m0 0L576.2 605m0 0L576.5 592m0 0L576.7 597m0 0L576.9 609m0 0L577.1 602m0 0L577.3 607m0 0L577.5 609m0 0L577.7 601m0 0L578.0 603m0 0L578.2 624m0 0L578.4 574m0 0L578.6 597m0 0L578.8 605m0 0L579.0 611m0 0L579.3 603m0 0L579.5 577m0 0L579.7 614m0 0L579.9 601m0 0L580.1 599m0 0L580.3 620m0 0L580.6 608m0 0L580.8 616m0 0L581.0 588m0 0L581.2 603m0 0L581.4 612m0 0L581.6 594m0 0L581.9 601m0 0L582.1 574m0 0L582.3 614m0 0L582.5 576m0 0L582.7 616m0 0L582.9 609m0 0L583.2 600m0 0L583.4 598m0 0L583.6 608m0 0L583.8 611m0 0L584.0 609m0 0L584.2 602m0 0L584.4 604m0 0L584.7 609m0 0L584.9 588m0 0L585.1 606m0 0L585.3 597m0 0L585.5 591m0 0L585.7 613m0 0L586.0 617m0 0L586.2 602m0 0L586.4 606m0 0L586.6 613m0 0L586.8 587m0 0L587.0 601m0 0L587.3 622m0 0L587.5 589m0 0L587.7 599m0 0L587.9 621m0 0L588.1 610m0 0L588.3 605m0 0L588.6 583m0 0L588.8 607m0 0L589.0 599m0 0L589.2 614m0 0L589.4 595m0 0L589.6 607m0 0L589.8 580m0 0L590.1 595m0 0L590.3 592m0 0L590.5 601m0 0L590.7 595m0 0L590.9 616m0 0L591.1 592m0 0L591.4 585m0 0L591.6 584m0 0L591.8 607m0 0L592.0 595m0 0L592.2 621m0 0L592.4 615m0 0L592.7 588m0 0L592.9 601m0 0L593.1 605m0 0L593.3 593m0 0L593.5 609m0 0L593.7 607m0 0L594.0 613m0 0L594.2 597m0 0L594.4 584m0 0L594.6 593m0 0L594.8 587m0 0L595.0 604m0 0L595.3 608m0 0L595.5 621m0 0L595.7 608m0 0L595.9 598m0 0L596.1 604m0 0L596.3 596m0 0L596.5 612m0 0L596.8 609m0 0L597.0 609m0 0L597.2 606m0 0L597.4 589m0 0L597.6 601m0 0L597.8 587m0 0L598.1 614m0 0L598.3 615m0 0L598.5 599m0 0L598.7 593m0 0L598.9 603m0 0L599.1 605m0 0L599.4 589m0 0L599.6 578m0 0L599.8 621m0 0L600.0 603m0 0L600.2 574m0 0L600.4 615m0 0L600.7 601m0 0L600.9 590m0 0L601.1 605m0 0L601.3 605m0 0L601.5 616m0 0L601.7 607m0 0L602.0 592m0 0L602.2 606m0 0L602.4 616m0 0L602.6 604m0 0L602.8 607m0 0L603.0 611m0 0L603.2 592m0 0L603.5 612m0 0L603.7 594m0 0L603.9 602m0 0L604.1 597m0 0L604.3 595m0 0L604.5 604m0 0L604.8 614m0 0L605.0 608m0 0L605.2 617m0 0L605.4 588m0 0L605.6 599m0 0L605.8 616m0 0L606.1 605m0 0L606.3 585m0 0L606.5 592m0 0L606.7 601m0 0L606.9 624m0 0L607.1 611m0 0L607.4 595m0 0L607.6 603m0 0L607.8 607m0 0L608.0 611m0 0L608.2 589m0 0L608.4 594m0 0L608.7 595m0 0L608.9 622m0 0L609.1 584m0 0L609.3 617m0 0L609.5 607m0 0L609.7 602m0 0L609.9 577m0 0L610.2 613m0 0L610.4 616m0 0L610.6 606m0 0L610.8 612m0 0L611.0 603m0 0L611.2 601m0 0L611.5 592m0 0L611.7 597m0 0L611.9 623m0 0L612.1 619m0 0L612.3 586m0 0L612.5 612m0 0L612.8 597m0 0L613.0 607m0 0L613.2 613m0 0L613.4 611m0 0L613.6 597m0 0L613.8 582m0 0L614.1 599m0 0L614.3 601m0 0L614.5 622m0 0L614.7 612m0 0L614.9 581m0 0L615.1 599m0 0L615.3 607m0 0L615.6 611m0 0L615.8 586m0 0L616.0 623m0 0L616.2 607m0 0L616.4 618m0 0L616.6 593m0 0L616.9 600m0 0L617.1 601m0 0L617.3 614m0 0L617.5 613m0 0L617.7 580m0 0L617.9 592m0 0L618.2 615m0 0L618.4 602m0 0L618.6 614m0 0L618.8 603m0 0L619.0 610m0 0L619.2 596m0 0L619.5 598m0 0L619.7 602m0 0L619.9 612m0 0L620.1 594m0 0L620.3 591m0 0L620.5 614m0 0L620.8 596m0 0L621.0 595m0 0L621.2 608m0 0L621.4 608m0 0L621.6 611m0 0L621.8 603m0 0L622.0 607m0 0L622.3 599m0 0L622.5 601m0 0L622.7 612m0 0L622.9 611m0 0L623.1 566m0 0L623.3 602m0 0L623.6 615m0 0L623.8 599m0 0L624.0 572m0 0L624.2 612m0 0L624.4 602m0 0L624.6 605m0 0L624.9 597m0 0L625.1 608m0 0L625.3 609m0 0L625.5 593m0 0L625.7 608m0 0L625.9 565m0 0L626.2 622m0 0L626.4 584m0 0L626.6 623m0 0L626.8 604m0 0L627.0 616m0 0L627.2 581m0 0L627.5 596m0 0L627.7 605m0 0L627.9 622m0 0L628.1 596m0 0L628.3 587m0 0L628.5 617m0 0L628.7 602m0 0L629.0 526m0 0L629.2 612m0 0L629.4 596m0 0L629.6 599m0 0L629.8 604m0 0L630.0 599m0 0L630.3 620m0 0L630.5 610m0 0L630.7 589m0 0L630.9 606m0 0L631.1 604m0 0L631.3 615m0 0L631.6 622m0 0L631.8 600m0 0L632.0 612m0 0L632.2 587m0 0L632.4 596m0 0L632.6 601m0 0L632.9 613m0 0L633.1 604m0 0L633.3 591m0 0L633.5 614m0 0L633.7 583m0 0L633.9 607m0 0L634.1 582m0 0L634.4 597m0 0L634.6 616m0 0L634.8 567m0 0L635.0 587m0 0L635.2 595m0 0L635.4 598m0 0L635.7 622m0 0L635.9 624m0 0L636.1 606m0 0L636.3 619m0 0L636.5 601m0 0L636.7 585m0 0L637.0 616m0 0L637.2 603m0 0L637.4 589m0 0L637.6 594m0 0L637.8 625m0 0L638.0 590m0 0L638.3 604m0 0L638.5 622m0 0L638.7 594m0 0L638.9 614m0 0L639.1 616m0 0L639.3 593m0 0L639.6 614m0 0L639.8 587m0 0L640.0 618m0 0L640.2 617m0 0L640.4 590m0 0L640.6 594m0 0L640.8 608m0 0L641.1 623m0 0L641.3 615m0 0L641.5 611m0 0L641.7 619m0 0L641.9 598m0 0L642.1 593m0 0L642.4 609m0 0L642.6 624m0 0L642.8 617m0 0L643.0 568m0 0L643.2 578m0 0L643.4 581m0 0L643.7 611m0 0L643.9 605m0 0L644.1 597m0 0L644.3 574m0 0L644.5 609m0 0L644.7 608m0 0L645.0 602m0 0L645.2 598m0 0L645.4 600m0 0L645.6 607m0 0L645.8 575m0 0L646.0 576m0 0L646.3 581m0 0L646.5 604m0 0L646.7 600m0 0L646.9 604m0 0L647.1 614m0 0L647.3 612m0 0L647.5 587m0 0L647.8 607m0 0L648.0 603m0 0L648.2 622m0 0L648.4 608m0 0L648.6 606m0 0L648.8 607m0 0L649.1 591m0 0L649.3 595m0 0L649.5 598m0 0L649.7 607m0 0L649.9 610m0 0L650.1 609m0 0L650.4 608m0 0L650.6 603m0 0L650.8 590m0 0L651.0 602m0 0L651.2 588m0 0L651.4 598m0 0L651.7 601m0 0L651.9 595m0 0L652.1 597m0 0L652.3 588m0 0L652.5 595m0 0L652.7 608m0 0L653.0 608m0 0L653.2 590m0 0L653.4 603m0 0L653.6 597m0 0L653.8 597m0 0L654.0 601m0 0L654.2 580m0 0L654.5 595m0 0L654.7 594m0 0L654.9 598m0 0L655.1 593m0 0L655.3 600m0 0L655.5 603m0 0L655.8 605m0 0L656.0 598m0 0L656.2 596m0 0L656.4 613m0 0L656.6 597m0 0L656.8 604m0 0L657.1 618m0 0L657.3 611m0 0L657.5 596m0 0L657.7 601m0 0L657.9 600m0 0L658.1 584m0 0L658.4 603m0 0L658.6 606m0 0L658.8 594m0 0L659.0 592m0 0L659.2 608m0 0L659.4 616m0 0L659.6 599m0 0L659.9 624m0 0L660.1 613m0 0L660.3 617m0 0L660.5 606m0 0L660.7 601m0 0L660.9 614m0 0L661.2 603m0 0L661.4 619m0 0L661.6 600m0 0L661.8 582m0 0L662.0 610m0 0L662.2 617m0 0L662.5 611m0 0L662.7 603m0 0L662.9 614m0 0L663.1 575m0 0L663.3 583m0 0L663.5 613m0 0L663.8 584m0 0L664.0 601m0 0L664.2 588m0 0L664.4 601m0 0L664.6 590m0 0L664.8 589m0 0L665.1 606m0 0L665.3 582m0 0L665.5 606m0 0L665.7 620m0 0L665.9 601m0 0L666.1 615m0 0L666.3 608m0 0L666.6 614m0 0L666.8 591m0 0L667.0 618m0 0L667.2 601m0 0L667.4 608m0 0L667.6 590m0 0L667.9 609m0 0L668.1 580m0 0L668.3 594m0 0L668.5 609m0 0L668.7 604m0 0L668.9 614m0 0L669.2 589m0 0L669.4 601m0 0L669.6 607m0 0L669.8 596m0 0L670.0 617m0 0L670.2 589m0 0L670.5 605m0 0L670.7 608m0 0L670.9 583m0 0L671.1 604m0 0L671.3 607m0 0L671.5 613m0 0L671.8 613m0 0L672.0 601m0 0L672.2 605m0 0L672.4 592m0 0L672.6 604m0 0L672.8 601m0 0L673.0 594m0 0L673.3 601m0 0L673.5 606m0 0L673.7 583m0 0L673.9 602m0 0L674.1 614m0 0L674.3 579m0 0L674.6 620m0 0L674.8 598m0 0L675.0 607m0 0L675.2 594m0 0L675.4 602m0 0L675.6 596m0 0L675.9 593m0 0L676.1 586m0 0L676.3 576m0 0L676.5 582m0 0L676.7 578m0 0L676.9 596m0 0L677.2 594m0 0L677.4 617m0 0L677.6 607m0 0L677.8 587m0 0L678.0 597m0 0L678.2 592m0 0L678.5 608m0 0L678.7 600m0 0L678.9 616m0 0L679.1 617m0 0L679.3 589m0 0L679.5 577m0 0L679.7 616m0 0L680.0 607m0 0L680.2 603m0 0L680.4 610m0 0L680.6 601m0 0L680.8 610m0 0L681.0 605m0 0L681.3 603m0 0L681.5 595m0 0L681.7 597m0 0L681.9 614m0 0L682.1 583m0 0L682.3 585m0 0L682.6 589m0 0L682.8 609m0 0L683.0 596m0 0L683.2 606m0 0L683.4 579m0 0L683.6 621m0 0L683.9 606m0 0L684.1 611m0 0L684.3 615m0 0L684.5 606m0 0L684.7 587m0 0L684.9 608m0 0L685.1 594m0 0L685.4 583m0 0L685.6 612m0 0L685.8 571m0 0L686.0 596m0 0L686.2 596m0 0L686.4 577m0 0L686.7 618m0 0L686.9 610m0 0L687.1 602m0 0L687.3 608m0 0L687.5 596m0 0L687.7 608m0 0L688.0 597m0 0L688.2 612m0 0L688.4 606m0 0L688.6 610m0 0L688.8 612m0 0L689.0 595m0 0L689.3 594m0 0L689.5 600m0 0L689.7 606m0 0L689.9 604m0 0L690.1 577m0 0L690.3 601m0 0L690.6 598m0 0L690.8 581m0 0L691.0 582m0 0L691.2 604m0 0L691.4 591m0 0L691.6 605m0 0L691.8 615m0 0L692.1 586m0 0L692.3 604m0 0L692.5 610m0 0L692.7 621m0 0L692.9 607m0 0L693.1 609m0 0L693.4 611m0 0L693.6 593m0 0L693.8 599m0 0L694.0 604m0 0L694.2 605m0 0L694.4 590m0 0L694.7 605m0 0L694.9 601m0 0L695.1 589m0 0L695.3 613m0 0L695.5 609m0 0L695.7 620m0 0L696.0 590m0 0L696.2 589m0 0L696.4 606m0 0L696.6 607m0 0L696.8 597m0 0L697.0 603m0 0L697.3 615m0 0L697.5 611m0 0L697.7 574m0 0L697.9 599m0 0L698.1 596m0 0L698.3 586m0 0L698.5 598m0 0L698.8 578m0 0L699.0 610m0 0L699.2 606m0 0L699.4 613m0 0L699.6 578m0 0L699.8 600m0 0L700.1 604m0 0L700.3 615m0 0L700.5 607m0 0L700.7 588m0 0L700.9 608m0 0L701.1 563m0 0L701.4 566m0 0L701.6 576m0 0L701.8 599m0 0L702.0 580m0 0L702.2 596m0 0L702.4 577m0 0L702.7 591m0 0L702.9 617m0 0L703.1 580m0 0L703.3 598m0 0L703.5 604m0 0L703.7 610m0 0L703.9 606m0 0L704.2 611m0 0L704.4 610m0 0L704.6 589m0 0L704.8 598m0 0L705.0 623m0 0L705.2 605m0 0L705.5 612m0 0L705.7 595m0 0L705.9 581m0 0L706.1 589m0 0L706.3 594m0 0L706.5 608m0 0L706.8 606m0 0L707.0 602m0 0L707.2 589m0 0L707.4 605m0 0L707.6 556m0 0L707.8 584m0 0L708.1 603m0 0L708.3 606m0 0L708.5 594m0 0L708.7 609m0 0L708.9 578m0 0L709.1 596m0 0L709.4 561m0 0L709.6 621m0 0L709.8 582m0 0L710.0 577m0 0L710.2 580m0 0L710.4 610m0 0L710.6 591m0 0L710.9 600m0 0L711.1 607m0 0L711.3 587m0 0L711.5 594m0 0L711.7 594m0 0L711.9 601m0 0L712.2 600m0 0L712.4 598m0 0L712.6 577m0 0L712.8 585m0 0L713.0 610m0 0L713.2 594m0 0L713.5 622m0 0L713.7 604m0 0L713.9 596m0 0L714.1 602m0 0L714.3 617m0 0L714.5 573m0 0L714.8 583m0 0L715.0 598m0 0L715.2 586m0 0L715.4 600m0 0L715.6 614m0 0L715.8 614m0 0L716.1 584m0 0L716.3 617m0 0L716.5 594m0 0L716.7 601m0 0L716.9 615m0 0L717.1 595m0 0L717.3 604m0 0L717.6 597m0 0L717.8 580m0 0L718.0 594m0 0L718.2 591m0 0L718.4 594m0 0L718.6 611m0 0L718.9 543m0 0L719.1 598m0 0L719.3 613m0 0L719.5 577m0 0L719.7 616m0 0L719.9 576m0 0L720.2 610m0 0L720.4 604m0 0L720.6 574m0 0L720.8 599m0 0L721.0 591m0 0L721.2 599m0 0L721.5 603m0 0L721.7 605m0 0L721.9 605m0 0L722.1 600m0 0L722.3 577m0 0L722.5 606m0 0L722.8 584m0 0L723.0 589m0 0L723.2 616m0 0L723.4 616m0 0L723.6 614m0 0L723.8 618m0 0L724.0 579m0 0L724.3 603m0 0L724.5 554m0 0L724.7 597m0 0L724.9 597m0 0L725.1 590m0 0L725.3 576m0 0L725.6 609m0 0L725.8 600m0 0L726.0 576m0 0L726.2 597m0 0L726.4 604m0 0L726.6 606m0 0L726.9 613m0 0L727.1 608m0 0L727.3 615m0 0L727.5 585m0 0L727.7 594m0 0L727.9 599m0 0L728.2 610m0 0L728.4 608m0 0L728.6 588m0 0L728.8 605m0 0L729.0 591m0 0L729.2 586m0 0L729.4 592m0 0L729.7 610m0 0L729.9 576m0 0L730.1 610m0 0L730.3 605m0 0L730.5 573m0 0L730.7 594m0 0L731.0 599m0 0L731.2 599m0 0L731.4 620m0 0L731.6 600m0 0L731.8 600m0 0L732.0 619m0 0L732.3 610m0 0L732.5 575m0 0L732.7 614m0 0L732.9 610m0 0L733.1 597m0 0L733.3 603m0 0L733.6 605m0 0L733.8 606m0 0L734.0 615m0 0L734.2 591m0 0L734.4 602m0 0L734.6 598m0 0L734.9 591m0 0L735.1 617m0 0L735.3 585m0 0L735.5 623m0 0L735.7 606m0 0L735.9 564m0 0L736.1 578m0 0L736.4 589m0 0L736.6 593m0 0L736.8 624m0 0L737.0 615m0 0L737.2 602m0 0L737.4 596m0 0L737.7 607m0 0L737.9 612m0 0L738.1 591m0 0L738.3 615m0 0L738.5 611m0 0L738.7 601m0 0L739.0 619m0 0L739.2 603m0 0L739.4 604m0 0L739.6 601m0 0L739.8 618m0 0L740.0 609m0 0L740.3 607m0 0L740.5 603m0 0L740.7 600m0 0L740.9 600m0 0L741.1 615m0 0L741.3 611m0 0L741.6 610m0 0L741.8 617m0 0L742.0 567m0 0L742.2 595m0 0L742.4 586m0 0L742.6 620m0 0L742.8 605m0 0L743.1 614m0 0L743.3 615m0 0L743.5 604m0 0L743.7 585m0 0L743.9 598m0 0L744.1 612m0 0L744.4 581m0 0L744.6 605m0 0L744.8 601m0 0L745.0 580m0 0L745.2 560m0 0L745.4 576m0 0L745.7 606m0 0L745.9 583m0 0L746.1 611m0 0L746.3 596m0 0L746.5 602m0 0L746.7 606m0 0L747.0 606m0 0L747.2 608m0 0L747.4 611m0 0L747.6 597m0 0L747.8 613m0 0L748.0 615m0 0L748.3 591m0 0L748.5 613m0 0L748.7 616m0 0L748.9 619m0 0L749.1 602m0 0L749.3 582m0 0L749.5 605m0 0L749.8 587m0 0L750.0 598m0 0L750.2 617m0 0L750.4 616m0 0L750.6 597m0 0L750.8 618m0 0L751.1 591m0 0L751.3 620m0 0L751.5 605m0 0L751.7 585m0 0L751.9 616m0 0L752.1 607m0 0L752.4 621m0 0L752.6 610m0 0L752.8 599m0 0L753.0 572m0 0L753.2 596m0 0L753.4 614m0 0L753.7 618m0 0L753.9 596m0 0L754.1 616m0 0L754.3 616m0 0L754.5 592m0 0L754.7 611m0 0L754.9 596m0 0L755.2 598m0 0L755.4 602m0 0L755.6 605m0 0L755.8 616m0 0L756.0 596m0 0L756.2 584m0 0L756.5 609m0 0L756.7 595m0 0L756.9 604m0 0L757.1 604m0 0L757.3 611m0 0L757.5 606m0 0L757.8 586m0 0L758.0 601m0 0L758.2 598m0 0L758.4 588m0 0L758.6 608m0 0L758.8 592m0 0L759.1 605m0 0L759.3 611m0 0L759.5 617m0 0L759.7 621m0 0L759.9 588m0 0L760.1 614m0 0L760.4 613m0 0L760.6 595m0 0L760.8 611m0 0L761.0 624m0 0L761.2 616m0 0L761.4 590m0 0L761.6 602m0 0L761.9 621m0 0L762.1 582m0 0L762.3 599m0 0L762.5 584m0 0L762.7 598m0 0L762.9 601m0 0L763.2 610m0 0L763.4 575m0 0L763.6 606m0 0L763.8 588m0 0L764.0 593m0 0L764.2 597m0 0L764.5 599m0 0L764.7 570m0 0L764.9 610m0 0L765.1 615m0 0L765.3 599m0 0L765.5 597m0 0L765.8 591m0 0L766.0 606m0 0L766.2 584m0 0L766.4 601m0 0L766.6 613m0 0L766.8 610m0 0L767.1 595m0 0L767.3 595m0 0L767.5 604m0 0L767.7 598m0 0L767.9 612m0 0L768.1 594m0 0L768.3 584m0 0L768.6 612m0 0L768.8 598m0 0L769.0 584m0 0L769.2 612m0 0L769.4 594m0 0L769.6 598m0 0L769.9 605m0 0L770.1 612m0 0L770.3 575m0 0L770.5 600m0 0L770.7 599m0 0L770.9 611m0 0L771.2 594m0 0L771.4 604m0 0L771.6 580m0 0L771.8 584m0 0L772.0 590m0 0L772.2 606m0 0L772.5 612m0 0L772.7 588m0 0L772.9 618m0 0L773.1 621m0 0L773.3 589m0 0L773.5 608m0 0L773.7 593m0 0L774.0 616m0 0L774.2 607m0 0L774.4 604m0 0L774.6 602m0 0L774.8 597m0 0L775.0 580m0 0L775.3 586m0 0L775.5 621m0 0L775.7 602m0 0L775.9 621m0 0L776.1 604m0 0L776.3 617m0 0L776.6 601m0 0L776.8 611m0 0L777.0 614m0 0L777.2 609m0 0L777.4 591m0 0L777.6 588m0 0L777.9 591m0 0L778.1 594m0 0L778.3 609m0 0L778.5 591m0 0L778.7 602m0 0L778.9 568m0 0L779.2 591m0 0L779.4 598m0 0L779.6 602m0 0L779.8 608m0 0L780.0 609m0 0L780.2 608m0 0L780.4 602m0 0L780.7 597m0 0L780.9 607m0 0L781.1 549m0 0L781.3 603m0 0L781.5 604m0 0L781.7 597m0 0L782.0 619m0 0L782.2 595m0 0L782.4 593m0 0L782.6 607m0 0L782.8 613m0 0L783.0 615m0 0L783.3 600m0 0L783.5 606m0 0L783.7 605m0 0L783.9 567m0 0L784.1 591m0 0L784.3 597m0 0L784.6 616m0 0L784.8 611m0 0L785.0 588m0 0L785.2 611m0 0L785.4 589m0 0L785.6 599m0 0L785.9 599m0 0L786.1 573m0 0L786.3 603m0 0L786.5 599m0 0L786.7 616m0 0L786.9 565m0 0L787.1 591m0 0L787.4 591m0 0L787.6 572m0 0L787.8 606m0 0L788.0 619m0 0L788.2 578m0 0L788.4 588m0 0L788.7 589m0 0L788.9 610m0 0L789.1 601m0 0L789.3 622m0 0L789.5 602m0 0L789.7 605m0 0L790.0 604m0 0L790.2 602m0 0L790.4 592m0 0L790.6 587m0 0L790.8 599m0 0L791.0 596m0 0L791.3 600m0 0L791.5 579m0 0L791.7 594m0 0L791.9 598m0 0L792.1 612m0 0L792.3 616m0 0L792.6 599m0 0L792.8 586m0 0L793.0 580m0 0L793.2 607m0 0L793.4 519m0 0L793.6 600m0 0L793.8 613m0 0L794.1 613m0 0L794.3 582m0 0L794.5 593m0 0L794.7 610m0 0L794.9 587m0 0L795.1 600m0 0L795.4 590m0 0L795.6 599m0 0L795.8 614m0 0L796.0 604m0 0L796.2 607m0 0L796.4 602m0 0L796.7 576m0 0L796.9 612m0 0L797.1 608m0 0L797.3 604m0 0L797.5 619m0 0L797.7 599m0 0L798.0 614m0 0L798.2 579m0 0L798.4 599m0 0L798.6 594m0 0L798.8 622m0 0L799.0 601m0 0L799.2 599m0 0L799.5 578m0 0L799.7 620m0 0L799.9 609m0 0L800.1 587m0 0L800.3 606m0 0L800.5 592m0 0L800.8 572m0 0L801.0 605m0 0L801.2 606m0 0L801.4 606m0 0L801.6 609m0 0L801.8 608m0 0L802.1 596m0 0L802.3 611m0 0L802.5 588m0 0L802.7 573m0 0L802.9 592m0 0L803.1 593m0 0L803.4 579m0 0L803.6 595m0 0L803.8 595m0 0L804.0 603m0 0L804.2 608m0 0L804.4 569m0 0L804.7 592m0 0L804.9 593m0 0L805.1 596m0 0L805.3 616m0 0L805.5 612m0 0L805.7 602m0 0L805.9 590m0 0L806.2 569m0 0L806.4 600m0 0L806.6 621m0 0L806.8 599m0 0L807.0 608m0 0L807.2 606m0 0L807.5 620m0 0L807.7 597m0 0L807.9 587m0 0L808.1 613m0 0L808.3 605m0 0L808.5 608m0 0L808.8 604m0 0L809.0 603m0 0L809.2 618m0 0L809.4 601m0 0L809.6 589m0 0L809.8 610m0 0L810.1 605m0 0L810.3 586m0 0L810.5 605m0 0L810.7 572m0 0L810.9 594m0 0L811.1 586m0 0L811.4 613m0 0L811.6 602m0 0L811.8 578m0 0L812.0 546m0 0L812.2 555m0 0L812.4 620m0 0L812.6 607m0 0L812.9 603m0 0L813.1 598m0 0L813.3 600m0 0L813.5 570m0 0L813.7 574m0 0L813.9 608m0 0L814.2 609m0 0L814.4 569m0 0L814.6 591m0 0L814.8 608m0 0L815.0 621m0 0L815.2 592m0 0L815.5 594m0 0L815.7 596m0 0L815.9 615m0 0L816.1 623m0 0L816.3 598m0 0L816.5 598m0 0L816.8 615m0 0L817.0 619m0 0L817.2 591m0 0L817.4 611m0 0L817.6 592m0 0L817.8 564m0 0L818.1 581m0 0L818.3 555m0 0L818.5 619m0 0L818.7 608m0 0L818.9 604m0 0L819.1 595m0 0L819.3 595m0 0L819.6 584m0 0L819.8 596m0 0L820.0 603m0 0L820.2 608m0 0L820.4 594m0 0L820.6 612m0 0L820.9 604m0 0L821.1 598m0 0L821.3 602m0 0L821.5 611m0 0L821.7 610m0 0L821.9 588m0 0L822.2 595m0 0L822.4 607m0 0L822.6 613m0 0L822.8 617m0 0L823.0 584m0 0L823.2 571m0 0L823.5 615m0 0L823.7 564m0 0L823.9 605m0 0L824.1 576m0 0L824.3 575m0 0L824.5 597m0 0L824.7 579m0 0L825.0 577m0 0L825.2 614m0 0L825.4 575m0 0L825.6 619m0 0L825.8 587m0 0L826.0 611m0 0L826.3 602m0 0L826.5 597m0 0L826.7 603m0 0L826.9 617m0 0L827.1 605m0 0L827.3 582m0 0L827.6 580m0 0L827.8 607m0 0L828.0 605m0 0L828.2 620m0 0L828.4 582m0 0L828.6 593m0 0L828.9 594m0 0L829.1 617m0 0L829.3 587m0 0L829.5 609m0 0L829.7 586m0 0L829.9 570m0 0L830.2 607m0 0L830.4 611m0 0L830.6 576m0 0L830.8 581m0 0L831.0 566m0 0L831.2 602m0 0L831.4 602m0 0L831.7 610m0 0L831.9 594m0 0L832.1 598m0 0L832.3 586m0 0L832.5 590m0 0L832.7 610m0 0L833.0 617m0 0L833.2 582m0 0L833.4 605m0 0L833.6 561m0 0L833.8 614m0 0L834.0 610m0 0L834.3 613m0 0L834.5 595m0 0L834.7 589m0 0L834.9 589m0 0L835.1 605m0 0L835.3 563m0 0L835.6 610m0 0L835.8 616m0 0L836.0 597m0 0L836.2 597m0 0L836.4 585m0 0L836.6 589m0 0L836.9 604m0 0L837.1 613m0 0L837.3 614m0 0L837.5 595m0 0L837.7 604m0 0L837.9 612m0 0L838.1 583m0 0L838.4 581m0 0L838.6 583m0 0L838.8 591m0 0L839.0 609m0 0L839.2 546m0 0L839.4 598m0 0L839.7 598m0 0L839.9 614m0 0L840.1 587m0 0L840.3 587m0 0L840.5 611m0 0L840.7 595m0 0L841.0 584m0 0L841.2 607m0 0L841.4 603m0 0L841.6 600m0 0L841.8 617m0 0L842.0 576m0 0L842.3 604m0 0L842.5 599m0 0L842.7 597m0 0L842.9 596m0 0L843.1 607m0 0L843.3 575m0 0L843.5 606m0 0L843.8 591m0 0L844.0 598m0 0L844.2 609m0 0L844.4 600m0 0L844.6 545m0 0L844.8 613m0 0L845.1 608m0 0L845.3 605m0 0L845.5 587m0 0L845.7 582m0 0L845.9 602m0 0L846.1 583m0 0L846.4 599m0 0L846.6 584m0 0L846.8 570m0 0L847.0 595m0 0L847.2 600m0 0L847.4 581m0 0L847.7 605m0 0L847.9 617m0 0L848.1 590m0 0L848.3 606m0 0L848.5 613m0 0L848.7 599m0 0L849.0 606m0 0L849.2 598m0 0L849.4 561m0 0L849.6 588m0 0L849.8 604m0 0L850.0 615m0 0L850.2 624m0 0L850.5 589m0 0L850.7 602m0 0L850.9 598m0 0L851.1 607m0 0L851.3 598m0 0L851.5 602m0 0L851.8 585m0 0L852.0 606m0 0L852.2 616m0 0L852.4 594m0 0L852.6 585m0 0L852.8 574m0 0L853.1 612m0 0L853.3 589m0 0L853.5 586m0 0L853.7 592m0 0L853.9 591m0 0L854.1 585m0 0L854.4 622m0 0L854.6 596m0 0L854.8 606m0 0L855.0 598m0 0L855.2 595m0 0L855.4 593m0 0L855.7 596m0 0L855.9 607m0 0L856.1 578m0 0L856.3 597m0 0L856.5 573m0 0L856.7 603m0 0L856.9 582m0 0L857.2 605m0 0L857.4 607m0 0L857.6 611m0 0L857.8 600m0 0L858.0 595m0 0L858.2 594m0 0L858.5 567m0 0L858.7 564m0 0L858.9 596m0 0L859.1 596m0 0L859.3 607m0 0L859.5 607m0 0L859.8 611m0 0L860.0 590m0 0L860.2 568m0 0L860.4 601m0 0L860.6 583m0 0L860.8 570m0 0L861.1 603m0 0L861.3 622m0 0L861.5 606m0 0L861.7 589m0 0L861.9 617m0 0L862.1 584m0 0L862.4 611m0 0L862.6 611m0 0L862.8 605m0 0L863.0 596m0 0L863.2 584m0 0L863.4 597m0 0L863.6 588m0 0L863.9 596m0 0L864.1 582m0 0L864.3 600m0 0L864.5 592m0 0L864.7 602m0 0L864.9 604m0 0L865.2 536m0 0L865.4 591m0 0L865.6 598m0 0L865.8 600m0 0L866.0 587m0 0L866.2 607m0 0L866.5 616m0 0L866.7 604m0 0L866.9 603m0 0L867.1 606m0 0L867.3 591m0 0L867.5 598m0 0L867.8 612m0 0L868.0 608m0 0L868.2 565m0 0L868.4 589m0 0L868.6 581m0 0L868.8 611m0 0L869.0 584m0 0L869.3 572m0 0L869.5 582m0 0L869.7 590m0 0L869.9 586m0 0L870.1 601m0 0L870.3 593m0 0L870.6 577m0 0L870.8 585m0 0L871.0 578m0 0L871.2 575m0 0L871.4 598m0 0L871.6 596m0 0L871.9 589m0 0L872.1 607m0 0L872.3 599m0 0L872.5 584m0 0L872.7 609m0 0L872.9 614m0 0L873.2 610m0 0L873.4 587m0 0L873.6 595m0 0L873.8 567m0 0L874.0 596m0 0L874.2 608m0 0L874.5 563m0 0L874.7 566m0 0L874.9 579m0 0L875.1 616m0 0L875.3 585m0 0L875.5 589m0 0L875.7 598m0 0L876.0 578m0 0L876.2 595m0 0L876.4 587m0 0L876.6 587m0 0L876.8 595m0 0L877.0 588m0 0L877.3 607m0 0L877.5 598m0 0L877.7 588m0 0L877.9 570m0 0L878.1 585m0 0L878.3 587m0 0L878.6 606m0 0L878.8 579m0 0L879.0 617m0 0L879.2 592m0 0L879.4 599m0 0L879.6 606m0 0L879.9 613m0 0L880.1 603m0 0L880.3 583m0 0L880.5 593m0 0L880.7 586m0 0L880.9 587m0 0L881.2 572m0 0L881.4 584m0 0L881.6 585m0 0L881.8 592m0 0L882.0 593m0 0L882.2 604m0 0L882.4 592m0 0L882.7 599m0 0L882.9 593m0 0L883.1 600m0 0L883.3 571m0 0L883.5 602m0 0L883.7 597m0 0L884.0 605m0 0L884.2 593m0 0L884.4 585m0 0L884.6 587m0 0L884.8 603m0 0L885.0 614m0 0L885.3 597m0 0L885.5 554m0 0L885.7 599m0 0L885.9 604m0 0L886.1 613m0 0L886.3 596m0 0L886.6 604m0 0L886.8 591m0 0L887.0 584m0 0L887.2 606m0 0L887.4 594m0 0L887.6 609m0 0L887.9 578m0 0L888.1 600m0 0L888.3 585m0 0L888.5 583m0 0L888.7 606m0 0L888.9 612m0 0L889.1 600m0 0L889.4 596m0 0L889.6 600m0 0L889.8 589m0 0L890.0 592m0 0L890.2 595m0 0L890.4 612m0 0L890.7 593m0 0L890.9 602m0 0L891.1 587m0 0L891.3 592m0 0L891.5 587m0 0L891.7 575m0 0L892.0 598m0 0L892.2 607m0 0L892.4 615m0 0L892.6 528m0 0L892.8 582m0 0L893.0 594m0 0L893.3 592m0 0L893.5 608m0 0L893.7 605m0 0L893.9 591m0 0L894.1 585m0 0L894.3 620m0 0L894.5 588m0 0L894.8 604m0 0L895.0 605m0 0L895.2 573m0 0L895.4 607m0 0L895.6 586m0 0L895.8 610m0 0L896.1 615m0 0L896.3 603m0 0L896.5 594m0 0L896.7 581m0 0L896.9 599m0 0L897.1 581m0 0L897.4 609m0 0L897.6 559m0 0L897.8 612m0 0L898.0 591m0 0L898.2 590m0 0L898.4 570m0 0L898.7 592m0 0L898.9 587m0 0L899.1 553m0 0L899.3 597m0 0L899.5 595m0 0L899.7 602m0 0L900.0 611m0 0L900.2 598m0 0L900.4 597m0 0L900.6 612m0 0L900.8 602m0 0L901.0 607m0 0L901.2 599m0 0L901.5 577m0 0L901.7 587m0 0L901.9 592m0 0L902.1 608m0 0L902.3 606m0 0L902.5 595m0 0L902.8 601m0 0L903.0 587m0 0L903.2 572m0 0L903.4 578m0 0L903.6 576m0 0L903.8 601m0 0L904.1 571m0 0L904.3 573m0 0L904.5 586m0 0L904.7 603m0 0L904.9 573m0 0L905.1 608m0 0L905.4 593m0 0L905.6 591m0 0L905.8 597m0 0L906.0 588m0 0L906.2 585m0 0L906.4 578m0 0L906.7 589m0 0L906.9 608m0 0L907.1 590m0 0L907.3 572m0 0L907.5 604m0 0L907.7 610m0 0L907.9 594m0 0L908.2 597m0 0L908.4 601m0 0L908.6 584m0 0L908.8 590m0 0L909.0 579m0 0L909.2 573m0 0L909.5 592m0 0L909.7 602m0 0L909.9 603m0 0L910.1 588m0 0L910.3 593m0 0L910.5 567m0 0L910.8 606m0 0L911.0 605m0 0L911.2 604m0 0L911.4 581m0 0L911.6 602m0 0L911.8 600m0 0L912.1 599m0 0L912.3 576m0 0L912.5 613m0 0L912.7 573m0 0L912.9 598m0 0L913.1 598m0 0L913.3 612m0 0L913.6 598m0 0L913.8 575m0 0L914.0 591m0 0L914.2 560m0 0L914.4 618m0 0L914.6 601m0 0L914.9 609m0 0L915.1 599m0 0L915.3 574m0 0L915.5 593m0 0L915.7 524m0 0L915.9 599m0 0L916.2 610m0 0L916.4 601m0 0L916.6 618m0 0L916.8 604m0 0L917.0 561m0 0L917.2 594m0 0L917.5 602m0 0L917.7 618m0 0L917.9 583m0 0L918.1 609m0 0L918.3 553m0 0L918.5 596m0 0L918.8 589m0 0L919.0 597m0 0L919.2 566m0 0L919.4 612m0 0L919.6 605m0 0L919.8 602m0 0L920.0 576m0 0L920.3 589m0 0L920.5 572m0 0L920.7 612m0 0L920.9 596m0 0L921.1 623m0 0L921.3 610m0 0L921.6 600m0 0L921.8 594m0 0L922.0 598m0 0L922.2 600m0 0L922.4 579m0 0L922.6 599m0 0L922.9 586m0 0L923.1 581m0 0L923.3 588m0 0L923.5 605m0 0L923.7 600m0 0L923.9 598m0 0L924.2 585m0 0L924.4 575m0 0L924.6 609m0 0L924.8 600m0 0L925.0 570m0 0L925.2 599m0 0L925.5 603m0 0L925.7 602m0 0L925.9 591m0 0L926.1 593m0 0L926.3 614m0 0L926.5 578m0 0L926.7 602m0 0L927.0 600m0 0L927.2 609m0 0L927.4 598m0 0L927.6 578m0 0L927.8 569m0 0L928.0 596m0 0L928.3 574m0 0L928.5 574m0 0L928.7 600m0 0L928.9 603m0 0L929.1 587m0 0L929.3 596m0 0L929.6 566m0 0L929.8 574m0 0L930.0 563m0 0L930.2 593m0 0L930.4 574m0 0L930.6 600m0 0L930.9 611m0 0L931.1 595m0 0L931.3 604m0 0L931.5 584m0 0L931.7 584m0 0L931.9 586m0 0L932.2 598m0 0L932.4 621m0 0L932.6 604m0 0L932.8 603m0 0L933.0 602m0 0L933.2 595m0 0L933.4 615m0 0L933.7 566m0 0L933.9 614m0 0L934.1 585m0 0L934.3 564m0 0L934.5 590m0 0L934.7 598m0 0L935.0 601m0 0L935.2 598m0 0L935.4 610m0 0L935.6 567m0 0L935.8 597m0 0L936.0 596m0 0L936.3 589m0 0L936.5 588m0 0L936.7 591m0 0L936.9 583m0 0L937.1 595m0 0L937.3 593m0 0L937.6 602m0 0L937.8 570m0 0L938.0 592m0 0L938.2 597m0 0L938.4 580m0 0L938.6 518m0 0L938.8 594m0 0L939.1 610m0 0L939.3 611m0 0L939.5 595m0 0L939.7 602m0 0L939.9 590m0 0L940.1 600m0 0L940.4 618m0 0L940.6 594m0 0L940.8 573m0 0L941.0 601m0 0L941.2 604m0 0L941.4 579m0 0L941.7 594m0 0L941.9 590m0 0L942.1 570m0 0L942.3 572m0 0L942.5 604m0 0L942.7 595m0 0L943.0 591m0 0L943.2 598m0 0L943.4 613m0 0L943.6 595m0 0L943.8 608m0 0L944.0 605m0 0L944.3 589m0 0L944.5 600m0 0L944.7 591m0 0L944.9 600m0 0L945.1 596m0 0L945.3 593m0 0L945.5 607m0 0L945.8 586m0 0L946.0 615m0 0L946.2 593m0 0L946.4 608m0 0L946.6 607m0 0L946.8 617m0 0L947.1 614m0 0L947.3 586m0 0L947.5 606m0 0L947.7 621m0 0L947.9 548m0 0L948.1 572m0 0L948.4 576m0 0L948.6 591m0 0L948.8 578m0 0L949.0 580m0 0L949.2 607m0 0L949.4 616m0 0L949.7 589m0 0L949.9 546m0 0L950.1 584m0 0L950.3 615m0 0L950.5 583m0 0L950.7 602m0 0L951.0 613m0 0L951.2 583m0 0L951.4 604m0 0L951.6 585m0 0L951.8 603m0 0L952.0 585m0 0L952.2 589m0 0L952.5 594m0 0L952.7 605m0 0L952.9 605m0 0L953.1 599m0 0L953.3 610m0 0L953.5 615m0 0L953.8 595m0 0L954.0 598m0 0L954.2 568m0 0L954.4 556m0 0L954.6 597m0 0L954.8 578m0 0L955.1 601m0 0L955.3 597m0 0L955.5 598m0 0L955.7 597m0 0L955.9 603m0 0L956.1 582m0 0L956.4 586m0 0L956.6 599m0 0L956.8 583m0 0L957.0 574m0 0L957.2 609m0 0L957.4 585m0 0L957.7 595m0 0L957.9 602m0 0L958.1 584m0 0L958.3 579m0 0L958.5 595m0 0L958.7 597m0 0L958.9 612m0 0L959.2 580m0 0L959.4 590m0 0L959.6 586m0 0L959.8 581m0 0L960.0 610m0 0L960.2 617m0 0L960.5 596m0 0L960.7 614m0 0L960.9 583m0 0L961.1 592m0 0L961.3 614m0 0L961.5 614m0 0L961.8 600m0 0L962.0 607m0 0L962.2 608m0 0L962.4 597m0 0L962.6 572m0 0L962.8 602m0 0L963.1 593m0 0L963.3 597m0 0L963.5 584m0 0L963.7 604m0 0L963.9 592m0 0L964.1 594m0 0L964.3 565m0 0L964.6 615m0 0L964.8 600m0 0L965.0 608m0 0L965.2 571m0 0L965.4 568m0 0L965.6 599m0 0L965.9 588m0 0L966.1 592m0 0L966.3 591m0 0L966.5 588m0 0L966.7 608m0 0L966.9 589m0 0L967.2 586m0 0L967.4 570m0 0L967.6 582m0 0L967.8 598m0 0L968.0 599m0 0L968.2 603m0 0L968.5 565m0 0L968.7 604m0 0L968.9 555m0 0L969.1 596m0 0L969.3 579m0 0L969.5 582m0 0L969.8 578m0 0L970.0 612m0 0L970.2 600m0 0L970.4 595m0 0" fill="none" stroke="#5555ff" stroke-width="2.7" stroke-dasharray="1.2,6.8" stroke-linecap="round"/>
<path d="M63 682.5H971.9" stroke="#5555ff" stroke-width="3" shape-rendering="crispEdges"/>
<polyline points="63.0,198.1 970.4,198.1 970.4,465.3" fill="none" stroke="#ff5555" stroke-width="1" shape-rendering="crispEdges"/>
<path d="M63.0 198L63.1 180m0 0L63.3 201m0 0L63.4 184m0 0L63.5 197m0 0L63.7 180m0 0L63.8 175m0 0L63.9 167m0 0L64.1 187m0 0L64.2 184m0 0L64.3 176m0 0L64.5 181m0 0L64.6 178m0 0L64.7 164m0 0L64.9 182m0 0L65.0 178m0 0L65.1 144m0 0L65.3 181m0 0L65.4 174m0 0L65.5 163m0 0L65.7 169m0 0L65.8 158m0 0L65.9 162m0 0L66.1 152m0 0L66.2 161m0 0L66.3 149m0 0L66.5 158m0 0L66.6 159m0 0L66.7 161m0 0L66.9 156m0 0L67.0 151m0 0L67.1 156m0 0L67.3 148m0 0L67.4 149m0 0L67.5 152m0 0L67.7 155m0 0L67.8 162m0 0L67.9 162m0 0L68.1 145m0 0L68.2 141m0 0L68.3 168m0 0L68.5 133m0 0L68.6 154m0 0L68.7 157m0 0L68.9 153m0 0L69.0 166m0 0L69.1 161m0 0L69.3 146m0 0L69.4 153m0 0L69.5 145m0 0L69.7 151m0 0L69.8 139m0 0L69.9 160m0 0L70.1 150m0 0L70.2 157m0 0L70.3 152m0 0L70.5 143m0 0L70.6 141m0 0L70.7 149m0 0L70.9 144m0 0L71.0 162m0 0L71.1 152m0 0L71.3 140m0 0L71.4 140m0 0L71.5 158m0 0L71.7 144m0 0L71.8 163m0 0L71.9 136m0 0L72.1 156m0 0L72.2 152m0 0L72.3 140m0 0L72.5 142m0 0L72.6 155m0 0L72.7 149m0 0L72.9 133m0 0L73.0 144m0 0L73.1 160m0 0L73.3 123m0 0L73.4 142m0 0L73.5 153m0 0L73.7 167m0 0L73.8 158m0 0L73.9 155m0 0L74.1 148m0 0L74.2 157m0 0L74.3 147m0 0L74.5 147m0 0L74.6 122m0 0L74.7 135m0 0L74.9 145m0 0L75.0 152m0 0L75.1 167m0 0L75.3 164m0 0L75.4 143m0 0L75.5 133m0 0L75.7 135m0 0L75.8 153m0 0L75.9 148m0 0L76.1 142m0 0L76.2 156m0 0L76.3 138m0 0L76.5 141m0 0L76.6 136m0 0L76.7 135m0 0L76.9 136m0 0L77.0 152m0 0L77.1 160m0 0L77.3 140m0 0L77.4 154m0 0L77.5 153m0 0L77.7 141m0 0L77.8 146m0 0L77.9 139m0 0L78.1 127m0 0L78.2 146m0 0L78.3 153m0 0L78.5 143m0 0L78.6 143m0 0L78.7 127m0 0L78.9 136m0 0L79.0 144m0 0L79.1 149m0 0L79.3 132m0 0L79.4 150m0 0L79.5 156m0 0L79.7 164m0 0L79.8 135m0 0L79.9 144m0 0L80.1 138m0 0L80.2 150m0 0L80.3 153m0 0L80.5 148m0 0L80.6 146m0 0L80.8 154m0 0L80.9 130m0 0L81.0 133m0 0L81.2 119m0 0L81.3 143m0 0L81.4 139m0 0L81.6 135m0 0L81.7 141m0 0L81.8 134m0 0L82.0 144m0 0L82.1 153m0 0L82.2 144m0 0L82.4 138m0 0L82.5 140m0 0L82.6 157m0 0L82.8 151m0 0L82.9 140m0 0L83.0 147m0 0L83.2 143m0 0L83.3 136m0 0L83.4 155m0 0L83.6 142m0 0L83.7 145m0 0L83.8 148m0 0L84.0 140m0 0L84.1 158m0 0L84.2 135m0 0L84.4 147m0 0L84.5 142m0 0L84.6 144m0 0L84.8 148m0 0L84.9 137m0 0L85.0 155m0 0L85.2 147m0 0L85.3 144m0 0L85.4 141m0 0L85.6 132m0 0L85.7 138m0 0L85.8 130m0 0L86.0 139m0 0L86.1 157m0 0L86.2 148m0 0L86.4 135m0 0L86.5 133m0 0L86.6 141m0 0L86.8 146m0 0L86.9 143m0 0L87.0 145m0 0L87.2 145m0 0L87.3 135m0 0L87.4 153m0 0L87.6 144m0 0L87.7 138m0 0L87.8 149m0 0L88.0 135m0 0L88.1 150m0 0L88.2 155m0 0L88.4 153m0 0L88.5 128m0 0L88.6 120m0 0L88.8 135m0 0L88.9 147m0 0L89.0 148m0 0L89.2 140m0 0L89.3 136m0 0L89.4 135m0 0L89.6 147m0 0L89.7 140m0 0L89.8 142m0 0L90.0 140m0 0L90.1 155m0 0L90.2 140m0 0L90.4 137m0 0L90.5 143m0 0L90.6 144m0 0L90.8 147m0 0L90.9 140m0 0L91.0 163m0 0L91.2 140m0 0L91.3 142m0 0L91.4 128m0 0L91.6 138m0 0L91.7 136m0 0L91.8 118m0 0L92.0 148m0 0L92.1 111m0 0L92.2 152m0 0L92.4 156m0 0L92.5 148m0 0L92.6 133m0 0L92.8 144m0 0L92.9 126m0 0L93.0 154m0 0L93.2 142m0 0L93.3 135m0 0L93.4 120m0 0L93.6 144m0 0L93.7 152m0 0L93.8 136m0 0L94.0 144m0 0L94.1 129m0 0L94.2 138m0 0L94.4 130m0 0L94.5 143m0 0L94.6 164m0 0L94.8 151m0 0L94.9 148m0 0L95.0 132m0 0L95.2 137m0 0L95.3 137m0 0L95.4 138m0 0L95.6 122m0 0L95.7 132m0 0L95.8 145m0 0L96.0 139m0 0L96.1 162m0 0L96.2 140m0 0L96.4 150m0 0L96.5 142m0 0L96.6 142m0 0L96.8 140m0 0L96.9 150m0 0L97.0 139m0 0L97.2 147m0 0L97.3 144m0 0L97.4 126m0 0L97.6 147m0 0L97.7 153m0 0L97.8 146m0 0L98.0 133m0 0L98.1 152m0 0L98.2 124m0 0L98.4 125m0 0L98.5 145m0 0L98.6 135m0 0L98.8 130m0 0L98.9 144m0 0L99.0 148m0 0L99.2 142m0 0L99.3 139m0 0L99.4 145m0 0L99.6 142m0 0L99.7 142m0 0L99.8 137m0 0L100.0 135m0 0L100.1 125m0 0L100.2 135m0 0L100.4 145m0 0L100.5 138m0 0L100.6 149m0 0L100.8 143m0 0L100.9 144m0 0L101.0 130m0 0L101.2 140m0 0L101.3 145m0 0L101.4 131m0 0L101.6 128m0 0L101.7 136m0 0L101.8 149m0 0L102.0 158m0 0L102.1 137m0 0L102.2 137m0 0L102.4 124m0 0L102.5 142m0 0L102.6 148m0 0L102.8 141m0 0L102.9 143m0 0L103.0 143m0 0L103.2 149m0 0L103.3 127m0 0L103.4 134m0 0L103.6 134m0 0L103.7 153m0 0L103.8 146m0 0L104.0 139m0 0L104.1 134m0 0L104.2 129m0 0L104.4 134m0 0L104.5 155m0 0L104.6 137m0 0L104.8 151m0 0L104.9 146m0 0L105.0 146m0 0L105.2 129m0 0L105.3 146m0 0L105.4 144m0 0L105.6 138m0 0L105.7 133m0 0L105.8 143m0 0L106.0 152m0 0L106.1 135m0 0L106.2 140m0 0L106.4 141m0 0L106.5 131m0 0L106.6 151m0 0L106.8 142m0 0L106.9 133m0 0L107.0 154m0 0L107.2 151m0 0L107.3 127m0 0L107.4 150m0 0L107.6 141m0 0L107.7 135m0 0L107.8 127m0 0L108.0 128m0 0L108.1 144m0 0L108.2 126m0 0L108.4 131m0 0L108.5 149m0 0L108.6 145m0 0L108.8 131m0 0L108.9 151m0 0L109.0 132m0 0L109.2 139m0 0L109.3 149m0 0L109.4 146m0 0L109.6 133m0 0L109.7 150m0 0L109.8 133m0 0L110.0 114m0 0L110.1 137m0 0L110.2 133m0 0L110.4 132m0 0L110.5 138m0 0L110.6 145m0 0L110.8 126m0 0L110.9 137m0 0L111.0 140m0 0L111.2 154m0 0L111.3 138m0 0L111.4 136m0 0L111.6 137m0 0L111.7 151m0 0L111.8 160m0 0L112.0 147m0 0L112.1 142m0 0L112.2 141m0 0L112.4 167m0 0L112.5 128m0 0L112.6 130m0 0L112.8 134m0 0L112.9 139m0 0L113.0 145m0 0L113.2 133m0 0L113.3 129m0 0L113.4 135m0 0L113.6 143m0 0L113.7 149m0 0L113.8 139m0 0L114.0 146m0 0L114.1 128m0 0L114.2 138m0 0L114.4 149m0 0L114.5 146m0 0L114.6 136m0 0L114.8 139m0 0L114.9 158m0 0L115.0 130m0 0L115.2 155m0 0L115.3 146m0 0L115.5 128m0 0L115.6 149m0 0L115.7 127m0 0L115.9 144m0 0L116.0 145m0 0L116.1 135m0 0L116.3 121m0 0L116.4 142m0 0L116.5 132m0 0L116.7 141m0 0L116.8 136m0 0L116.9 147m0 0L117.1 128m0 0L117.2 150m0 0L117.3 139m0 0L117.5 141m0 0L117.6 111m0 0L117.7 142m0 0L117.9 149m0 0L118.0 142m0 0L118.1 139m0 0L118.3 139m0 0L118.4 137m0 0L118.5 123m0 0L118.7 150m0 0L118.8 128m0 0L118.9 141m0 0L119.1 148m0 0L119.2 151m0 0L119.3 141m0 0L119.5 122m0 0L119.6 140m0 0L119.7 114m0 0L119.9 145m0 0L120.0 142m0 0L120.1 148m0 0L120.3 131m0 0L120.4 143m0 0L120.5 155m0 0L120.7 129m0 0L120.8 139m0 0L120.9 142m0 0L121.1 142m0 0L121.2 147m0 0L121.3 132m0 0L121.5 136m0 0L121.6 151m0 0L121.7 127m0 0L121.9 138m0 0L122.0 119m0 0L122.1 145m0 0L122.3 136m0 0L122.4 138m0 0L122.5 136m0 0L122.7 137m0 0L122.8 140m0 0L122.9 141m0 0L123.1 131m0 0L123.2 152m0 0L123.3 150m0 0L123.5 129m0 0L123.6 128m0 0L123.7 133m0 0L123.9 124m0 0L124.0 124m0 0L124.1 136m0 0L124.3 133m0 0L124.4 137m0 0L124.5 125m0 0L124.7 129m0 0L124.8 133m0 0L124.9 144m0 0L125.1 141m0 0L125.2 135m0 0L125.3 135m0 0L125.5 138m0 0L125.6 125m0 0L125.7 146m0 0L125.9 145m0 0L126.0 125m0 0L126.1 139m0 0L126.3 152m0 0L126.4 128m0 0L126.5 133m0 0L126.7 128m0 0L126.8 135m0 0L126.9 132m0 0L127.1 144m0 0L127.2 134m0 0L127.3 141m0 0L127.5 143m0 0L127.6 148m0 0L127.7 140m0 0L127.9 150m0 0L128.0 131m0 0L128.1 147m0 0L128.3 138m0 0L128.4 143m0 0L128.5 135m0 0L128.7 134m0 0L128.8 131m0 0L128.9 139m0 0L129.1 138m0 0L129.2 126m0 0L129.3 138m0 0L129.5 124m0 0L129.6 157m0 0L129.7 148m0 0L129.9 133m0 0L130.0 134m0 0L130.1 132m0 0L130.3 146m0 0L130.4 144m0 0L130.5 137m0 0L130.7 142m0 0L130.8 131m0 0L130.9 132m0 0L131.1 150m0 0L131.2 136m0 0L131.3 125m0 0L131.5 130m0 0L131.6 143m0 0L131.7 135m0 0L131.9 129m0 0L132.0 120m0 0L132.1 135m0 0L132.3 119m0 0L132.4 140m0 0L132.5 137m0 0L132.7 130m0 0L132.8 138m0 0L132.9 114m0 0L133.1 144m0 0L133.2 132m0 0L133.3 149m0 0L133.5 131m0 0L133.6 101m0 0L133.7 133m0 0L133.9 120m0 0L134.0 140m0 0L134.1 125m0 0L134.3 144m0 0L134.4 139m0 0L134.5 133m0 0L134.7 142m0 0L134.8 140m0 0L134.9 133m0 0L135.1 117m0 0L135.2 141m0 0L135.3 138m0 0L135.5 131m0 0L135.6 152m0 0L135.7 122m0 0L135.9 127m0 0L136.0 131m0 0L136.1 138m0 0L136.3 131m0 0L136.4 140m0 0L136.5 154m0 0L136.7 123m0 0L136.8 145m0 0L136.9 146m0 0L137.1 123m0 0L137.2 141m0 0L137.3 144m0 0L137.5 134m0 0L137.6 141m0 0L137.7 139m0 0L137.9 153m0 0L138.0 129m0 0L138.1 123m0 0L138.3 127m0 0L138.4 131m0 0L138.5 137m0 0L138.7 147m0 0L138.8 127m0 0L138.9 128m0 0L139.1 129m0 0L139.2 128m0 0L139.3 138m0 0L139.5 109m0 0L139.6 139m0 0L139.7 134m0 0L139.9 139m0 0L140.0 141m0 0L140.1 141m0 0L140.3 140m0 0L140.4 135m0 0L140.5 105m0 0L140.7 123m0 0L140.8 123m0 0L140.9 137m0 0L141.1 149m0 0L141.2 127m0 0L141.3 142m0 0L141.5 127m0 0L141.6 140m0 0L141.7 132m0 0L141.9 147m0 0L142.0 152m0 0L142.1 134m0 0L142.3 145m0 0L142.4 146m0 0L142.5 144m0 0L142.7 141m0 0L142.8 130m0 0L142.9 134m0 0L143.1 136m0 0L143.2 140m0 0L143.3 132m0 0L143.5 134m0 0L143.6 127m0 0L143.7 124m0 0L143.9 154m0 0L144.0 143m0 0L144.1 137m0 0L144.3 130m0 0L144.4 138m0 0L144.5 153m0 0L144.7 131m0 0L144.8 140m0 0L144.9 147m0 0L145.1 138m0 0L145.2 142m0 0L145.3 142m0 0L145.5 140m0 0L145.6 147m0 0L145.7 119m0 0L145.9 157m0 0L146.0 124m0 0L146.1 128m0 0L146.3 131m0 0L146.4 137m0 0L146.5 120m0 0L146.7 129m0 0L146.8 132m0 0L146.9 140m0 0L147.1 116m0 0L147.2 137m0 0L147.3 152m0 0L147.5 124m0 0L147.6 142m0 0L147.7 131m0 0L147.9 129m0 0L148.0 146m0 0L148.1 152m0 0L148.3 129m0 0L148.4 128m0 0L148.5 128m0 0L148.7 137m0 0L148.8 132m0 0L148.9 130m0 0L149.1 148m0 0L149.2 138m0 0L149.3 139m0 0L149.5 131m0 0L149.6 155m0 0L149.7 115m0 0L149.9 123m0 0L150.0 127m0 0L150.1 128m0 0L150.3 133m0 0L150.4 144m0 0L150.6 124m0 0L150.7 135m0 0L150.8 138m0 0L151.0 147m0 0L151.1 120m0 0L151.2 147m0 0L151.4 113m0 0L151.5 159m0 0L151.6 134m0 0L151.8 133m0 0L151.9 141m0 0L152.0 147m0 0L152.2 143m0 0L152.3 126m0 0L152.4 136m0 0L152.6 126m0 0L152.7 127m0 0L152.8 157m0 0L153.0 137m0 0L153.1 137m0 0L153.2 139m0 0L153.4 140m0 0L153.5 122m0 0L153.6 117m0 0L153.8 117m0 0L153.9 112m0 0L154.0 136m0 0L154.2 135m0 0L154.3 132m0 0L154.4 130m0 0L154.6 130m0 0L154.7 122m0 0L154.8 145m0 0L155.0 129m0 0L155.1 142m0 0L155.2 136m0 0L155.4 127m0 0L155.5 134m0 0L155.6 136m0 0L155.8 138m0 0L155.9 134m0 0L156.0 138m0 0L156.2 132m0 0L156.3 133m0 0L156.4 153m0 0L156.6 130m0 0L156.7 135m0 0L156.8 118m0 0L157.0 146m0 0L157.1 149m0 0L157.2 140m0 0L157.4 137m0 0L157.5 129m0 0L157.6 133m0 0L157.8 148m0 0L157.9 136m0 0L158.0 138m0 0L158.2 155m0 0L158.3 129m0 0L158.4 122m0 0L158.6 134m0 0L158.7 140m0 0L158.8 136m0 0L159.0 125m0 0L159.1 143m0 0L159.2 133m0 0L159.4 132m0 0L159.5 129m0 0L159.6 131m0 0L159.8 125m0 0L159.9 135m0 0L160.0 134m0 0L160.2 133m0 0L160.3 125m0 0L160.4 145m0 0L160.6 114m0 0L160.7 143m0 0L160.8 110m0 0L161.0 128m0 0L161.1 133m0 0L161.2 138m0 0L161.4 132m0 0L161.5 145m0 0L161.6 137m0 0L161.8 145m0 0L161.9 127m0 0L162.0 124m0 0L162.2 142m0 0L162.3 125m0 0L162.4 137m0 0L162.6 128m0 0L162.7 149m0 0L162.8 136m0 0L163.0 144m0 0L163.1 136m0 0L163.2 138m0 0L163.4 140m0 0L163.5 122m0 0L163.6 126m0 0L163.8 138m0 0L163.9 140m0 0L164.0 139m0 0L164.2 125m0 0L164.3 138m0 0L164.4 130m0 0L164.6 138m0 0L164.7 133m0 0L164.8 126m0 0L165.0 120m0 0L165.1 132m0 0L165.2 116m0 0L165.4 139m0 0L165.5 133m0 0L165.6 138m0 0L165.8 120m0 0L165.9 140m0 0L166.0 128m0 0L166.2 129m0 0L166.3 130m0 0L166.4 146m0 0L166.6 141m0 0L166.7 132m0 0L166.8 122m0 0L167.0 128m0 0L167.1 147m0 0L167.2 151m0 0L167.4 127m0 0L167.5 137m0 0L167.6 137m0 0L167.8 129m0 0L167.9 147m0 0L168.0 141m0 0L168.2 142m0 0L168.3 135m0 0L168.4 138m0 0L168.6 140m0 0L168.7 147m0 0L168.8 144m0 0L169.0 145m0 0L169.1 147m0 0L169.2 136m0 0L169.4 147m0 0L169.5 113m0 0L169.6 134m0 0L169.8 140m0 0L169.9 139m0 0L170.0 132m0 0L170.2 137m0 0L170.3 116m0 0L170.4 147m0 0L170.6 137m0 0L170.7 138m0 0L170.8 143m0 0L171.0 131m0 0L171.1 145m0 0L171.2 140m0 0L171.4 124m0 0L171.5 129m0 0L171.6 125m0 0L171.8 125m0 0L171.9 112m0 0L172.0 117m0 0L172.2 140m0 0L172.3 134m0 0L172.4 130m0 0L172.6 122m0 0L172.7 137m0 0L172.8 136m0 0L173.0 116m0 0L173.1 143m0 0L173.2 141m0 0L173.4 135m0 0L173.5 133m0 0L173.6 140m0 0L173.8 130m0 0L173.9 137m0 0L174.0 127m0 0L174.2 139m0 0L174.3 129m0 0L174.4 131m0 0L174.6 135m0 0L174.7 131m0 0L174.8 127m0 0L175.0 140m0 0L175.1 134m0 0L175.2 148m0 0L175.4 123m0 0L175.5 131m0 0L175.6 133m0 0L175.8 126m0 0L175.9 131m0 0L176.0 138m0 0L176.2 122m0 0L176.3 145m0 0L176.4 121m0 0L176.6 121m0 0L176.7 124m0 0L176.8 135m0 0L177.0 146m0 0L177.1 134m0 0L177.2 145m0 0L177.4 135m0 0L177.5 141m0 0L177.6 137m0 0L177.8 132m0 0L177.9 153m0 0L178.0 135m0 0L178.2 141m0 0L178.3 121m0 0L178.4 133m0 0L178.6 119m0 0L178.7 134m0 0L178.8 111m0 0L179.0 137m0 0L179.1 112m0 0L179.2 118m0 0L179.4 131m0 0L179.5 119m0 0L179.6 125m0 0L179.8 135m0 0L179.9 141m0 0L180.0 127m0 0L180.2 113m0 0L180.3 138m0 0L180.4 127m0 0L180.6 138m0 0L180.7 142m0 0L180.8 131m0 0L181.0 154m0 0L181.1 135m0 0L181.2 135m0 0L181.4 135m0 0L181.5 135m0 0L181.6 120m0 0L181.8 146m0 0L181.9 130m0 0L182.0 129m0 0L182.2 133m0 0L182.3 147m0 0L182.4 133m0 0L182.6 142m0 0L182.7 113m0 0L182.8 132m0 0L183.0 140m0 0L183.1 135m0 0L183.2 146m0 0L183.4 142m0 0L183.5 134m0 0L183.6 141m0 0L183.8 138m0 0L183.9 134m0 0L184.0 146m0 0L184.2 129m0 0L184.3 128m0 0L184.4 130m0 0L184.6 124m0 0L184.7 140m0 0L184.8 120m0 0L185.0 140m0 0L185.1 130m0 0L185.3 122m0 0L185.4 122m0 0L185.5 129m0 0L185.7 124m0 0L185.8 135m0 0L185.9 148m0 0L186.1 123m0 0L186.2 117m0 0L186.3 127m0 0L186.5 136m0 0L186.6 134m0 0L186.7 123m0 0L186.9 141m0 0L187.0 147m0 0L187.1 134m0 0L187.3 125m0 0L187.4 122m0 0L187.5 127m0 0L187.7 134m0 0L187.8 131m0 0L187.9 134m0 0L188.1 125m0 0L188.2 135m0 0L188.3 138m0 0L188.5 115m0 0L188.6 137m0 0L188.7 134m0 0L188.9 149m0 0L189.0 130m0 0L189.1 130m0 0L189.3 141m0 0L189.4 121m0 0L189.5 135m0 0L189.7 114m0 0L189.8 144m0 0L189.9 141m0 0L190.1 130m0 0L190.2 148m0 0L190.3 127m0 0L190.5 133m0 0L190.6 141m0 0L190.7 147m0 0L190.9 141m0 0L191.0 140m0 0L191.1 134m0 0L191.3 151m0 0L191.4 127m0 0L191.5 122m0 0L191.7 134m0 0L191.8 132m0 0L191.9 122m0 0L192.1 144m0 0L192.2 135m0 0L192.3 120m0 0L192.5 128m0 0L192.6 118m0 0L192.7 141m0 0L192.9 125m0 0L193.0 141m0 0L193.1 129m0 0L193.3 116m0 0L193.4 151m0 0L193.5 114m0 0L193.7 143m0 0L193.8 129m0 0L193.9 133m0 0L194.1 122m0 0L194.2 134m0 0L194.3 122m0 0L194.5 140m0 0L194.6 131m0 0L194.7 112m0 0L194.9 148m0 0L195.0 147m0 0L195.1 129m0 0L195.3 123m0 0L195.4 130m0 0L195.5 133m0 0L195.7 127m0 0L195.8 136m0 0L195.9 142m0 0L196.1 133m0 0L196.2 139m0 0L196.3 113m0 0L196.5 131m0 0L196.6 138m0 0L196.7 135m0 0L196.9 142m0 0L197.0 144m0 0L197.1 122m0 0L197.3 131m0 0L197.4 138m0 0L197.5 129m0 0L197.7 150m0 0L197.8 137m0 0L197.9 141m0 0L198.1 128m0 0L198.2 122m0 0L198.3 127m0 0L198.5 135m0 0L198.6 117m0 0L198.7 126m0 0L198.9 127m0 0L199.0 127m0 0L199.1 143m0 0L199.3 122m0 0L199.4 125m0 0L199.5 121m0 0L199.7 134m0 0L199.8 127m0 0L199.9 138m0 0L200.1 141m0 0L200.2 139m0 0L200.3 127m0 0L200.5 149m0 0L200.6 135m0 0L200.7 134m0 0L200.9 116m0 0L201.0 131m0 0L201.1 132m0 0L201.3 135m0 0L201.4 145m0 0L201.5 132m0 0L201.7 122m0 0L201.8 129m0 0L201.9 150m0 0L202.1 117m0 0L202.2 132m0 0L202.3 132m0 0L202.5 136m0 0L202.6 105m0 0L202.7 136m0 0L202.9 141m0 0L203.0 145m0 0L203.1 109m0 0L203.3 130m0 0L203.4 128m0 0L203.5 136m0 0L203.7 125m0 0L203.8 131m0 0L203.9 131m0 0L204.1 139m0 0L204.2 125m0 0L204.3 125m0 0L204.5 156m0 0L204.6 130m0 0L204.7 144m0 0L204.9 142m0 0L205.0 130m0 0L205.1 138m0 0L205.3 125m0 0L205.4 126m0 0L205.5 127m0 0L205.7 132m0 0L205.8 120m0 0L205.9 125m0 0L206.1 126m0 0L206.2 156m0 0L206.3 124m0 0L206.5 130m0 0L206.6 121m0 0L206.7 91m0 0L206.9 130m0 0L207.0 139m0 0L207.1 130m0 0L207.3 129m0 0L207.4 128m0 0L207.5 128m0 0L207.7 136m0 0L207.8 153m0 0L207.9 142m0 0L208.1 124m0 0L208.2 128m0 0L208.3 130m0 0L208.5 140m0 0L208.6 145m0 0L208.7 136m0 0L208.9 122m0 0L209.0 132m0 0L209.1 120m0 0L209.3 131m0 0L209.4 135m0 0L209.5 121m0 0L209.7 140m0 0L209.8 134m0 0L209.9 130m0 0L210.1 138m0 0L210.2 135m0 0L210.3 138m0 0L210.5 140m0 0L210.6 133m0 0L210.7 136m0 0L210.9 117m0 0L211.0 135m0 0L211.1 115m0 0L211.3 125m0 0L211.4 139m0 0L211.5 126m0 0L211.7 133m0 0L211.8 130m0 0L211.9 150m0 0L212.1 129m0 0L212.2 149m0 0L212.3 121m0 0L212.5 120m0 0L212.6 130m0 0L212.7 138m0 0L212.9 157m0 0L213.0 134m0 0L213.1 124m0 0L213.3 126m0 0L213.4 123m0 0L213.5 124m0 0L213.7 123m0 0L213.8 123m0 0L213.9 136m0 0L214.1 142m0 0L214.2 143m0 0L214.3 117m0 0L214.5 132m0 0L214.6 132m0 0L214.7 145m0 0L214.9 139m0 0L215.0 130m0 0L215.1 137m0 0L215.3 134m0 0L215.4 121m0 0L215.5 115m0 0L215.7 112m0 0L215.8 130m0 0L215.9 140m0 0L216.1 133m0 0L216.2 133m0 0L216.3 122m0 0L216.5 142m0 0L216.6 126m0 0L216.7 144m0 0L216.9 143m0 0L217.0 142m0 0L217.1 130m0 0L217.3 144m0 0L217.4 141m0 0L217.5 122m0 0L217.7 153m0 0L217.8 132m0 0L217.9 142m0 0L218.1 136m0 0L218.2 125m0 0L218.3 136m0 0L218.5 134m0 0L218.6 140m0 0L218.7 125m0 0L218.9 143m0 0L219.0 137m0 0L219.1 116m0 0L219.3 115m0 0L219.4 136m0 0L219.5 127m0 0L219.7 119m0 0L219.8 133m0 0L219.9 126m0 0L220.1 136m0 0L220.2 133m0 0L220.4 129m0 0L220.5 127m0 0L220.6 121m0 0L220.8 111m0 0L220.9 127m0 0L221.0 138m0 0L221.2 135m0 0L221.3 132m0 0L221.4 133m0 0L221.6 143m0 0L221.7 122m0 0L221.8 150m0 0L222.0 139m0 0L222.1 129m0 0L222.2 139m0 0L222.4 152m0 0L222.5 120m0 0L222.6 130m0 0L222.8 120m0 0L222.9 128m0 0L223.0 135m0 0L223.2 125m0 0L223.3 117m0 0L223.4 133m0 0L223.6 123m0 0L223.7 122m0 0L223.8 139m0 0L224.0 135m0 0L224.1 128m0 0L224.2 147m0 0L224.4 142m0 0L224.5 130m0 0L224.6 140m0 0L224.8 128m0 0L224.9 131m0 0L225.0 139m0 0L225.2 126m0 0L225.3 144m0 0L225.4 124m0 0L225.6 131m0 0L225.7 148m0 0L225.8 115m0 0L226.0 121m0 0L226.1 130m0 0L226.2 122m0 0L226.4 124m0 0L226.5 139m0 0L226.6 130m0 0L226.8 115m0 0L226.9 117m0 0L227.0 132m0 0L227.2 134m0 0L227.3 142m0 0L227.4 137m0 0L227.6 124m0 0L227.7 131m0 0L227.8 132m0 0L228.0 139m0 0L228.1 134m0 0L228.2 133m0 0L228.4 119m0 0L228.5 126m0 0L228.6 117m0 0L228.8 119m0 0L228.9 129m0 0L229.0 114m0 0L229.2 124m0 0L229.3 128m0 0L229.4 140m0 0L229.6 134m0 0L229.7 136m0 0L229.8 127m0 0L230.0 116m0 0L230.1 118m0 0L230.2 135m0 0L230.4 108m0 0L230.5 134m0 0L230.6 125m0 0L230.8 131m0 0L230.9 145m0 0L231.0 135m0 0L231.2 137m0 0L231.3 135m0 0L231.4 135m0 0L231.6 135m0 0L231.7 151m0 0L231.8 133m0 0L232.0 145m0 0L232.1 127m0 0L232.2 139m0 0L232.4 143m0 0L232.5 134m0 0L232.6 135m0 0L232.8 115m0 0L232.9 127m0 0L233.0 128m0 0L233.2 139m0 0L233.3 126m0 0L233.4 130m0 0L233.6 128m0 0L233.7 118m0 0L233.8 130m0 0L234.0 124m0 0L234.1 119m0 0L234.2 136m0 0L234.4 124m0 0L234.5 133m0 0L234.6 122m0 0L234.8 136m0 0L234.9 130m0 0L235.0 134m0 0L235.2 127m0 0L235.3 130m0 0L235.4 136m0 0L235.6 123m0 0L235.7 135m0 0L235.8 140m0 0L236.0 136m0 0L236.1 139m0 0L236.2 133m0 0L236.4 124m0 0L236.5 139m0 0L236.6 126m0 0L236.8 117m0 0L236.9 134m0 0L237.0 134m0 0L237.2 133m0 0L237.3 138m0 0L237.4 136m0 0L237.6 119m0 0L237.7 139m0 0L237.8 130m0 0L238.0 148m0 0L238.1 121m0 0L238.2 114m0 0L238.4 148m0 0L238.5 132m0 0L238.6 121m0 0L238.8 122m0 0L238.9 133m0 0L239.0 139m0 0L239.2 139m0 0L239.3 132m0 0L239.4 136m0 0L239.6 126m0 0L239.7 111m0 0L239.8 109m0 0L240.0 142m0 0L240.1 119m0 0L240.2 147m0 0L240.4 129m0 0L240.5 135m0 0L240.6 130m0 0L240.8 104m0 0L240.9 122m0 0L241.0 109m0 0L241.2 128m0 0L241.3 132m0 0L241.4 122m0 0L241.6 139m0 0L241.7 127m0 0L241.8 128m0 0L242.0 147m0 0L242.1 129m0 0L242.2 134m0 0L242.4 133m0 0L242.5 130m0 0L242.6 132m0 0L242.8 126m0 0L242.9 127m0 0L243.0 124m0 0L243.2 132m0 0L243.3 133m0 0L243.4 136m0 0L243.6 137m0 0L243.7 149m0 0L243.8 124m0 0L244.0 148m0 0L244.1 125m0 0L244.2 133m0 0L244.4 129m0 0L244.5 122m0 0L244.6 114m0 0L244.8 133m0 0L244.9 128m0 0L245.0 140m0 0L245.2 133m0 0L245.3 130m0 0L245.4 149m0 0L245.6 130m0 0L245.7 118m0 0L245.8 107m0 0L246.0 136m0 0L246.1 119m0 0L246.2 120m0 0L246.4 133m0 0L246.5 155m0 0L246.6 116m0 0L246.8 123m0 0L246.9 130m0 0L247.0 128m0 0L247.2 141m0 0L247.3 134m0 0L247.4 141m0 0L247.6 132m0 0L247.7 125m0 0L247.8 147m0 0L248.0 150m0 0L248.1 113m0 0L248.2 138m0 0L248.4 123m0 0L248.5 140m0 0L248.6 136m0 0L248.8 122m0 0L248.9 121m0 0L249.0 131m0 0L249.2 134m0 0L249.3 124m0 0L249.4 152m0 0L249.6 133m0 0L249.7 111m0 0L249.8 128m0 0L250.0 122m0 0L250.1 148m0 0L250.2 129m0 0L250.4 104m0 0L250.5 136m0 0L250.6 132m0 0L250.8 117m0 0L250.9 124m0 0L251.0 138m0 0L251.2 143m0 0L251.3 157m0 0L251.4 128m0 0L251.6 138m0 0L251.7 105m0 0L251.8 127m0 0L252.0 126m0 0L252.1 143m0 0L252.2 136m0 0L252.4 120m0 0L252.5 139m0 0L252.6 142m0 0L252.8 123m0 0L252.9 142m0 0L253.0 142m0 0L253.2 125m0 0L253.3 124m0 0L253.4 128m0 0L253.6 136m0 0L253.7 125m0 0L253.8 134m0 0L254.0 134m0 0L254.1 129m0 0L254.2 119m0 0L254.4 130m0 0L254.5 128m0 0L254.6 116m0 0L254.8 133m0 0L254.9 131m0 0L255.1 151m0 0L255.2 131m0 0L255.3 139m0 0L255.5 119m0 0L255.6 159m0 0L255.7 124m0 0L255.9 121m0 0L256.0 124m0 0L256.1 127m0 0L256.3 138m0 0L256.4 134m0 0L256.5 112m0 0L256.7 133m0 0L256.8 135m0 0L256.9 145m0 0L257.1 118m0 0L257.2 117m0 0L257.3 139m0 0L257.5 122m0 0L257.6 137m0 0L257.7 141m0 0L257.9 141m0 0L258.0 132m0 0L258.1 137m0 0L258.3 128m0 0L258.4 129m0 0L258.5 132m0 0L258.7 131m0 0L258.8 125m0 0L258.9 133m0 0L259.1 133m0 0L259.2 121m0 0L259.3 142m0 0L259.5 120m0 0L259.6 118m0 0L259.7 123m0 0L259.9 126m0 0L260.0 112m0 0L260.1 132m0 0L260.3 126m0 0L260.4 126m0 0L260.5 140m0 0L260.7 123m0 0L260.8 133m0 0L260.9 127m0 0L261.1 110m0 0L261.2 124m0 0L261.3 143m0 0L261.5 134m0 0L261.6 126m0 0L261.7 123m0 0L261.9 142m0 0L262.0 133m0 0L262.1 131m0 0L262.3 136m0 0L262.4 126m0 0L262.5 108m0 0L262.7 132m0 0L262.8 123m0 0L262.9 134m0 0L263.1 124m0 0L263.2 134m0 0L263.3 130m0 0L263.5 130m0 0L263.6 130m0 0L263.7 119m0 0L263.9 116m0 0L264.0 124m0 0L264.1 126m0 0L264.3 139m0 0L264.4 135m0 0L264.5 127m0 0L264.7 133m0 0L264.8 128m0 0L264.9 130m0 0L265.1 125m0 0L265.2 124m0 0L265.3 130m0 0L265.5 125m0 0L265.6 137m0 0L265.7 123m0 0L265.9 141m0 0L266.0 115m0 0L266.1 119m0 0L266.3 131m0 0L266.4 125m0 0L266.5 137m0 0L266.7 136m0 0L266.8 127m0 0L266.9 138m0 0L267.1 125m0 0L267.2 143m0 0L267.3 130m0 0L267.5 125m0 0L267.6 122m0 0L267.7 132m0 0L267.9 129m0 0L268.0 131m0 0L268.1 136m0 0L268.3 123m0 0L268.4 146m0 0L268.5 133m0 0L268.7 124m0 0L268.8 136m0 0L268.9 133m0 0L269.1 139m0 0L269.2 122m0 0L269.3 127m0 0L269.5 155m0 0L269.6 120m0 0L269.7 121m0 0L269.9 130m0 0L270.0 140m0 0L270.1 131m0 0L270.3 138m0 0L270.4 152m0 0L270.5 144m0 0L270.7 127m0 0L270.8 122m0 0L270.9 128m0 0L271.1 142m0 0L271.2 126m0 0L271.3 144m0 0L271.5 134m0 0L271.6 130m0 0L271.7 127m0 0L271.9 128m0 0L272.0 140m0 0L272.1 145m0 0L272.3 130m0 0L272.4 138m0 0L272.5 117m0 0L272.7 125m0 0L272.8 133m0 0L272.9 117m0 0L273.1 127m0 0L273.2 119m0 0L273.3 106m0 0L273.5 119m0 0L273.6 127m0 0L273.7 130m0 0L273.9 123m0 0L274.0 144m0 0L274.1 137m0 0L274.3 111m0 0L274.4 138m0 0L274.5 123m0 0L274.7 146m0 0L274.8 134m0 0L274.9 127m0 0L275.1 135m0 0L275.2 127m0 0L275.3 142m0 0L275.5 132m0 0L275.6 119m0 0L275.7 125m0 0L275.9 134m0 0L276.0 126m0 0L276.1 130m0 0L276.3 134m0 0L276.4 133m0 0L276.5 137m0 0L276.7 126m0 0L276.8 123m0 0L276.9 144m0 0L277.1 116m0 0L277.2 132m0 0L277.3 137m0 0L277.5 134m0 0L277.6 134m0 0L277.7 128m0 0L277.9 132m0 0L278.0 142m0 0L278.1 145m0 0L278.3 126m0 0L278.4 133m0 0L278.5 138m0 0L278.7 135m0 0L278.8 127m0 0L278.9 117m0 0L279.1 137m0 0L279.2 130m0 0L279.3 125m0 0L279.5 124m0 0L279.6 128m0 0L279.7 144m0 0L279.9 136m0 0L280.0 140m0 0L280.1 131m0 0L280.3 132m0 0L280.4 135m0 0L280.5 128m0 0L280.7 128m0 0L280.8 126m0 0L280.9 126m0 0L281.1 136m0 0L281.2 121m0 0L281.3 135m0 0L281.5 138m0 0L281.6 133m0 0L281.7 133m0 0L281.9 134m0 0L282.0 133m0 0L282.1 119m0 0L282.3 132m0 0L282.4 124m0 0L282.5 119m0 0L282.7 132m0 0L282.8 138m0 0L282.9 144m0 0L283.1 137m0 0L283.2 109m0 0L283.3 139m0 0L283.5 135m0 0L283.6 121m0 0L283.7 129m0 0L283.9 148m0 0L284.0 117m0 0L284.1 123m0 0L284.3 121m0 0L284.4 119m0 0L284.5 115m0 0L284.7 108m0 0L284.8 129m0 0L284.9 126m0 0L285.1 139m0 0L285.2 126m0 0L285.3 135m0 0L285.5 126m0 0L285.6 115m0 0L285.7 127m0 0L285.9 129m0 0L286.0 140m0 0L286.1 133m0 0L286.3 122m0 0L286.4 127m0 0L286.5 130m0 0L286.7 140m0 0L286.8 135m0 0L286.9 117m0 0L287.1 118m0 0L287.2 131m0 0L287.3 125m0 0L287.5 131m0 0L287.6 136m0 0L287.7 126m0 0L287.9 133m0 0L288.0 135m0 0L288.1 129m0 0L288.3 119m0 0L288.4 123m0 0L288.5 127m0 0L288.7 125m0 0L288.8 146m0 0L288.9 128m0 0L289.1 141m0 0L289.2 113m0 0L289.3 113m0 0L289.5 150m0 0L289.6 131m0 0L289.7 122m0 0L289.9 125m0 0L290.0 149m0 0L290.2 128m0 0L290.3 131m0 0L290.4 135m0 0L290.6 145m0 0L290.7 126m0 0L290.8 118m0 0L291.0 117m0 0L291.1 120m0 0L291.2 110m0 0L291.4 125m0 0L291.5 132m0 0L291.6 136m0 0L291.8 134m0 0L291.9 135m0 0L292.0 137m0 0L292.2 128m0 0L292.3 126m0 0L292.4 133m0 0L292.6 135m0 0L292.7 125m0 0L292.8 124m0 0L293.0 130m0 0L293.1 136m0 0L293.2 142m0 0L293.4 116m0 0L293.5 126m0 0L293.6 128m0 0L293.8 127m0 0L293.9 128m0 0L294.0 117m0 0L294.2 141m0 0L294.3 125m0 0L294.4 148m0 0L294.6 141m0 0L294.7 133m0 0L294.8 122m0 0L295.0 114m0 0L295.1 135m0 0L295.2 134m0 0L295.4 139m0 0L295.5 118m0 0L295.6 130m0 0L295.8 133m0 0L295.9 139m0 0L296.0 121m0 0L296.2 130m0 0L296.3 131m0 0L296.4 131m0 0L296.6 140m0 0L296.7 131m0 0L296.8 152m0 0L297.0 151m0 0L297.1 128m0 0L297.2 133m0 0L297.4 124m0 0L297.5 138m0 0L297.6 133m0 0L297.8 126m0 0L297.9 138m0 0L298.0 141m0 0L298.2 131m0 0L298.3 138m0 0L298.4 145m0 0L298.6 118m0 0L298.7 129m0 0L298.8 136m0 0L299.0 129m0 0L299.1 135m0 0L299.2 151m0 0L299.4 139m0 0L299.5 118m0 0L299.6 127m0 0L299.8 134m0 0L299.9 118m0 0L300.0 136m0 0L300.2 124m0 0L300.3 122m0 0L300.4 137m0 0L300.6 136m0 0L300.7 118m0 0L300.8 121m0 0L301.0 129m0 0L301.1 142m0 0L301.2 127m0 0L301.4 133m0 0L301.5 130m0 0L301.6 135m0 0L301.8 134m0 0L301.9 132m0 0L302.0 138m0 0L302.2 127m0 0L302.3 139m0 0L302.4 114m0 0L302.6 139m0 0L302.7 122m0 0L302.8 134m0 0L303.0 132m0 0L303.1 129m0 0L303.2 125m0 0L303.4 111m0 0L303.5 113m0 0L303.6 129m0 0L303.8 123m0 0L303.9 135m0 0L304.0 139m0 0L304.2 120m0 0L304.3 132m0 0L304.4 133m0 0L304.6 119m0 0L304.7 132m0 0L304.8 123m0 0L305.0 119m0 0L305.1 123m0 0L305.2 137m0 0L305.4 117m0 0L305.5 126m0 0L305.6 115m0 0L305.8 109m0 0L305.9 125m0 0L306.0 142m0 0L306.2 121m0 0L306.3 129m0 0L306.4 138m0 0L306.6 118m0 0L306.7 131m0 0L306.8 129m0 0L307.0 134m0 0L307.1 141m0 0L307.2 124m0 0L307.4 139m0 0L307.5 129m0 0L307.6 128m0 0L307.8 135m0 0L307.9 114m0 0L308.0 126m0 0L308.2 127m0 0L308.3 130m0 0L308.4 132m0 0L308.6 125m0 0L308.7 120m0 0L308.8 145m0 0L309.0 125m0 0L309.1 118m0 0L309.2 122m0 0L309.4 134m0 0L309.5 111m0 0L309.6 152m0 0L309.8 125m0 0L309.9 133m0 0L310.0 126m0 0L310.2 143m0 0L310.3 131m0 0L310.4 121m0 0L310.6 128m0 0L310.7 136m0 0L310.8 129m0 0L311.0 132m0 0L311.1 116m0 0L311.2 133m0 0L311.4 119m0 0L311.5 127m0 0L311.6 117m0 0L311.8 119m0 0L311.9 135m0 0L312.0 119m0 0L312.2 142m0 0L312.3 131m0 0L312.4 119m0 0L312.6 135m0 0L312.7 101m0 0L312.8 130m0 0L313.0 140m0 0L313.1 120m0 0L313.2 127m0 0L313.4 130m0 0L313.5 133m0 0L313.6 131m0 0L313.8 107m0 0L313.9 126m0 0L314.0 119m0 0L314.2 135m0 0L314.3 123m0 0L314.4 127m0 0L314.6 130m0 0L314.7 129m0 0L314.8 113m0 0L315.0 115m0 0L315.1 131m0 0L315.2 151m0 0L315.4 126m0 0L315.5 137m0 0L315.6 134m0 0L315.8 127m0 0L315.9 144m0 0L316.0 123m0 0L316.2 126m0 0L316.3 123m0 0L316.4 125m0 0L316.6 151m0 0L316.7 131m0 0L316.8 118m0 0L317.0 131m0 0L317.1 131m0 0L317.2 132m0 0L317.4 130m0 0L317.5 124m0 0L317.6 126m0 0L317.8 133m0 0L317.9 128m0 0L318.0 123m0 0L318.2 134m0 0L318.3 150m0 0L318.4 122m0 0L318.6 146m0 0L318.7 132m0 0L318.8 137m0 0L319.0 134m0 0L319.1 117m0 0L319.2 134m0 0L319.4 130m0 0L319.5 135m0 0L319.6 145m0 0L319.8 136m0 0L319.9 122m0 0L320.0 118m0 0L320.2 135m0 0L320.3 115m0 0L320.4 145m0 0L320.6 114m0 0L320.7 142m0 0L320.8 147m0 0L321.0 134m0 0L321.1 143m0 0L321.2 131m0 0L321.4 121m0 0L321.5 120m0 0L321.6 115m0 0L321.8 119m0 0L321.9 132m0 0L322.0 121m0 0L322.2 122m0 0L322.3 133m0 0L322.4 116m0 0L322.6 109m0 0L322.7 120m0 0L322.8 143m0 0L323.0 131m0 0L323.1 124m0 0L323.2 129m0 0L323.4 143m0 0L323.5 136m0 0L323.6 138m0 0L323.8 137m0 0L323.9 134m0 0L324.0 129m0 0L324.2 137m0 0L324.3 127m0 0L324.4 125m0 0L324.6 133m0 0L324.7 136m0 0L324.9 137m0 0L325.0 134m0 0L325.1 130m0 0L325.3 124m0 0L325.4 112m0 0L325.5 135m0 0L325.7 125m0 0L325.8 133m0 0L325.9 133m0 0L326.1 119m0 0L326.2 108m0 0L326.3 135m0 0L326.5 108m0 0L326.6 121m0 0L326.7 139m0 0L326.9 132m0 0L327.0 143m0 0L327.1 134m0 0L327.3 139m0 0L327.4 134m0 0L327.5 131m0 0L327.7 134m0 0L327.8 125m0 0L327.9 130m0 0L328.1 125m0 0L328.2 122m0 0L328.3 141m0 0L328.5 134m0 0L328.6 124m0 0L328.7 143m0 0L328.9 114m0 0L329.0 131m0 0L329.1 132m0 0L329.3 118m0 0L329.4 133m0 0L329.5 123m0 0L329.7 131m0 0L329.8 131m0 0L329.9 124m0 0L330.1 122m0 0L330.2 134m0 0L330.3 140m0 0L330.5 132m0 0L330.6 123m0 0L330.7 82m0 0L330.9 126m0 0L331.0 150m0 0L331.1 109m0 0L331.3 134m0 0L331.4 126m0 0L331.5 125m0 0L331.7 127m0 0L331.8 150m0 0L331.9 136m0 0L332.1 123m0 0L332.2 135m0 0L332.3 116m0 0L332.5 136m0 0L332.6 125m0 0L332.7 152m0 0L332.9 117m0 0L333.0 117m0 0L333.1 137m0 0L333.3 143m0 0L333.4 128m0 0L333.5 132m0 0L333.7 134m0 0L333.8 115m0 0L333.9 126m0 0L334.1 125m0 0L334.2 120m0 0L334.3 126m0 0L334.5 127m0 0L334.6 133m0 0L334.7 139m0 0L334.9 130m0 0L335.0 130m0 0L335.1 137m0 0L335.3 121m0 0L335.4 148m0 0L335.5 123m0 0L335.7 129m0 0L335.8 129m0 0L335.9 121m0 0L336.1 136m0 0L336.2 124m0 0L336.3 114m0 0L336.5 127m0 0L336.6 137m0 0L336.7 125m0 0L336.9 126m0 0L337.0 134m0 0L337.1 127m0 0L337.3 125m0 0L337.4 143m0 0L337.5 136m0 0L337.7 125m0 0L337.8 132m0 0L337.9 151m0 0L338.1 116m0 0L338.2 133m0 0L338.3 148m0 0L338.5 126m0 0L338.6 135m0 0L338.7 122m0 0L338.9 134m0 0L339.0 128m0 0L339.1 116m0 0L339.3 124m0 0L339.4 128m0 0L339.5 135m0 0L339.7 143m0 0L339.8 127m0 0L339.9 115m0 0L340.1 117m0 0L340.2 132m0 0L340.3 126m0 0L340.5 134m0 0L340.6 135m0 0L340.7 140m0 0L340.9 116m0 0L341.0 117m0 0L341.1 132m0 0L341.3 117m0 0L341.4 136m0 0L341.5 125m0 0L341.7 121m0 0L341.8 119m0 0L341.9 152m0 0L342.1 127m0 0L342.2 123m0 0L342.3 127m0 0L342.5 126m0 0L342.6 135m0 0L342.7 132m0 0L342.9 124m0 0L343.0 146m0 0L343.1 131m0 0L343.3 135m0 0L343.4 139m0 0L343.5 132m0 0L343.7 122m0 0L343.8 129m0 0L343.9 130m0 0L344.1 139m0 0L344.2 117m0 0L344.3 149m0 0L344.5 127m0 0L344.6 131m0 0L344.7 134m0 0L344.9 139m0 0L345.0 128m0 0L345.1 124m0 0L345.3 133m0 0L345.4 145m0 0L345.5 124m0 0L345.7 140m0 0L345.8 128m0 0L345.9 132m0 0L346.1 124m0 0L346.2 127m0 0L346.3 127m0 0L346.5 117m0 0L346.6 128m0 0L346.7 112m0 0L346.9 138m0 0L347.0 139m0 0L347.1 123m0 0L347.3 120m0 0L347.4 114m0 0L347.5 126m0 0L347.7 129m0 0L347.8 121m0 0L347.9 130m0 0L348.1 118m0 0L348.2 133m0 0L348.3 126m0 0L348.5 130m0 0L348.6 115m0 0L348.7 127m0 0L348.9 119m0 0L349.0 135m0 0L349.1 122m0 0L349.3 136m0 0L349.4 126m0 0L349.5 135m0 0L349.7 140m0 0L349.8 136m0 0L349.9 125m0 0L350.1 118m0 0L350.2 129m0 0L350.3 124m0 0L350.5 136m0 0L350.6 94m0 0L350.7 139m0 0L350.9 129m0 0L351.0 131m0 0L351.1 144m0 0L351.3 150m0 0L351.4 137m0 0L351.5 125m0 0L351.7 135m0 0L351.8 126m0 0L351.9 125m0 0L352.1 123m0 0L352.2 121m0 0L352.3 135m0 0L352.5 117m0 0L352.6 119m0 0L352.7 132m0 0L352.9 120m0 0L353.0 141m0 0L353.1 121m0 0L353.3 122m0 0L353.4 131m0 0L353.5 125m0 0L353.7 129m0 0L353.8 133m0 0L353.9 124m0 0L354.1 120m0 0L354.2 127m0 0L354.3 125m0 0L354.5 144m0 0L354.6 122m0 0L354.7 126m0 0L354.9 132m0 0L355.0 154m0 0L355.1 124m0 0L355.3 135m0 0L355.4 125m0 0L355.5 120m0 0L355.7 138m0 0L355.8 133m0 0L355.9 125m0 0L356.1 131m0 0L356.2 135m0 0L356.3 125m0 0L356.5 124m0 0L356.6 137m0 0L356.7 125m0 0L356.9 135m0 0L357.0 120m0 0L357.1 125m0 0L357.3 140m0 0L357.4 116m0 0L357.5 131m0 0L357.7 123m0 0L357.8 144m0 0L357.9 131m0 0L358.1 132m0 0L358.2 130m0 0L358.3 126m0 0L358.5 112m0 0L358.6 131m0 0L358.7 136m0 0L358.9 138m0 0L359.0 115m0 0L359.1 115m0 0L359.3 149m0 0L359.4 142m0 0L359.5 128m0 0L359.7 132m0 0L359.8 110m0 0L360.0 121m0 0L360.1 102m0 0L360.2 124m0 0L360.4 126m0 0L360.5 142m0 0L360.6 139m0 0L360.8 147m0 0L360.9 130m0 0L361.0 128m0 0L361.2 132m0 0L361.3 130m0 0L361.4 132m0 0L361.6 127m0 0L361.7 125m0 0L361.8 126m0 0L362.0 128m0 0L362.1 137m0 0L362.2 145m0 0L362.4 118m0 0L362.5 111m0 0L362.6 132m0 0L362.8 132m0 0L362.9 118m0 0L363.0 118m0 0L363.2 140m0 0L363.3 127m0 0L363.4 124m0 0L363.6 132m0 0L363.7 136m0 0L363.8 134m0 0L364.0 122m0 0L364.1 121m0 0L364.2 119m0 0L364.4 142m0 0L364.5 137m0 0L364.6 120m0 0L364.8 128m0 0L364.9 121m0 0L365.0 150m0 0L365.2 150m0 0L365.3 138m0 0L365.4 130m0 0L365.6 130m0 0L365.7 137m0 0L365.8 122m0 0L366.0 134m0 0L366.1 144m0 0L366.2 117m0 0L366.4 142m0 0L366.5 128m0 0L366.6 122m0 0L366.8 126m0 0L366.9 120m0 0L367.0 133m0 0L367.2 119m0 0L367.3 123m0 0L367.4 129m0 0L367.6 105m0 0L367.7 126m0 0L367.8 128m0 0L368.0 133m0 0L368.1 113m0 0L368.2 136m0 0L368.4 126m0 0L368.5 107m0 0L368.6 123m0 0L368.8 140m0 0L368.9 112m0 0L369.0 135m0 0L369.2 136m0 0L369.3 118m0 0L369.4 116m0 0L369.6 130m0 0L369.7 113m0 0L369.8 133m0 0L370.0 105m0 0L370.1 130m0 0L370.2 111m0 0L370.4 127m0 0L370.5 133m0 0L370.6 133m0 0L370.8 121m0 0L370.9 126m0 0L371.0 138m0 0L371.2 132m0 0L371.3 130m0 0L371.4 130m0 0L371.6 143m0 0L371.7 119m0 0L371.8 131m0 0L372.0 132m0 0L372.1 131m0 0L372.2 130m0 0L372.4 122m0 0L372.5 130m0 0L372.6 136m0 0L372.8 139m0 0L372.9 130m0 0L373.0 126m0 0L373.2 122m0 0L373.3 124m0 0L373.4 113m0 0L373.6 128m0 0L373.7 127m0 0L373.8 126m0 0L374.0 142m0 0L374.1 115m0 0L374.2 139m0 0L374.4 98m0 0L374.5 116m0 0L374.6 135m0 0L374.8 118m0 0L374.9 115m0 0L375.0 104m0 0L375.2 134m0 0L375.3 136m0 0L375.4 127m0 0L375.6 136m0 0L375.7 117m0 0L375.8 118m0 0L376.0 140m0 0L376.1 134m0 0L376.2 106m0 0L376.4 130m0 0L376.5 127m0 0L376.6 130m0 0L376.8 137m0 0L376.9 132m0 0L377.0 137m0 0L377.2 146m0 0L377.3 124m0 0L377.4 133m0 0L377.6 125m0 0L377.7 137m0 0L377.8 132m0 0L378.0 123m0 0L378.1 118m0 0L378.2 132m0 0L378.4 116m0 0L378.5 133m0 0L378.6 116m0 0L378.8 132m0 0L378.9 121m0 0L379.0 137m0 0L379.2 131m0 0L379.3 121m0 0L379.4 127m0 0L379.6 118m0 0L379.7 131m0 0L379.8 114m0 0L380.0 134m0 0L380.1 146m0 0L380.2 121m0 0L380.4 122m0 0L380.5 120m0 0L380.6 125m0 0L380.8 111m0 0L380.9 132m0 0L381.0 126m0 0L381.2 137m0 0L381.3 126m0 0L381.4 146m0 0L381.6 116m0 0L381.7 129m0 0L381.8 150m0 0L382.0 146m0 0L382.1 142m0 0L382.2 92m0 0L382.4 140m0 0L382.5 144m0 0L382.6 136m0 0L382.8 135m0 0L382.9 135m0 0L383.0 136m0 0L383.2 143m0 0L383.3 130m0 0L383.4 112m0 0L383.6 129m0 0L383.7 124m0 0L383.8 127m0 0L384.0 122m0 0L384.1 125m0 0L384.2 127m0 0L384.4 128m0 0L384.5 119m0 0L384.6 134m0 0L384.8 151m0 0L384.9 138m0 0L385.0 131m0 0L385.2 142m0 0L385.3 125m0 0L385.4 118m0 0L385.6 144m0 0L385.7 138m0 0L385.8 132m0 0L386.0 150m0 0L386.1 129m0 0L386.2 130m0 0L386.4 130m0 0L386.5 124m0 0L386.6 116m0 0L386.8 132m0 0L386.9 129m0 0L387.0 144m0 0L387.2 126m0 0L387.3 137m0 0L387.4 127m0 0L387.6 124m0 0L387.7 134m0 0L387.8 120m0 0L388.0 137m0 0L388.1 128m0 0L388.2 122m0 0L388.4 138m0 0L388.5 119m0 0L388.6 129m0 0L388.8 118m0 0L388.9 132m0 0L389.0 126m0 0L389.2 127m0 0L389.3 135m0 0L389.4 138m0 0L389.6 136m0 0L389.7 111m0 0L389.8 133m0 0L390.0 136m0 0L390.1 134m0 0L390.2 130m0 0L390.4 145m0 0L390.5 116m0 0L390.6 114m0 0L390.8 122m0 0L390.9 131m0 0L391.0 134m0 0L391.2 121m0 0L391.3 131m0 0L391.4 117m0 0L391.6 124m0 0L391.7 127m0 0L391.8 121m0 0L392.0 122m0 0L392.1 127m0 0L392.2 134m0 0L392.4 137m0 0L392.5 119m0 0L392.6 141m0 0L392.8 119m0 0L392.9 129m0 0L393.0 122m0 0L393.2 134m0 0L393.3 127m0 0L393.4 139m0 0L393.6 142m0 0L393.7 129m0 0L393.8 140m0 0L394.0 116m0 0L394.1 122m0 0L394.2 137m0 0L394.4 123m0 0L394.5 124m0 0L394.7 125m0 0L394.8 121m0 0L394.9 131m0 0L395.1 141m0 0L395.2 126m0 0L395.3 118m0 0L395.5 129m0 0L395.6 128m0 0L395.7 132m0 0L395.9 122m0 0L396.0 144m0 0L396.1 129m0 0L396.3 131m0 0L396.4 128m0 0L396.5 132m0 0L396.7 132m0 0L396.8 145m0 0L396.9 134m0 0L397.1 132m0 0L397.2 130m0 0L397.3 116m0 0L397.5 123m0 0L397.6 118m0 0L397.7 126m0 0L397.9 121m0 0L398.0 116m0 0L398.1 128m0 0L398.3 127m0 0L398.4 131m0 0L398.5 127m0 0L398.7 116m0 0L398.8 138m0 0L398.9 116m0 0L399.1 113m0 0L399.2 124m0 0L399.3 126m0 0L399.5 71m0 0L399.6 124m0 0L399.7 116m0 0L399.9 128m0 0L400.0 145m0 0L400.1 130m0 0L400.3 90m0 0L400.4 131m0 0L400.5 115m0 0L400.7 127m0 0L400.8 116m0 0L400.9 125m0 0L401.1 137m0 0L401.2 136m0 0L401.3 114m0 0L401.5 143m0 0L401.6 130m0 0L401.7 131m0 0L401.9 149m0 0L402.0 123m0 0L402.1 138m0 0L402.3 139m0 0L402.4 125m0 0L402.5 125m0 0L402.7 129m0 0L402.8 128m0 0L402.9 122m0 0L403.1 131m0 0L403.2 131m0 0L403.3 127m0 0L403.5 122m0 0L403.6 125m0 0L403.7 106m0 0L403.9 122m0 0L404.0 127m0 0L404.1 123m0 0L404.3 147m0 0L404.4 123m0 0L404.5 127m0 0L404.7 137m0 0L404.8 136m0 0L404.9 124m0 0L405.1 135m0 0L405.2 122m0 0L405.3 127m0 0L405.5 137m0 0L405.6 128m0 0L405.7 126m0 0L405.9 114m0 0L406.0 126m0 0L406.1 133m0 0L406.3 134m0 0L406.4 124m0 0L406.5 125m0 0L406.7 133m0 0L406.8 123m0 0L406.9 117m0 0L407.1 134m0 0L407.2 135m0 0L407.3 116m0 0L407.5 137m0 0L407.6 124m0 0L407.7 151m0 0L407.9 126m0 0L408.0 128m0 0L408.1 111m0 0L408.3 128m0 0L408.4 137m0 0L408.5 152m0 0L408.7 117m0 0L408.8 142m0 0L408.9 117m0 0L409.1 139m0 0L409.2 146m0 0L409.3 142m0 0L409.5 120m0 0L409.6 131m0 0L409.7 129m0 0L409.9 122m0 0L410.0 109m0 0L410.1 115m0 0L410.3 133m0 0L410.4 119m0 0L410.5 147m0 0L410.7 107m0 0L410.8 113m0 0L410.9 147m0 0L411.1 142m0 0L411.2 125m0 0L411.3 127m0 0L411.5 142m0 0L411.6 140m0 0L411.7 153m0 0L411.9 134m0 0L412.0 116m0 0L412.1 121m0 0L412.3 119m0 0L412.4 130m0 0L412.5 118m0 0L412.7 137m0 0L412.8 135m0 0L412.9 118m0 0L413.1 123m0 0L413.2 124m0 0L413.3 140m0 0L413.5 126m0 0L413.6 116m0 0L413.7 115m0 0L413.9 121m0 0L414.0 113m0 0L414.1 132m0 0L414.3 138m0 0L414.4 135m0 0L414.5 130m0 0L414.7 138m0 0L414.8 134m0 0L414.9 123m0 0L415.1 133m0 0L415.2 123m0 0L415.3 131m0 0L415.5 126m0 0L415.6 134m0 0L415.7 127m0 0L415.9 128m0 0L416.0 127m0 0L416.1 131m0 0L416.3 126m0 0L416.4 122m0 0L416.5 130m0 0L416.7 133m0 0L416.8 139m0 0L416.9 113m0 0L417.1 131m0 0L417.2 119m0 0L417.3 120m0 0L417.5 120m0 0L417.6 132m0 0L417.7 117m0 0L417.9 135m0 0L418.0 136m0 0L418.1 130m0 0L418.3 126m0 0L418.4 124m0 0L418.5 123m0 0L418.7 120m0 0L418.8 135m0 0L418.9 117m0 0L419.1 110m0 0L419.2 128m0 0L419.3 131m0 0L419.5 138m0 0L419.6 128m0 0L419.7 132m0 0L419.9 137m0 0L420.0 146m0 0L420.1 128m0 0L420.3 143m0 0L420.4 127m0 0L420.5 119m0 0L420.7 140m0 0L420.8 134m0 0L420.9 129m0 0L421.1 136m0 0L421.2 138m0 0L421.3 142m0 0L421.5 135m0 0L421.6 127m0 0L421.7 122m0 0L421.9 134m0 0L422.0 126m0 0L422.1 133m0 0L422.3 138m0 0L422.4 116m0 0L422.5 154m0 0L422.7 137m0 0L422.8 125m0 0L422.9 126m0 0L423.1 109m0 0L423.2 123m0 0L423.3 120m0 0L423.5 114m0 0L423.6 121m0 0L423.7 126m0 0L423.9 139m0 0L424.0 131m0 0L424.1 119m0 0L424.3 143m0 0L424.4 122m0 0L424.5 131m0 0L424.7 130m0 0L424.8 133m0 0L424.9 143m0 0L425.1 113m0 0L425.2 142m0 0L425.3 122m0 0L425.5 133m0 0L425.6 126m0 0L425.7 122m0 0L425.9 116m0 0L426.0 125m0 0L426.1 126m0 0L426.3 134m0 0L426.4 137m0 0L426.5 98m0 0L426.7 137m0 0L426.8 141m0 0L426.9 135m0 0L427.1 129m0 0L427.2 140m0 0L427.3 137m0 0L427.5 121m0 0L427.6 134m0 0L427.7 131m0 0L427.9 121m0 0L428.0 128m0 0L428.1 119m0 0L428.3 128m0 0L428.4 133m0 0L428.5 127m0 0L428.7 142m0 0L428.8 144m0 0L428.9 136m0 0L429.1 121m0 0L429.2 129m0 0L429.3 116m0 0L429.5 130m0 0L429.6 127m0 0L429.8 128m0 0L429.9 134m0 0L430.0 125m0 0L430.2 137m0 0L430.3 125m0 0L430.4 118m0 0L430.6 138m0 0L430.7 118m0 0L430.8 133m0 0L431.0 128m0 0L431.1 124m0 0L431.2 136m0 0L431.4 130m0 0L431.5 119m0 0L431.6 117m0 0L431.8 140m0 0L431.9 122m0 0L432.0 135m0 0L432.2 131m0 0L432.3 123m0 0L432.4 124m0 0L432.6 120m0 0L432.7 132m0 0L432.8 133m0 0L433.0 119m0 0L433.1 128m0 0L433.2 130m0 0L433.4 131m0 0L433.5 139m0 0L433.6 124m0 0L433.8 123m0 0L433.9 127m0 0L434.0 113m0 0L434.2 121m0 0L434.3 115m0 0L434.4 137m0 0L434.6 129m0 0L434.7 120m0 0L434.8 120m0 0L435.0 116m0 0L435.1 112m0 0L435.2 143m0 0L435.4 132m0 0L435.5 147m0 0L435.6 127m0 0L435.8 120m0 0L435.9 142m0 0L436.0 133m0 0L436.2 134m0 0L436.3 133m0 0L436.4 131m0 0L436.6 138m0 0L436.7 134m0 0L436.8 140m0 0L437.0 130m0 0L437.1 124m0 0L437.2 123m0 0L437.4 132m0 0L437.5 129m0 0L437.6 121m0 0L437.8 125m0 0L437.9 122m0 0L438.0 120m0 0L438.2 127m0 0L438.3 135m0 0L438.4 128m0 0L438.6 132m0 0L438.7 113m0 0L438.8 129m0 0L439.0 115m0 0L439.1 127m0 0L439.2 130m0 0L439.4 124m0 0L439.5 122m0 0L439.6 127m0 0L439.8 120m0 0L439.9 137m0 0L440.0 141m0 0L440.2 136m0 0L440.3 136m0 0L440.4 122m0 0L440.6 135m0 0L440.7 131m0 0L440.8 127m0 0L441.0 119m0 0L441.1 132m0 0L441.2 127m0 0L441.4 119m0 0L441.5 141m0 0L441.6 127m0 0L441.8 124m0 0L441.9 128m0 0L442.0 137m0 0L442.2 126m0 0L442.3 131m0 0L442.4 145m0 0L442.6 140m0 0L442.7 130m0 0L442.8 127m0 0L443.0 127m0 0L443.1 136m0 0L443.2 138m0 0L443.4 134m0 0L443.5 121m0 0L443.6 127m0 0L443.8 137m0 0L443.9 109m0 0L444.0 122m0 0L444.2 123m0 0L444.3 120m0 0L444.4 102m0 0L444.6 135m0 0L444.7 142m0 0L444.8 131m0 0L445.0 134m0 0L445.1 122m0 0L445.2 130m0 0L445.4 135m0 0L445.5 135m0 0L445.6 125m0 0L445.8 127m0 0L445.9 134m0 0L446.0 135m0 0L446.2 129m0 0L446.3 129m0 0L446.4 122m0 0L446.6 138m0 0L446.7 121m0 0L446.8 134m0 0L447.0 140m0 0L447.1 128m0 0L447.2 140m0 0L447.4 129m0 0L447.5 139m0 0L447.6 131m0 0L447.8 133m0 0L447.9 124m0 0L448.0 132m0 0L448.2 138m0 0L448.3 129m0 0L448.4 106m0 0L448.6 134m0 0L448.7 127m0 0L448.8 121m0 0L449.0 131m0 0L449.1 132m0 0L449.2 139m0 0L449.4 134m0 0L449.5 122m0 0L449.6 142m0 0L449.8 134m0 0L449.9 138m0 0L450.0 132m0 0L450.2 129m0 0L450.3 120m0 0L450.4 128m0 0L450.6 124m0 0L450.7 129m0 0L450.8 130m0 0L451.0 122m0 0L451.1 130m0 0L451.2 137m0 0L451.4 120m0 0L451.5 125m0 0L451.6 127m0 0L451.8 133m0 0L451.9 130m0 0L452.0 120m0 0L452.2 143m0 0L452.3 121m0 0L452.4 139m0 0L452.6 122m0 0L452.7 115m0 0L452.8 140m0 0L453.0 130m0 0L453.1 121m0 0L453.2 128m0 0L453.4 137m0 0L453.5 118m0 0L453.6 130m0 0L453.8 121m0 0L453.9 111m0 0L454.0 138m0 0L454.2 124m0 0L454.3 120m0 0L454.4 132m0 0L454.6 114m0 0L454.7 118m0 0L454.8 114m0 0L455.0 136m0 0L455.1 117m0 0L455.2 129m0 0L455.4 127m0 0L455.5 125m0 0L455.6 135m0 0L455.8 128m0 0L455.9 140m0 0L456.0 126m0 0L456.2 126m0 0L456.3 123m0 0L456.4 140m0 0L456.6 121m0 0L456.7 140m0 0L456.8 132m0 0L457.0 116m0 0L457.1 140m0 0L457.2 133m0 0L457.4 123m0 0L457.5 122m0 0L457.6 138m0 0L457.8 133m0 0L457.9 120m0 0L458.0 126m0 0L458.2 126m0 0L458.3 125m0 0L458.4 133m0 0L458.6 142m0 0L458.7 128m0 0L458.8 131m0 0L459.0 137m0 0L459.1 133m0 0L459.2 130m0 0L459.4 123m0 0L459.5 115m0 0L459.6 121m0 0L459.8 112m0 0L459.9 134m0 0L460.0 130m0 0L460.2 126m0 0L460.3 135m0 0L460.4 130m0 0L460.6 124m0 0L460.7 138m0 0L460.8 138m0 0L461.0 120m0 0L461.1 125m0 0L461.2 139m0 0L461.4 129m0 0L461.5 131m0 0L461.6 133m0 0L461.8 143m0 0L461.9 128m0 0L462.0 125m0 0L462.2 134m0 0L462.3 111m0 0L462.4 119m0 0L462.6 129m0 0L462.7 117m0 0L462.8 133m0 0L463.0 130m0 0L463.1 142m0 0L463.2 130m0 0L463.4 111m0 0L463.5 128m0 0L463.6 120m0 0L463.8 128m0 0L463.9 119m0 0L464.0 136m0 0L464.2 130m0 0L464.3 129m0 0L464.5 133m0 0L464.6 126m0 0L464.7 141m0 0L464.9 132m0 0L465.0 141m0 0L465.1 138m0 0L465.3 130m0 0L465.4 139m0 0L465.5 109m0 0L465.7 125m0 0L465.8 125m0 0L465.9 128m0 0L466.1 125m0 0L466.2 138m0 0L466.3 143m0 0L466.5 128m0 0L466.6 122m0 0L466.7 130m0 0L466.9 127m0 0L467.0 126m0 0L467.1 127m0 0L467.3 133m0 0L467.4 116m0 0L467.5 143m0 0L467.7 133m0 0L467.8 134m0 0L467.9 128m0 0L468.1 137m0 0L468.2 122m0 0L468.3 135m0 0L468.5 137m0 0L468.6 129m0 0L468.7 116m0 0L468.9 119m0 0L469.0 135m0 0L469.1 123m0 0L469.3 128m0 0L469.4 131m0 0L469.5 130m0 0L469.7 110m0 0L469.8 126m0 0L469.9 116m0 0L470.1 115m0 0L470.2 138m0 0L470.3 133m0 0L470.5 109m0 0L470.6 129m0 0L470.7 140m0 0L470.9 137m0 0L471.0 131m0 0L471.1 115m0 0L471.3 117m0 0L471.4 147m0 0L471.5 123m0 0L471.7 114m0 0L471.8 126m0 0L471.9 125m0 0L472.1 140m0 0L472.2 127m0 0L472.3 133m0 0L472.5 143m0 0L472.6 138m0 0L472.7 107m0 0L472.9 123m0 0L473.0 112m0 0L473.1 129m0 0L473.3 120m0 0L473.4 126m0 0L473.5 129m0 0L473.7 132m0 0L473.8 127m0 0L473.9 119m0 0L474.1 131m0 0L474.2 141m0 0L474.3 128m0 0L474.5 118m0 0L474.6 120m0 0L474.7 131m0 0L474.9 133m0 0L475.0 137m0 0L475.1 130m0 0L475.3 110m0 0L475.4 128m0 0L475.5 140m0 0L475.7 130m0 0L475.8 125m0 0L475.9 148m0 0L476.1 118m0 0L476.2 115m0 0L476.3 146m0 0L476.5 133m0 0L476.6 121m0 0L476.7 137m0 0L476.9 112m0 0L477.0 125m0 0L477.1 139m0 0L477.3 137m0 0L477.4 134m0 0L477.5 123m0 0L477.7 130m0 0L477.8 146m0 0L477.9 114m0 0L478.1 130m0 0L478.2 123m0 0L478.3 129m0 0L478.5 117m0 0L478.6 126m0 0L478.7 125m0 0L478.9 126m0 0L479.0 124m0 0L479.1 134m0 0L479.3 135m0 0L479.4 137m0 0L479.5 116m0 0L479.7 124m0 0L479.8 130m0 0L479.9 133m0 0L480.1 133m0 0L480.2 123m0 0L480.3 114m0 0L480.5 133m0 0L480.6 138m0 0L480.7 124m0 0L480.9 130m0 0L481.0 133m0 0L481.1 129m0 0L481.3 127m0 0L481.4 129m0 0L481.5 136m0 0L481.7 122m0 0L481.8 128m0 0L481.9 141m0 0L482.1 129m0 0L482.2 129m0 0L482.3 131m0 0L482.5 130m0 0L482.6 138m0 0L482.7 113m0 0L482.9 131m0 0L483.0 127m0 0L483.1 123m0 0L483.3 122m0 0L483.4 126m0 0L483.5 149m0 0L483.7 126m0 0L483.8 126m0 0L483.9 125m0 0L484.1 132m0 0L484.2 139m0 0L484.3 126m0 0L484.5 137m0 0L484.6 125m0 0L484.7 127m0 0L484.9 124m0 0L485.0 132m0 0L485.1 131m0 0L485.3 125m0 0L485.4 141m0 0L485.5 131m0 0L485.7 127m0 0L485.8 123m0 0L485.9 144m0 0L486.1 127m0 0L486.2 130m0 0L486.3 135m0 0L486.5 119m0 0L486.6 139m0 0L486.7 126m0 0L486.9 123m0 0L487.0 124m0 0L487.1 127m0 0L487.3 143m0 0L487.4 139m0 0L487.5 122m0 0L487.7 108m0 0L487.8 122m0 0L487.9 136m0 0L488.1 135m0 0L488.2 123m0 0L488.3 117m0 0L488.5 127m0 0L488.6 117m0 0L488.7 129m0 0L488.9 128m0 0L489.0 128m0 0L489.1 137m0 0L489.3 123m0 0L489.4 149m0 0L489.5 123m0 0L489.7 134m0 0L489.8 122m0 0L489.9 131m0 0L490.1 114m0 0L490.2 130m0 0L490.3 126m0 0L490.5 141m0 0L490.6 121m0 0L490.7 106m0 0L490.9 120m0 0L491.0 113m0 0L491.1 118m0 0L491.3 136m0 0L491.4 115m0 0L491.5 127m0 0L491.7 118m0 0L491.8 122m0 0L491.9 129m0 0L492.1 150m0 0L492.2 122m0 0L492.3 116m0 0L492.5 117m0 0L492.6 137m0 0L492.7 121m0 0L492.9 143m0 0L493.0 125m0 0L493.1 135m0 0L493.3 134m0 0L493.4 106m0 0L493.5 119m0 0L493.7 133m0 0L493.8 117m0 0L493.9 108m0 0L494.1 128m0 0L494.2 139m0 0L494.3 142m0 0L494.5 135m0 0L494.6 121m0 0L494.7 132m0 0L494.9 123m0 0L495.0 137m0 0L495.1 136m0 0L495.3 140m0 0L495.4 133m0 0L495.5 130m0 0L495.7 147m0 0L495.8 133m0 0L495.9 128m0 0L496.1 122m0 0L496.2 124m0 0L496.3 122m0 0L496.5 135m0 0L496.6 136m0 0L496.7 119m0 0L496.9 120m0 0L497.0 121m0 0L497.1 155m0 0L497.3 128m0 0L497.4 131m0 0L497.5 120m0 0L497.7 115m0 0L497.8 125m0 0L497.9 115m0 0L498.1 134m0 0L498.2 125m0 0L498.3 131m0 0L498.5 123m0 0L498.6 127m0 0L498.7 132m0 0L498.9 131m0 0L499.0 143m0 0L499.1 111m0 0L499.3 113m0 0L499.4 121m0 0L499.6 122m0 0L499.7 144m0 0L499.8 136m0 0L500.0 126m0 0L500.1 123m0 0L500.2 133m0 0L500.4 122m0 0L500.5 140m0 0L500.6 133m0 0L500.8 131m0 0L500.9 127m0 0L501.0 123m0 0L501.2 142m0 0L501.3 112m0 0L501.4 136m0 0L501.6 138m0 0L501.7 147m0 0L501.8 132m0 0L502.0 125m0 0L502.1 140m0 0L502.2 135m0 0L502.4 134m0 0L502.5 129m0 0L502.6 135m0 0L502.8 129m0 0L502.9 121m0 0L503.0 120m0 0L503.2 126m0 0L503.3 129m0 0L503.4 159m0 0L503.6 130m0 0L503.7 123m0 0L503.8 114m0 0L504.0 143m0 0L504.1 136m0 0L504.2 131m0 0L504.4 119m0 0L504.5 114m0 0L504.6 121m0 0L504.8 138m0 0L504.9 143m0 0L505.0 125m0 0L505.2 127m0 0L505.3 122m0 0L505.4 114m0 0L505.6 130m0 0L505.7 139m0 0L505.8 128m0 0L506.0 126m0 0L506.1 139m0 0L506.2 131m0 0L506.4 142m0 0L506.5 138m0 0L506.6 102m0 0L506.8 129m0 0L506.9 114m0 0L507.0 140m0 0L507.2 130m0 0L507.3 134m0 0L507.4 123m0 0L507.6 100m0 0L507.7 129m0 0L507.8 138m0 0L508.0 139m0 0L508.1 116m0 0L508.2 124m0 0L508.4 140m0 0L508.5 125m0 0L508.6 128m0 0L508.8 149m0 0L508.9 146m0 0L509.0 135m0 0L509.2 132m0 0L509.3 116m0 0L509.4 117m0 0L509.6 123m0 0L509.7 131m0 0L509.8 125m0 0L510.0 132m0 0L510.1 124m0 0L510.2 135m0 0L510.4 128m0 0L510.5 145m0 0L510.6 122m0 0L510.8 126m0 0L510.9 141m0 0L511.0 132m0 0L511.2 126m0 0L511.3 134m0 0L511.4 131m0 0L511.6 149m0 0L511.7 117m0 0L511.8 130m0 0L512.0 140m0 0L512.1 140m0 0L512.2 140m0 0L512.4 132m0 0L512.5 127m0 0L512.6 131m0 0L512.8 134m0 0L512.9 111m0 0L513.0 134m0 0L513.2 136m0 0L513.3 114m0 0L513.4 135m0 0L513.6 119m0 0L513.7 119m0 0L513.8 129m0 0L514.0 147m0 0L514.1 131m0 0L514.2 132m0 0L514.4 124m0 0L514.5 125m0 0L514.6 131m0 0L514.8 130m0 0L514.9 132m0 0L515.0 124m0 0L515.2 116m0 0L515.3 118m0 0L515.4 128m0 0L515.6 123m0 0L515.7 132m0 0L515.8 109m0 0L516.0 129m0 0L516.1 113m0 0L516.2 130m0 0L516.4 129m0 0L516.5 126m0 0L516.6 125m0 0L516.8 121m0 0L516.9 132m0 0L517.0 117m0 0L517.2 117m0 0L517.3 137m0 0L517.4 131m0 0L517.6 113m0 0L517.7 104m0 0L517.8 128m0 0L518.0 127m0 0L518.1 126m0 0L518.2 131m0 0L518.4 144m0 0L518.5 117m0 0L518.6 136m0 0L518.8 149m0 0L518.9 145m0 0L519.0 143m0 0L519.2 124m0 0L519.3 131m0 0L519.4 126m0 0L519.6 127m0 0L519.7 139m0 0L519.8 142m0 0L520.0 124m0 0L520.1 127m0 0L520.2 127m0 0L520.4 148m0 0L520.5 127m0 0L520.6 117m0 0L520.8 121m0 0L520.9 134m0 0L521.0 137m0 0L521.2 123m0 0L521.3 136m0 0L521.4 139m0 0L521.6 135m0 0L521.7 133m0 0L521.8 125m0 0L522.0 117m0 0L522.1 120m0 0L522.2 132m0 0L522.4 102m0 0L522.5 124m0 0L522.6 138m0 0L522.8 120m0 0L522.9 135m0 0L523.0 138m0 0L523.2 125m0 0L523.3 130m0 0L523.4 140m0 0L523.6 140m0 0L523.7 126m0 0L523.8 127m0 0L524.0 120m0 0L524.1 121m0 0L524.2 118m0 0L524.4 128m0 0L524.5 141m0 0L524.6 138m0 0L524.8 151m0 0L524.9 131m0 0L525.0 123m0 0L525.2 143m0 0L525.3 132m0 0L525.4 114m0 0L525.6 153m0 0L525.7 120m0 0L525.8 120m0 0L526.0 127m0 0L526.1 131m0 0L526.2 144m0 0L526.4 144m0 0L526.5 147m0 0L526.6 154m0 0L526.8 121m0 0L526.9 134m0 0L527.0 98m0 0L527.2 112m0 0L527.3 133m0 0L527.4 123m0 0L527.6 116m0 0L527.7 141m0 0L527.8 136m0 0L528.0 126m0 0L528.1 111m0 0L528.2 138m0 0L528.4 128m0 0L528.5 127m0 0L528.6 147m0 0L528.8 128m0 0L528.9 119m0 0L529.0 130m0 0L529.2 139m0 0L529.3 123m0 0L529.4 144m0 0L529.6 127m0 0L529.7 136m0 0L529.8 129m0 0L530.0 131m0 0L530.1 108m0 0L530.2 124m0 0L530.4 126m0 0L530.5 126m0 0L530.6 131m0 0L530.8 128m0 0L530.9 160m0 0L531.0 139m0 0L531.2 152m0 0L531.3 136m0 0L531.4 145m0 0L531.6 119m0 0L531.7 130m0 0L531.8 133m0 0L532.0 123m0 0L532.1 117m0 0L532.2 125m0 0L532.4 120m0 0L532.5 115m0 0L532.6 133m0 0L532.8 126m0 0L532.9 124m0 0L533.0 128m0 0L533.2 122m0 0L533.3 131m0 0L533.4 131m0 0L533.6 117m0 0L533.7 118m0 0L533.8 137m0 0L534.0 125m0 0L534.1 131m0 0L534.3 135m0 0L534.4 129m0 0L534.5 130m0 0L534.7 123m0 0L534.8 134m0 0L534.9 121m0 0L535.1 140m0 0L535.2 128m0 0L535.3 129m0 0L535.5 128m0 0L535.6 126m0 0L535.7 129m0 0L535.9 115m0 0L536.0 125m0 0L536.1 122m0 0L536.3 126m0 0L536.4 114m0 0L536.5 130m0 0L536.7 122m0 0L536.8 115m0 0L536.9 129m0 0L537.1 129m0 0L537.2 114m0 0L537.3 134m0 0L537.5 112m0 0L537.6 131m0 0L537.7 108m0 0L537.9 122m0 0L538.0 99m0 0L538.1 115m0 0L538.3 134m0 0L538.4 112m0 0L538.5 124m0 0L538.7 130m0 0L538.8 123m0 0L538.9 127m0 0L539.1 120m0 0L539.2 124m0 0L539.3 117m0 0L539.5 130m0 0L539.6 125m0 0L539.7 126m0 0L539.9 125m0 0L540.0 127m0 0L540.1 133m0 0L540.3 122m0 0L540.4 132m0 0L540.5 127m0 0L540.7 123m0 0L540.8 133m0 0L540.9 124m0 0L541.1 131m0 0L541.2 138m0 0L541.3 127m0 0L541.5 132m0 0L541.6 135m0 0L541.7 127m0 0L541.9 128m0 0L542.0 135m0 0L542.1 124m0 0L542.3 147m0 0L542.4 130m0 0L542.5 129m0 0L542.7 126m0 0L542.8 133m0 0L542.9 136m0 0L543.1 117m0 0L543.2 141m0 0L543.3 125m0 0L543.5 140m0 0L543.6 116m0 0L543.7 127m0 0L543.9 137m0 0L544.0 117m0 0L544.1 146m0 0L544.3 132m0 0L544.4 128m0 0L544.5 124m0 0L544.7 119m0 0L544.8 117m0 0L544.9 137m0 0L545.1 122m0 0L545.2 129m0 0L545.3 115m0 0L545.5 118m0 0L545.6 143m0 0L545.7 114m0 0L545.9 129m0 0L546.0 123m0 0L546.1 133m0 0L546.3 144m0 0L546.4 135m0 0L546.5 128m0 0L546.7 130m0 0L546.8 133m0 0L546.9 146m0 0L547.1 114m0 0L547.2 119m0 0L547.3 114m0 0L547.5 128m0 0L547.6 138m0 0L547.7 135m0 0L547.9 131m0 0L548.0 126m0 0L548.1 117m0 0L548.3 142m0 0L548.4 143m0 0L548.5 140m0 0L548.7 119m0 0L548.8 140m0 0L548.9 137m0 0L549.1 142m0 0L549.2 124m0 0L549.3 115m0 0L549.5 126m0 0L549.6 114m0 0L549.7 114m0 0L549.9 133m0 0L550.0 121m0 0L550.1 135m0 0L550.3 130m0 0L550.4 133m0 0L550.5 133m0 0L550.7 123m0 0L550.8 121m0 0L550.9 118m0 0L551.1 129m0 0L551.2 150m0 0L551.3 140m0 0L551.5 132m0 0L551.6 134m0 0L551.7 137m0 0L551.9 131m0 0L552.0 107m0 0L552.1 133m0 0L552.3 141m0 0L552.4 123m0 0L552.5 125m0 0L552.7 139m0 0L552.8 137m0 0L552.9 113m0 0L553.1 123m0 0L553.2 113m0 0L553.3 123m0 0L553.5 126m0 0L553.6 133m0 0L553.7 123m0 0L553.9 113m0 0L554.0 114m0 0L554.1 134m0 0L554.3 100m0 0L554.4 134m0 0L554.5 123m0 0L554.7 141m0 0L554.8 129m0 0L554.9 150m0 0L555.1 152m0 0L555.2 129m0 0L555.3 123m0 0L555.5 128m0 0L555.6 110m0 0L555.7 130m0 0L555.9 139m0 0L556.0 129m0 0L556.1 118m0 0L556.3 125m0 0L556.4 125m0 0L556.5 114m0 0L556.7 125m0 0L556.8 135m0 0L556.9 131m0 0L557.1 133m0 0L557.2 129m0 0L557.3 138m0 0L557.5 128m0 0L557.6 129m0 0L557.7 128m0 0L557.9 128m0 0L558.0 147m0 0L558.1 140m0 0L558.3 131m0 0L558.4 124m0 0L558.5 142m0 0L558.7 120m0 0L558.8 127m0 0L558.9 111m0 0L559.1 121m0 0L559.2 110m0 0L559.3 125m0 0L559.5 133m0 0L559.6 122m0 0L559.7 130m0 0L559.9 134m0 0L560.0 141m0 0L560.1 142m0 0L560.3 122m0 0L560.4 123m0 0L560.5 135m0 0L560.7 128m0 0L560.8 123m0 0L560.9 132m0 0L561.1 138m0 0L561.2 123m0 0L561.3 123m0 0L561.5 124m0 0L561.6 133m0 0L561.7 135m0 0L561.9 121m0 0L562.0 132m0 0L562.1 124m0 0L562.3 121m0 0L562.4 127m0 0L562.5 136m0 0L562.7 126m0 0L562.8 115m0 0L562.9 136m0 0L563.1 145m0 0L563.2 138m0 0L563.3 118m0 0L563.5 134m0 0L563.6 134m0 0L563.7 134m0 0L563.9 150m0 0L564.0 134m0 0L564.1 133m0 0L564.3 135m0 0L564.4 131m0 0L564.5 132m0 0L564.7 117m0 0L564.8 131m0 0L564.9 118m0 0L565.1 124m0 0L565.2 152m0 0L565.3 120m0 0L565.5 121m0 0L565.6 126m0 0L565.7 131m0 0L565.9 136m0 0L566.0 133m0 0L566.1 126m0 0L566.3 120m0 0L566.4 122m0 0L566.5 141m0 0L566.7 123m0 0L566.8 125m0 0L566.9 148m0 0L567.1 123m0 0L567.2 116m0 0L567.3 119m0 0L567.5 118m0 0L567.6 133m0 0L567.7 124m0 0L567.9 120m0 0L568.0 120m0 0L568.1 125m0 0L568.3 132m0 0L568.4 123m0 0L568.5 136m0 0L568.7 116m0 0L568.8 134m0 0L568.9 142m0 0L569.1 124m0 0L569.2 140m0 0L569.4 138m0 0L569.5 129m0 0L569.6 134m0 0L569.8 152m0 0L569.9 114m0 0L570.0 131m0 0L570.2 125m0 0L570.3 136m0 0L570.4 120m0 0L570.6 114m0 0L570.7 114m0 0L570.8 122m0 0L571.0 132m0 0L571.1 118m0 0L571.2 122m0 0L571.4 115m0 0L571.5 136m0 0L571.6 144m0 0L571.8 122m0 0L571.9 133m0 0L572.0 133m0 0L572.2 114m0 0L572.3 127m0 0L572.4 126m0 0L572.6 126m0 0L572.7 139m0 0L572.8 113m0 0L573.0 130m0 0L573.1 134m0 0L573.2 124m0 0L573.4 135m0 0L573.5 80m0 0L573.6 128m0 0L573.8 121m0 0L573.9 143m0 0L574.0 116m0 0L574.2 138m0 0L574.3 119m0 0L574.4 122m0 0L574.6 131m0 0L574.7 134m0 0L574.8 138m0 0L575.0 128m0 0L575.1 124m0 0L575.2 125m0 0L575.4 130m0 0L575.5 137m0 0L575.6 122m0 0L575.8 126m0 0L575.9 125m0 0L576.0 128m0 0L576.2 122m0 0L576.3 138m0 0L576.4 130m0 0L576.6 132m0 0L576.7 125m0 0L576.8 122m0 0L577.0 126m0 0L577.1 144m0 0L577.2 131m0 0L577.4 134m0 0L577.5 135m0 0L577.6 127m0 0L577.8 140m0 0L577.9 120m0 0L578.0 129m0 0L578.2 134m0 0L578.3 116m0 0L578.4 121m0 0L578.6 138m0 0L578.7 123m0 0L578.8 132m0 0L579.0 143m0 0L579.1 119m0 0L579.2 126m0 0L579.4 134m0 0L579.5 122m0 0L579.6 146m0 0L579.8 119m0 0L579.9 135m0 0L580.0 130m0 0L580.2 132m0 0L580.3 141m0 0L580.4 145m0 0L580.6 131m0 0L580.7 140m0 0L580.8 125m0 0L581.0 119m0 0L581.1 132m0 0L581.2 116m0 0L581.4 133m0 0L581.5 128m0 0L581.6 126m0 0L581.8 128m0 0L581.9 134m0 0L582.0 151m0 0L582.2 138m0 0L582.3 134m0 0L582.4 136m0 0L582.6 127m0 0L582.7 133m0 0L582.8 143m0 0L583.0 121m0 0L583.1 136m0 0L583.2 119m0 0L583.4 129m0 0L583.5 118m0 0L583.6 136m0 0L583.8 140m0 0L583.9 132m0 0L584.0 139m0 0L584.2 127m0 0L584.3 144m0 0L584.4 143m0 0L584.6 134m0 0L584.7 144m0 0L584.8 114m0 0L585.0 133m0 0L585.1 123m0 0L585.2 123m0 0L585.4 123m0 0L585.5 116m0 0L585.6 120m0 0L585.8 122m0 0L585.9 138m0 0L586.0 132m0 0L586.2 131m0 0L586.3 119m0 0L586.4 116m0 0L586.6 133m0 0L586.7 127m0 0L586.8 138m0 0L587.0 124m0 0L587.1 143m0 0L587.2 133m0 0L587.4 124m0 0L587.5 127m0 0L587.6 136m0 0L587.8 129m0 0L587.9 131m0 0L588.0 135m0 0L588.2 117m0 0L588.3 129m0 0L588.4 126m0 0L588.6 130m0 0L588.7 130m0 0L588.8 128m0 0L589.0 126m0 0L589.1 133m0 0L589.2 129m0 0L589.4 124m0 0L589.5 122m0 0L589.6 132m0 0L589.8 125m0 0L589.9 128m0 0L590.0 119m0 0L590.2 146m0 0L590.3 142m0 0L590.4 132m0 0L590.6 118m0 0L590.7 133m0 0L590.8 132m0 0L591.0 121m0 0L591.1 123m0 0L591.2 124m0 0L591.4 144m0 0L591.5 147m0 0L591.6 139m0 0L591.8 125m0 0L591.9 122m0 0L592.0 124m0 0L592.2 116m0 0L592.3 145m0 0L592.4 137m0 0L592.6 131m0 0L592.7 130m0 0L592.8 116m0 0L593.0 131m0 0L593.1 132m0 0L593.2 153m0 0L593.4 125m0 0L593.5 136m0 0L593.6 135m0 0L593.8 121m0 0L593.9 120m0 0L594.0 119m0 0L594.2 139m0 0L594.3 124m0 0L594.4 122m0 0L594.6 137m0 0L594.7 123m0 0L594.8 129m0 0L595.0 117m0 0L595.1 120m0 0L595.2 121m0 0L595.4 132m0 0L595.5 122m0 0L595.6 139m0 0L595.8 130m0 0L595.9 125m0 0L596.0 121m0 0L596.2 131m0 0L596.3 117m0 0L596.4 122m0 0L596.6 127m0 0L596.7 128m0 0L596.8 148m0 0L597.0 125m0 0L597.1 136m0 0L597.2 132m0 0L597.4 127m0 0L597.5 106m0 0L597.6 121m0 0L597.8 126m0 0L597.9 122m0 0L598.0 126m0 0L598.2 127m0 0L598.3 128m0 0L598.4 129m0 0L598.6 130m0 0L598.7 136m0 0L598.8 118m0 0L599.0 115m0 0L599.1 137m0 0L599.2 124m0 0L599.4 120m0 0L599.5 126m0 0L599.6 121m0 0L599.8 127m0 0L599.9 135m0 0L600.0 115m0 0L600.2 131m0 0L600.3 137m0 0L600.4 117m0 0L600.6 144m0 0L600.7 135m0 0L600.8 131m0 0L601.0 133m0 0L601.1 130m0 0L601.2 109m0 0L601.4 141m0 0L601.5 123m0 0L601.6 113m0 0L601.8 130m0 0L601.9 137m0 0L602.0 115m0 0L602.2 103m0 0L602.3 137m0 0L602.4 124m0 0L602.6 142m0 0L602.7 131m0 0L602.8 112m0 0L603.0 122m0 0L603.1 121m0 0L603.2 130m0 0L603.4 127m0 0L603.5 120m0 0L603.6 141m0 0L603.8 123m0 0L603.9 129m0 0L604.1 126m0 0L604.2 116m0 0L604.3 141m0 0L604.5 148m0 0L604.6 128m0 0L604.7 128m0 0L604.9 121m0 0L605.0 126m0 0L605.1 125m0 0L605.3 119m0 0L605.4 115m0 0L605.5 134m0 0L605.7 122m0 0L605.8 149m0 0L605.9 136m0 0L606.1 138m0 0L606.2 136m0 0L606.3 124m0 0L606.5 131m0 0L606.6 121m0 0L606.7 125m0 0L606.9 131m0 0L607.0 122m0 0L607.1 136m0 0L607.3 138m0 0L607.4 127m0 0L607.5 137m0 0L607.7 133m0 0L607.8 131m0 0L607.9 141m0 0L608.1 117m0 0L608.2 150m0 0L608.3 145m0 0L608.5 126m0 0L608.6 124m0 0L608.7 133m0 0L608.9 143m0 0L609.0 140m0 0L609.1 129m0 0L609.3 138m0 0L609.4 145m0 0L609.5 130m0 0L609.7 112m0 0L609.8 143m0 0L609.9 133m0 0L610.1 122m0 0L610.2 132m0 0L610.3 142m0 0L610.5 134m0 0L610.6 127m0 0L610.7 128m0 0L610.9 136m0 0L611.0 140m0 0L611.1 130m0 0L611.3 136m0 0L611.4 124m0 0L611.5 135m0 0L611.7 116m0 0L611.8 123m0 0L611.9 134m0 0L612.1 135m0 0L612.2 136m0 0L612.3 139m0 0L612.5 121m0 0L612.6 134m0 0L612.7 131m0 0L612.9 130m0 0L613.0 125m0 0L613.1 141m0 0L613.3 147m0 0L613.4 127m0 0L613.5 136m0 0L613.7 135m0 0L613.8 145m0 0L613.9 133m0 0L614.1 128m0 0L614.2 133m0 0L614.3 147m0 0L614.5 131m0 0L614.6 131m0 0L614.7 129m0 0L614.9 107m0 0L615.0 130m0 0L615.1 121m0 0L615.3 132m0 0L615.4 130m0 0L615.5 132m0 0L615.7 129m0 0L615.8 127m0 0L615.9 133m0 0L616.1 132m0 0L616.2 127m0 0L616.3 117m0 0L616.5 123m0 0L616.6 125m0 0L616.7 141m0 0L616.9 126m0 0L617.0 132m0 0L617.1 123m0 0L617.3 110m0 0L617.4 122m0 0L617.5 116m0 0L617.7 111m0 0L617.8 138m0 0L617.9 127m0 0L618.1 123m0 0L618.2 127m0 0L618.3 116m0 0L618.5 132m0 0L618.6 132m0 0L618.7 135m0 0L618.9 119m0 0L619.0 130m0 0L619.1 128m0 0L619.3 128m0 0L619.4 124m0 0L619.5 141m0 0L619.7 124m0 0L619.8 130m0 0L619.9 138m0 0L620.1 127m0 0L620.2 132m0 0L620.3 118m0 0L620.5 138m0 0L620.6 129m0 0L620.7 123m0 0L620.9 129m0 0L621.0 147m0 0L621.1 140m0 0L621.3 138m0 0L621.4 142m0 0L621.5 133m0 0L621.7 146m0 0L621.8 120m0 0L621.9 139m0 0L622.1 126m0 0L622.2 129m0 0L622.3 109m0 0L622.5 121m0 0L622.6 112m0 0L622.7 109m0 0L622.9 129m0 0L623.0 137m0 0L623.1 118m0 0L623.3 120m0 0L623.4 138m0 0L623.5 112m0 0L623.7 142m0 0L623.8 121m0 0L623.9 130m0 0L624.1 132m0 0L624.2 142m0 0L624.3 137m0 0L624.5 117m0 0L624.6 131m0 0L624.7 143m0 0L624.9 130m0 0L625.0 120m0 0L625.1 131m0 0L625.3 146m0 0L625.4 125m0 0L625.5 129m0 0L625.7 134m0 0L625.8 114m0 0L625.9 110m0 0L626.1 142m0 0L626.2 129m0 0L626.3 129m0 0L626.5 125m0 0L626.6 125m0 0L626.7 122m0 0L626.9 136m0 0L627.0 125m0 0L627.1 145m0 0L627.3 131m0 0L627.4 147m0 0L627.5 132m0 0L627.7 137m0 0L627.8 104m0 0L627.9 129m0 0L628.1 133m0 0L628.2 122m0 0L628.3 143m0 0L628.5 114m0 0L628.6 129m0 0L628.7 137m0 0L628.9 142m0 0L629.0 128m0 0L629.1 126m0 0L629.3 136m0 0L629.4 129m0 0L629.5 125m0 0L629.7 117m0 0L629.8 129m0 0L629.9 136m0 0L630.1 134m0 0L630.2 117m0 0L630.3 126m0 0L630.5 129m0 0L630.6 144m0 0L630.7 137m0 0L630.9 115m0 0L631.0 128m0 0L631.1 130m0 0L631.3 111m0 0L631.4 136m0 0L631.5 137m0 0L631.7 124m0 0L631.8 124m0 0L631.9 132m0 0L632.1 114m0 0L632.2 115m0 0L632.3 129m0 0L632.5 116m0 0L632.6 122m0 0L632.7 125m0 0L632.9 128m0 0L633.0 136m0 0L633.1 135m0 0L633.3 139m0 0L633.4 136m0 0L633.5 118m0 0L633.7 110m0 0L633.8 131m0 0L633.9 142m0 0L634.1 111m0 0L634.2 141m0 0L634.3 135m0 0L634.5 122m0 0L634.6 138m0 0L634.7 130m0 0L634.9 133m0 0L635.0 128m0 0L635.1 124m0 0L635.3 122m0 0L635.4 121m0 0L635.5 124m0 0L635.7 156m0 0L635.8 127m0 0L635.9 135m0 0L636.1 144m0 0L636.2 123m0 0L636.3 129m0 0L636.5 99m0 0L636.6 124m0 0L636.7 120m0 0L636.9 138m0 0L637.0 136m0 0L637.1 136m0 0L637.3 125m0 0L637.4 124m0 0L637.5 125m0 0L637.7 126m0 0L637.8 130m0 0L637.9 128m0 0L638.1 124m0 0L638.2 128m0 0L638.3 134m0 0L638.5 117m0 0L638.6 138m0 0L638.7 134m0 0L638.9 137m0 0L639.0 122m0 0L639.2 121m0 0L639.3 127m0 0L639.4 135m0 0L639.6 116m0 0L639.7 128m0 0L639.8 122m0 0L640.0 120m0 0L640.1 133m0 0L640.2 134m0 0L640.4 115m0 0L640.5 135m0 0L640.6 120m0 0L640.8 119m0 0L640.9 112m0 0L641.0 137m0 0L641.2 136m0 0L641.3 138m0 0L641.4 123m0 0L641.6 133m0 0L641.7 121m0 0L641.8 128m0 0L642.0 123m0 0L642.1 125m0 0L642.2 118m0 0L642.4 124m0 0L642.5 128m0 0L642.6 125m0 0L642.8 114m0 0L642.9 127m0 0L643.0 136m0 0L643.2 123m0 0L643.3 122m0 0L643.4 126m0 0L643.6 134m0 0L643.7 126m0 0L643.8 125m0 0L644.0 122m0 0L644.1 115m0 0L644.2 124m0 0L644.4 127m0 0L644.5 136m0 0L644.6 116m0 0L644.8 127m0 0L644.9 140m0 0L645.0 141m0 0L645.2 133m0 0L645.3 120m0 0L645.4 130m0 0L645.6 128m0 0L645.7 140m0 0L645.8 130m0 0L646.0 116m0 0L646.1 131m0 0L646.2 128m0 0L646.4 130m0 0L646.5 138m0 0L646.6 124m0 0L646.8 135m0 0L646.9 126m0 0L647.0 126m0 0L647.2 120m0 0L647.3 133m0 0L647.4 123m0 0L647.6 119m0 0L647.7 144m0 0L647.8 118m0 0L648.0 127m0 0L648.1 139m0 0L648.2 134m0 0L648.4 122m0 0L648.5 138m0 0L648.6 137m0 0L648.8 137m0 0L648.9 122m0 0L649.0 120m0 0L649.2 127m0 0L649.3 137m0 0L649.4 124m0 0L649.6 132m0 0L649.7 86m0 0L649.8 141m0 0L650.0 134m0 0L650.1 129m0 0L650.2 122m0 0L650.4 129m0 0L650.5 118m0 0L650.6 113m0 0L650.8 126m0 0L650.9 126m0 0L651.0 126m0 0L651.2 124m0 0L651.3 143m0 0L651.4 124m0 0L651.6 119m0 0L651.7 120m0 0L651.8 136m0 0L652.0 123m0 0L652.1 130m0 0L652.2 126m0 0L652.4 126m0 0L652.5 129m0 0L652.6 129m0 0L652.8 137m0 0L652.9 131m0 0L653.0 116m0 0L653.2 121m0 0L653.3 136m0 0L653.4 120m0 0L653.6 121m0 0L653.7 124m0 0L653.8 122m0 0L654.0 130m0 0L654.1 140m0 0L654.2 123m0 0L654.4 125m0 0L654.5 118m0 0L654.6 149m0 0L654.8 122m0 0L654.9 140m0 0L655.0 127m0 0L655.2 109m0 0L655.3 131m0 0L655.4 131m0 0L655.6 135m0 0L655.7 122m0 0L655.8 130m0 0L656.0 118m0 0L656.1 131m0 0L656.2 130m0 0L656.4 134m0 0L656.5 122m0 0L656.6 145m0 0L656.8 123m0 0L656.9 128m0 0L657.0 128m0 0L657.2 132m0 0L657.3 113m0 0L657.4 128m0 0L657.6 127m0 0L657.7 128m0 0L657.8 134m0 0L658.0 133m0 0L658.1 128m0 0L658.2 120m0 0L658.4 115m0 0L658.5 121m0 0L658.6 124m0 0L658.8 140m0 0L658.9 125m0 0L659.0 120m0 0L659.2 119m0 0L659.3 116m0 0L659.4 114m0 0L659.6 137m0 0L659.7 139m0 0L659.8 132m0 0L660.0 126m0 0L660.1 124m0 0L660.2 124m0 0L660.4 113m0 0L660.5 127m0 0L660.6 129m0 0L660.8 141m0 0L660.9 136m0 0L661.0 138m0 0L661.2 107m0 0L661.3 111m0 0L661.4 111m0 0L661.6 120m0 0L661.7 135m0 0L661.8 136m0 0L662.0 127m0 0L662.1 126m0 0L662.2 123m0 0L662.4 143m0 0L662.5 124m0 0L662.6 119m0 0L662.8 131m0 0L662.9 128m0 0L663.0 138m0 0L663.2 114m0 0L663.3 131m0 0L663.4 131m0 0L663.6 146m0 0L663.7 137m0 0L663.8 146m0 0L664.0 122m0 0L664.1 120m0 0L664.2 119m0 0L664.4 125m0 0L664.5 134m0 0L664.6 122m0 0L664.8 124m0 0L664.9 145m0 0L665.0 119m0 0L665.2 125m0 0L665.3 132m0 0L665.4 125m0 0L665.6 147m0 0L665.7 129m0 0L665.8 142m0 0L666.0 142m0 0L666.1 131m0 0L666.2 131m0 0L666.4 115m0 0L666.5 127m0 0L666.6 132m0 0L666.8 133m0 0L666.9 129m0 0L667.0 111m0 0L667.2 125m0 0L667.3 138m0 0L667.4 137m0 0L667.6 136m0 0L667.7 123m0 0L667.8 144m0 0L668.0 123m0 0L668.1 122m0 0L668.2 123m0 0L668.4 120m0 0L668.5 116m0 0L668.6 111m0 0L668.8 151m0 0L668.9 143m0 0L669.0 114m0 0L669.2 116m0 0L669.3 134m0 0L669.4 114m0 0L669.6 151m0 0L669.7 150m0 0L669.8 115m0 0L670.0 136m0 0L670.1 134m0 0L670.2 130m0 0L670.4 130m0 0L670.5 133m0 0L670.6 132m0 0L670.8 128m0 0L670.9 135m0 0L671.0 134m0 0L671.2 134m0 0L671.3 134m0 0L671.4 139m0 0L671.6 121m0 0L671.7 125m0 0L671.8 123m0 0L672.0 139m0 0L672.1 117m0 0L672.2 131m0 0L672.4 128m0 0L672.5 119m0 0L672.6 136m0 0L672.8 135m0 0L672.9 135m0 0L673.0 123m0 0L673.2 128m0 0L673.3 129m0 0L673.4 115m0 0L673.6 138m0 0L673.7 137m0 0L673.9 127m0 0L674.0 115m0 0L674.1 137m0 0L674.3 142m0 0L674.4 139m0 0L674.5 124m0 0L674.7 124m0 0L674.8 108m0 0L674.9 129m0 0L675.1 131m0 0L675.2 125m0 0L675.3 127m0 0L675.5 132m0 0L675.6 133m0 0L675.7 126m0 0L675.9 127m0 0L676.0 137m0 0L676.1 113m0 0L676.3 106m0 0L676.4 147m0 0L676.5 135m0 0L676.7 124m0 0L676.8 145m0 0L676.9 136m0 0L677.1 129m0 0L677.2 155m0 0L677.3 125m0 0L677.5 127m0 0L677.6 114m0 0L677.7 129m0 0L677.9 128m0 0L678.0 129m0 0L678.1 146m0 0L678.3 120m0 0L678.4 126m0 0L678.5 126m0 0L678.7 119m0 0L678.8 133m0 0L678.9 125m0 0L679.1 126m0 0L679.2 133m0 0L679.3 131m0 0L679.5 139m0 0L679.6 143m0 0L679.7 143m0 0L679.9 138m0 0L680.0 133m0 0L680.1 127m0 0L680.3 119m0 0L680.4 138m0 0L680.5 123m0 0L680.7 132m0 0L680.8 120m0 0L680.9 124m0 0L681.1 120m0 0L681.2 128m0 0L681.3 138m0 0L681.5 121m0 0L681.6 125m0 0L681.7 121m0 0L681.9 137m0 0L682.0 137m0 0L682.1 119m0 0L682.3 114m0 0L682.4 118m0 0L682.5 135m0 0L682.7 116m0 0L682.8 124m0 0L682.9 136m0 0L683.1 117m0 0L683.2 117m0 0L683.3 106m0 0L683.5 115m0 0L683.6 135m0 0L683.7 116m0 0L683.9 116m0 0L684.0 123m0 0L684.1 126m0 0L684.3 139m0 0L684.4 124m0 0L684.5 127m0 0L684.7 126m0 0L684.8 135m0 0L684.9 126m0 0L685.1 141m0 0L685.2 131m0 0L685.3 130m0 0L685.5 140m0 0L685.6 142m0 0L685.7 122m0 0L685.9 113m0 0L686.0 123m0 0L686.1 143m0 0L686.3 138m0 0L686.4 148m0 0L686.5 129m0 0L686.7 123m0 0L686.8 123m0 0L686.9 123m0 0L687.1 131m0 0L687.2 111m0 0L687.3 136m0 0L687.5 120m0 0L687.6 102m0 0L687.7 125m0 0L687.9 130m0 0L688.0 128m0 0L688.1 137m0 0L688.3 136m0 0L688.4 130m0 0L688.5 122m0 0L688.7 119m0 0L688.8 124m0 0L688.9 108m0 0L689.1 122m0 0L689.2 135m0 0L689.3 133m0 0L689.5 147m0 0L689.6 118m0 0L689.7 117m0 0L689.9 114m0 0L690.0 128m0 0L690.1 129m0 0L690.3 123m0 0L690.4 100m0 0L690.5 127m0 0L690.7 134m0 0L690.8 118m0 0L690.9 126m0 0L691.1 141m0 0L691.2 113m0 0L691.3 137m0 0L691.5 125m0 0L691.6 131m0 0L691.7 123m0 0L691.9 124m0 0L692.0 133m0 0L692.1 120m0 0L692.3 118m0 0L692.4 123m0 0L692.5 131m0 0L692.7 122m0 0L692.8 121m0 0L692.9 139m0 0L693.1 118m0 0L693.2 112m0 0L693.3 115m0 0L693.5 127m0 0L693.6 130m0 0L693.7 119m0 0L693.9 125m0 0L694.0 148m0 0L694.1 133m0 0L694.3 119m0 0L694.4 127m0 0L694.5 125m0 0L694.7 139m0 0L694.8 140m0 0L694.9 116m0 0L695.1 117m0 0L695.2 138m0 0L695.3 129m0 0L695.5 144m0 0L695.6 140m0 0L695.7 121m0 0L695.9 120m0 0L696.0 137m0 0L696.1 143m0 0L696.3 115m0 0L696.4 142m0 0L696.5 132m0 0L696.7 124m0 0L696.8 108m0 0L696.9 128m0 0L697.1 117m0 0L697.2 127m0 0L697.3 136m0 0L697.5 135m0 0L697.6 127m0 0L697.7 113m0 0L697.9 131m0 0L698.0 131m0 0L698.1 117m0 0L698.3 139m0 0L698.4 131m0 0L698.5 130m0 0L698.7 119m0 0L698.8 113m0 0L698.9 131m0 0L699.1 134m0 0L699.2 129m0 0L699.3 112m0 0L699.5 133m0 0L699.6 139m0 0L699.7 134m0 0L699.9 124m0 0L700.0 116m0 0L700.1 133m0 0L700.3 117m0 0L700.4 136m0 0L700.5 129m0 0L700.7 127m0 0L700.8 143m0 0L700.9 133m0 0L701.1 118m0 0L701.2 128m0 0L701.3 128m0 0L701.5 121m0 0L701.6 125m0 0L701.7 135m0 0L701.9 134m0 0L702.0 119m0 0L702.1 133m0 0L702.3 120m0 0L702.4 136m0 0L702.5 130m0 0L702.7 144m0 0L702.8 114m0 0L702.9 128m0 0L703.1 120m0 0L703.2 133m0 0L703.3 130m0 0L703.5 127m0 0L703.6 144m0 0L703.7 128m0 0L703.9 143m0 0L704.0 132m0 0L704.1 124m0 0L704.3 121m0 0L704.4 131m0 0L704.5 125m0 0L704.7 142m0 0L704.8 133m0 0L704.9 142m0 0L705.1 133m0 0L705.2 139m0 0L705.3 132m0 0L705.5 128m0 0L705.6 122m0 0L705.7 137m0 0L705.9 122m0 0L706.0 121m0 0L706.1 118m0 0L706.3 133m0 0L706.4 112m0 0L706.5 123m0 0L706.7 117m0 0L706.8 121m0 0L706.9 128m0 0L707.1 150m0 0L707.2 135m0 0L707.3 137m0 0L707.5 136m0 0L707.6 101m0 0L707.7 138m0 0L707.9 130m0 0L708.0 134m0 0L708.1 135m0 0L708.3 132m0 0L708.4 104m0 0L708.5 94m0 0L708.7 128m0 0L708.8 128m0 0L709.0 124m0 0L709.1 130m0 0L709.2 123m0 0L709.4 121m0 0L709.5 120m0 0L709.6 138m0 0L709.8 123m0 0L709.9 149m0 0L710.0 126m0 0L710.2 139m0 0L710.3 129m0 0L710.4 132m0 0L710.6 131m0 0L710.7 125m0 0L710.8 144m0 0L711.0 112m0 0L711.1 125m0 0L711.2 129m0 0L711.4 129m0 0L711.5 121m0 0L711.6 122m0 0L711.8 133m0 0L711.9 142m0 0L712.0 143m0 0L712.2 135m0 0L712.3 127m0 0L712.4 139m0 0L712.6 121m0 0L712.7 94m0 0L712.8 110m0 0L713.0 137m0 0L713.1 140m0 0L713.2 136m0 0L713.4 128m0 0L713.5 137m0 0L713.6 130m0 0L713.8 132m0 0L713.9 137m0 0L714.0 119m0 0L714.2 135m0 0L714.3 124m0 0L714.4 132m0 0L714.6 142m0 0L714.7 131m0 0L714.8 130m0 0L715.0 137m0 0L715.1 134m0 0L715.2 118m0 0L715.4 121m0 0L715.5 139m0 0L715.6 143m0 0L715.8 121m0 0L715.9 120m0 0L716.0 125m0 0L716.2 114m0 0L716.3 126m0 0L716.4 123m0 0L716.6 126m0 0L716.7 117m0 0L716.8 135m0 0L717.0 131m0 0L717.1 125m0 0L717.2 128m0 0L717.4 124m0 0L717.5 110m0 0L717.6 140m0 0L717.8 141m0 0L717.9 133m0 0L718.0 144m0 0L718.2 128m0 0L718.3 136m0 0L718.4 130m0 0L718.6 141m0 0L718.7 118m0 0L718.8 135m0 0L719.0 128m0 0L719.1 107m0 0L719.2 123m0 0L719.4 118m0 0L719.5 131m0 0L719.6 147m0 0L719.8 121m0 0L719.9 136m0 0L720.0 128m0 0L720.2 126m0 0L720.3 125m0 0L720.4 113m0 0L720.6 110m0 0L720.7 135m0 0L720.8 137m0 0L721.0 108m0 0L721.1 143m0 0L721.2 122m0 0L721.4 130m0 0L721.5 118m0 0L721.6 131m0 0L721.8 133m0 0L721.9 128m0 0L722.0 127m0 0L722.2 124m0 0L722.3 141m0 0L722.4 130m0 0L722.6 129m0 0L722.7 140m0 0L722.8 133m0 0L723.0 105m0 0L723.1 120m0 0L723.2 128m0 0L723.4 141m0 0L723.5 144m0 0L723.6 128m0 0L723.8 137m0 0L723.9 113m0 0L724.0 120m0 0L724.2 138m0 0L724.3 128m0 0L724.4 114m0 0L724.6 138m0 0L724.7 120m0 0L724.8 133m0 0L725.0 137m0 0L725.1 71m0 0L725.2 119m0 0L725.4 130m0 0L725.5 130m0 0L725.6 120m0 0L725.8 138m0 0L725.9 123m0 0L726.0 129m0 0L726.2 121m0 0L726.3 127m0 0L726.4 101m0 0L726.6 111m0 0L726.7 127m0 0L726.8 121m0 0L727.0 128m0 0L727.1 135m0 0L727.2 131m0 0L727.4 129m0 0L727.5 131m0 0L727.6 126m0 0L727.8 115m0 0L727.9 122m0 0L728.0 132m0 0L728.2 117m0 0L728.3 144m0 0L728.4 132m0 0L728.6 124m0 0L728.7 133m0 0L728.8 120m0 0L729.0 105m0 0L729.1 128m0 0L729.2 128m0 0L729.4 138m0 0L729.5 140m0 0L729.6 123m0 0L729.8 127m0 0L729.9 128m0 0L730.0 138m0 0L730.2 119m0 0L730.3 122m0 0L730.4 131m0 0L730.6 129m0 0L730.7 117m0 0L730.8 122m0 0L731.0 118m0 0L731.1 117m0 0L731.2 134m0 0L731.4 120m0 0L731.5 126m0 0L731.6 130m0 0L731.8 133m0 0L731.9 123m0 0L732.0 123m0 0L732.2 119m0 0L732.3 137m0 0L732.4 110m0 0L732.6 153m0 0L732.7 115m0 0L732.8 121m0 0L733.0 104m0 0L733.1 122m0 0L733.2 131m0 0L733.4 135m0 0L733.5 121m0 0L733.6 135m0 0L733.8 140m0 0L733.9 124m0 0L734.0 135m0 0L734.2 135m0 0L734.3 150m0 0L734.4 132m0 0L734.6 121m0 0L734.7 136m0 0L734.8 129m0 0L735.0 118m0 0L735.1 125m0 0L735.2 126m0 0L735.4 132m0 0L735.5 127m0 0L735.6 129m0 0L735.8 115m0 0L735.9 125m0 0L736.0 120m0 0L736.2 132m0 0L736.3 120m0 0L736.4 131m0 0L736.6 123m0 0L736.7 122m0 0L736.8 134m0 0L737.0 124m0 0L737.1 123m0 0L737.2 146m0 0L737.4 128m0 0L737.5 133m0 0L737.6 117m0 0L737.8 134m0 0L737.9 130m0 0L738.0 127m0 0L738.2 127m0 0L738.3 138m0 0L738.4 112m0 0L738.6 111m0 0L738.7 131m0 0L738.8 125m0 0L739.0 131m0 0L739.1 129m0 0L739.2 129m0 0L739.4 129m0 0L739.5 123m0 0L739.6 122m0 0L739.8 127m0 0L739.9 130m0 0L740.0 131m0 0L740.2 143m0 0L740.3 122m0 0L740.4 126m0 0L740.6 134m0 0L740.7 131m0 0L740.8 156m0 0L741.0 136m0 0L741.1 119m0 0L741.2 141m0 0L741.4 111m0 0L741.5 133m0 0L741.6 130m0 0L741.8 132m0 0L741.9 138m0 0L742.0 138m0 0L742.2 140m0 0L742.3 134m0 0L742.4 137m0 0L742.6 121m0 0L742.7 117m0 0L742.8 114m0 0L743.0 135m0 0L743.1 127m0 0L743.2 126m0 0L743.4 132m0 0L743.5 134m0 0L743.7 131m0 0L743.8 118m0 0L743.9 138m0 0L744.1 122m0 0L744.2 129m0 0L744.3 125m0 0L744.5 126m0 0L744.6 135m0 0L744.7 137m0 0L744.9 141m0 0L745.0 129m0 0L745.1 127m0 0L745.3 120m0 0L745.4 117m0 0L745.5 121m0 0L745.7 123m0 0L745.8 132m0 0L745.9 136m0 0L746.1 122m0 0L746.2 130m0 0L746.3 131m0 0L746.5 137m0 0L746.6 114m0 0L746.7 131m0 0L746.9 137m0 0L747.0 132m0 0L747.1 142m0 0L747.3 145m0 0L747.4 127m0 0L747.5 143m0 0L747.7 129m0 0L747.8 142m0 0L747.9 121m0 0L748.1 146m0 0L748.2 92m0 0L748.3 124m0 0L748.5 121m0 0L748.6 139m0 0L748.7 141m0 0L748.9 133m0 0L749.0 122m0 0L749.1 120m0 0L749.3 110m0 0L749.4 128m0 0L749.5 116m0 0L749.7 140m0 0L749.8 122m0 0L749.9 116m0 0L750.1 130m0 0L750.2 124m0 0L750.3 116m0 0L750.5 143m0 0L750.6 128m0 0L750.7 127m0 0L750.9 130m0 0L751.0 132m0 0L751.1 131m0 0L751.3 128m0 0L751.4 125m0 0L751.5 146m0 0L751.7 124m0 0L751.8 131m0 0L751.9 127m0 0L752.1 145m0 0L752.2 107m0 0L752.3 132m0 0L752.5 126m0 0L752.6 141m0 0L752.7 121m0 0L752.9 121m0 0L753.0 136m0 0L753.1 136m0 0L753.3 138m0 0L753.4 127m0 0L753.5 141m0 0L753.7 124m0 0L753.8 127m0 0L753.9 122m0 0L754.1 134m0 0L754.2 142m0 0L754.3 131m0 0L754.5 136m0 0L754.6 135m0 0L754.7 123m0 0L754.9 141m0 0L755.0 117m0 0L755.1 129m0 0L755.3 125m0 0L755.4 139m0 0L755.5 115m0 0L755.7 148m0 0L755.8 134m0 0L755.9 122m0 0L756.1 121m0 0L756.2 146m0 0L756.3 146m0 0L756.5 120m0 0L756.6 118m0 0L756.7 126m0 0L756.9 122m0 0L757.0 122m0 0L757.1 119m0 0L757.3 131m0 0L757.4 124m0 0L757.5 133m0 0L757.7 133m0 0L757.8 126m0 0L757.9 138m0 0L758.1 136m0 0L758.2 132m0 0L758.3 140m0 0L758.5 129m0 0L758.6 131m0 0L758.7 134m0 0L758.9 116m0 0L759.0 113m0 0L759.1 144m0 0L759.3 130m0 0L759.4 128m0 0L759.5 126m0 0L759.7 125m0 0L759.8 137m0 0L759.9 119m0 0L760.1 129m0 0L760.2 118m0 0L760.3 134m0 0L760.5 125m0 0L760.6 119m0 0L760.7 132m0 0L760.9 126m0 0L761.0 128m0 0L761.1 137m0 0L761.3 139m0 0L761.4 130m0 0L761.5 120m0 0L761.7 127m0 0L761.8 144m0 0L761.9 111m0 0L762.1 133m0 0L762.2 136m0 0L762.3 145m0 0L762.5 126m0 0L762.6 155m0 0L762.7 124m0 0L762.9 125m0 0L763.0 112m0 0L763.1 116m0 0L763.3 125m0 0L763.4 132m0 0L763.5 132m0 0L763.7 125m0 0L763.8 127m0 0L763.9 127m0 0L764.1 143m0 0L764.2 135m0 0L764.3 133m0 0L764.5 125m0 0L764.6 138m0 0L764.7 124m0 0L764.9 126m0 0L765.0 132m0 0L765.1 123m0 0L765.3 136m0 0L765.4 144m0 0L765.5 119m0 0L765.7 124m0 0L765.8 131m0 0L765.9 121m0 0L766.1 124m0 0L766.2 140m0 0L766.3 135m0 0L766.5 140m0 0L766.6 136m0 0L766.7 124m0 0L766.9 124m0 0L767.0 143m0 0L767.1 128m0 0L767.3 138m0 0L767.4 131m0 0L767.5 135m0 0L767.7 130m0 0L767.8 102m0 0L767.9 129m0 0L768.1 138m0 0L768.2 120m0 0L768.3 132m0 0L768.5 134m0 0L768.6 140m0 0L768.7 140m0 0L768.9 129m0 0L769.0 148m0 0L769.1 140m0 0L769.3 119m0 0L769.4 148m0 0L769.5 138m0 0L769.7 129m0 0L769.8 142m0 0L769.9 122m0 0L770.1 131m0 0L770.2 130m0 0L770.3 135m0 0L770.5 143m0 0L770.6 129m0 0L770.7 134m0 0L770.9 116m0 0L771.0 131m0 0L771.1 123m0 0L771.3 127m0 0L771.4 122m0 0L771.5 121m0 0L771.7 125m0 0L771.8 124m0 0L771.9 137m0 0L772.1 156m0 0L772.2 132m0 0L772.3 123m0 0L772.5 131m0 0L772.6 121m0 0L772.7 134m0 0L772.9 136m0 0L773.0 109m0 0L773.1 136m0 0L773.3 138m0 0L773.4 138m0 0L773.5 149m0 0L773.7 127m0 0L773.8 126m0 0L773.9 127m0 0L774.1 106m0 0L774.2 136m0 0L774.3 129m0 0L774.5 105m0 0L774.6 113m0 0L774.7 126m0 0L774.9 138m0 0L775.0 132m0 0L775.1 138m0 0L775.3 139m0 0L775.4 123m0 0L775.5 131m0 0L775.7 109m0 0L775.8 128m0 0L775.9 136m0 0L776.1 118m0 0L776.2 133m0 0L776.3 138m0 0L776.5 125m0 0L776.6 128m0 0L776.7 129m0 0L776.9 133m0 0L777.0 108m0 0L777.1 127m0 0L777.3 130m0 0L777.4 137m0 0L777.5 124m0 0L777.7 119m0 0L777.8 118m0 0L777.9 118m0 0L778.1 136m0 0L778.2 123m0 0L778.3 134m0 0L778.5 116m0 0L778.6 123m0 0L778.8 132m0 0L778.9 125m0 0L779.0 122m0 0L779.2 144m0 0L779.3 124m0 0L779.4 128m0 0L779.6 135m0 0L779.7 137m0 0L779.8 129m0 0L780.0 113m0 0L780.1 139m0 0L780.2 110m0 0L780.4 129m0 0L780.5 128m0 0L780.6 118m0 0L780.8 134m0 0L780.9 124m0 0L781.0 117m0 0L781.2 139m0 0L781.3 137m0 0L781.4 130m0 0L781.6 139m0 0L781.7 137m0 0L781.8 128m0 0L782.0 131m0 0L782.1 139m0 0L782.2 123m0 0L782.4 126m0 0L782.5 129m0 0L782.6 119m0 0L782.8 141m0 0L782.9 126m0 0L783.0 127m0 0L783.2 138m0 0L783.3 123m0 0L783.4 119m0 0L783.6 134m0 0L783.7 141m0 0L783.8 126m0 0L784.0 137m0 0L784.1 120m0 0L784.2 119m0 0L784.4 125m0 0L784.5 141m0 0L784.6 142m0 0L784.8 128m0 0L784.9 127m0 0L785.0 117m0 0L785.2 140m0 0L785.3 121m0 0L785.4 127m0 0L785.6 127m0 0L785.7 138m0 0L785.8 108m0 0L786.0 109m0 0L786.1 134m0 0L786.2 117m0 0L786.4 108m0 0L786.5 117m0 0L786.6 132m0 0L786.8 106m0 0L786.9 113m0 0L787.0 132m0 0L787.2 144m0 0L787.3 126m0 0L787.4 115m0 0L787.6 135m0 0L787.7 138m0 0L787.8 131m0 0L788.0 117m0 0L788.1 117m0 0L788.2 118m0 0L788.4 119m0 0L788.5 121m0 0L788.6 122m0 0L788.8 128m0 0L788.9 130m0 0L789.0 125m0 0L789.2 126m0 0L789.3 131m0 0L789.4 128m0 0L789.6 123m0 0L789.7 150m0 0L789.8 99m0 0L790.0 144m0 0L790.1 125m0 0L790.2 124m0 0L790.4 144m0 0L790.5 140m0 0L790.6 131m0 0L790.8 141m0 0L790.9 127m0 0L791.0 129m0 0L791.2 134m0 0L791.3 121m0 0L791.4 120m0 0L791.6 138m0 0L791.7 143m0 0L791.8 122m0 0L792.0 125m0 0L792.1 121m0 0L792.2 126m0 0L792.4 130m0 0L792.5 123m0 0L792.6 120m0 0L792.8 111m0 0L792.9 125m0 0L793.0 140m0 0L793.2 108m0 0L793.3 137m0 0L793.4 130m0 0L793.6 123m0 0L793.7 121m0 0L793.8 119m0 0L794.0 133m0 0L794.1 122m0 0L794.2 145m0 0L794.4 119m0 0L794.5 141m0 0L794.6 126m0 0L794.8 117m0 0L794.9 139m0 0L795.0 130m0 0L795.2 119m0 0L795.3 125m0 0L795.4 115m0 0L795.6 119m0 0L795.7 116m0 0L795.8 139m0 0L796.0 136m0 0L796.1 128m0 0L796.2 142m0 0L796.4 122m0 0L796.5 129m0 0L796.6 126m0 0L796.8 128m0 0L796.9 144m0 0L797.0 141m0 0L797.2 126m0 0L797.3 136m0 0L797.4 119m0 0L797.6 136m0 0L797.7 144m0 0L797.8 128m0 0L798.0 120m0 0L798.1 127m0 0L798.2 134m0 0L798.4 110m0 0L798.5 122m0 0L798.6 114m0 0L798.8 117m0 0L798.9 132m0 0L799.0 122m0 0L799.2 126m0 0L799.3 123m0 0L799.4 138m0 0L799.6 133m0 0L799.7 128m0 0L799.8 130m0 0L800.0 130m0 0L800.1 130m0 0L800.2 115m0 0L800.4 125m0 0L800.5 123m0 0L800.6 120m0 0L800.8 114m0 0L800.9 133m0 0L801.0 124m0 0L801.2 131m0 0L801.3 130m0 0L801.4 124m0 0L801.6 133m0 0L801.7 125m0 0L801.8 119m0 0L802.0 135m0 0L802.1 108m0 0L802.2 121m0 0L802.4 122m0 0L802.5 132m0 0L802.6 119m0 0L802.8 137m0 0L802.9 117m0 0L803.0 130m0 0L803.2 112m0 0L803.3 117m0 0L803.4 130m0 0L803.6 134m0 0L803.7 123m0 0L803.8 125m0 0L804.0 132m0 0L804.1 139m0 0L804.2 138m0 0L804.4 118m0 0L804.5 134m0 0L804.6 137m0 0L804.8 127m0 0L804.9 123m0 0L805.0 148m0 0L805.2 118m0 0L805.3 122m0 0L805.4 127m0 0L805.6 131m0 0L805.7 123m0 0L805.8 130m0 0L806.0 102m0 0L806.1 126m0 0L806.2 116m0 0L806.4 123m0 0L806.5 118m0 0L806.6 132m0 0L806.8 142m0 0L806.9 128m0 0L807.0 141m0 0L807.2 142m0 0L807.3 123m0 0L807.4 124m0 0L807.6 124m0 0L807.7 136m0 0L807.8 121m0 0L808.0 135m0 0L808.1 147m0 0L808.2 125m0 0L808.4 136m0 0L808.5 138m0 0L808.6 116m0 0L808.8 128m0 0L808.9 124m0 0L809.0 127m0 0L809.2 118m0 0L809.3 126m0 0L809.4 122m0 0L809.6 142m0 0L809.7 133m0 0L809.8 124m0 0L810.0 127m0 0L810.1 139m0 0L810.2 128m0 0L810.4 130m0 0L810.5 115m0 0L810.6 129m0 0L810.8 127m0 0L810.9 138m0 0L811.0 134m0 0L811.2 140m0 0L811.3 131m0 0L811.4 130m0 0L811.6 125m0 0L811.7 136m0 0L811.8 143m0 0L812.0 121m0 0L812.1 127m0 0L812.2 123m0 0L812.4 147m0 0L812.5 124m0 0L812.6 152m0 0L812.8 124m0 0L812.9 124m0 0L813.0 121m0 0L813.2 127m0 0L813.3 119m0 0L813.5 126m0 0L813.6 133m0 0L813.7 128m0 0L813.9 144m0 0L814.0 122m0 0L814.1 136m0 0L814.3 150m0 0L814.4 125m0 0L814.5 123m0 0L814.7 123m0 0L814.8 137m0 0L814.9 126m0 0L815.1 126m0 0L815.2 138m0 0L815.3 127m0 0L815.5 131m0 0L815.6 125m0 0L815.7 121m0 0L815.9 124m0 0L816.0 125m0 0L816.1 133m0 0L816.3 136m0 0L816.4 142m0 0L816.5 133m0 0L816.7 114m0 0L816.8 129m0 0L816.9 132m0 0L817.1 115m0 0L817.2 131m0 0L817.3 120m0 0L817.5 131m0 0L817.6 133m0 0L817.7 129m0 0L817.9 135m0 0L818.0 123m0 0L818.1 125m0 0L818.3 136m0 0L818.4 144m0 0L818.5 115m0 0L818.7 135m0 0L818.8 131m0 0L818.9 130m0 0L819.1 135m0 0L819.2 121m0 0L819.3 143m0 0L819.5 138m0 0L819.6 133m0 0L819.7 142m0 0L819.9 133m0 0L820.0 115m0 0L820.1 125m0 0L820.3 141m0 0L820.4 136m0 0L820.5 137m0 0L820.7 128m0 0L820.8 120m0 0L820.9 141m0 0L821.1 125m0 0L821.2 130m0 0L821.3 119m0 0L821.5 129m0 0L821.6 120m0 0L821.7 144m0 0L821.9 133m0 0L822.0 132m0 0L822.1 131m0 0L822.3 137m0 0L822.4 127m0 0L822.5 122m0 0L822.7 132m0 0L822.8 125m0 0L822.9 133m0 0L823.1 137m0 0L823.2 128m0 0L823.3 137m0 0L823.5 119m0 0L823.6 132m0 0L823.7 132m0 0L823.9 138m0 0L824.0 140m0 0L824.1 144m0 0L824.3 128m0 0L824.4 71m0 0L824.5 131m0 0L824.7 124m0 0L824.8 122m0 0L824.9 122m0 0L825.1 135m0 0L825.2 130m0 0L825.3 132m0 0L825.5 141m0 0L825.6 124m0 0L825.7 132m0 0L825.9 130m0 0L826.0 138m0 0L826.1 142m0 0L826.3 132m0 0L826.4 128m0 0L826.5 136m0 0L826.7 131m0 0L826.8 114m0 0L826.9 141m0 0L827.1 123m0 0L827.2 116m0 0L827.3 126m0 0L827.5 112m0 0L827.6 139m0 0L827.7 117m0 0L827.9 135m0 0L828.0 133m0 0L828.1 137m0 0L828.3 129m0 0L828.4 142m0 0L828.5 129m0 0L828.7 129m0 0L828.8 121m0 0L828.9 120m0 0L829.1 147m0 0L829.2 131m0 0L829.3 148m0 0L829.5 124m0 0L829.6 132m0 0L829.7 120m0 0L829.9 130m0 0L830.0 139m0 0L830.1 122m0 0L830.3 130m0 0L830.4 126m0 0L830.5 131m0 0L830.7 125m0 0L830.8 122m0 0L830.9 117m0 0L831.1 124m0 0L831.2 116m0 0L831.3 133m0 0L831.5 129m0 0L831.6 126m0 0L831.7 136m0 0L831.9 121m0 0L832.0 128m0 0L832.1 121m0 0L832.3 113m0 0L832.4 128m0 0L832.5 115m0 0L832.7 128m0 0L832.8 112m0 0L832.9 127m0 0L833.1 134m0 0L833.2 144m0 0L833.3 120m0 0L833.5 128m0 0L833.6 111m0 0L833.7 138m0 0L833.9 116m0 0L834.0 128m0 0L834.1 131m0 0L834.3 124m0 0L834.4 122m0 0L834.5 132m0 0L834.7 146m0 0L834.8 124m0 0L834.9 116m0 0L835.1 122m0 0L835.2 142m0 0L835.3 133m0 0L835.5 137m0 0L835.6 128m0 0L835.7 133m0 0L835.9 142m0 0L836.0 138m0 0L836.1 132m0 0L836.3 123m0 0L836.4 121m0 0L836.5 128m0 0L836.7 128m0 0L836.8 124m0 0L836.9 120m0 0L837.1 113m0 0L837.2 124m0 0L837.3 133m0 0L837.5 132m0 0L837.6 134m0 0L837.7 124m0 0L837.9 141m0 0L838.0 127m0 0L838.1 123m0 0L838.3 124m0 0L838.4 135m0 0L838.5 137m0 0L838.7 111m0 0L838.8 119m0 0L838.9 128m0 0L839.1 131m0 0L839.2 134m0 0L839.3 138m0 0L839.5 127m0 0L839.6 132m0 0L839.7 133m0 0L839.9 121m0 0L840.0 144m0 0L840.1 131m0 0L840.3 111m0 0L840.4 129m0 0L840.5 134m0 0L840.7 140m0 0L840.8 128m0 0L840.9 135m0 0L841.1 124m0 0L841.2 139m0 0L841.3 128m0 0L841.5 126m0 0L841.6 121m0 0L841.7 120m0 0L841.9 124m0 0L842.0 132m0 0L842.1 121m0 0L842.3 138m0 0L842.4 129m0 0L842.5 119m0 0L842.7 129m0 0L842.8 112m0 0L842.9 127m0 0L843.1 146m0 0L843.2 129m0 0L843.3 129m0 0L843.5 123m0 0L843.6 123m0 0L843.7 123m0 0L843.9 112m0 0L844.0 131m0 0L844.1 114m0 0L844.3 127m0 0L844.4 128m0 0L844.5 148m0 0L844.7 110m0 0L844.8 140m0 0L844.9 123m0 0L845.1 133m0 0L845.2 123m0 0L845.3 135m0 0L845.5 120m0 0L845.6 123m0 0L845.7 120m0 0L845.9 144m0 0L846.0 110m0 0L846.1 124m0 0L846.3 107m0 0L846.4 137m0 0L846.5 126m0 0L846.7 121m0 0L846.8 145m0 0L846.9 127m0 0L847.1 132m0 0L847.2 124m0 0L847.3 118m0 0L847.5 118m0 0L847.6 139m0 0L847.7 127m0 0L847.9 119m0 0L848.0 140m0 0L848.1 119m0 0L848.3 141m0 0L848.4 111m0 0L848.6 129m0 0L848.7 114m0 0L848.8 128m0 0L849.0 141m0 0L849.1 131m0 0L849.2 131m0 0L849.4 134m0 0L849.5 124m0 0L849.6 128m0 0L849.8 125m0 0L849.9 142m0 0L850.0 126m0 0L850.2 136m0 0L850.3 133m0 0L850.4 121m0 0L850.6 127m0 0L850.7 120m0 0L850.8 134m0 0L851.0 132m0 0L851.1 131m0 0L851.2 140m0 0L851.4 134m0 0L851.5 121m0 0L851.6 117m0 0L851.8 130m0 0L851.9 129m0 0L852.0 119m0 0L852.2 130m0 0L852.3 136m0 0L852.4 121m0 0L852.6 130m0 0L852.7 135m0 0L852.8 152m0 0L853.0 136m0 0L853.1 129m0 0L853.2 136m0 0L853.4 127m0 0L853.5 123m0 0L853.6 119m0 0L853.8 110m0 0L853.9 124m0 0L854.0 144m0 0L854.2 109m0 0L854.3 135m0 0L854.4 119m0 0L854.6 123m0 0L854.7 124m0 0L854.8 124m0 0L855.0 132m0 0L855.1 123m0 0L855.2 130m0 0L855.4 131m0 0L855.5 138m0 0L855.6 133m0 0L855.8 141m0 0L855.9 116m0 0L856.0 126m0 0L856.2 131m0 0L856.3 128m0 0L856.4 130m0 0L856.6 126m0 0L856.7 119m0 0L856.8 134m0 0L857.0 127m0 0L857.1 124m0 0L857.2 150m0 0L857.4 122m0 0L857.5 123m0 0L857.6 134m0 0L857.8 127m0 0L857.9 130m0 0L858.0 113m0 0L858.2 135m0 0L858.3 132m0 0L858.4 131m0 0L858.6 134m0 0L858.7 137m0 0L858.8 129m0 0L859.0 133m0 0L859.1 121m0 0L859.2 126m0 0L859.4 121m0 0L859.5 134m0 0L859.6 131m0 0L859.8 125m0 0L859.9 131m0 0L860.0 127m0 0L860.2 129m0 0L860.3 125m0 0L860.4 153m0 0L860.6 123m0 0L860.7 132m0 0L860.8 129m0 0L861.0 123m0 0L861.1 117m0 0L861.2 117m0 0L861.4 134m0 0L861.5 130m0 0L861.6 121m0 0L861.8 112m0 0L861.9 116m0 0L862.0 137m0 0L862.2 140m0 0L862.3 134m0 0L862.4 129m0 0L862.6 104m0 0L862.7 140m0 0L862.8 131m0 0L863.0 123m0 0L863.1 134m0 0L863.2 141m0 0L863.4 131m0 0L863.5 112m0 0L863.6 129m0 0L863.8 131m0 0L863.9 117m0 0L864.0 126m0 0L864.2 111m0 0L864.3 123m0 0L864.4 134m0 0L864.6 141m0 0L864.7 135m0 0L864.8 121m0 0L865.0 130m0 0L865.1 132m0 0L865.2 135m0 0L865.4 118m0 0L865.5 134m0 0L865.6 137m0 0L865.8 148m0 0L865.9 124m0 0L866.0 121m0 0L866.2 133m0 0L866.3 125m0 0L866.4 134m0 0L866.6 142m0 0L866.7 109m0 0L866.8 137m0 0L867.0 117m0 0L867.1 121m0 0L867.2 133m0 0L867.4 124m0 0L867.5 125m0 0L867.6 119m0 0L867.8 128m0 0L867.9 128m0 0L868.0 121m0 0L868.2 133m0 0L868.3 127m0 0L868.4 117m0 0L868.6 135m0 0L868.7 131m0 0L868.8 130m0 0L869.0 134m0 0L869.1 135m0 0L869.2 118m0 0L869.4 138m0 0L869.5 141m0 0L869.6 129m0 0L869.8 131m0 0L869.9 137m0 0L870.0 130m0 0L870.2 122m0 0L870.3 126m0 0L870.4 133m0 0L870.6 124m0 0L870.7 131m0 0L870.8 119m0 0L871.0 125m0 0L871.1 142m0 0L871.2 130m0 0L871.4 130m0 0L871.5 131m0 0L871.6 121m0 0L871.8 125m0 0L871.9 120m0 0L872.0 124m0 0L872.2 129m0 0L872.3 121m0 0L872.4 129m0 0L872.6 125m0 0L872.7 127m0 0L872.8 128m0 0L873.0 137m0 0L873.1 106m0 0L873.2 147m0 0L873.4 146m0 0L873.5 134m0 0L873.6 116m0 0L873.8 131m0 0L873.9 123m0 0L874.0 129m0 0L874.2 125m0 0L874.3 128m0 0L874.4 125m0 0L874.6 126m0 0L874.7 121m0 0L874.8 123m0 0L875.0 142m0 0L875.1 148m0 0L875.2 114m0 0L875.4 132m0 0L875.5 135m0 0L875.6 141m0 0L875.8 121m0 0L875.9 148m0 0L876.0 122m0 0L876.2 113m0 0L876.3 120m0 0L876.4 128m0 0L876.6 114m0 0L876.7 137m0 0L876.8 107m0 0L877.0 133m0 0L877.1 125m0 0L877.2 143m0 0L877.4 133m0 0L877.5 123m0 0L877.6 108m0 0L877.8 138m0 0L877.9 138m0 0L878.0 125m0 0L878.2 112m0 0L878.3 119m0 0L878.4 129m0 0L878.6 137m0 0L878.7 148m0 0L878.8 128m0 0L879.0 126m0 0L879.1 141m0 0L879.2 120m0 0L879.4 119m0 0L879.5 130m0 0L879.6 127m0 0L879.8 135m0 0L879.9 151m0 0L880.0 144m0 0L880.2 134m0 0L880.3 127m0 0L880.4 103m0 0L880.6 128m0 0L880.7 131m0 0L880.8 151m0 0L881.0 133m0 0L881.1 142m0 0L881.2 128m0 0L881.4 119m0 0L881.5 125m0 0L881.6 148m0 0L881.8 128m0 0L881.9 131m0 0L882.0 151m0 0L882.2 138m0 0L882.3 129m0 0L882.4 120m0 0L882.6 117m0 0L882.7 123m0 0L882.8 139m0 0L883.0 132m0 0L883.1 110m0 0L883.3 123m0 0L883.4 129m0 0L883.5 129m0 0L883.7 122m0 0L883.8 127m0 0L883.9 142m0 0L884.1 133m0 0L884.2 118m0 0L884.3 125m0 0L884.5 136m0 0L884.6 113m0 0L884.7 112m0 0L884.9 135m0 0L885.0 122m0 0L885.1 127m0 0L885.3 134m0 0L885.4 125m0 0L885.5 126m0 0L885.7 125m0 0L885.8 121m0 0L885.9 134m0 0L886.1 142m0 0L886.2 123m0 0L886.3 118m0 0L886.5 130m0 0L886.6 113m0 0L886.7 128m0 0L886.9 129m0 0L887.0 128m0 0L887.1 133m0 0L887.3 137m0 0L887.4 138m0 0L887.5 140m0 0L887.7 127m0 0L887.8 126m0 0L887.9 118m0 0L888.1 130m0 0L888.2 126m0 0L888.3 123m0 0L888.5 118m0 0L888.6 131m0 0L888.7 124m0 0L888.9 139m0 0L889.0 134m0 0L889.1 131m0 0L889.3 138m0 0L889.4 139m0 0L889.5 131m0 0L889.7 118m0 0L889.8 118m0 0L889.9 132m0 0L890.1 124m0 0L890.2 123m0 0L890.3 123m0 0L890.5 135m0 0L890.6 130m0 0L890.7 119m0 0L890.9 145m0 0L891.0 141m0 0L891.1 125m0 0L891.3 112m0 0L891.4 126m0 0L891.5 115m0 0L891.7 146m0 0L891.8 131m0 0L891.9 130m0 0L892.1 124m0 0L892.2 140m0 0L892.3 113m0 0L892.5 134m0 0L892.6 131m0 0L892.7 118m0 0L892.9 119m0 0L893.0 118m0 0L893.1 132m0 0L893.3 113m0 0L893.4 139m0 0L893.5 137m0 0L893.7 139m0 0L893.8 129m0 0L893.9 139m0 0L894.1 122m0 0L894.2 137m0 0L894.3 115m0 0L894.5 124m0 0L894.6 132m0 0L894.7 131m0 0L894.9 135m0 0L895.0 140m0 0L895.1 139m0 0L895.3 127m0 0L895.4 131m0 0L895.5 104m0 0L895.7 128m0 0L895.8 148m0 0L895.9 122m0 0L896.1 129m0 0L896.2 111m0 0L896.3 108m0 0L896.5 120m0 0L896.6 129m0 0L896.7 130m0 0L896.9 126m0 0L897.0 124m0 0L897.1 120m0 0L897.3 130m0 0L897.4 121m0 0L897.5 117m0 0L897.7 115m0 0L897.8 134m0 0L897.9 127m0 0L898.1 119m0 0L898.2 119m0 0L898.3 126m0 0L898.5 114m0 0L898.6 124m0 0L898.7 134m0 0L898.9 127m0 0L899.0 124m0 0L899.1 136m0 0L899.3 120m0 0L899.4 136m0 0L899.5 138m0 0L899.7 120m0 0L899.8 130m0 0L899.9 122m0 0L900.1 131m0 0L900.2 137m0 0L900.3 103m0 0L900.5 130m0 0L900.6 135m0 0L900.7 130m0 0L900.9 126m0 0L901.0 127m0 0L901.1 123m0 0L901.3 134m0 0L901.4 124m0 0L901.5 133m0 0L901.7 139m0 0L901.8 129m0 0L901.9 132m0 0L902.1 131m0 0L902.2 122m0 0L902.3 131m0 0L902.5 135m0 0L902.6 130m0 0L902.7 118m0 0L902.9 131m0 0L903.0 130m0 0L903.1 139m0 0L903.3 111m0 0L903.4 132m0 0L903.5 124m0 0L903.7 125m0 0L903.8 140m0 0L903.9 123m0 0L904.1 137m0 0L904.2 114m0 0L904.3 122m0 0L904.5 118m0 0L904.6 132m0 0L904.7 121m0 0L904.9 127m0 0L905.0 120m0 0L905.1 135m0 0L905.3 118m0 0L905.4 112m0 0L905.5 130m0 0L905.7 129m0 0L905.8 121m0 0L905.9 135m0 0L906.1 134m0 0L906.2 140m0 0L906.3 124m0 0L906.5 117m0 0L906.6 124m0 0L906.7 109m0 0L906.9 140m0 0L907.0 139m0 0L907.1 144m0 0L907.3 145m0 0L907.4 129m0 0L907.5 129m0 0L907.7 133m0 0L907.8 116m0 0L907.9 143m0 0L908.1 133m0 0L908.2 117m0 0L908.3 127m0 0L908.5 133m0 0L908.6 100m0 0L908.7 146m0 0L908.9 131m0 0L909.0 109m0 0L909.1 123m0 0L909.3 144m0 0L909.4 135m0 0L909.5 132m0 0L909.7 128m0 0L909.8 128m0 0L909.9 132m0 0L910.1 148m0 0L910.2 126m0 0L910.3 131m0 0L910.5 106m0 0L910.6 152m0 0L910.7 131m0 0L910.9 123m0 0L911.0 108m0 0L911.1 137m0 0L911.3 119m0 0L911.4 138m0 0L911.5 120m0 0L911.7 126m0 0L911.8 127m0 0L911.9 118m0 0L912.1 137m0 0L912.2 136m0 0L912.3 128m0 0L912.5 116m0 0L912.6 137m0 0L912.7 127m0 0L912.9 138m0 0L913.0 119m0 0L913.1 115m0 0L913.3 128m0 0L913.4 146m0 0L913.5 128m0 0L913.7 134m0 0L913.8 123m0 0L913.9 128m0 0L914.1 134m0 0L914.2 128m0 0L914.3 103m0 0L914.5 127m0 0L914.6 109m0 0L914.7 127m0 0L914.9 141m0 0L915.0 111m0 0L915.1 140m0 0L915.3 138m0 0L915.4 138m0 0L915.5 137m0 0L915.7 135m0 0L915.8 127m0 0L915.9 122m0 0L916.1 126m0 0L916.2 121m0 0L916.3 133m0 0L916.5 122m0 0L916.6 118m0 0L916.7 137m0 0L916.9 132m0 0L917.0 120m0 0L917.1 147m0 0L917.3 129m0 0L917.4 137m0 0L917.5 135m0 0L917.7 123m0 0L917.8 116m0 0L917.9 118m0 0L918.1 137m0 0L918.2 116m0 0L918.4 144m0 0L918.5 124m0 0L918.6 119m0 0L918.8 133m0 0L918.9 121m0 0L919.0 121m0 0L919.2 132m0 0L919.3 120m0 0L919.4 128m0 0L919.6 131m0 0L919.7 114m0 0L919.8 126m0 0L920.0 126m0 0L920.1 132m0 0L920.2 124m0 0L920.4 123m0 0L920.5 139m0 0L920.6 118m0 0L920.8 111m0 0L920.9 113m0 0L921.0 126m0 0L921.2 123m0 0L921.3 127m0 0L921.4 125m0 0L921.6 126m0 0L921.7 112m0 0L921.8 124m0 0L922.0 115m0 0L922.1 118m0 0L922.2 139m0 0L922.4 112m0 0L922.5 131m0 0L922.6 128m0 0L922.8 128m0 0L922.9 141m0 0L923.0 134m0 0L923.2 131m0 0L923.3 131m0 0L923.4 122m0 0L923.6 115m0 0L923.7 139m0 0L923.8 128m0 0L924.0 128m0 0L924.1 129m0 0L924.2 118m0 0L924.4 118m0 0L924.5 133m0 0L924.6 144m0 0L924.8 134m0 0L924.9 134m0 0L925.0 124m0 0L925.2 146m0 0L925.3 122m0 0L925.4 145m0 0L925.6 135m0 0L925.7 127m0 0L925.8 123m0 0L926.0 122m0 0L926.1 119m0 0L926.2 121m0 0L926.4 127m0 0L926.5 148m0 0L926.6 125m0 0L926.8 126m0 0L926.9 113m0 0L927.0 129m0 0L927.2 113m0 0L927.3 112m0 0L927.4 113m0 0L927.6 145m0 0L927.7 121m0 0L927.8 129m0 0L928.0 117m0 0L928.1 114m0 0L928.2 135m0 0L928.4 130m0 0L928.5 117m0 0L928.6 114m0 0L928.8 118m0 0L928.9 122m0 0L929.0 113m0 0L929.2 132m0 0L929.3 124m0 0L929.4 134m0 0L929.6 115m0 0L929.7 133m0 0L929.8 128m0 0L930.0 124m0 0L930.1 131m0 0L930.2 118m0 0L930.4 136m0 0L930.5 131m0 0L930.6 120m0 0L930.8 117m0 0L930.9 117m0 0L931.0 123m0 0L931.2 111m0 0L931.3 127m0 0L931.4 141m0 0L931.6 126m0 0L931.7 138m0 0L931.8 147m0 0L932.0 135m0 0L932.1 124m0 0L932.2 119m0 0L932.4 125m0 0L932.5 130m0 0L932.6 124m0 0L932.8 131m0 0L932.9 143m0 0L933.0 118m0 0L933.2 140m0 0L933.3 127m0 0L933.4 101m0 0L933.6 110m0 0L933.7 130m0 0L933.8 110m0 0L934.0 137m0 0L934.1 141m0 0L934.2 127m0 0L934.4 120m0 0L934.5 137m0 0L934.6 142m0 0L934.8 140m0 0L934.9 124m0 0L935.0 134m0 0L935.2 128m0 0L935.3 123m0 0L935.4 138m0 0L935.6 126m0 0L935.7 119m0 0L935.8 124m0 0L936.0 121m0 0L936.1 125m0 0L936.2 122m0 0L936.4 136m0 0L936.5 132m0 0L936.6 108m0 0L936.8 116m0 0L936.9 140m0 0L937.0 140m0 0L937.2 141m0 0L937.3 128m0 0L937.4 129m0 0L937.6 124m0 0L937.7 133m0 0L937.8 142m0 0L938.0 140m0 0L938.1 122m0 0L938.2 122m0 0L938.4 124m0 0L938.5 139m0 0L938.6 121m0 0L938.8 127m0 0L938.9 123m0 0L939.0 122m0 0L939.2 129m0 0L939.3 126m0 0L939.4 134m0 0L939.6 130m0 0L939.7 136m0 0L939.8 121m0 0L940.0 134m0 0L940.1 128m0 0L940.2 120m0 0L940.4 140m0 0L940.5 137m0 0L940.6 120m0 0L940.8 118m0 0L940.9 117m0 0L941.0 122m0 0L941.2 136m0 0L941.3 117m0 0L941.4 137m0 0L941.6 126m0 0L941.7 129m0 0L941.8 145m0 0L942.0 131m0 0L942.1 130m0 0L942.2 129m0 0L942.4 124m0 0L942.5 147m0 0L942.6 127m0 0L942.8 130m0 0L942.9 133m0 0L943.0 122m0 0L943.2 139m0 0L943.3 113m0 0L943.4 141m0 0L943.6 129m0 0L943.7 127m0 0L943.8 128m0 0L944.0 153m0 0L944.1 119m0 0L944.2 145m0 0L944.4 127m0 0L944.5 131m0 0L944.6 126m0 0L944.8 117m0 0L944.9 134m0 0L945.0 124m0 0L945.2 119m0 0L945.3 121m0 0L945.4 139m0 0L945.6 119m0 0L945.7 132m0 0L945.8 134m0 0L946.0 142m0 0L946.1 129m0 0L946.2 129m0 0L946.4 130m0 0L946.5 130m0 0L946.6 117m0 0L946.8 114m0 0L946.9 119m0 0L947.0 132m0 0L947.2 121m0 0L947.3 139m0 0L947.4 127m0 0L947.6 106m0 0L947.7 135m0 0L947.8 133m0 0L948.0 124m0 0L948.1 119m0 0L948.2 131m0 0L948.4 138m0 0L948.5 133m0 0L948.6 135m0 0L948.8 137m0 0L948.9 118m0 0L949.0 111m0 0L949.2 139m0 0L949.3 126m0 0L949.4 135m0 0L949.6 123m0 0L949.7 123m0 0L949.8 138m0 0L950.0 121m0 0L950.1 132m0 0L950.2 112m0 0L950.4 133m0 0L950.5 122m0 0L950.6 132m0 0L950.8 140m0 0L950.9 119m0 0L951.0 134m0 0L951.2 139m0 0L951.3 137m0 0L951.4 119m0 0L951.6 118m0 0L951.7 121m0 0L951.8 129m0 0L952.0 137m0 0L952.1 140m0 0L952.2 128m0 0L952.4 114m0 0L952.5 113m0 0L952.6 126m0 0L952.8 127m0 0L952.9 114m0 0L953.1 129m0 0L953.2 126m0 0L953.3 126m0 0L953.5 122m0 0L953.6 128m0 0L953.7 130m0 0L953.9 130m0 0L954.0 126m0 0L954.1 123m0 0L954.3 128m0 0L954.4 149m0 0L954.5 132m0 0L954.7 139m0 0L954.8 121m0 0L954.9 122m0 0L955.1 126m0 0L955.2 125m0 0L955.3 132m0 0L955.5 134m0 0L955.6 125m0 0L955.7 108m0 0L955.9 123m0 0L956.0 135m0 0L956.1 135m0 0L956.3 127m0 0L956.4 123m0 0L956.5 129m0 0L956.7 123m0 0L956.8 121m0 0L956.9 121m0 0L957.1 112m0 0L957.2 117m0 0L957.3 130m0 0L957.5 128m0 0L957.6 117m0 0L957.7 110m0 0L957.9 139m0 0L958.0 136m0 0L958.1 131m0 0L958.3 131m0 0L958.4 132m0 0L958.5 136m0 0L958.7 123m0 0L958.8 127m0 0L958.9 131m0 0L959.1 135m0 0L959.2 138m0 0L959.3 119m0 0L959.5 109m0 0L959.6 124m0 0L959.7 105m0 0L959.9 123m0 0L960.0 124m0 0L960.1 134m0 0L960.3 124m0 0L960.4 131m0 0L960.5 144m0 0L960.7 129m0 0L960.8 133m0 0L960.9 137m0 0L961.1 121m0 0L961.2 138m0 0L961.3 126m0 0L961.5 134m0 0L961.6 141m0 0L961.7 134m0 0L961.9 134m0 0L962.0 138m0 0L962.1 137m0 0L962.3 124m0 0L962.4 119m0 0L962.5 133m0 0L962.7 123m0 0L962.8 106m0 0L962.9 122m0 0L963.1 121m0 0L963.2 124m0 0L963.3 131m0 0L963.5 116m0 0L963.6 113m0 0L963.7 123m0 0L963.9 130m0 0L964.0 141m0 0L964.1 126m0 0L964.3 116m0 0L964.4 93m0 0L964.5 117m0 0L964.7 139m0 0L964.8 133m0 0L964.9 114m0 0L965.1 133m0 0L965.2 130m0 0L965.3 146m0 0L965.5 143m0 0L965.6 141m0 0L965.7 136m0 0L965.9 135m0 0L966.0 115m0 0L966.1 136m0 0L966.3 146m0 0L966.4 134m0 0L966.5 123m0 0L966.7 136m0 0L966.8 112m0 0L966.9 126m0 0L967.1 127m0 0L967.2 119m0 0L967.3 122m0 0L967.5 141m0 0L967.6 121m0 0L967.7 131m0 0L967.9 119m0 0L968.0 118m0 0L968.1 117m0 0L968.3 124m0 0L968.4 121m0 0L968.5 132m0 0L968.7 136m0 0L968.8 141m0 0L968.9 127m0 0L969.1 135m0 0L969.2 128m0 0L969.3 144m0 0L969.5 128m0 0L969.6 132m0 0L969.7 129m0 0L969.9 123m0 0L970.0 126m0 0L970.1 127m0 0L970.3 134m0 0L970.4 119m0 0L970.4 465m0 0" fill="none" stroke="#ff5555" stroke-width="1" stroke-dasharray="3,5" shape-rendering="crispEdges"/></g><defs><clipPath id="clip"><rect x="63" y="28" width="953" height="656"/></clipPath></defs>
<path d="M63 27.5H1016.5V684" stroke="#b8b8b8" stroke-width="1" fill="none"/>
<path d="M63.5 28V684.5H1016" stroke="#808080" stroke-width="1" fill="none"/>
<path d="M61 684.00H63 M61 659.70H63 M61 635.41H63 M61 611.11H63 M61 586.81H63 M61 562.52H63 M61 538.22H63 M61 513.93H63 M61 489.63H63 M61 465.33H63 M61 441.04H63 M61 416.74H63 M61 392.44H63 M61 368.15H63 M61 343.85H63 M61 319.56H63 M61 295.26H63 M61 270.96H63 M61 246.67H63 M61 222.37H63 M61 198.07H63 M61 173.78H63 M61 149.48H63 M61 125.19H63 M61 100.89H63 M61 76.59H63 M61 52.30H63 M61 28.00H63 M63.00 684V687 M138.62 684V687 M214.23 684V687 M289.85 684V687 M365.47 684V687 M441.08 684V687 M516.70 684V687 M592.32 684V687 M667.93 684V687 M743.55 684V687 M819.17 684V687 M894.78 684V687 M970.40 684V687" stroke="#808080" stroke-width="1" fill="none"/>
<text x="57.4" y="687.70" font-size="10.15" text-anchor="end" textLength="6.01" lengthAdjust="spacingAndGlyphs" fill="#000">0</text>
<text x="57.4" y="663.40" font-size="10.15" text-anchor="end" textLength="12.02" lengthAdjust="spacingAndGlyphs" fill="#000">50</text>
<text x="57.4" y="639.11" font-size="10.15" text-anchor="end" textLength="18.04" lengthAdjust="spacingAndGlyphs" fill="#000">100</text>
<text x="57.4" y="614.81" font-size="10.15" text-anchor="end" textLength="18.04" lengthAdjust="spacingAndGlyphs" fill="#000">150</text>
<text x="57.4" y="590.51" font-size="10.15" text-anchor="end" textLength="18.04" lengthAdjust="spacingAndGlyphs" fill="#000">200</text>
<text x="57.4" y="566.22" font-size="10.15" text-anchor="end" textLength="18.04" lengthAdjust="spacingAndGlyphs" fill="#000">250</text>
<text x="57.4" y="541.92" font-size="10.15" text-anchor="end" textLength="18.04" lengthAdjust="spacingAndGlyphs" fill="#000">300</text>
<text x="57.4" y="517.63" font-size="10.15" text-anchor="end" textLength="18.04" lengthAdjust="spacingAndGlyphs" fill="#000">350</text>
<text x="57.4" y="493.33" font-size="10.15" text-anchor="end" textLength="18.04" lengthAdjust="spacingAndGlyphs" fill="#000">400</text>
<text x="57.4" y="469.03" font-size="10.15" text-anchor="end" textLength="18.04" lengthAdjust="spacingAndGlyphs" fill="#000">450</text>
<text x="57.4" y="444.74" font-size="10.15" text-anchor="end" textLength="18.04" lengthAdjust="spacingAndGlyphs" fill="#000">500</text>
<text x="57.4" y="420.44" font-size="10.15" text-anchor="end" textLength="18.04" lengthAdjust="spacingAndGlyphs" fill="#000">550</text>
<text x="57.4" y="396.14" font-size="10.15" text-anchor="end" textLength="18.04" lengthAdjust="spacingAndGlyphs" fill="#000">600</text>
<text x="57.4" y="371.85" font-size="10.15" text-anchor="end" textLength="18.04" lengthAdjust="spacingAndGlyphs" fill="#000">650</text>
<text x="57.4" y="347.55" font-size="10.15" text-anchor="end" textLength="18.04" lengthAdjust="spacingAndGlyphs" fill="#000">700</text>
<text x="57.4" y="323.26" font-size="10.15" text-anchor="end" textLength="18.04" lengthAdjust="spacingAndGlyphs" fill="#000">750</text>
<text x="57.4" y="298.96" font-size="10.15" text-anchor="end" textLength="18.04" lengthAdjust="spacingAndGlyphs" fill="#000">800</text>
<text x="57.4" y="274.66" font-size="10.15" text-anchor="end" textLength="18.04" lengthAdjust="spacingAndGlyphs" fill="#000">850</text>
<text x="57.4" y="250.37" font-size="10.15" text-anchor="end" textLength="18.04" lengthAdjust="spacingAndGlyphs" fill="#000">900</text>
<text x="57.4" y="226.07" font-size="10.15" text-anchor="end" textLength="18.04" lengthAdjust="spacingAndGlyphs" fill="#000">950</text>
<text x="57.4" y="201.77" font-size="10.15" text-anchor="end" textLength="27.05" lengthAdjust="spacingAndGlyphs" fill="#000">1,000</text>
<text x="57.4" y="177.48" font-size="10.15" text-anchor="end" textLength="27.05" lengthAdjust="spacingAndGlyphs" fill="#000">1,050</text>
<text x="57.4" y="153.18" font-size="10.15" text-anchor="end" textLength="27.05" lengthAdjust="spacingAndGlyphs" fill="#000">1,100</text>
<text x="57.4" y="128.89" font-size="10.15" text-anchor="end" textLength="27.05" lengthAdjust="spacingAndGlyphs" fill="#000">1,150</text>
<text x="57.4" y="104.59" font-size="10.15" text-anchor="end" textLength="27.05" lengthAdjust="spacingAndGlyphs" fill="#000">1,200</text>
<text x="57.4" y="80.29" font-size="10.15" text-anchor="end" textLength="27.05" lengthAdjust="spacingAndGlyphs" fill="#000">1,250</text>
<text x="57.4" y="56.00" font-size="10.15" text-anchor="end" textLength="27.05" lengthAdjust="spacingAndGlyphs" fill="#000">1,300</text>
<text x="57.4" y="31.70" font-size="10.15" text-anchor="end" textLength="27.05" lengthAdjust="spacingAndGlyphs" fill="#000">1,350</text>
<text x="63.20" y="697" font-size="10.3" text-anchor="middle" textLength="6.17" lengthAdjust="spacingAndGlyphs" fill="#000">0</text>
<text x="138.82" y="697" font-size="10.3" text-anchor="middle" textLength="17.40" lengthAdjust="spacingAndGlyphs" fill="#000">25s</text>
<text x="214.43" y="697" font-size="10.3" text-anchor="middle" textLength="17.40" lengthAdjust="spacingAndGlyphs" fill="#000">50s</text>
<text x="290.05" y="697" font-size="10.3" text-anchor="middle" textLength="33.02" lengthAdjust="spacingAndGlyphs" fill="#000">1m15s</text>
<text x="365.67" y="697" font-size="10.3" text-anchor="middle" textLength="33.02" lengthAdjust="spacingAndGlyphs" fill="#000">1m40s</text>
<text x="441.28" y="697" font-size="10.3" text-anchor="middle" textLength="26.85" lengthAdjust="spacingAndGlyphs" fill="#000">2m5s</text>
<text x="516.90" y="697" font-size="10.3" text-anchor="middle" textLength="33.02" lengthAdjust="spacingAndGlyphs" fill="#000">2m30s</text>
<text x="592.52" y="697" font-size="10.3" text-anchor="middle" textLength="33.02" lengthAdjust="spacingAndGlyphs" fill="#000">2m55s</text>
<text x="668.13" y="697" font-size="10.3" text-anchor="middle" textLength="33.02" lengthAdjust="spacingAndGlyphs" fill="#000">3m20s</text>
<text x="743.75" y="697" font-size="10.3" text-anchor="middle" textLength="33.02" lengthAdjust="spacingAndGlyphs" fill="#000">3m45s</text>
<text x="819.37" y="697" font-size="10.3" text-anchor="middle" textLength="33.02" lengthAdjust="spacingAndGlyphs" fill="#000">4m10s</text>
<text x="894.98" y="697" font-size="10.3" text-anchor="middle" textLength="33.02" lengthAdjust="spacingAndGlyphs" fill="#000">4m35s</text>
<text x="970.60" y="697" font-size="10.3" text-anchor="middle" textLength="15.62" lengthAdjust="spacingAndGlyphs" fill="#000">5m</text>
<text x="539.2" y="713.7" font-size="12.6" text-anchor="middle" textLength="68" lengthAdjust="spacingAndGlyphs" fill="#000">Time spent</text>
<text transform="translate(22,465) rotate(-90)" x="0" y="0" font-size="12.6" textLength="186.5" lengthAdjust="spacingAndGlyphs" fill="#000">Accepted/selected moves per step</text>
<rect x="1.5" y="725.5" width="1021" height="41" fill="#ffffff" stroke="#000" stroke-width="1"/>
<path d="M5 736.5H20" stroke="#ff5555" stroke-width="1"/>
<path d="M171 736.5H183" stroke="#ff5555" stroke-width="1" stroke-dasharray="3,5"/>
<path d="M332 736.5H347" stroke="#5555ff" stroke-width="2"/>
<path d="M607.8 736.5H620" stroke="#5555ff" stroke-width="2" stroke-dasharray="3.5,4.5"/>
<path d="M5 756.5H20" stroke="#55ff55" stroke-width="1"/>
<path d="M197 756.5H210" stroke="#55ff55" stroke-width="1" stroke-dasharray="3,5"/>
<text x="23" y="740.2" font-size="12.6" textLength="141.6" lengthAdjust="spacingAndGlyphs" fill="#000">Tabu Search accepted</text>
<text x="189" y="740.2" font-size="12.6" textLength="136.2" lengthAdjust="spacingAndGlyphs" fill="#000">Tabu Search selected</text>
<text x="349.8" y="740.2" font-size="12.6" textLength="252.6" lengthAdjust="spacingAndGlyphs" fill="#000">Simulated Annealing (favorite) accepted</text>
<text x="625.8" y="740.2" font-size="12.6" textLength="247.6" lengthAdjust="spacingAndGlyphs" fill="#000">Simulated Annealing (favorite) selected</text>
<text x="22.2" y="760.2" font-size="12.6" textLength="168.6" lengthAdjust="spacingAndGlyphs" fill="#000">Late acceptance accepted</text>
<text x="214.4" y="760.2" font-size="12.6" textLength="163.4" lengthAdjust="spacingAndGlyphs" fill="#000">Late acceptance selected</text>
</svg></body></html>
